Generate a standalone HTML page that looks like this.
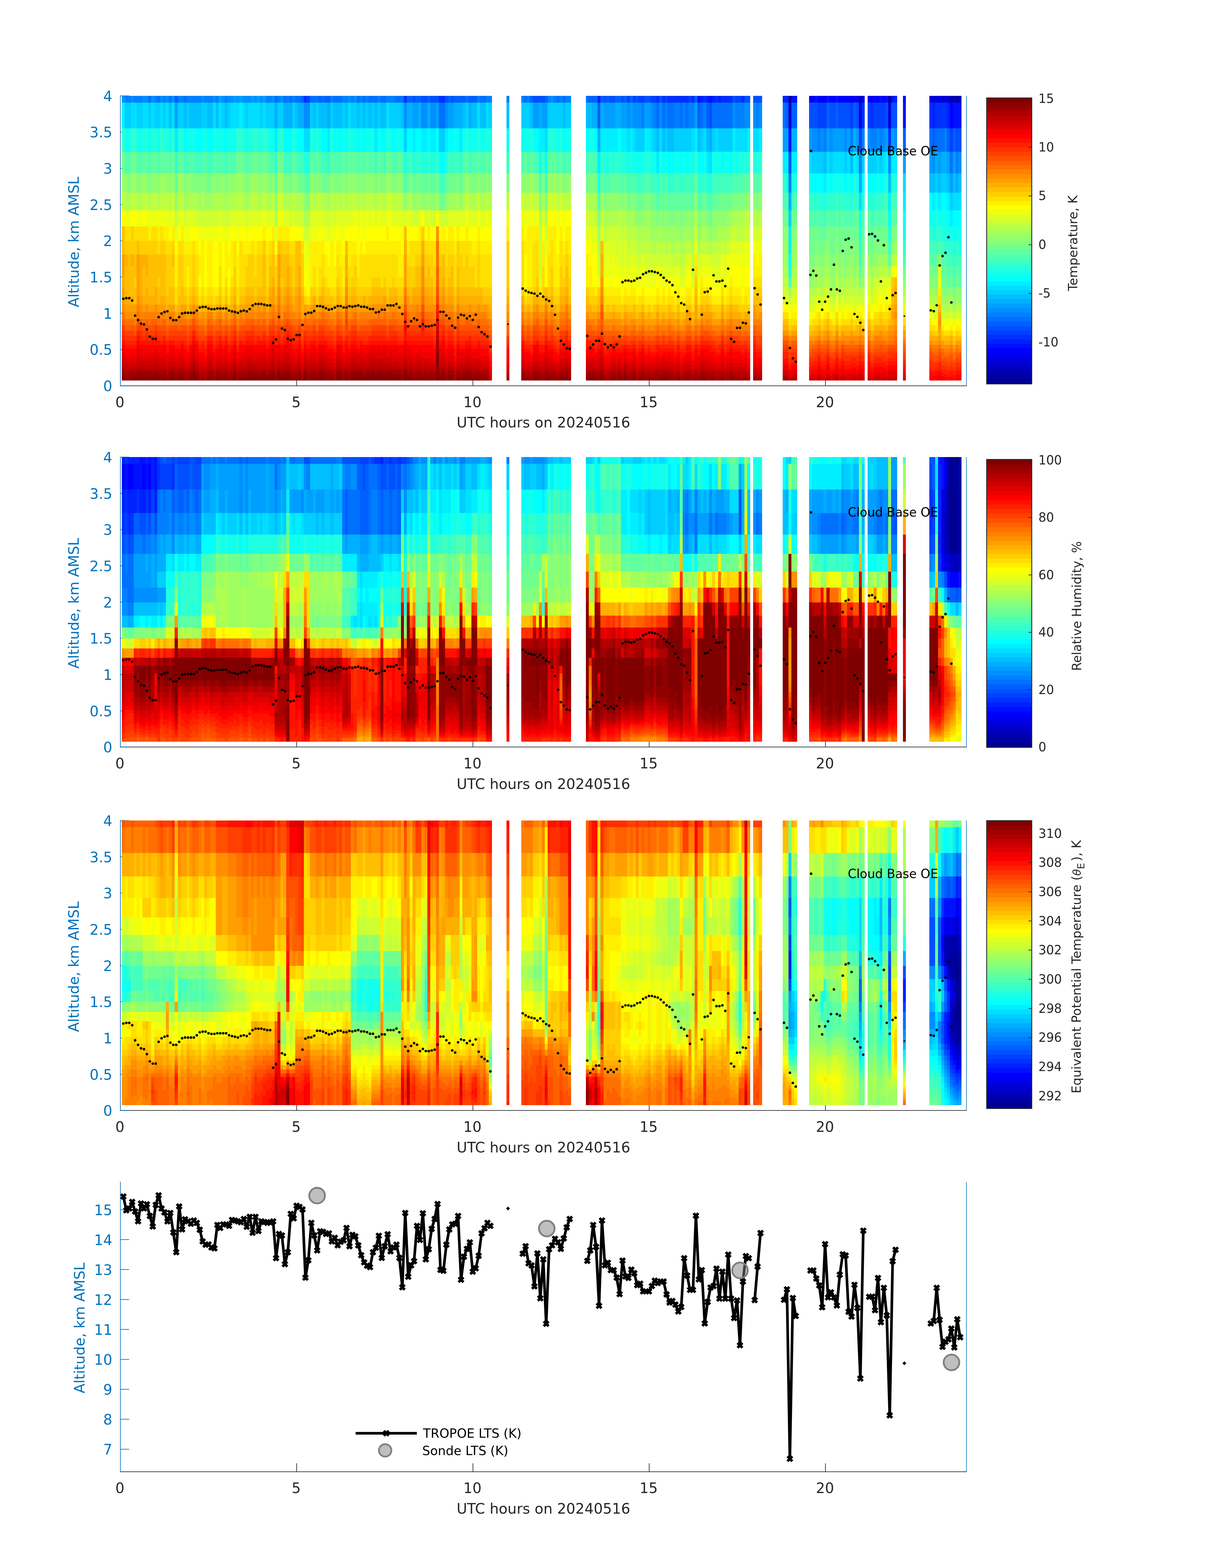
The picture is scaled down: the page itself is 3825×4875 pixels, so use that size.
<!DOCTYPE html>
<html lang="en"><head><meta charset="utf-8"><title>TROPoe 20240516</title>
<style>html,body{margin:0;padding:0;background:#fff}
svg{display:block}
text{font-family:'DejaVu Sans','Liberation Sans',sans-serif}
.j0{stroke:#00008f}
.j1{stroke:#00009f}
.j2{stroke:#0000af}
.j3{stroke:#0000bf}
.j4{stroke:#0000cf}
.j5{stroke:#0000df}
.j6{stroke:#0000ef}
.j7{stroke:#0000ff}
.j8{stroke:#0010ff}
.j9{stroke:#0020ff}
.j10{stroke:#0030ff}
.j11{stroke:#0040ff}
.j12{stroke:#0050ff}
.j13{stroke:#0060ff}
.j14{stroke:#0070ff}
.j15{stroke:#0080ff}
.j16{stroke:#008fff}
.j17{stroke:#009fff}
.j18{stroke:#00afff}
.j19{stroke:#00bfff}
.j20{stroke:#00cfff}
.j21{stroke:#00dfff}
.j22{stroke:#00efff}
.j23{stroke:#00ffff}
.j24{stroke:#10ffef}
.j25{stroke:#20ffdf}
.j26{stroke:#30ffcf}
.j27{stroke:#40ffbf}
.j28{stroke:#50ffaf}
.j29{stroke:#60ff9f}
.j30{stroke:#70ff8f}
.j31{stroke:#80ff80}
.j32{stroke:#8fff70}
.j33{stroke:#9fff60}
.j34{stroke:#afff50}
.j35{stroke:#bfff40}
.j36{stroke:#cfff30}
.j37{stroke:#dfff20}
.j38{stroke:#efff10}
.j39{stroke:#ffff00}
.j40{stroke:#ffef00}
.j41{stroke:#ffdf00}
.j42{stroke:#ffcf00}
.j43{stroke:#ffbf00}
.j44{stroke:#ffaf00}
.j45{stroke:#ff9f00}
.j46{stroke:#ff8f00}
.j47{stroke:#ff8000}
.j48{stroke:#ff7000}
.j49{stroke:#ff6000}
.j50{stroke:#ff5000}
.j51{stroke:#ff4000}
.j52{stroke:#ff3000}
.j53{stroke:#ff2000}
.j54{stroke:#ff1000}
.j55{stroke:#ff0000}
.j56{stroke:#ef0000}
.j57{stroke:#df0000}
.j58{stroke:#cf0000}
.j59{stroke:#bf0000}
.j60{stroke:#af0000}
.j61{stroke:#9f0000}
.j62{stroke:#8f0000}
.j63{stroke:#800000}</style></head><body>
<svg xmlns="http://www.w3.org/2000/svg" width="3825" height="4875" viewBox="0 0 3825 4875">
<rect width="3825" height="4875" fill="#fff"/>
<g id="panel1">
<g stroke="#262626" stroke-width="2" fill="none">
<path d="M373.4 1199.4H3006.4"/>
<path d="M922.52 1199.4v-26.3M1470.65 1199.4v-26.3M2018.78 1199.4v-26.3M2566.9 1199.4v-26.3"/>
</g>
<g stroke="#0072bd" stroke-width="2" fill="none">
<path d="M374.4 297.6V1200.4"/>
<path stroke-width="1.8" d="M3005.4 298.1V1200.4"/>
<path d="M374.4 1199.4h27.3M374.4 1086.74h27.3M374.4 974.08h27.3M374.4 861.41h27.3M374.4 748.75h27.3M374.4 636.09h27.3M374.4 523.43h27.3M374.4 410.76h27.3M374.4 298.1h27.3"/>
</g>
<g transform="translate(379.15,0) scale(9.1305,1)" shape-rendering="crispEdges" fill="none" stroke-width="1">
<g transform="translate(0,1181.4) scale(1,3.2)">
<path class="j55" d="M281 0h1m1 0h1"/>
<path class="j56" d="M275 0h3m1 0h2m1 0h1m1 0h2"/>
<path class="j57" d="M278 0h1"/>
<path class="j58" d="M234 0h3m1 0h2m1 0h1m2 0h1m1 0h2m7 0h1m2 0h1m1 0h1"/>
<path class="j59" d="M125 0h1m101 0h1m14 0h1m2 0h1m2 0h5m3 0h2m1 0h1m2 0h2m2 0h1"/>
<path class="j60" d="M228 0h2m7 0h1m2 0h1m2 0h1m10 0h1m6 0h1"/>
<path class="j61" d="M113 0h1m17 0h1m33 0h1m9 0h1m14 0h1m11 0h1m10 0h1m2 0h2m8 0h1"/>
<path class="j62" d="M15 0h1m2 0h1m2 0h2m3 0h3m2 0h1m4 0h1m2 0h1m21 0h1m1 0h1m8 0h1m26 0h1m6 0h1m3 0h1m11 0h2m13 0h3m3 0h1m3 0h2m15 0h1m1 0h1m1 0h1m1 0h1m1 0h1m5 0h1m1 0h2m5 0h2m2 0h1m1 0h2m1 0h1m2 0h3m1 0h1m1 0h2m1 0h5m2 0h1m9 0h1"/>
<path class="j63" d="M0 0h15m1 0h2m1 0h2m2 0h3m3 0h2m1 0h4m1 0h2m1 0h21m1 0h1m1 0h8m1 0h26m1 0h6m1 0h3m1 0h2m1 0h8m2 0h1m11 0h1m3 0h3m1 0h3m2 0h4m5 0h6m3 0h1m1 0h1m1 0h1m1 0h2m1 0h2m1 0h1m2 0h5m2 0h1m2 0h1m2 0h1m1 0h2m5 0h1m2 0h1"/>
</g>
<g transform="translate(0,1178.61) scale(1,2.366)">
<path class="j55" d="M276 0h1m3 0h4"/>
<path class="j56" d="M275 0h1m1 0h3m4 0h2"/>
<path class="j57" d="M241 0h1m13 0h1"/>
<path class="j58" d="M234 0h3m1 0h2m2 0h1m1 0h1m1 0h3m1 0h1m7 0h1m1 0h1m5 0h1"/>
<path class="j59" d="M125 0h1m101 0h1m1 0h1m7 0h1m2 0h1m4 0h1m3 0h1m1 0h2m1 0h1m1 0h2m1 0h1m1 0h3"/>
<path class="j60" d="M216 0h1m11 0h1m14 0h1"/>
<path class="j61" d="M26 0h1m1 0h1m32 0h1m10 0h1m40 0h1m17 0h1m7 0h1m24 0h2m9 0h1m14 0h1m11 0h2m1 0h2m2 0h2m2 0h1m3 0h1m7 0h2"/>
<path class="j62" d="M1 0h2m10 0h1m1 0h1m2 0h1m2 0h2m4 0h1m3 0h1m2 0h1m1 0h2m1 0h1m12 0h1m5 0h2m3 0h1m6 0h1m4 0h1m1 0h1m17 0h1m3 0h1m2 0h1m1 0h1m1 0h1m3 0h1m8 0h1m2 0h3m12 0h2m3 0h2m2 0h3m9 0h1m2 0h2m3 0h1m1 0h1m1 0h1m1 0h2m2 0h1m1 0h6m2 0h3m2 0h6m2 0h3m2 0h1m2 0h2m2 0h2m2 0h1"/>
<path class="j63" d="M0 0h1m2 0h10m1 0h1m1 0h2m1 0h2m2 0h3m3 0h2m1 0h2m1 0h1m2 0h1m1 0h12m1 0h5m2 0h1m1 0h1m1 0h6m1 0h1m1 0h2m1 0h1m1 0h17m1 0h3m1 0h2m1 0h1m1 0h1m1 0h3m1 0h2m1 0h5m1 0h2m14 0h1m3 0h2m2 0h2m3 0h4m6 0h2m2 0h1m3 0h1m1 0h1m1 0h1m2 0h1m2 0h1m6 0h2m3 0h1m7 0h2"/>
</g>
<g transform="translate(0,1176.13) scale(1,2.603)">
<path class="j55" d="M276 0h1m2 0h6"/>
<path class="j56" d="M275 0h1m1 0h2m6 0h1"/>
<path class="j57" d="M234 0h2m3 0h1m1 0h1m13 0h1"/>
<path class="j58" d="M125 0h1m101 0h1m8 0h1m1 0h1m3 0h1m1 0h7m1 0h1m3 0h5m2 0h1m2 0h1"/>
<path class="j59" d="M228 0h2m7 0h1m2 0h1m2 0h1m7 0h1m2 0h1m6 0h2"/>
<path class="j60" d="M131 0h1m81 0h1m2 0h1m9 0h1"/>
<path class="j61" d="M22 0h1m3 0h1m1 0h1m2 0h1m7 0h1m21 0h1m10 0h1m37 0h1m2 0h1m24 0h2m3 0h1m4 0h1m15 0h2m4 0h1m1 0h1m2 0h1m2 0h1m1 0h1m7 0h1m1 0h2m2 0h1m1 0h1m2 0h2m1 0h2m1 0h2m1 0h5m2 0h1m1 0h1m7 0h1"/>
<path class="j62" d="M1 0h4m2 0h1m1 0h2m2 0h1m1 0h1m2 0h2m1 0h1m1 0h1m1 0h1m1 0h1m1 0h2m2 0h5m2 0h3m3 0h1m2 0h1m2 0h1m1 0h1m2 0h3m3 0h1m2 0h1m2 0h3m3 0h1m1 0h1m4 0h1m12 0h1m1 0h1m1 0h2m1 0h5m1 0h1m6 0h2m2 0h6m12 0h1m3 0h2m2 0h3m1 0h2m1 0h1m5 0h1m2 0h2m3 0h3m4 0h1m2 0h2m1 0h1m1 0h3m1 0h3m1 0h1m2 0h2m1 0h1m2 0h1m2 0h1m2 0h1m2 0h1"/>
<path class="j63" d="M0 0h1m4 0h2m1 0h1m2 0h2m1 0h1m1 0h2m2 0h1m3 0h1m7 0h1m5 0h1m4 0h3m1 0h2m1 0h2m1 0h1m1 0h2m3 0h1m1 0h1m1 0h2m1 0h2m4 0h2m1 0h1m1 0h4m1 0h12m1 0h1m1 0h1m2 0h1m5 0h1m1 0h1m1 0h2m1 0h1m2 0h2m17 0h1m3 0h1m3 0h1m6 0h1m7 0h2m2 0h1m5 0h1m1 0h1m2 0h1m9 0h1m12 0h1"/>
</g>
<g transform="translate(0,1173.4) scale(1,2.863)">
<path class="j54" d="M281 0h1m1 0h1"/>
<path class="j55" d="M275 0h3m1 0h2m1 0h1m1 0h2"/>
<path class="j56" d="M278 0h1"/>
<path class="j57" d="M234 0h3m1 0h2m1 0h1m2 0h1m1 0h2m2 0h1m4 0h1m2 0h1m1 0h1"/>
<path class="j58" d="M125 0h1m101 0h1m12 0h1m1 0h1m2 0h1m2 0h2m1 0h2m1 0h1m1 0h2m1 0h1m1 0h3m2 0h1"/>
<path class="j59" d="M228 0h2m7 0h1m5 0h1"/>
<path class="j60" d="M26 0h1m86 0h1m17 0h1m32 0h2m9 0h1m14 0h1m11 0h1m2 0h1m3 0h1m3 0h1m2 0h2m7 0h2"/>
<path class="j61" d="M2 0h1m12 0h1m2 0h1m2 0h2m4 0h2m2 0h1m4 0h1m2 0h1m19 0h1m1 0h1m1 0h1m8 0h1m2 0h1m23 0h1m6 0h1m3 0h1m11 0h2m13 0h3m3 0h1m3 0h2m17 0h1m1 0h1m1 0h1m1 0h2m2 0h1m1 0h6m3 0h2m2 0h1m1 0h4m2 0h3m1 0h1m2 0h1m1 0h1m1 0h3m2 0h1"/>
<path class="j62" d="M1 0h1m1 0h2m1 0h5m1 0h3m1 0h1m2 0h2m2 0h1m1 0h1m3 0h2m1 0h4m1 0h1m2 0h3m1 0h4m1 0h2m1 0h1m1 0h1m2 0h2m1 0h1m3 0h3m1 0h4m4 0h2m4 0h1m3 0h1m5 0h1m1 0h2m1 0h1m2 0h6m2 0h1m3 0h1m2 0h2m2 0h3m2 0h1m11 0h1m3 0h3m1 0h3m2 0h4m5 0h5m4 0h1m1 0h1m1 0h1m2 0h1m2 0h1m6 0h3m2 0h1m2 0h1m4 0h2m5 0h1m2 0h1"/>
<path class="j63" d="M0 0h1m4 0h1m5 0h1m5 0h1m6 0h1m13 0h1m4 0h1m4 0h1m2 0h1m1 0h1m1 0h2m5 0h1m4 0h1m5 0h2m3 0h4m1 0h3m1 0h5m1 0h1m2 0h1m1 0h1m8 0h1m1 0h1m1 0h1m2 0h1m2 0h2m44 0h1"/>
</g>
<g transform="translate(0,1170.39) scale(1,3.149)">
<path class="j54" d="M280 0h4"/>
<path class="j55" d="M275 0h3m1 0h1m4 0h2"/>
<path class="j56" d="M239 0h1m1 0h1m13 0h1m22 0h1"/>
<path class="j57" d="M227 0h1m6 0h3m1 0h1m3 0h1m1 0h1m1 0h3m1 0h1m1 0h1m3 0h1m1 0h3m5 0h1"/>
<path class="j58" d="M125 0h1m102 0h2m7 0h1m2 0h1m2 0h1m1 0h1m3 0h1m1 0h1m2 0h1m2 0h1m3 0h3"/>
<path class="j59" d="M213 0h1m2 0h1m9 0h1"/>
<path class="j60" d="M26 0h1m1 0h1m32 0h1m10 0h1m40 0h1m17 0h1m7 0h1m24 0h2m9 0h1m2 0h1m1 0h1m7 0h1m1 0h1m3 0h1m7 0h2m1 0h2m2 0h4m4 0h1m7 0h1"/>
<path class="j61" d="M1 0h2m10 0h1m1 0h1m2 0h1m2 0h2m4 0h1m3 0h1m2 0h1m1 0h2m1 0h1m1 0h1m10 0h1m5 0h2m3 0h1m2 0h1m3 0h1m4 0h1m1 0h1m17 0h1m3 0h1m2 0h1m1 0h1m1 0h1m3 0h1m4 0h1m3 0h2m1 0h3m12 0h2m3 0h2m2 0h3m3 0h1m5 0h1m2 0h2m3 0h3m1 0h1m1 0h2m2 0h1m2 0h1m1 0h3m2 0h2m3 0h3m1 0h2m1 0h4m2 0h1m2 0h2m6 0h1"/>
<path class="j62" d="M0 0h1m2 0h10m1 0h1m1 0h2m1 0h2m2 0h1m1 0h1m3 0h2m1 0h2m1 0h1m2 0h1m1 0h1m1 0h6m1 0h2m3 0h4m2 0h1m3 0h2m2 0h2m1 0h1m2 0h1m1 0h1m2 0h2m1 0h2m2 0h1m2 0h1m2 0h3m2 0h2m1 0h2m1 0h1m1 0h1m1 0h3m1 0h2m1 0h1m1 0h1m1 0h1m2 0h1m14 0h1m3 0h2m2 0h2m3 0h3m7 0h2m2 0h1m5 0h1m1 0h1m2 0h1m2 0h1m6 0h2m3 0h1m7 0h1"/>
<path class="j63" d="M24 0h1m23 0h1m2 0h1m1 0h1m8 0h1m4 0h1m5 0h1m4 0h1m2 0h1m2 0h2m1 0h2m1 0h2m4 0h1m20 0h1"/>
</g>
<g transform="translate(0,1167.08) scale(1,3.464)">
<path class="j54" d="M276 0h1m2 0h5"/>
<path class="j55" d="M275 0h1m1 0h2m5 0h2"/>
<path class="j56" d="M234 0h3m1 0h2m1 0h1m2 0h1m1 0h1m8 0h1m4 0h1"/>
<path class="j57" d="M227 0h1m14 0h1m2 0h1m1 0h6m3 0h4m1 0h3m2 0h1"/>
<path class="j58" d="M125 0h1m102 0h2m7 0h1m2 0h1m2 0h1m10 0h1"/>
<path class="j59" d="M131 0h1m58 0h1m11 0h1m10 0h1m2 0h2m7 0h2"/>
<path class="j60" d="M15 0h1m6 0h1m3 0h1m1 0h1m2 0h1m4 0h1m2 0h1m21 0h1m10 0h1m37 0h1m2 0h1m23 0h3m3 0h1m4 0h1m15 0h3m1 0h1m1 0h1m1 0h1m2 0h1m2 0h1m1 0h2m5 0h2m2 0h1m2 0h1m1 0h1m2 0h3m1 0h1m1 0h2m1 0h5m2 0h1"/>
<path class="j61" d="M1 0h4m2 0h1m1 0h2m2 0h1m4 0h2m1 0h1m1 0h1m1 0h1m1 0h1m1 0h2m1 0h4m1 0h1m2 0h3m3 0h2m1 0h1m2 0h1m1 0h1m2 0h3m3 0h1m2 0h1m2 0h3m3 0h1m1 0h1m4 0h1m12 0h1m1 0h1m1 0h2m1 0h5m1 0h1m6 0h2m2 0h6m16 0h2m2 0h3m1 0h2m1 0h1m5 0h1m1 0h3m4 0h1m1 0h1m1 0h1m1 0h2m1 0h2m1 0h1m2 0h5m2 0h1m2 0h2m1 0h1m1 0h2m5 0h1m2 0h1"/>
<path class="j62" d="M0 0h1m4 0h2m1 0h1m2 0h2m1 0h1m1 0h2m2 0h1m3 0h1m13 0h1m4 0h3m2 0h1m1 0h2m3 0h2m3 0h1m1 0h1m1 0h2m1 0h2m5 0h1m1 0h1m1 0h4m1 0h2m1 0h9m3 0h1m2 0h1m5 0h1m1 0h1m1 0h2m1 0h1m2 0h2m17 0h1m3 0h1m3 0h1m6 0h1m7 0h1m3 0h1"/>
<path class="j63" d="M53 0h1m19 0h1m11 0h1m10 0h1"/>
</g>
<g transform="translate(0,1163.45) scale(1,3.81)">
<path class="j53" d="M281 0h1m1 0h1"/>
<path class="j54" d="M275 0h3m1 0h2m1 0h1m1 0h2"/>
<path class="j55" d="M241 0h1m13 0h1m22 0h1"/>
<path class="j56" d="M234 0h3m1 0h2m2 0h1m1 0h1m1 0h3m1 0h1m1 0h1m5 0h3m5 0h1"/>
<path class="j57" d="M125 0h1m101 0h3m7 0h1m2 0h1m4 0h1m3 0h1m1 0h1m2 0h1m1 0h2m3 0h3"/>
<path class="j58" d="M216 0h1m9 0h1m16 0h1"/>
<path class="j59" d="M26 0h1m86 0h1m17 0h1m32 0h2m9 0h1m14 0h1m3 0h1m7 0h2m1 0h1m3 0h2m1 0h2m3 0h1m7 0h1"/>
<path class="j60" d="M2 0h1m12 0h1m2 0h1m2 0h2m4 0h2m2 0h1m4 0h1m2 0h1m19 0h1m1 0h1m1 0h1m8 0h1m2 0h1m23 0h1m6 0h1m3 0h1m11 0h2m13 0h3m3 0h1m3 0h2m17 0h1m1 0h1m1 0h1m1 0h2m2 0h1m1 0h6m2 0h3m2 0h1m1 0h1m1 0h2m2 0h3m4 0h1m1 0h1m2 0h1m3 0h1"/>
<path class="j61" d="M1 0h1m1 0h2m1 0h5m1 0h3m1 0h1m2 0h2m2 0h1m1 0h1m3 0h2m1 0h4m1 0h1m2 0h3m1 0h4m1 0h2m1 0h1m1 0h1m2 0h2m1 0h1m3 0h3m2 0h3m4 0h2m4 0h2m2 0h1m5 0h1m1 0h2m1 0h1m2 0h6m2 0h1m2 0h2m2 0h2m1 0h4m2 0h1m11 0h1m3 0h3m1 0h3m2 0h4m5 0h6m3 0h1m1 0h1m1 0h1m2 0h1m2 0h1m6 0h2m3 0h1m2 0h1m4 0h2m5 0h1m2 0h1"/>
<path class="j62" d="M0 0h1m4 0h1m5 0h1m5 0h1m6 0h1m13 0h1m4 0h1m4 0h1m2 0h1m1 0h1m1 0h2m5 0h1m4 0h2m4 0h2m3 0h4m2 0h2m1 0h5m1 0h1m2 0h1m1 0h1m8 0h1m1 0h1m4 0h1m2 0h1"/>
</g>
<g transform="translate(0,1159.45) scale(1,4.191)">
<path class="j53" d="M280 0h2m1 0h1"/>
<path class="j54" d="M275 0h3m1 0h1m2 0h1m1 0h2"/>
<path class="j55" d="M234 0h2m3 0h1m1 0h1m2 0h1m10 0h1m22 0h1"/>
<path class="j56" d="M227 0h1m8 0h1m1 0h1m3 0h1m2 0h6m1 0h1m3 0h5m5 0h1"/>
<path class="j57" d="M125 0h1m102 0h2m7 0h1m2 0h1m2 0h1m7 0h1m2 0h1m6 0h3"/>
<path class="j58" d="M213 0h1m2 0h1m8 0h2"/>
<path class="j59" d="M26 0h1m1 0h1m32 0h1m10 0h1m40 0h1m17 0h1m7 0h1m8 0h1m15 0h2m4 0h1m1 0h1m2 0h1m2 0h1m1 0h1m7 0h1m1 0h2m2 0h1m1 0h1m3 0h1m1 0h2m1 0h2m1 0h5m2 0h1m1 0h1"/>
<path class="j60" d="M1 0h2m1 0h1m8 0h1m1 0h1m2 0h1m2 0h2m4 0h1m3 0h1m2 0h1m1 0h2m1 0h1m1 0h1m7 0h1m2 0h1m5 0h2m3 0h1m2 0h1m3 0h2m3 0h1m1 0h1m17 0h1m3 0h1m2 0h1m1 0h1m1 0h1m3 0h1m4 0h1m3 0h2m1 0h3m12 0h2m3 0h2m1 0h3m2 0h1m1 0h1m5 0h1m2 0h2m3 0h3m4 0h1m2 0h2m1 0h1m1 0h7m1 0h1m2 0h2m1 0h1m2 0h2m1 0h1m2 0h1m2 0h1"/>
<path class="j61" d="M0 0h1m2 0h1m1 0h8m1 0h1m1 0h2m1 0h2m2 0h1m1 0h1m3 0h2m1 0h2m1 0h1m2 0h1m1 0h1m1 0h7m1 0h1m3 0h4m2 0h1m3 0h2m2 0h2m4 0h1m1 0h1m2 0h2m1 0h3m1 0h1m1 0h3m1 0h3m2 0h2m1 0h2m1 0h1m1 0h1m2 0h2m1 0h2m1 0h1m1 0h3m2 0h1m14 0h1m3 0h2m2 0h1m4 0h1m1 0h1m7 0h2m2 0h1m5 0h1m1 0h1m2 0h1m22 0h1"/>
<path class="j62" d="M24 0h1m26 0h1m1 0h1m8 0h1m4 0h1m5 0h1m4 0h1m2 0h1m3 0h1m1 0h1m3 0h1m4 0h1m10 0h1"/>
</g>
<g transform="translate(0,1155.05) scale(1,4.61)">
<path class="j53" d="M276 0h1m2 0h5"/>
<path class="j54" d="M275 0h1m1 0h2m5 0h2"/>
<path class="j55" d="M234 0h3m1 0h2m1 0h2m1 0h1m1 0h2m2 0h1m4 0h1m2 0h1m1 0h1"/>
<path class="j56" d="M227 0h1m12 0h1m4 0h1m2 0h2m1 0h2m1 0h1m1 0h2m1 0h1m1 0h3m2 0h1"/>
<path class="j57" d="M125 0h1m102 0h2m7 0h1m5 0h1"/>
<path class="j58" d="M131 0h1m43 0h1m14 0h1m11 0h1m2 0h1m3 0h1m3 0h1m2 0h2m7 0h2"/>
<path class="j59" d="M15 0h1m6 0h1m3 0h1m1 0h1m2 0h1m4 0h1m2 0h1m21 0h1m10 0h1m37 0h1m2 0h1m23 0h3m3 0h1m4 0h1m15 0h3m1 0h1m1 0h1m1 0h2m2 0h1m1 0h4m1 0h1m3 0h2m2 0h1m1 0h2m1 0h1m2 0h3m1 0h1m2 0h1m1 0h1m1 0h3m2 0h1"/>
<path class="j60" d="M1 0h4m2 0h1m1 0h2m2 0h1m4 0h2m1 0h1m1 0h1m1 0h1m1 0h1m1 0h2m1 0h4m1 0h1m2 0h3m2 0h3m1 0h1m2 0h1m1 0h1m2 0h3m3 0h2m1 0h1m2 0h3m3 0h1m1 0h1m4 0h1m12 0h1m1 0h1m1 0h2m1 0h5m1 0h1m6 0h2m2 0h6m16 0h2m2 0h3m1 0h2m1 0h1m5 0h5m4 0h1m1 0h1m1 0h1m2 0h1m2 0h1m4 0h1m1 0h3m2 0h1m2 0h1m2 0h1m1 0h2m5 0h1m2 0h1"/>
<path class="j61" d="M0 0h1m4 0h2m1 0h1m2 0h2m1 0h1m1 0h2m2 0h1m3 0h1m13 0h1m4 0h2m3 0h1m1 0h2m3 0h2m3 0h1m1 0h1m2 0h1m1 0h2m4 0h2m1 0h1m1 0h4m1 0h12m3 0h1m2 0h1m7 0h1m1 0h2m1 0h1m2 0h2m17 0h1m3 0h1m3 0h1m6 0h1m11 0h1"/>
<path class="j62" d="M53 0h1m42 0h1"/>
<path class="j63" d="M107 0h1"/>
</g>
<g transform="translate(0,1150.2) scale(1,5.072)">
<path class="j52" d="M281 0h1m1 0h1"/>
<path class="j53" d="M275 0h3m1 0h2m1 0h1m1 0h2"/>
<path class="j54" d="M234 0h1m6 0h1m13 0h1m22 0h1"/>
<path class="j55" d="M227 0h1m7 0h2m1 0h2m2 0h1m1 0h1m1 0h5m1 0h1m3 0h5m5 0h1"/>
<path class="j56" d="M125 0h1m102 0h2m7 0h1m2 0h1m2 0h1m1 0h1m5 0h1m2 0h1m6 0h3"/>
<path class="j57" d="M213 0h1m2 0h1m8 0h2"/>
<path class="j58" d="M26 0h1m1 0h1m32 0h1m10 0h1m40 0h1m17 0h1m7 0h1m8 0h1m15 0h2m4 0h1m1 0h1m2 0h1m2 0h1m1 0h1m7 0h1m1 0h2m2 0h1m1 0h1m5 0h2m1 0h2m1 0h5m4 0h1"/>
<path class="j59" d="M1 0h2m1 0h1m10 0h1m2 0h1m2 0h2m4 0h1m3 0h1m2 0h1m1 0h2m1 0h1m9 0h1m2 0h1m5 0h2m3 0h1m2 0h1m8 0h1m1 0h1m17 0h1m3 0h1m2 0h1m1 0h1m1 0h1m3 0h1m4 0h1m3 0h1m2 0h3m12 0h2m3 0h2m2 0h2m4 0h1m5 0h1m2 0h2m3 0h3m4 0h1m2 0h2m1 0h1m1 0h3m1 0h3m1 0h1m2 0h2m1 0h1m2 0h4m2 0h1m2 0h1m7 0h1"/>
<path class="j60" d="M0 0h1m2 0h1m1 0h10m1 0h2m1 0h2m2 0h1m1 0h1m3 0h2m1 0h2m1 0h1m2 0h1m1 0h8m2 0h1m3 0h2m1 0h1m2 0h1m3 0h2m2 0h4m2 0h1m1 0h1m2 0h2m1 0h3m1 0h1m2 0h1m2 0h3m2 0h2m1 0h2m1 0h1m1 0h1m2 0h2m1 0h2m1 0h1m1 0h3m1 0h2m14 0h1m3 0h2m2 0h2m3 0h3m7 0h2m2 0h1m5 0h1m1 0h1m2 0h1m9 0h1m12 0h1"/>
<path class="j61" d="M24 0h1m23 0h1m2 0h1m1 0h1m2 0h1m5 0h1m4 0h1m5 0h1m4 0h1m2 0h1m3 0h1m1 0h2m1 0h2m4 0h1"/>
<path class="j62" d="M107 0h1"/>
</g>
<g transform="translate(0,1144.88) scale(1,5.579)">
<path class="j52" d="M276 0h1m2 0h5"/>
<path class="j53" d="M275 0h1m1 0h2m5 0h2"/>
<path class="j54" d="M227 0h1m6 0h3m1 0h2m1 0h2m1 0h1m1 0h2m2 0h1m4 0h1m4 0h1m5 0h1"/>
<path class="j55" d="M228 0h2m15 0h1m2 0h2m1 0h2m3 0h4m1 0h3"/>
<path class="j56" d="M125 0h1m100 0h1m10 0h1m2 0h1m2 0h1m10 0h1"/>
<path class="j57" d="M113 0h1m17 0h1m32 0h1m10 0h1m14 0h1m3 0h1m7 0h2m1 0h1m7 0h1m2 0h2m7 0h1"/>
<path class="j58" d="M15 0h1m6 0h1m3 0h3m2 0h1m4 0h1m2 0h1m21 0h1m10 0h1m37 0h1m11 0h2m13 0h3m3 0h1m3 0h2m16 0h2m1 0h1m1 0h1m1 0h2m2 0h1m1 0h4m1 0h1m3 0h2m2 0h1m1 0h1m1 0h2m2 0h3m4 0h1m1 0h5m2 0h1"/>
<path class="j59" d="M1 0h4m2 0h4m1 0h3m1 0h1m1 0h4m1 0h1m1 0h1m3 0h2m1 0h4m1 0h1m2 0h3m2 0h3m1 0h2m1 0h1m1 0h1m2 0h3m3 0h2m1 0h1m2 0h3m3 0h3m4 0h1m11 0h2m1 0h1m1 0h8m1 0h1m6 0h2m2 0h3m2 0h1m11 0h1m4 0h2m2 0h2m2 0h2m1 0h1m5 0h5m4 0h1m1 0h1m1 0h1m2 0h1m2 0h1m4 0h1m1 0h3m2 0h1m2 0h1m4 0h2m5 0h1m2 0h1"/>
<path class="j60" d="M0 0h1m4 0h2m4 0h1m5 0h1m6 0h1m13 0h1m4 0h2m3 0h1m2 0h1m1 0h1m1 0h2m3 0h1m1 0h1m2 0h1m1 0h2m4 0h2m3 0h4m1 0h11m2 0h1m1 0h1m10 0h1m1 0h2m1 0h1m2 0h2m21 0h1m3 0h1m6 0h1m11 0h1"/>
<path class="j62" d="M107 0h1"/>
</g>
<g transform="translate(0,1139.02) scale(1,6.137)">
<path class="j51" d="M281 0h1m1 0h1"/>
<path class="j52" d="M275 0h3m1 0h2m1 0h1m1 0h2"/>
<path class="j53" d="M234 0h1m6 0h1m13 0h1m22 0h1"/>
<path class="j54" d="M227 0h1m7 0h2m1 0h2m2 0h1m1 0h1m1 0h5m1 0h1m3 0h5m5 0h1"/>
<path class="j55" d="M125 0h1m102 0h2m7 0h1m2 0h1m2 0h1m1 0h1m5 0h1m2 0h1m6 0h3"/>
<path class="j56" d="M213 0h1m2 0h1m8 0h2"/>
<path class="j57" d="M22 0h1m3 0h1m1 0h1m2 0h1m29 0h1m10 0h1m40 0h1m17 0h1m5 0h1m1 0h1m8 0h1m15 0h2m4 0h1m1 0h1m2 0h1m2 0h1m1 0h2m6 0h1m1 0h2m2 0h1m1 0h1m4 0h3m1 0h2m1 0h5m4 0h1"/>
<path class="j58" d="M1 0h2m1 0h1m8 0h1m1 0h1m2 0h2m1 0h1m5 0h1m6 0h1m1 0h2m1 0h1m1 0h1m7 0h1m2 0h1m5 0h2m3 0h1m2 0h1m3 0h2m3 0h1m1 0h1m17 0h1m3 0h1m2 0h1m1 0h1m1 0h1m3 0h1m4 0h1m3 0h2m1 0h3m13 0h1m3 0h2m1 0h3m2 0h1m1 0h1m5 0h1m1 0h3m3 0h4m3 0h2m1 0h2m1 0h1m2 0h6m1 0h1m2 0h2m1 0h1m2 0h3m3 0h1m2 0h1m7 0h1"/>
<path class="j59" d="M0 0h1m2 0h1m1 0h8m1 0h1m1 0h2m2 0h1m2 0h1m1 0h1m3 0h2m1 0h2m1 0h1m2 0h1m1 0h1m1 0h7m1 0h1m3 0h2m1 0h1m2 0h1m1 0h1m1 0h2m2 0h2m4 0h1m1 0h1m2 0h6m1 0h1m1 0h3m1 0h3m2 0h2m1 0h2m1 0h1m1 0h1m2 0h2m1 0h2m1 0h1m1 0h3m2 0h1m14 0h1m3 0h2m2 0h1m4 0h1m1 0h1m7 0h1m3 0h1m7 0h1m25 0h1"/>
<path class="j60" d="M24 0h1m26 0h1m1 0h1m2 0h1m10 0h1m5 0h1m4 0h1m6 0h1m1 0h1m3 0h1m4 0h1"/>
<path class="j62" d="M107 0h1"/>
</g>
<g transform="translate(0,1132.58) scale(1,6.75)">
<path class="j51" d="M279 0h5"/>
<path class="j52" d="M275 0h3m6 0h2"/>
<path class="j53" d="M227 0h1m6 0h3m1 0h2m1 0h2m1 0h1m1 0h2m2 0h1m4 0h1m4 0h1m5 0h1m11 0h1"/>
<path class="j54" d="M228 0h2m15 0h1m2 0h2m1 0h2m3 0h4m1 0h3"/>
<path class="j55" d="M125 0h1m99 0h2m10 0h1m2 0h1m2 0h1m10 0h1"/>
<path class="j56" d="M28 0h1m84 0h1m17 0h1m32 0h2m9 0h1m2 0h1m9 0h1m1 0h1m3 0h1m7 0h2m1 0h1m7 0h1m2 0h2"/>
<path class="j57" d="M15 0h1m5 0h2m3 0h2m3 0h1m2 0h1m1 0h1m2 0h1m21 0h1m10 0h1m2 0h1m30 0h1m3 0h1m11 0h2m13 0h3m2 0h2m3 0h2m12 0h1m4 0h1m1 0h1m1 0h1m1 0h2m2 0h1m2 0h5m1 0h3m3 0h1m1 0h1m1 0h2m2 0h3m4 0h1m1 0h5m2 0h1"/>
<path class="j58" d="M1 0h4m1 0h5m1 0h3m1 0h5m2 0h1m1 0h1m3 0h2m1 0h2m1 0h1m1 0h1m2 0h3m2 0h3m1 0h2m1 0h1m1 0h1m2 0h4m2 0h2m1 0h1m2 0h3m4 0h2m2 0h1m1 0h2m8 0h1m1 0h2m1 0h1m1 0h7m2 0h1m2 0h2m2 0h2m1 0h4m2 0h1m11 0h1m3 0h2m3 0h2m2 0h2m1 0h1m5 0h3m1 0h1m4 0h1m1 0h1m1 0h1m2 0h1m2 0h1m6 0h1m4 0h1m2 0h1m4 0h2m5 0h1m2 0h1"/>
<path class="j59" d="M0 0h1m4 0h1m5 0h1m12 0h1m13 0h1m4 0h2m3 0h1m2 0h1m1 0h1m1 0h2m5 0h1m2 0h1m1 0h2m4 0h2m3 0h2m1 0h1m2 0h8m1 0h1m2 0h1m1 0h1m10 0h1m4 0h1m2 0h1m26 0h1m6 0h1m11 0h1"/>
<path class="j62" d="M107 0h1"/>
</g>
<g transform="translate(0,1125.49) scale(1,7.425)">
<path class="j50" d="M281 0h1m1 0h1"/>
<path class="j51" d="M276 0h2m1 0h2m1 0h1m1 0h2"/>
<path class="j52" d="M234 0h1m6 0h1m13 0h1m19 0h1m2 0h1"/>
<path class="j53" d="M227 0h3m5 0h2m1 0h2m2 0h1m1 0h1m1 0h5m1 0h1m3 0h5m5 0h1"/>
<path class="j54" d="M226 0h1m10 0h1m2 0h1m2 0h1m1 0h1m5 0h1m2 0h1m6 0h3"/>
<path class="j55" d="M125 0h1m64 0h1m22 0h1m2 0h1m8 0h1"/>
<path class="j56" d="M22 0h1m3 0h1m1 0h1m2 0h1m7 0h1m21 0h1m10 0h1m40 0h1m17 0h1m5 0h1m1 0h1m8 0h1m15 0h3m1 0h1m1 0h1m1 0h1m2 0h1m2 0h4m1 0h1m3 0h2m2 0h1m2 0h1m1 0h1m4 0h3m1 0h2m1 0h5m4 0h1"/>
<path class="j57" d="M1 0h4m8 0h1m1 0h1m2 0h2m1 0h1m1 0h1m3 0h1m4 0h1m1 0h1m1 0h2m3 0h1m7 0h1m2 0h1m1 0h1m3 0h2m3 0h1m2 0h1m3 0h2m3 0h1m1 0h1m17 0h1m3 0h1m2 0h1m1 0h3m3 0h1m4 0h2m2 0h2m1 0h3m13 0h1m3 0h2m1 0h3m2 0h1m1 0h1m5 0h5m4 0h1m1 0h1m1 0h1m1 0h2m1 0h2m4 0h1m1 0h3m2 0h1m2 0h2m1 0h1m2 0h3m3 0h1m2 0h1m7 0h1"/>
<path class="j58" d="M0 0h1m4 0h8m1 0h1m1 0h2m2 0h1m4 0h1m3 0h2m2 0h1m1 0h1m2 0h1m1 0h1m1 0h7m1 0h1m4 0h3m2 0h1m1 0h1m1 0h2m2 0h2m4 0h1m1 0h1m1 0h7m1 0h1m1 0h7m2 0h2m1 0h2m1 0h1m4 0h2m1 0h2m1 0h1m2 0h2m2 0h1m14 0h1m3 0h2m2 0h1m4 0h1m1 0h1m11 0h1m33 0h1"/>
<path class="j59" d="M24 0h1m26 0h1m1 0h1m13 0h1m5 0h1m11 0h1m1 0h1m8 0h1"/>
<path class="j63" d="M107 0h1"/>
</g>
<g transform="translate(0,1117.69) scale(1,8.168)">
<path class="j49" d="M283 0h1"/>
<path class="j50" d="M276 0h2m1 0h4m2 0h1"/>
<path class="j51" d="M255 0h1m19 0h1m2 0h1m5 0h1"/>
<path class="j52" d="M227 0h1m6 0h3m1 0h2m1 0h2m1 0h1m1 0h2m2 0h1m1 0h1m6 0h2m5 0h1"/>
<path class="j53" d="M228 0h2m15 0h1m2 0h2m1 0h1m2 0h1m1 0h3m2 0h3"/>
<path class="j54" d="M125 0h1m99 0h2m10 0h1m2 0h1m2 0h1"/>
<path class="j55" d="M28 0h1m84 0h1m17 0h1m7 0h1m8 0h1m15 0h2m9 0h1m2 0h1m1 0h1m7 0h1m1 0h2m2 0h1m7 0h2m1 0h1m5 0h1m1 0h1m2 0h2"/>
<path class="j56" d="M2 0h1m12 0h1m2 0h1m2 0h2m3 0h2m3 0h1m2 0h1m1 0h1m2 0h1m19 0h1m1 0h1m10 0h1m2 0h1m30 0h1m3 0h1m11 0h3m12 0h2m3 0h2m3 0h1m13 0h1m4 0h1m1 0h1m1 0h1m1 0h2m2 0h1m2 0h1m1 0h3m1 0h3m1 0h1m2 0h2m1 0h2m2 0h3m4 0h1m1 0h3m1 0h1m2 0h1"/>
<path class="j57" d="M1 0h1m1 0h2m1 0h5m1 0h3m1 0h2m1 0h2m2 0h1m1 0h1m3 0h2m1 0h2m1 0h1m1 0h1m2 0h3m1 0h4m1 0h2m1 0h1m1 0h1m2 0h2m1 0h1m2 0h4m2 0h3m4 0h2m2 0h1m1 0h2m8 0h4m1 0h9m2 0h1m2 0h2m2 0h7m14 0h1m3 0h2m3 0h2m2 0h2m1 0h1m5 0h3m1 0h1m4 0h1m1 0h1m1 0h1m2 0h1m2 0h1m6 0h1m12 0h2m5 0h1m2 0h1"/>
<path class="j58" d="M0 0h1m4 0h1m5 0h1m12 0h1m13 0h1m4 0h1m4 0h1m2 0h1m1 0h1m1 0h2m5 0h1m4 0h2m4 0h2m3 0h2m1 0h1m2 0h8m4 0h1m12 0h1m4 0h1m29 0h1m6 0h1m11 0h1"/>
<path class="j63" d="M107 0h1"/>
</g>
<g transform="translate(0,1109.12) scale(1,8.985)">
<path class="j48" d="M283 0h1"/>
<path class="j49" d="M279 0h3"/>
<path class="j50" d="M275 0h3m4 0h1m1 0h2"/>
<path class="j51" d="M227 0h1m6 0h2m2 0h1m2 0h2m1 0h1m10 0h1m4 0h1m5 0h1m11 0h1"/>
<path class="j52" d="M228 0h2m6 0h1m2 0h1m5 0h6m1 0h1m3 0h4m1 0h2"/>
<path class="j53" d="M225 0h2m10 0h1m2 0h1m2 0h1m7 0h1m2 0h1m8 0h1"/>
<path class="j54" d="M125 0h1m64 0h1m3 0h1m18 0h1m2 0h2"/>
<path class="j55" d="M22 0h1m3 0h1m1 0h1m2 0h1m4 0h1m2 0h1m21 0h1m10 0h1m40 0h1m17 0h1m5 0h1m1 0h1m7 0h2m15 0h3m1 0h1m1 0h1m1 0h2m1 0h2m1 0h4m1 0h1m1 0h1m1 0h2m2 0h1m4 0h1m4 0h3m1 0h2m1 0h5"/>
<path class="j56" d="M1 0h4m2 0h1m5 0h1m1 0h1m2 0h2m1 0h1m1 0h1m1 0h1m1 0h1m4 0h1m1 0h1m2 0h1m2 0h2m3 0h1m3 0h1m2 0h1m1 0h1m3 0h2m3 0h1m2 0h1m3 0h2m3 0h1m1 0h1m17 0h1m3 0h1m2 0h5m3 0h1m4 0h2m2 0h6m13 0h1m3 0h2m1 0h2m2 0h2m1 0h1m5 0h5m4 0h1m1 0h1m1 0h1m2 0h1m2 0h1m4 0h1m1 0h1m1 0h1m2 0h1m2 0h2m1 0h1m1 0h4m3 0h1m2 0h1m7 0h1"/>
<path class="j57" d="M0 0h1m5 0h1m1 0h5m1 0h1m1 0h2m2 0h1m8 0h2m2 0h1m1 0h1m2 0h1m3 0h3m1 0h3m1 0h1m2 0h1m1 0h1m1 0h1m2 0h1m1 0h1m1 0h2m1 0h3m4 0h1m1 0h1m1 0h7m1 0h9m2 0h2m1 0h2m6 0h2m1 0h2m1 0h1m2 0h2m17 0h1m3 0h2m2 0h1m6 0h1m11 0h1"/>
<path class="j58" d="M5 0h1m18 0h1m26 0h1m4 0h1m16 0h1m11 0h1m10 0h1"/>
<path class="j63" d="M107 0h1"/>
</g>
<g transform="translate(0,1099.68) scale(1,9.883)">
<path class="j48" d="M280 0h2m1 0h1"/>
<path class="j49" d="M276 0h2m1 0h1m2 0h1m1 0h2"/>
<path class="j50" d="M234 0h1m6 0h1m2 0h1m10 0h1m19 0h1m2 0h1"/>
<path class="j51" d="M227 0h1m7 0h2m1 0h2m2 0h1m3 0h5m1 0h1m3 0h5m5 0h1"/>
<path class="j52" d="M228 0h2m7 0h1m2 0h1m2 0h1m1 0h1m5 0h1m2 0h1m6 0h3"/>
<path class="j53" d="M125 0h1m99 0h2"/>
<path class="j54" d="M28 0h1m84 0h1m17 0h1m7 0h1m8 0h1m15 0h2m9 0h1m2 0h1m1 0h2m1 0h1m4 0h1m1 0h2m2 0h1m1 0h1m5 0h2m1 0h1m5 0h1m1 0h1m2 0h2"/>
<path class="j55" d="M1 0h2m1 0h1m10 0h1m2 0h1m2 0h2m3 0h2m3 0h1m2 0h1m1 0h1m2 0h1m9 0h1m9 0h1m1 0h1m1 0h1m8 0h1m2 0h1m30 0h1m3 0h1m11 0h3m12 0h2m3 0h2m1 0h1m1 0h1m4 0h1m5 0h1m1 0h2m4 0h5m1 0h2m2 0h1m2 0h1m2 0h1m1 0h4m1 0h1m2 0h2m1 0h1m2 0h4m4 0h1m1 0h3m1 0h1m2 0h1"/>
<path class="j56" d="M3 0h1m2 0h5m1 0h3m1 0h2m1 0h2m2 0h1m1 0h1m3 0h2m1 0h2m1 0h1m1 0h1m2 0h8m2 0h1m1 0h1m1 0h1m2 0h2m1 0h1m3 0h3m2 0h3m2 0h1m1 0h2m2 0h1m1 0h2m6 0h1m1 0h4m1 0h9m2 0h1m2 0h2m2 0h7m14 0h1m3 0h2m4 0h1m2 0h2m8 0h1m2 0h1m8 0h1m2 0h1m2 0h1m19 0h1m6 0h1m2 0h1"/>
<path class="j57" d="M0 0h1m4 0h1m5 0h1m12 0h1m13 0h1m9 0h1m2 0h1m1 0h1m1 0h2m5 0h1m4 0h2m4 0h1m4 0h2m1 0h1m2 0h6m1 0h1m4 0h1m12 0h1m4 0h1m29 0h1m6 0h1m11 0h1"/>
<path class="j63" d="M107 0h1"/>
</g>
<g transform="translate(0,1089.31) scale(1,10.871)">
<path class="j46" d="M283 0h1"/>
<path class="j47" d="M280 0h2m3 0h1"/>
<path class="j48" d="M276 0h2m1 0h1m2 0h1m1 0h1"/>
<path class="j49" d="M234 0h1m6 0h2m1 0h1m10 0h1m19 0h1m2 0h1"/>
<path class="j50" d="M227 0h1m7 0h2m1 0h2m6 0h5m1 0h1m3 0h5m5 0h1"/>
<path class="j51" d="M228 0h2m7 0h1m2 0h1m2 0h1m1 0h1m5 0h1m2 0h1m6 0h3"/>
<path class="j52" d="M125 0h1m99 0h2"/>
<path class="j53" d="M139 0h1m8 0h1m15 0h1m10 0h1m2 0h1m1 0h2m6 0h1m1 0h2m2 0h1m7 0h2m1 0h1m5 0h1m1 0h1m2 0h2"/>
<path class="j54" d="M15 0h1m6 0h1m3 0h3m2 0h1m4 0h1m2 0h1m21 0h1m10 0h1m2 0h1m37 0h1m17 0h1m5 0h2m3 0h2m3 0h1m13 0h1m3 0h2m1 0h3m1 0h2m2 0h1m2 0h1m2 0h6m1 0h1m2 0h2m2 0h1m3 0h2m4 0h1m1 0h3m1 0h1m2 0h1"/>
<path class="j55" d="M1 0h4m2 0h1m1 0h2m1 0h2m2 0h1m1 0h2m1 0h1m1 0h1m1 0h1m4 0h1m1 0h1m1 0h1m2 0h1m2 0h2m3 0h3m1 0h1m2 0h1m1 0h1m3 0h2m3 0h2m1 0h1m2 0h3m5 0h1m2 0h1m1 0h2m10 0h2m3 0h2m1 0h5m3 0h1m4 0h2m2 0h6m15 0h1m4 0h2m2 0h2m1 0h1m5 0h3m1 0h1m4 0h1m3 0h1m2 0h1m2 0h1m17 0h1m1 0h3m4 0h1m2 0h1"/>
<path class="j56" d="M0 0h1m5 0h1m1 0h1m2 0h1m2 0h1m2 0h1m2 0h1m8 0h1m3 0h1m1 0h1m2 0h1m3 0h3m3 0h1m1 0h1m2 0h1m1 0h3m2 0h1m1 0h1m2 0h1m1 0h2m4 0h2m1 0h1m1 0h2m1 0h1m2 0h10m3 0h2m2 0h1m6 0h2m1 0h2m1 0h1m2 0h2m17 0h1m4 0h1m2 0h1m6 0h1m11 0h1"/>
<path class="j57" d="M5 0h1m18 0h1m26 0h1m44 0h1"/>
<path class="j62" d="M107 0h1"/>
</g>
<g transform="translate(0,1077.89) scale(1,11.958)">
<path class="j45" d="M283 0h1"/>
<path class="j46" d="M279 0h3m3 0h1"/>
<path class="j47" d="M276 0h2m4 0h1m1 0h1"/>
<path class="j48" d="M234 0h1m6 0h2m1 0h1m10 0h1m19 0h1m2 0h1"/>
<path class="j49" d="M227 0h1m7 0h2m1 0h2m6 0h5m1 0h1m3 0h2m1 0h2m5 0h1"/>
<path class="j50" d="M228 0h2m7 0h1m2 0h1m2 0h1m1 0h1m5 0h1m2 0h1m3 0h1m2 0h3"/>
<path class="j51" d="M225 0h2"/>
<path class="j52" d="M125 0h1m22 0h1m15 0h1m10 0h1m2 0h1m1 0h1m7 0h1m1 0h2m2 0h1m7 0h1m2 0h1m7 0h1m2 0h2"/>
<path class="j53" d="M22 0h1m3 0h1m1 0h1m2 0h1m7 0h1m21 0h1m10 0h1m40 0h1m17 0h1m5 0h3m7 0h1m13 0h1m3 0h2m1 0h3m1 0h2m2 0h1m2 0h1m1 0h1m1 0h5m8 0h1m4 0h1m1 0h1m2 0h1m1 0h5"/>
<path class="j54" d="M1 0h4m10 0h1m2 0h2m1 0h1m5 0h1m4 0h1m1 0h1m1 0h2m11 0h1m8 0h2m3 0h1m2 0h1m3 0h2m3 0h1m1 0h1m2 0h1m25 0h1m3 0h1m4 0h2m2 0h2m1 0h3m17 0h2m1 0h2m2 0h2m1 0h1m5 0h3m1 0h1m4 0h1m3 0h1m2 0h1m2 0h1m4 0h1m6 0h1m2 0h2m1 0h1m1 0h4m3 0h1m2 0h1m7 0h1"/>
<path class="j55" d="M0 0h1m5 0h9m1 0h2m2 0h1m2 0h1m1 0h1m3 0h2m2 0h1m1 0h1m4 0h9m1 0h1m1 0h1m1 0h1m2 0h1m2 0h1m1 0h1m1 0h2m3 0h1m4 0h1m1 0h1m1 0h2m1 0h4m1 0h1m1 0h1m1 0h6m1 0h9m2 0h1m2 0h2m4 0h2m2 0h1m14 0h1m3 0h2m9 0h1m11 0h1"/>
<path class="j56" d="M5 0h1m18 0h1m13 0h1m12 0h1m1 0h1m1 0h2m10 0h2m4 0h1m11 0h1m1 0h1m1 0h1m6 0h1m12 0h1m4 0h1m29 0h1"/>
<path class="j61" d="M107 0h1"/>
</g>
<g transform="translate(0,1065.34) scale(1,13.154)">
<path class="j43" d="M283 0h1"/>
<path class="j44" d="M280 0h2"/>
<path class="j45" d="M276 0h2m1 0h1m2 0h1m1 0h2"/>
<path class="j46" d="M275 0h1m2 0h1"/>
<path class="j47" d="M234 0h2m2 0h1m2 0h2m1 0h1m1 0h2m1 0h2m1 0h1m2 0h1m4 0h1"/>
<path class="j48" d="M227 0h1m8 0h1m2 0h1m5 0h1m2 0h1m2 0h1m4 0h4m1 0h2m3 0h1"/>
<path class="j49" d="M228 0h2m7 0h1m2 0h1m2 0h1m10 0h1m8 0h1"/>
<path class="j50" d="M225 0h2"/>
<path class="j51" d="M125 0h1m13 0h1m8 0h1m15 0h3m3 0h1m1 0h1m2 0h1m2 0h4m1 0h1m1 0h1m2 0h1m1 0h2m2 0h1m1 0h1m5 0h2m1 0h1m5 0h1m1 0h1m2 0h2"/>
<path class="j52" d="M22 0h1m3 0h1m1 0h1m2 0h1m4 0h1m2 0h1m21 0h1m10 0h1m40 0h1m17 0h1m5 0h2m3 0h2m3 0h1m12 0h2m5 0h3m1 0h1m1 0h2m1 0h2m4 0h1m1 0h1m1 0h2m1 0h1m2 0h2m1 0h1m4 0h2m4 0h1m1 0h3m1 0h1"/>
<path class="j53" d="M1 0h4m8 0h1m1 0h1m2 0h2m1 0h1m1 0h1m3 0h1m4 0h1m1 0h1m2 0h1m3 0h1m3 0h1m3 0h1m2 0h1m1 0h1m3 0h2m3 0h1m2 0h1m3 0h2m3 0h1m1 0h1m2 0h1m1 0h2m10 0h2m10 0h1m3 0h1m4 0h2m2 0h2m1 0h3m15 0h1m4 0h2m2 0h2m1 0h1m5 0h2m2 0h1m34 0h3m4 0h1m2 0h1m7 0h1"/>
<path class="j54" d="M0 0h1m5 0h7m1 0h1m1 0h2m2 0h1m4 0h1m3 0h2m2 0h1m1 0h1m2 0h1m1 0h1m1 0h3m1 0h3m1 0h1m2 0h1m1 0h1m1 0h1m2 0h1m1 0h1m1 0h2m1 0h3m3 0h2m1 0h1m1 0h2m1 0h1m2 0h10m3 0h9m2 0h1m2 0h2m1 0h1m2 0h2m2 0h1m14 0h1m4 0h1m2 0h1m6 0h1m11 0h1"/>
<path class="j55" d="M5 0h1m18 0h1m26 0h1m4 0h1m39 0h1m12 0h1"/>
<path class="j60" d="M107 0h1"/>
</g>
<g transform="translate(0,1051.52) scale(1,14.47)">
<path class="j42" d="M283 0h1"/>
<path class="j43" d="M279 0h3m2 0h2"/>
<path class="j44" d="M275 0h3m4 0h1"/>
<path class="j45" d="M234 0h2m2 0h1m2 0h2m1 0h1m10 0h1m22 0h1"/>
<path class="j46" d="M227 0h1m8 0h1m2 0h1m5 0h6m1 0h1m6 0h2m5 0h1"/>
<path class="j47" d="M228 0h2m7 0h1m2 0h1m2 0h1m7 0h1m2 0h1m1 0h3m2 0h2"/>
<path class="j48" d="M225 0h2m36 0h1"/>
<path class="j49" d="M178 0h1m1 0h1m7 0h1m1 0h2m2 0h1"/>
<path class="j50" d="M125 0h1m11 0h1m1 0h1m8 0h1m15 0h3m1 0h1m1 0h1m1 0h2m1 0h2m2 0h1m1 0h1m1 0h1m1 0h1m1 0h1m8 0h1m4 0h3m1 0h1m4 0h4m2 0h1"/>
<path class="j51" d="M15 0h1m6 0h1m3 0h3m2 0h1m2 0h1m1 0h1m2 0h1m21 0h1m10 0h1m2 0h1m37 0h1m17 0h1m6 0h1m3 0h2m1 0h1m1 0h1m4 0h1m6 0h3m5 0h1m1 0h1m1 0h1m2 0h1m2 0h1m4 0h1m1 0h1m1 0h1m2 0h1m2 0h2m1 0h1m2 0h3m5 0h1m1 0h2m7 0h1"/>
<path class="j52" d="M1 0h4m2 0h1m1 0h1m2 0h2m2 0h6m1 0h1m1 0h1m6 0h1m4 0h1m2 0h2m3 0h1m1 0h1m1 0h1m2 0h1m1 0h1m3 0h2m3 0h2m1 0h1m2 0h3m5 0h1m2 0h4m6 0h1m3 0h2m10 0h1m3 0h1m4 0h3m1 0h6m11 0h1m3 0h2m4 0h1m2 0h2m7 0h1m3 0h2m33 0h1m6 0h1m2 0h1m7 0h1"/>
<path class="j53" d="M0 0h1m5 0h1m1 0h1m1 0h2m2 0h1m14 0h2m2 0h1m1 0h1m2 0h1m3 0h3m1 0h1m1 0h1m1 0h1m2 0h1m1 0h1m1 0h1m2 0h1m1 0h1m2 0h1m1 0h2m4 0h2m1 0h1m1 0h2m4 0h6m1 0h3m3 0h9m2 0h1m2 0h2m1 0h1m3 0h1m25 0h1m6 0h1"/>
<path class="j54" d="M5 0h1m18 0h1m26 0h1m4 0h1m39 0h1m12 0h1"/>
<path class="j59" d="M107 0h1"/>
</g>
<g transform="translate(0,1036.33) scale(1,15.917)">
<path class="j40" d="M283 0h1"/>
<path class="j41" d="M280 0h2m3 0h1"/>
<path class="j42" d="M276 0h2m1 0h1m2 0h1m1 0h1"/>
<path class="j43" d="M234 0h1m7 0h1m1 0h1m30 0h1"/>
<path class="j44" d="M227 0h1m7 0h2m1 0h1m2 0h1m4 0h2m1 0h2m1 0h1m2 0h1m22 0h1"/>
<path class="j45" d="M228 0h2m7 0h1m1 0h1m5 0h1m2 0h1m2 0h1m4 0h2m1 0h2m5 0h1"/>
<path class="j46" d="M225 0h2m13 0h1m2 0h1m10 0h1m3 0h1m2 0h2"/>
<path class="j47" d="M263 0h1"/>
<path class="j48" d="M170 0h1m1 0h1m2 0h1m2 0h4m1 0h1m1 0h1m2 0h1m1 0h2m2 0h1m1 0h1m5 0h2m1 0h1m5 0h1m1 0h1"/>
<path class="j49" d="M28 0h1m96 0h1m5 0h1m5 0h1m1 0h1m7 0h2m12 0h1m2 0h6m1 0h1m1 0h2m1 0h2m4 0h1m1 0h1m1 0h2m1 0h1m2 0h2m1 0h1m4 0h2m4 0h1m1 0h3m1 0h1m3 0h2"/>
<path class="j50" d="M4 0h1m10 0h1m6 0h1m3 0h2m3 0h1m2 0h1m1 0h1m2 0h1m9 0h1m11 0h1m10 0h1m2 0h1m37 0h1m10 0h1m13 0h1m3 0h2m1 0h1m6 0h1m5 0h3m1 0h1m34 0h3m4 0h1m2 0h1m7 0h1"/>
<path class="j51" d="M1 0h3m3 0h1m1 0h2m1 0h3m1 0h6m1 0h1m1 0h1m3 0h2m1 0h2m1 0h1m1 0h1m2 0h2m3 0h3m4 0h1m1 0h1m3 0h2m3 0h2m1 0h1m2 0h3m2 0h1m1 0h2m2 0h5m5 0h1m3 0h2m10 0h1m3 0h1m4 0h9m12 0h1m3 0h2m4 0h1m2 0h2m12 0h1"/>
<path class="j52" d="M0 0h1m5 0h1m1 0h1m2 0h1m26 0h1m3 0h3m3 0h1m1 0h2m1 0h1m1 0h1m1 0h1m2 0h1m1 0h1m2 0h1m1 0h2m4 0h1m4 0h2m5 0h5m1 0h3m3 0h5m1 0h3m2 0h1m2 0h2m1 0h1m29 0h1m6 0h1"/>
<path class="j53" d="M5 0h1m18 0h1m31 0h1m45 0h1m6 0h1"/>
<path class="j54" d="M96 0h1"/>
<path class="j58" d="M107 0h1"/>
</g>
<g transform="translate(0,1019.62) scale(1,17.508)">
<path class="j39" d="M280 0h2m1 0h1"/>
<path class="j40" d="M277 0h1m1 0h1m2 0h1m1 0h2"/>
<path class="j41" d="M275 0h2"/>
<path class="j42" d="M227 0h1m6 0h2m2 0h1m2 0h2m1 0h1m4 0h1m2 0h1m2 0h1"/>
<path class="j43" d="M228 0h2m6 0h1m2 0h1m5 0h4m1 0h1m9 0h1m5 0h1"/>
<path class="j44" d="M225 0h2m10 0h1m2 0h1m2 0h1m7 0h1m2 0h1m1 0h4"/>
<path class="j45" d="M261 0h2m15 0h1"/>
<path class="j46" d="M175 0h1m2 0h1m1 0h1m7 0h1m1 0h2m2 0h1m68 0h1"/>
<path class="j47" d="M148 0h1m15 0h3m1 0h3m1 0h2m2 0h1m2 0h1m1 0h1m1 0h3m1 0h1m1 0h1m6 0h1m4 0h3m1 0h1m2 0h6"/>
<path class="j48" d="M28 0h1m10 0h1m85 0h1m5 0h1m5 0h1m1 0h1m7 0h1m12 0h2m5 0h1m3 0h1m2 0h1m2 0h1m4 0h1m3 0h1m5 0h2m1 0h1m2 0h3m3 0h1m1 0h2m8 0h2"/>
<path class="j49" d="M1 0h2m1 0h1m10 0h1m3 0h1m2 0h1m3 0h2m3 0h2m1 0h1m1 0h1m12 0h1m9 0h1m1 0h1m4 0h1m4 0h2m2 0h1m1 0h1m2 0h1m32 0h1m8 0h3m13 0h1m3 0h2m1 0h1m3 0h2m1 0h1m5 0h2m2 0h1m34 0h1m17 0h1"/>
<path class="j50" d="M3 0h1m3 0h4m1 0h3m1 0h3m1 0h2m1 0h1m1 0h1m3 0h2m2 0h1m1 0h1m1 0h1m2 0h4m1 0h4m3 0h1m1 0h1m3 0h1m3 0h3m4 0h2m3 0h1m6 0h4m5 0h1m2 0h3m10 0h1m3 0h1m4 0h7m14 0h1m3 0h2m4 0h1m4 0h1m11 0h1"/>
<path class="j51" d="M0 0h1m4 0h2m4 0h1m12 0h1m13 0h1m5 0h1m5 0h2m1 0h1m1 0h3m2 0h1m4 0h1m1 0h2m4 0h1m2 0h1m1 0h2m5 0h5m1 0h2m4 0h5m1 0h3m2 0h1m2 0h2m1 0h1m29 0h1"/>
<path class="j52" d="M109 0h1"/>
<path class="j54" d="M102 0h1"/>
<path class="j55" d="M96 0h1"/>
<path class="j57" d="M107 0h1"/>
</g>
<g transform="translate(0,1001.23) scale(1,19.259)">
<path class="j37" d="M283 0h1"/>
<path class="j38" d="M279 0h3m3 0h1"/>
<path class="j39" d="M276 0h2m4 0h1m1 0h1"/>
<path class="j40" d="M234 0h1m7 0h1m1 0h1m30 0h1"/>
<path class="j41" d="M227 0h3m5 0h2m1 0h1m2 0h1m3 0h3m1 0h2m1 0h1m2 0h1m10 0h1"/>
<path class="j42" d="M237 0h1m1 0h1m3 0h1m4 0h1m2 0h1m4 0h2m1 0h2"/>
<path class="j43" d="M225 0h2m13 0h1m13 0h1m3 0h1m2 0h1"/>
<path class="j44" d="M190 0h1m3 0h1m67 0h1"/>
<path class="j45" d="M170 0h1m1 0h1m2 0h2m1 0h4m1 0h1m1 0h1m1 0h2m2 0h1m4 0h1m4 0h3m1 0h1m5 0h1m1 0h1m49 0h1"/>
<path class="j46" d="M28 0h1m108 0h1m1 0h1m8 0h1m12 0h1m2 0h6m1 0h1m1 0h2m2 0h1m4 0h1m1 0h1m1 0h1m2 0h1m2 0h2m1 0h1m2 0h1m1 0h1m5 0h1m1 0h3m1 0h1m65 0h1"/>
<path class="j47" d="M4 0h1m10 0h1m6 0h1m3 0h2m3 0h1m2 0h1m1 0h1m2 0h1m9 0h1m11 0h1m10 0h1m2 0h1m37 0h1m11 0h1m5 0h1m6 0h1m3 0h2m1 0h1m1 0h1m11 0h2m36 0h1m1 0h1m4 0h1m2 0h1m7 0h3"/>
<path class="j48" d="M1 0h3m3 0h1m1 0h1m2 0h2m2 0h6m1 0h1m1 0h1m4 0h1m1 0h1m2 0h1m1 0h1m2 0h2m3 0h1m1 0h1m4 0h1m1 0h1m3 0h2m3 0h2m1 0h1m3 0h2m5 0h1m2 0h4m6 0h1m3 0h2m10 0h1m8 0h2m2 0h2m1 0h3m11 0h1m3 0h1m5 0h1m2 0h2m1 0h1m5 0h1m3 0h1"/>
<path class="j49" d="M0 0h1m5 0h1m1 0h1m1 0h2m2 0h1m14 0h1m3 0h1m4 0h1m3 0h3m1 0h1m1 0h1m1 0h1m2 0h1m1 0h1m1 0h1m2 0h1m1 0h1m2 0h1m1 0h3m3 0h2m3 0h2m4 0h6m1 0h3m3 0h5m1 0h3m4 0h3m4 0h2m2 0h1m19 0h1m9 0h1m11 0h1"/>
<path class="j50" d="M5 0h1m18 0h1m26 0h1m4 0h1m51 0h2m4 0h1m29 0h1"/>
<path class="j51" d="M76 0h1"/>
<path class="j53" d="M96 0h1m5 0h1"/>
<path class="j56" d="M107 0h1"/>
</g>
<g transform="translate(0,981.01) scale(1,21.185)">
<path class="j35" d="M283 0h1"/>
<path class="j36" d="M280 0h2m3 0h1"/>
<path class="j37" d="M276 0h2m1 0h1m2 0h1m1 0h1"/>
<path class="j38" d="M242 0h1m32 0h1"/>
<path class="j39" d="M227 0h1m6 0h2m2 0h1m2 0h1m2 0h1m1 0h1m2 0h1m2 0h1m2 0h1"/>
<path class="j40" d="M228 0h2m6 0h1m2 0h1m5 0h1m1 0h2m1 0h2m14 0h1"/>
<path class="j41" d="M225 0h2m10 0h1m2 0h1m2 0h1m10 0h1m1 0h2m1 0h2"/>
<path class="j42" d="M258 0h1m2 0h1"/>
<path class="j43" d="M170 0h1m4 0h1m2 0h1m1 0h2m1 0h1m1 0h1m2 0h1m1 0h2m2 0h1m1 0h1m5 0h2m1 0h1m5 0h1"/>
<path class="j44" d="M164 0h3m1 0h2m2 0h3m1 0h1m2 0h1m4 0h1m1 0h2m1 0h1m11 0h1m4 0h1m1 0h3m1 0h2"/>
<path class="j45" d="M18 0h1m3 0h1m3 0h1m1 0h1m2 0h1m2 0h1m1 0h1m2 0h1m21 0h1m63 0h1m11 0h1m1 0h1m7 0h2m10 0h3m5 0h1m3 0h1m5 0h1m4 0h1m9 0h2m1 0h1m1 0h4m3 0h1m2 0h1m8 0h1m45 0h1m15 0h1"/>
<path class="j46" d="M1 0h4m10 0h1m3 0h1m1 0h1m1 0h1m3 0h1m4 0h1m4 0h1m3 0h1m3 0h1m3 0h1m4 0h1m4 0h1m3 0h1m2 0h1m4 0h2m2 0h1m1 0h1m2 0h1m32 0h1m10 0h1m6 0h1m6 0h1m3 0h2m1 0h1m6 0h1m5 0h1m3 0h1m52 0h1m1 0h1m45 0h1"/>
<path class="j47" d="M6 0h9m1 0h2m2 0h1m4 0h1m3 0h2m2 0h1m1 0h1m4 0h1m1 0h3m1 0h3m1 0h1m1 0h1m4 0h2m1 0h1m1 0h1m1 0h2m1 0h1m1 0h2m3 0h1m3 0h1m2 0h6m1 0h1m1 0h2m1 0h3m2 0h2m6 0h1m3 0h1m4 0h9m12 0h1m3 0h2m4 0h1m2 0h2"/>
<path class="j48" d="M0 0h1m4 0h1m18 0h1m13 0h1m12 0h1m3 0h2m11 0h1m4 0h1m5 0h1m7 0h1m1 0h1m2 0h1m4 0h1m2 0h2m1 0h3m2 0h1m2 0h2m1 0h1m29 0h1m6 0h1"/>
<path class="j49" d="M53 0h1m55 0h1"/>
<path class="j50" d="M76 0h1m86 0h1"/>
<path class="j51" d="M102 0h1"/>
<path class="j52" d="M96 0h1"/>
<path class="j54" d="M107 0h1"/>
</g>
<g transform="translate(0,958.77) scale(1,23.304)">
<path class="j33" d="M283 0h1"/>
<path class="j34" d="M280 0h2m3 0h1"/>
<path class="j35" d="M277 0h1m1 0h1m2 0h1m1 0h1"/>
<path class="j36" d="M276 0h1"/>
<path class="j37" d="M234 0h2m2 0h1m2 0h2m1 0h1m4 0h1m25 0h1"/>
<path class="j38" d="M227 0h2m7 0h1m8 0h4m1 0h1m1 0h1m2 0h1m10 0h1"/>
<path class="j39" d="M225 0h2m2 0h1m7 0h1m1 0h2m2 0h1m7 0h1m4 0h2m1 0h1"/>
<path class="j40" d="M254 0h1m3 0h1m1 0h1"/>
<path class="j41" d="M178 0h1m1 0h1m7 0h1m1 0h2m2 0h1m66 0h1"/>
<path class="j42" d="M164 0h1m1 0h1m1 0h3m1 0h2m1 0h2m2 0h1m1 0h1m1 0h3m1 0h1m8 0h1m4 0h3m1 0h1m4 0h4"/>
<path class="j43" d="M18 0h1m3 0h1m3 0h1m1 0h1m2 0h1m2 0h1m1 0h1m2 0h1m97 0h1m1 0h1m8 0h1m11 0h2m3 0h1m1 0h1m3 0h1m2 0h1m2 0h1m4 0h1m3 0h1m2 0h1m2 0h2m4 0h1m1 0h1m5 0h1m1 0h2m68 0h1"/>
<path class="j44" d="M15 0h1m3 0h1m7 0h1m2 0h1m1 0h1m4 0h1m11 0h1m11 0h1m1 0h1m2 0h1m4 0h2m2 0h1m37 0h1m11 0h1m12 0h1m3 0h2m1 0h1m1 0h1m10 0h2m2 0h1m34 0h1m1 0h1m4 0h1m2 0h1m8 0h2m44 0h1"/>
<path class="j45" d="M1 0h4m2 0h1m1 0h2m1 0h3m1 0h2m2 0h2m1 0h1m1 0h1m3 0h1m3 0h1m1 0h1m4 0h4m1 0h1m1 0h1m4 0h1m1 0h1m3 0h2m2 0h1m1 0h1m2 0h1m1 0h2m3 0h1m2 0h1m2 0h5m5 0h1m3 0h2m19 0h3m1 0h2m1 0h3m6 0h1m4 0h1m3 0h1m5 0h1m2 0h2m1 0h1m42 0h1m19 0h1m47 0h1"/>
<path class="j46" d="M0 0h1m5 0h1m1 0h1m2 0h1m12 0h1m13 0h1m5 0h1m1 0h1m1 0h1m1 0h1m4 0h1m1 0h1m2 0h1m4 0h1m2 0h1m4 0h1m4 0h2m5 0h5m1 0h3m3 0h3m1 0h1m1 0h4m3 0h3m5 0h1m2 0h1m19 0h1"/>
<path class="j47" d="M5 0h1m45 0h1m4 0h1m43 0h1m7 0h2m4 0h1m29 0h1m6 0h1"/>
<path class="j48" d="M53 0h1"/>
<path class="j49" d="M76 0h1m86 0h1"/>
<path class="j50" d="M96 0h1m5 0h1"/>
<path class="j53" d="M107 0h1"/>
</g>
<g transform="translate(0,934.3) scale(1,25.634)">
<path class="j31" d="M283 0h1"/>
<path class="j32" d="M285 0h1"/>
<path class="j33" d="M279 0h3m2 0h1"/>
<path class="j34" d="M276 0h2m4 0h1"/>
<path class="j35" d="M234 0h1m7 0h1m1 0h1m30 0h1"/>
<path class="j36" d="M227 0h1m7 0h1m2 0h1m2 0h1m4 0h2m1 0h4m2 0h1m10 0h1"/>
<path class="j37" d="M225 0h1m2 0h2m6 0h2m1 0h1m5 0h1m2 0h1"/>
<path class="j38" d="M226 0h1m13 0h1m2 0h1m10 0h1m1 0h2m1 0h2"/>
<path class="j39" d="M258 0h1m2 0h1"/>
<path class="j40" d="M170 0h1m4 0h1m2 0h4m1 0h1m1 0h1m2 0h1m1 0h2m2 0h1m1 0h1m4 0h3m1 0h1m5 0h1m1 0h1"/>
<path class="j41" d="M18 0h1m7 0h1m1 0h1m2 0h1m2 0h1m1 0h1m2 0h1m23 0h1m73 0h1m26 0h6m1 0h4m1 0h2m4 0h1m1 0h1m1 0h2m1 0h1m2 0h2m6 0h1m5 0h1m1 0h3m1 0h1m65 0h1"/>
<path class="j42" d="M22 0h1m4 0h1m1 0h2m1 0h1m29 0h1m3 0h1m5 0h1m2 0h1m62 0h2m7 0h2m10 0h3m35 0h3m4 0h1m2 0h1"/>
<path class="j43" d="M4 0h1m7 0h1m2 0h3m1 0h3m1 0h1m1 0h1m7 0h1m1 0h1m1 0h1m2 0h2m3 0h1m3 0h1m14 0h1m4 0h3m2 0h1m2 0h1m2 0h2m1 0h1m6 0h1m3 0h2m17 0h1m9 0h3m16 0h2m1 0h1m6 0h1m5 0h1m3 0h1m52 0h3m44 0h1"/>
<path class="j44" d="M1 0h3m3 0h5m1 0h2m9 0h1m13 0h1m3 0h3m1 0h3m3 0h1m1 0h1m3 0h1m2 0h1m3 0h1m1 0h2m4 0h1m4 0h2m2 0h1m1 0h5m2 0h3m4 0h1m7 0h1m3 0h1m4 0h8m8 0h1m4 0h1m3 0h2m4 0h1m2 0h2m44 0h1m67 0h1"/>
<path class="j45" d="M0 0h1m5 0h1m43 0h2m3 0h1m1 0h1m1 0h1m29 0h1m7 0h1m1 0h3m1 0h3m2 0h1m2 0h2m1 0h1m29 0h1m6 0h1"/>
<path class="j46" d="M5 0h1m50 0h1m3 0h1m48 0h1"/>
<path class="j47" d="M53 0h1m22 0h1m86 0h1"/>
<path class="j48" d="M96 0h1m5 0h1"/>
<path class="j51" d="M107 0h1"/>
</g>
<g transform="translate(0,907.38) scale(1,28.197)">
<path class="j30" d="M283 0h1"/>
<path class="j31" d="M280 0h2m3 0h1"/>
<path class="j32" d="M277 0h1m1 0h1m2 0h1m1 0h1"/>
<path class="j33" d="M227 0h1m47 0h2"/>
<path class="j34" d="M234 0h2m2 0h1m2 0h2m1 0h1m6 0h1m14 0h1"/>
<path class="j35" d="M236 0h1m8 0h6m1 0h1m2 0h1"/>
<path class="j36" d="M225 0h2m1 0h2m7 0h1m1 0h2m2 0h1"/>
<path class="j37" d="M254 0h1m1 0h2m1 0h1"/>
<path class="j38" d="M194 0h1m63 0h1m1 0h1"/>
<path class="j39" d="M63 0h1m106 0h1m1 0h1m2 0h2m1 0h4m1 0h1m1 0h1m1 0h2m1 0h2m4 0h1m4 0h3m1 0h1m5 0h1m49 0h1"/>
<path class="j40" d="M26 0h1m1 0h1m2 0h2m1 0h1m1 0h1m25 0h1m74 0h1m4 0h1m18 0h1m2 0h6m1 0h1m1 0h2m2 0h1m4 0h1m1 0h1m1 0h1m2 0h1m2 0h2m4 0h1m1 0h1m5 0h1m1 0h3m1 0h2m64 0h1"/>
<path class="j41" d="M18 0h1m3 0h1m4 0h1m1 0h2m8 0h1m26 0h1m4 0h2m2 0h1m62 0h2m7 0h2m10 0h2m36 0h1m1 0h1m4 0h1m2 0h1"/>
<path class="j42" d="M15 0h1m3 0h1m1 0h1m1 0h1m1 0h1m7 0h1m1 0h1m1 0h1m2 0h2m3 0h1m3 0h1m14 0h2m1 0h1m1 0h2m3 0h1m2 0h1m2 0h5m5 0h1m3 0h2m17 0h1m9 0h3m10 0h1m3 0h1m2 0h1m1 0h1m6 0h1m5 0h1m3 0h1m52 0h3"/>
<path class="j43" d="M1 0h4m2 0h1m1 0h2m1 0h3m1 0h2m2 0h1m3 0h1m13 0h1m3 0h3m1 0h3m3 0h1m1 0h1m3 0h1m2 0h1m6 0h1m4 0h1m4 0h2m5 0h5m1 0h3m3 0h2m7 0h1m3 0h1m4 0h8m8 0h1m9 0h1m2 0h1m1 0h1m2 0h2m44 0h1m66 0h1"/>
<path class="j44" d="M6 0h1m1 0h1m2 0h1m38 0h1m4 0h1m1 0h1m1 0h1m39 0h3m1 0h3m2 0h1m2 0h2m1 0h1m36 0h1m111 0h1"/>
<path class="j45" d="M0 0h1m4 0h1m45 0h1m4 0h1m3 0h1m48 0h1"/>
<path class="j46" d="M53 0h1m22 0h1m86 0h1"/>
<path class="j47" d="M96 0h1m5 0h1"/>
<path class="j50" d="M107 0h1"/>
</g>
<g transform="translate(0,877.78) scale(1,31.017)">
<path class="j28" d="M227 0h1m55 0h1"/>
<path class="j29" d="M281 0h1m3 0h1"/>
<path class="j30" d="M279 0h2m1 0h1m1 0h1"/>
<path class="j31" d="M251 0h1m24 0h2"/>
<path class="j32" d="M234 0h1m7 0h1m23 0h1m8 0h1"/>
<path class="j33" d="M235 0h2m1 0h1m2 0h1m2 0h1m4 0h1m2 0h1"/>
<path class="j34" d="M228 0h1m8 0h1m1 0h1m5 0h4m1 0h1m4 0h1"/>
<path class="j35" d="M225 0h2m2 0h1m10 0h1m2 0h1"/>
<path class="j36" d="M254 0h1m1 0h2"/>
<path class="j37" d="M142 0h1m47 0h2m2 0h1m63 0h4"/>
<path class="j38" d="M63 0h1m98 0h1m3 0h1m3 0h1m1 0h2m1 0h2m1 0h4m1 0h3m1 0h2m7 0h1m4 0h3m1 0h1m5 0h1m66 0h1"/>
<path class="j39" d="M26 0h1m1 0h1m2 0h2m1 0h1m1 0h1m25 0h1m74 0h1m6 0h1m15 0h2m2 0h2m1 0h3m1 0h1m2 0h1m2 0h1m4 0h1m3 0h1m2 0h1m2 0h2m4 0h3m5 0h1m1 0h3m1 0h2"/>
<path class="j40" d="M18 0h1m3 0h1m4 0h1m1 0h2m8 0h1m24 0h1m1 0h1m3 0h3m2 0h1m62 0h2m7 0h2m9 0h2m37 0h1m6 0h1m2 0h1"/>
<path class="j41" d="M21 0h1m1 0h1m1 0h1m7 0h1m1 0h1m1 0h1m2 0h2m7 0h1m15 0h1m1 0h1m1 0h1m4 0h1m2 0h1m2 0h5m3 0h1m1 0h2m1 0h3m17 0h1m6 0h1m1 0h4m10 0h1m3 0h1m2 0h1m1 0h1m69 0h3"/>
<path class="j42" d="M4 0h1m7 0h1m2 0h3m1 0h2m3 0h1m13 0h1m3 0h6m4 0h1m1 0h1m3 0h1m2 0h1m6 0h1m4 0h1m4 0h2m5 0h3m1 0h1m2 0h1m4 0h3m6 0h1m3 0h1m4 0h5m1 0h1m9 0h1m9 0h1m4 0h1m2 0h2m1 0h1m42 0h1m66 0h1"/>
<path class="j43" d="M1 0h3m3 0h5m1 0h2m33 0h1m1 0h1m4 0h1m1 0h1m1 0h1m40 0h2m1 0h3m2 0h1m2 0h2m1 0h1m36 0h1m111 0h1"/>
<path class="j44" d="M0 0h1m5 0h1m44 0h1m4 0h1m3 0h1m48 0h1"/>
<path class="j45" d="M5 0h1m47 0h1m22 0h1m19 0h1m66 0h1"/>
<path class="j46" d="M102 0h1"/>
<path class="j49" d="M107 0h1"/>
</g>
<g transform="translate(0,845.21) scale(1,34.119)">
<path class="j24" d="M227 0h1"/>
<path class="j27" d="M283 0h1"/>
<path class="j28" d="M281 0h1m3 0h1"/>
<path class="j29" d="M251 0h1m27 0h2m1 0h1m1 0h1"/>
<path class="j30" d="M266 0h1m9 0h2"/>
<path class="j31" d="M275 0h1"/>
<path class="j32" d="M234 0h2m2 0h1m2 0h2m1 0h1m1 0h1m2 0h1m2 0h1"/>
<path class="j33" d="M236 0h2m1 0h1m5 0h1m1 0h2m1 0h1m4 0h1m5 0h1"/>
<path class="j34" d="M225 0h2m1 0h2m10 0h1m2 0h1m10 0h1m1 0h2"/>
<path class="j35" d="M258 0h3"/>
<path class="j36" d="M142 0h1m19 0h1m27 0h2m2 0h1"/>
<path class="j37" d="M170 0h1m1 0h1m2 0h2m1 0h4m1 0h6m7 0h1m4 0h3m1 0h1m72 0h1"/>
<path class="j38" d="M63 0h1m100 0h6m1 0h1m1 0h2m2 0h1m4 0h1m6 0h1m2 0h2m3 0h4m5 0h1m4 0h1m50 0h1"/>
<path class="j39" d="M28 0h1m2 0h2m1 0h1m1 0h1m25 0h1m74 0h1m6 0h1m15 0h2m42 0h1m2 0h4m1 0h2m49 0h1"/>
<path class="j40" d="M18 0h1m3 0h1m3 0h2m1 0h2m4 0h1m1 0h1m1 0h1m24 0h1m1 0h1m2 0h4m2 0h1m4 0h1m13 0h2m42 0h2m7 0h2m9 0h2m55 0h3"/>
<path class="j41" d="M21 0h1m1 0h1m1 0h1m7 0h1m6 0h2m3 0h1m3 0h1m15 0h1m1 0h2m4 0h2m2 0h2m2 0h13m19 0h1m6 0h1m1 0h4m10 0h1m3 0h2m1 0h1m1 0h1m4 0h1m1 0h1m42 0h1"/>
<path class="j42" d="M15 0h3m1 0h2m3 0h1m13 0h1m3 0h3m1 0h2m4 0h1m5 0h1m2 0h1m17 0h1m17 0h3m3 0h1m1 0h2m3 0h2m3 0h5m1 0h1m9 0h1m14 0h1m2 0h1"/>
<path class="j43" d="M1 0h4m2 0h1m1 0h6m33 0h1m1 0h2m2 0h2m1 0h1m1 0h1m40 0h2m2 0h1m3 0h2m2 0h1m1 0h1m36 0h1"/>
<path class="j44" d="M6 0h1m1 0h1m47 0h1m3 0h1m15 0h1m86 0h1"/>
<path class="j45" d="M0 0h1m4 0h1m47 0h1m42 0h1"/>
<path class="j46" d="M102 0h1"/>
<path class="j49" d="M107 0h1"/>
</g>
<g transform="translate(0,809.38) scale(1,37.531)">
<path class="j23" d="M227 0h1"/>
<path class="j26" d="M283 0h1"/>
<path class="j27" d="M251 0h1m29 0h2m1 0h2"/>
<path class="j28" d="M266 0h1m9 0h1m2 0h2"/>
<path class="j29" d="M261 0h1m13 0h1m1 0h1"/>
<path class="j31" d="M234 0h2m2 0h1m2 0h2m1 0h1m1 0h1m5 0h1m2 0h1"/>
<path class="j32" d="M236 0h2m1 0h1m5 0h1m1 0h4m5 0h1m21 0h1"/>
<path class="j33" d="M225 0h2m1 0h2m10 0h1m2 0h1m10 0h1m2 0h4"/>
<path class="j34" d="M262 0h1"/>
<path class="j35" d="M162 0h1m25 0h1m1 0h2m2 0h1m68 0h1"/>
<path class="j36" d="M142 0h1m27 0h1m1 0h1m2 0h2m1 0h10m1 0h1m6 0h1m3 0h4"/>
<path class="j37" d="M164 0h1m1 0h1m1 0h2m1 0h1m1 0h2m2 0h1m14 0h2m3 0h3m5 0h1"/>
<path class="j38" d="M62 0h2m80 0h1m20 0h1m1 0h1m36 0h1m1 0h8"/>
<path class="j39" d="M28 0h1m2 0h2m1 0h1m35 0h1m1 0h1m64 0h1m21 0h3m54 0h1"/>
<path class="j40" d="M18 0h1m7 0h2m1 0h2m2 0h1m1 0h3m1 0h1m24 0h4m1 0h1m1 0h1m2 0h2m1 0h1m2 0h1m13 0h2m42 0h2m3 0h1m3 0h2m9 0h1m36 0h1m19 0h1m1 0h1"/>
<path class="j41" d="M21 0h3m1 0h1m12 0h1m1 0h3m2 0h1m3 0h1m2 0h1m15 0h1m4 0h1m4 0h2m1 0h13m3 0h3m6 0h1m3 0h1m2 0h1m2 0h1m1 0h3m1 0h4m10 0h1m3 0h2m3 0h2m2 0h2m1 0h1"/>
<path class="j42" d="M15 0h2m2 0h2m3 0h1m18 0h2m1 0h2m2 0h1m6 0h2m2 0h1m38 0h2m1 0h3m2 0h1m2 0h2m1 0h2m1 0h1m3 0h1m9 0h1m19 0h1"/>
<path class="j43" d="M2 0h1m1 0h1m4 0h6m2 0h1m30 0h1m2 0h1m2 0h3m2 0h2m48 0h1"/>
<path class="j44" d="M1 0h1m1 0h1m2 0h3m67 0h1m86 0h1"/>
<path class="j45" d="M0 0h1m4 0h1m47 0h1m42 0h1m5 0h1"/>
<path class="j48" d="M107 0h1"/>
</g>
<g transform="translate(0,769.98) scale(1,41.284)">
<path class="j22" d="M227 0h1"/>
<path class="j25" d="M283 0h1m1 0h1"/>
<path class="j26" d="M251 0h1m14 0h1m13 0h3m1 0h1"/>
<path class="j27" d="M261 0h1m14 0h2m1 0h1"/>
<path class="j28" d="M275 0h1m2 0h1"/>
<path class="j30" d="M234 0h2m2 0h1m2 0h2m1 0h1m7 0h1m2 0h1"/>
<path class="j31" d="M236 0h2m1 0h1m5 0h6m3 0h1m1 0h5"/>
<path class="j32" d="M228 0h1m11 0h1m2 0h1m18 0h1"/>
<path class="j33" d="M225 0h2m2 0h1m33 0h1"/>
<path class="j34" d="M162 0h1m18 0h1m3 0h1m1 0h2m1 0h2m2 0h1m1 0h1m3 0h1"/>
<path class="j35" d="M172 0h1m2 0h6m1 0h3m1 0h1m2 0h1m2 0h2m3 0h3m1 0h3m1 0h1"/>
<path class="j36" d="M142 0h1m25 0h1m1 0h1m2 0h2m29 0h1m1 0h1"/>
<path class="j37" d="M63 0h1m80 0h1m19 0h4m1 0h1m1 0h1m35 0h5"/>
<path class="j38" d="M62 0h1m97 0h2m33 0h1m16 0h2m2 0h2"/>
<path class="j39" d="M18 0h1m7 0h1m1 0h1m2 0h2m1 0h1m1 0h1m2 0h1m12 0h1m16 0h2m1 0h1m2 0h1m4 0h1m1 0h1m12 0h1m52 0h1m9 0h2m55 0h1"/>
<path class="j40" d="M21 0h3m1 0h1m1 0h1m1 0h2m2 0h1m1 0h1m1 0h1m3 0h3m1 0h1m3 0h1m14 0h5m2 0h1m1 0h2m2 0h3m1 0h1m1 0h12m2 0h1m15 0h1m5 0h2m1 0h4m11 0h3m3 0h1m1 0h1m1 0h1m2 0h1m1 0h1"/>
<path class="j41" d="M12 0h1m2 0h2m2 0h2m3 0h1m13 0h1m1 0h1m3 0h1m1 0h2m2 0h1m6 0h2m2 0h1m36 0h4m1 0h4m1 0h5m2 0h4m2 0h1m14 0h1m3 0h2m4 0h1m2 0h1m1 0h1"/>
<path class="j42" d="M1 0h4m1 0h6m1 0h2m2 0h1m30 0h1m2 0h1m2 0h3m57 0h1m16 0h1"/>
<path class="j43" d="M0 0h1m4 0h1m47 0h1m5 0h2m15 0h1m86 0h1"/>
<path class="j44" d="M96 0h1m5 0h1"/>
<path class="j48" d="M107 0h1"/>
</g>
<g transform="translate(0,726.63) scale(1,45.412)">
<path class="j22" d="M227 0h1"/>
<path class="j24" d="M266 0h1m14 0h5"/>
<path class="j25" d="M251 0h1m9 0h1m14 0h1m2 0h2"/>
<path class="j26" d="M275 0h1m1 0h2"/>
<path class="j29" d="M238 0h2m12 0h1m2 0h1"/>
<path class="j30" d="M234 0h4m3 0h2m1 0h7m3 0h1m1 0h5"/>
<path class="j31" d="M228 0h1m11 0h1m2 0h1m18 0h2"/>
<path class="j32" d="M190 0h1m5 0h1m3 0h1m24 0h2m2 0h1"/>
<path class="j33" d="M162 0h1m17 0h3m1 0h6m1 0h4m4 0h1m1 0h2"/>
<path class="j34" d="M172 0h1m2 0h5m3 0h1m13 0h2m4 0h4"/>
<path class="j35" d="M142 0h1m21 0h1m5 0h1m2 0h2m32 0h1m1 0h3"/>
<path class="j36" d="M62 0h2m80 0h1m20 0h5m1 0h1m23 0h1m12 0h1m3 0h2m2 0h1"/>
<path class="j37" d="M18 0h1m33 0h1m17 0h1m87 0h1m1 0h2m1 0h1m51 0h1m1 0h1"/>
<path class="j38" d="M21 0h2m3 0h7m1 0h3m2 0h1m2 0h1m18 0h1m2 0h3m1 0h2m1 0h2m1 0h2m4 0h1m1 0h1m12 0h1m63 0h1"/>
<path class="j39" d="M16 0h1m2 0h1m3 0h3m7 0h1m3 0h2m1 0h2m1 0h5m1 0h2m6 0h4m6 0h1m5 0h1m2 0h4m1 0h1m1 0h7m1 0h4m2 0h4m2 0h1m1 0h2m1 0h1m1 0h1m2 0h1m1 0h2m1 0h3m1 0h4m11 0h1m5 0h1m4 0h1m1 0h1"/>
<path class="j40" d="M9 0h1m2 0h1m1 0h2m1 0h1m2 0h1m27 0h1m2 0h1m1 0h4m33 0h1m10 0h1m2 0h1m4 0h1m1 0h2m1 0h1m2 0h1m3 0h1m9 0h1m4 0h1m1 0h4m3 0h3m1 0h1m1 0h2"/>
<path class="j41" d="M1 0h2m1 0h5m1 0h2m1 0h1"/>
<path class="j42" d="M3 0h1m98 0h1"/>
<path class="j43" d="M0 0h1m95 0h1"/>
<path class="j46" d="M107 0h1"/>
</g>
<g transform="translate(0,678.95) scale(1,49.953)">
<path class="j20" d="M227 0h1"/>
<path class="j22" d="M282 0h1"/>
<path class="j23" d="M261 0h1m4 0h1m14 0h1m1 0h3"/>
<path class="j24" d="M251 0h1m23 0h2m1 0h3"/>
<path class="j25" d="M277 0h1"/>
<path class="j27" d="M239 0h1m15 0h1"/>
<path class="j28" d="M234 0h5m2 0h2m1 0h1m1 0h3m3 0h1m3 0h4"/>
<path class="j29" d="M240 0h1m2 0h1m1 0h1m3 0h2m3 0h1m5 0h1m1 0h2"/>
<path class="j30" d="M200 0h1m24 0h2m1 0h2"/>
<path class="j31" d="M162 0h1m19 0h1m1 0h1m1 0h3m1 0h2m4 0h1m2 0h1"/>
<path class="j32" d="M175 0h3m2 0h2m1 0h1m1 0h1m3 0h1m2 0h3m2 0h2m2 0h5"/>
<path class="j33" d="M172 0h1m1 0h1m3 0h2m26 0h2"/>
<path class="j34" d="M52 0h1m9 0h2m78 0h1m1 0h1m19 0h5m1 0h2m1 0h1m21 0h1m12 0h4m4 0h1"/>
<path class="j35" d="M18 0h1m142 0h1m1 0h1m5 0h1m42 0h2m1 0h1m1 0h1"/>
<path class="j36" d="M21 0h1m3 0h8m1 0h3m5 0h1m14 0h1m1 0h3m7 0h2m1 0h1m26 0h2m2 0h1m1 0h2m1 0h3m47 0h3"/>
<path class="j37" d="M16 0h1m2 0h1m2 0h3m8 0h1m3 0h5m1 0h5m1 0h3m3 0h2m1 0h1m5 0h5m2 0h1m1 0h6m1 0h1m1 0h1m1 0h1m1 0h1m1 0h2m2 0h7m2 0h1m2 0h1m6 0h6m1 0h3m1 0h2m1 0h1m17 0h1"/>
<path class="j38" d="M1 0h2m2 0h2m1 0h8m1 0h1m2 0h1m27 0h1m4 0h2m24 0h1m1 0h1m1 0h1m1 0h1m1 0h1m2 0h2m25 0h1m3 0h1m2 0h1m6 0h1m4 0h6m6 0h1m1 0h1"/>
<path class="j39" d="M0 0h1m2 0h2m2 0h1m94 0h1m4 0h1m37 0h3m1 0h1m1 0h2"/>
</g>
<g transform="translate(0,626.49) scale(1,54.949)">
<path class="j18" d="M227 0h1"/>
<path class="j20" d="M282 0h1"/>
<path class="j21" d="M251 0h1m31 0h3"/>
<path class="j22" d="M261 0h1m4 0h1m9 0h1m1 0h1m2 0h1"/>
<path class="j23" d="M275 0h1m1 0h1m1 0h2"/>
<path class="j25" d="M238 0h2m8 0h1m3 0h1m2 0h1"/>
<path class="j26" d="M234 0h4m2 0h3m1 0h4m2 0h1m3 0h1m1 0h3"/>
<path class="j27" d="M228 0h1m14 0h1m5 0h1m9 0h2m2 0h1"/>
<path class="j28" d="M162 0h1m19 0h1m13 0h1m2 0h2m24 0h2m2 0h1m32 0h1"/>
<path class="j29" d="M184 0h1m1 0h9m2 0h1m3 0h2"/>
<path class="j30" d="M108 0h2m62 0h1m2 0h3m2 0h2m1 0h1m1 0h1m12 0h1m4 0h5"/>
<path class="j31" d="M63 0h1m78 0h1m1 0h1m19 0h1m5 0h1m2 0h2m3 0h2m28 0h4m4 0h1"/>
<path class="j32" d="M18 0h1m33 0h1m9 0h1m33 0h1m2 0h1m2 0h2m1 0h2m3 0h1m4 0h1m49 0h5m1 0h1m23 0h1m16 0h2m1 0h1m1 0h1"/>
<path class="j33" d="M21 0h1m4 0h1m1 0h3m4 0h1m6 0h1m27 0h1m29 0h2m2 0h1m2 0h1m3 0h3m47 0h1m1 0h1"/>
<path class="j34" d="M1 0h2m2 0h2m2 0h1m2 0h1m3 0h1m5 0h4m1 0h1m3 0h4m1 0h3m2 0h1m1 0h1m2 0h2m1 0h2m4 0h3m1 0h3m3 0h1m2 0h2m2 0h1m1 0h1m1 0h1m3 0h1m1 0h1m3 0h1m2 0h1m5 0h1m1 0h2m15 0h1m1 0h1m1 0h3m1 0h2m1 0h1m17 0h1m14 0h3"/>
<path class="j35" d="M0 0h1m2 0h2m2 0h2m1 0h2m1 0h3m3 0h2m18 0h2m3 0h2m5 0h1m6 0h1m5 0h1m1 0h2m3 0h1m1 0h1m1 0h1m1 0h3m1 0h1m1 0h3m1 0h2m3 0h3m29 0h1m6 0h1m5 0h2m1 0h2m6 0h1m1 0h3"/>
<path class="j36" d="M17 0h1m30 0h1m4 0h2m35 0h2m25 0h1m3 0h1m14 0h1m2 0h1m5 0h3m1 0h1"/>
</g>
<g transform="translate(0,568.8) scale(1,60.444)">
<path class="j15" d="M227 0h1"/>
<path class="j17" d="M282 0h1"/>
<path class="j18" d="M251 0h1m32 0h1"/>
<path class="j19" d="M261 0h1m13 0h2m1 0h1m2 0h1m1 0h1m1 0h1"/>
<path class="j20" d="M277 0h1m1 0h2"/>
<path class="j21" d="M266 0h1"/>
<path class="j22" d="M239 0h1"/>
<path class="j23" d="M235 0h4m2 0h1m4 0h1m1 0h1m3 0h1m1 0h3m1 0h1"/>
<path class="j24" d="M234 0h1m5 0h1m1 0h4m1 0h1m2 0h1m6 0h1m1 0h1"/>
<path class="j25" d="M162 0h1m36 0h2m25 0h1m1 0h2m19 0h1m10 0h1m1 0h2"/>
<path class="j26" d="M182 0h1m3 0h2m2 0h1m5 0h2m27 0h1"/>
<path class="j27" d="M108 0h2m34 0h1m27 0h1m2 0h3m2 0h2m2 0h1m3 0h2m1 0h4m3 0h1m2 0h7"/>
<path class="j28" d="M63 0h1m32 0h1m45 0h1m21 0h2m4 0h1m2 0h2m3 0h2m3 0h1m1 0h1m22 0h4m4 0h1"/>
<path class="j29" d="M18 0h1m33 0h1m9 0h1m36 0h1m2 0h2m1 0h2m3 0h1m4 0h1m47 0h1m2 0h4m1 0h1m23 0h1m16 0h2m1 0h1m1 0h1"/>
<path class="j30" d="M29 0h1m27 0h1m2 0h2m6 0h3m26 0h1m2 0h2m2 0h1m2 0h1m3 0h3m44 0h1m2 0h1"/>
<path class="j31" d="M2 0h1m2 0h1m3 0h1m11 0h1m2 0h3m1 0h1m1 0h1m1 0h1m2 0h1m6 0h1m7 0h1m4 0h2m2 0h1m5 0h1m1 0h1m4 0h3m1 0h1m3 0h1m1 0h1m3 0h1m1 0h2m2 0h1m2 0h1m2 0h1m15 0h1m1 0h1m1 0h3m1 0h2m1 0h1m5 0h1m9 0h1m1 0h1m6 0h1m8 0h2"/>
<path class="j32" d="M1 0h1m4 0h1m1 0h1m1 0h3m2 0h2m5 0h2m3 0h1m3 0h1m1 0h2m1 0h3m2 0h1m1 0h1m2 0h2m1 0h1m1 0h1m6 0h1m5 0h1m1 0h1m4 0h1m3 0h1m1 0h3m1 0h1m1 0h3m1 0h1m3 0h1m1 0h2m26 0h1m2 0h1m11 0h3m1 0h1m5 0h1m1 0h1m2 0h2"/>
<path class="j33" d="M0 0h1m2 0h2m2 0h1m5 0h2m2 0h1m1 0h2m18 0h2m3 0h2m2 0h1m4 0h2m35 0h1m26 0h1m21 0h1m5 0h1m1 0h1m1 0h1"/>
</g>
<g transform="translate(0,505.33) scale(1,66.488)">
<path class="j12" d="M227 0h1"/>
<path class="j14" d="M282 0h1"/>
<path class="j15" d="M251 0h1m32 0h1"/>
<path class="j16" d="M261 0h1m14 0h1m8 0h1"/>
<path class="j17" d="M266 0h1m8 0h1m2 0h1m2 0h1m1 0h1"/>
<path class="j18" d="M277 0h1m1 0h2"/>
<path class="j19" d="M239 0h1m8 0h1"/>
<path class="j20" d="M235 0h4m2 0h1m4 0h1m5 0h1m1 0h3m1 0h1"/>
<path class="j21" d="M200 0h1m33 0h1m5 0h1m1 0h4m1 0h1m2 0h1m6 0h1m1 0h1"/>
<path class="j22" d="M162 0h1m19 0h1m16 0h1m25 0h2m1 0h2m19 0h1m10 0h1m1 0h2"/>
<path class="j23" d="M108 0h2m34 0h1m39 0h1m1 0h2m2 0h1m1 0h1m3 0h2m6 0h1m2 0h1"/>
<path class="j24" d="M142 0h1m29 0h1m1 0h4m2 0h2m3 0h1m2 0h2m1 0h1m1 0h2m3 0h1m2 0h3m1 0h2m2 0h1"/>
<path class="j25" d="M62 0h2m32 0h1m2 0h1m2 0h2m1 0h2m3 0h1m53 0h2m1 0h1m2 0h2m1 0h1m4 0h2m3 0h1m24 0h1m1 0h3m2 0h2"/>
<path class="j26" d="M18 0h1m33 0h1m17 0h1m29 0h2m2 0h1m2 0h1m4 0h1m2 0h1m47 0h1m2 0h1m1 0h2m25 0h1m17 0h1m3 0h1"/>
<path class="j27" d="M21 0h1m3 0h2m2 0h2m4 0h1m19 0h3m2 0h2m6 0h2m16 0h1m2 0h1m7 0h2m12 0h1m1 0h2m3 0h1m12 0h1m9 0h1m1 0h1m6 0h1m7 0h1m2 0h1"/>
<path class="j28" d="M1 0h2m2 0h2m2 0h1m2 0h1m3 0h1m5 0h3m2 0h2m3 0h3m1 0h3m3 0h1m7 0h2m7 0h1m5 0h1m1 0h1m4 0h3m1 0h1m3 0h1m1 0h1m1 0h1m3 0h1m3 0h2m1 0h1m20 0h1m2 0h2m1 0h2m1 0h1m10 0h1m1 0h1m1 0h1m7 0h1m2 0h2m6 0h2"/>
<path class="j29" d="M7 0h2m1 0h2m1 0h3m3 0h2m10 0h1m9 0h1m1 0h2m1 0h2m1 0h1m8 0h1m5 0h1m1 0h1m4 0h1m3 0h1m1 0h3m1 0h1m1 0h1m1 0h1m1 0h1m3 0h1m2 0h1m22 0h1m3 0h1m2 0h1m12 0h1m1 0h1m5 0h3m1 0h1"/>
<path class="j30" d="M0 0h1m2 0h2m12 0h1m21 0h2m4 0h1m2 0h1m4 0h2m35 0h1"/>
</g>
<g transform="translate(0,435.52) scale(1,73.137)">
<path class="j8" d="M227 0h1"/>
<path class="j10" d="M261 0h1"/>
<path class="j11" d="M251 0h1m30 0h1"/>
<path class="j12" d="M284 0h2"/>
<path class="j13" d="M266 0h1m9 0h1m4 0h1m1 0h1"/>
<path class="j14" d="M275 0h1m1 0h3"/>
<path class="j15" d="M237 0h1m1 0h1m8 0h1m3 0h1m2 0h2m1 0h1m21 0h1"/>
<path class="j16" d="M235 0h2m1 0h1m2 0h1m4 0h1m7 0h1m2 0h1m1 0h1m3 0h1"/>
<path class="j17" d="M225 0h2m7 0h1m5 0h1m1 0h4m1 0h1m2 0h1m9 0h1m1 0h1"/>
<path class="j18" d="M162 0h1m37 0h1m27 0h2m19 0h1"/>
<path class="j19" d="M182 0h1m1 0h1m1 0h2m8 0h1m2 0h1"/>
<path class="j20" d="M96 0h1m11 0h2m65 0h3m3 0h1m3 0h1m2 0h6m3 0h1m3 0h1m1 0h5"/>
<path class="j21" d="M62 0h2m80 0h1m27 0h1m1 0h1m5 0h1m2 0h1m10 0h1m3 0h1m3 0h1m6 0h4m2 0h2"/>
<path class="j22" d="M18 0h1m33 0h1m17 0h1m15 0h1m12 0h1m2 0h2m1 0h2m3 0h1m4 0h1m26 0h2m19 0h6m1 0h2m1 0h1m4 0h2m15 0h1m12 0h1m4 0h1m3 0h1"/>
<path class="j23" d="M21 0h1m3 0h2m2 0h2m4 0h1m19 0h3m2 0h2m6 0h2m2 0h1m1 0h1m1 0h1m3 0h1m1 0h1m5 0h2m2 0h1m2 0h1m1 0h2m1 0h2m2 0h1m2 0h1m3 0h2m1 0h1m25 0h2m8 0h1m7 0h1m2 0h1m7 0h1"/>
<path class="j24" d="M1 0h2m2 0h2m2 0h1m2 0h1m3 0h1m5 0h3m2 0h2m3 0h3m1 0h3m3 0h1m7 0h2m7 0h1m5 0h1m1 0h1m5 0h1m1 0h1m2 0h2m1 0h1m1 0h3m1 0h1m3 0h1m1 0h2m18 0h1m2 0h1m1 0h3m1 0h2m1 0h1m5 0h1m4 0h3m9 0h1m2 0h2m6 0h2"/>
<path class="j25" d="M7 0h2m1 0h2m2 0h2m3 0h2m10 0h1m9 0h1m1 0h2m1 0h2m1 0h1m3 0h1m4 0h1m5 0h1m1 0h1m4 0h1m5 0h1m12 0h1m26 0h1m3 0h1m2 0h1m14 0h1m5 0h3m1 0h1"/>
<path class="j26" d="M0 0h1m2 0h2m8 0h1m3 0h1m21 0h2m4 0h1m2 0h1m5 0h1"/>
</g>
<g transform="translate(0,358.73) scale(1,80.45)">
<path class="j4" d="M227 0h1"/>
<path class="j5" d="M261 0h1"/>
<path class="j6" d="M251 0h1"/>
<path class="j7" d="M282 0h1"/>
<path class="j8" d="M266 0h1m16 0h3"/>
<path class="j9" d="M276 0h1m4 0h1"/>
<path class="j10" d="M252 0h1m2 0h1m19 0h1m1 0h4"/>
<path class="j11" d="M237 0h3m8 0h1m5 0h1m1 0h4"/>
<path class="j12" d="M200 0h1m33 0h3m4 0h2m1 0h4m2 0h1m9 0h1m1 0h2"/>
<path class="j13" d="M162 0h1m33 0h1m2 0h1m26 0h1m1 0h2m10 0h1m2 0h1m5 0h1"/>
<path class="j14" d="M108 0h2m72 0h1m1 0h1m1 0h2m2 0h1m1 0h1m4 0h1m3 0h7m17 0h1"/>
<path class="j15" d="M177 0h1m3 0h1m3 0h1m2 0h2m1 0h1m1 0h2m3 0h1m10 0h3m4 0h1"/>
<path class="j16" d="M62 0h2m32 0h1m5 0h2m1 0h2m3 0h1m61 0h1m1 0h3m3 0h1m2 0h1m24 0h1m3 0h2m1 0h1m1 0h1"/>
<path class="j17" d="M18 0h1m80 0h2m6 0h1m3 0h2m27 0h2m1 0h2m19 0h4m2 0h2m1 0h1m4 0h2m15 0h1"/>
<path class="j18" d="M52 0h1m2 0h3m2 0h2m8 0h1m26 0h2m2 0h1m2 0h1m8 0h3m2 0h1m23 0h1m17 0h2m1 0h1m4 0h2"/>
<path class="j19" d="M16 0h1m4 0h1m1 0h4m2 0h2m1 0h1m2 0h1m23 0h1m5 0h1m1 0h3m2 0h3m1 0h1m3 0h1m1 0h1m1 0h1m1 0h1m1 0h2m5 0h1m20 0h1m2 0h2m1 0h2m7 0h1m7 0h1m10 0h1m7 0h2"/>
<path class="j20" d="M1 0h2m2 0h2m2 0h1m1 0h2m1 0h1m4 0h2m1 0h1m4 0h2m5 0h1m1 0h1m5 0h1m4 0h1m1 0h3m1 0h2m3 0h1m5 0h1m1 0h1m4 0h1m3 0h1m2 0h2m1 0h1m1 0h1m1 0h1m1 0h1m3 0h4m22 0h1m7 0h1m10 0h3m6 0h5m1 0h2"/>
<path class="j21" d="M3 0h2m2 0h2m1 0h1m2 0h1m1 0h1m1 0h1m13 0h1m1 0h1m3 0h3m1 0h1m1 0h4m1 0h1m28 0h1m12 0h1m30 0h1m2 0h1"/>
<path class="j22" d="M0 0h1m39 0h1"/>
</g>
<g transform="translate(0,308.3) scale(1,20.402)">
<path class="j0" d="M227 0h1"/>
<path class="j2" d="M251 0h1m9 0h1m20 0h1m1 0h2"/>
<path class="j3" d="M283 0h1"/>
<path class="j4" d="M276 0h1m2 0h1m1 0h1"/>
<path class="j5" d="M252 0h1m22 0h1m1 0h2m1 0h1"/>
<path class="j6" d="M238 0h1m9 0h1m6 0h1"/>
<path class="j7" d="M234 0h2m1 0h1m1 0h1m1 0h2m1 0h4m1 0h2m3 0h1m1 0h2m1 0h1m6 0h1"/>
<path class="j8" d="M196 0h1m3 0h1m27 0h2m6 0h1m3 0h1m2 0h1m14 0h1m1 0h1m1 0h1"/>
<path class="j9" d="M162 0h1m34 0h1m1 0h1m1 0h1m1 0h1m21 0h2m36 0h1"/>
<path class="j10" d="M62 0h1m33 0h1m11 0h2m72 0h1m1 0h1m1 0h7m1 0h1m3 0h1m3 0h1m1 0h4m3 0h1"/>
<path class="j11" d="M63 0h1m108 0h1m1 0h1m1 0h2m2 0h2m3 0h1m7 0h1m15 0h2"/>
<path class="j12" d="M99 0h1m2 0h2m1 0h3m2 0h1m1 0h1m27 0h4m20 0h1m1 0h2m2 0h1m4 0h1m2 0h2m3 0h1m24 0h1m3 0h2m1 0h3"/>
<path class="j13" d="M18 0h1m42 0h1m5 0h1m1 0h2m26 0h2m1 0h2m2 0h1m6 0h1m1 0h4m1 0h3m18 0h1m4 0h1m14 0h3m1 0h1m1 0h1m2 0h2m1 0h1m1 0h1m21 0h1"/>
<path class="j14" d="M9 0h1m2 0h1m3 0h1m4 0h1m30 0h1m2 0h1m1 0h1m1 0h2m3 0h3m1 0h1m3 0h3m5 0h1m1 0h1m1 0h3m1 0h2m3 0h3m21 0h1m4 0h2m13 0h1m10 0h1m1 0h1m7 0h1"/>
<path class="j15" d="M1 0h2m1 0h3m4 0h1m2 0h1m4 0h2m1 0h5m1 0h3m1 0h1m2 0h1m13 0h2m2 0h1m2 0h1m1 0h1m12 0h1m3 0h2m1 0h1m2 0h1m1 0h1m3 0h1m2 0h3m28 0h1m2 0h2m5 0h1m4 0h1m1 0h1m6 0h1m1 0h1m1 0h1m1 0h2"/>
<path class="j16" d="M0 0h1m2 0h1m3 0h2m1 0h1m2 0h1m1 0h1m1 0h1m9 0h1m3 0h1m2 0h1m1 0h2m1 0h1m1 0h3m1 0h1m1 0h1m3 0h1m2 0h1m22 0h1m1 0h1m66 0h1"/>
<path class="j17" d="M33 0h1m4 0h1m1 0h1m3 0h1m1 0h1m1 0h1"/>
</g>
</g>
<g fill="#000">
<circle cx="383.72" cy="929.01" r="3.9"/><circle cx="392.85" cy="926.98" r="3.9"/><circle cx="401.98" cy="926.98" r="3.9"/><circle cx="411.11" cy="934.19" r="3.9"/><circle cx="420.24" cy="981.29" r="3.9"/><circle cx="429.37" cy="995.26" r="3.9"/><circle cx="438.5" cy="1006.07" r="3.9"/><circle cx="447.63" cy="1008.55" r="3.9"/><circle cx="456.76" cy="1024.1" r="3.9"/><circle cx="465.89" cy="1046.63" r="3.9"/><circle cx="475.02" cy="1053.61" r="3.9"/><circle cx="484.15" cy="1053.61" r="3.9"/><circle cx="493.28" cy="986.02" r="3.9"/><circle cx="502.41" cy="974.75" r="3.9"/><circle cx="511.54" cy="970.02" r="3.9"/><circle cx="520.67" cy="967.54" r="3.9"/><circle cx="529.8" cy="988.5" r="3.9"/><circle cx="538.93" cy="995.26" r="3.9"/><circle cx="548.06" cy="995.26" r="3.9"/><circle cx="557.19" cy="986.02" r="3.9"/><circle cx="566.33" cy="974.75" r="3.9"/><circle cx="575.46" cy="972.5" r="3.9"/><circle cx="584.59" cy="972.5" r="3.9"/><circle cx="593.72" cy="972.5" r="3.9"/><circle cx="602.85" cy="972.5" r="3.9"/><circle cx="611.98" cy="965.51" r="3.9"/><circle cx="621.11" cy="956.27" r="3.9"/><circle cx="630.24" cy="954.25" r="3.9"/><circle cx="639.37" cy="954.25" r="3.9"/><circle cx="648.5" cy="959.2" r="3.9"/><circle cx="657.63" cy="961.23" r="3.9"/><circle cx="666.76" cy="961.23" r="3.9"/><circle cx="675.89" cy="959.2" r="3.9"/><circle cx="685.02" cy="959.2" r="3.9"/><circle cx="694.15" cy="959.2" r="3.9"/><circle cx="703.28" cy="959.2" r="3.9"/><circle cx="712.41" cy="965.51" r="3.9"/><circle cx="721.54" cy="967.99" r="3.9"/><circle cx="730.67" cy="970.02" r="3.9"/><circle cx="739.8" cy="972.5" r="3.9"/><circle cx="748.94" cy="967.54" r="3.9"/><circle cx="758.07" cy="965.51" r="3.9"/><circle cx="767.2" cy="967.99" r="3.9"/><circle cx="776.33" cy="960.78" r="3.9"/><circle cx="785.46" cy="949.51" r="3.9"/><circle cx="794.59" cy="945.01" r="3.9"/><circle cx="803.72" cy="945.01" r="3.9"/><circle cx="812.85" cy="945.01" r="3.9"/><circle cx="821.98" cy="947.26" r="3.9"/><circle cx="831.11" cy="949.51" r="3.9"/><circle cx="840.24" cy="949.51" r="3.9"/><circle cx="849.37" cy="1066.46" r="3.9"/><circle cx="858.5" cy="1055.19" r="3.9"/><circle cx="867.63" cy="985.34" r="3.9"/><circle cx="876.76" cy="1021.39" r="3.9"/><circle cx="885.89" cy="1025.9" r="3.9"/><circle cx="895.02" cy="1053.16" r="3.9"/><circle cx="904.15" cy="1057.67" r="3.9"/><circle cx="913.28" cy="1055.19" r="3.9"/><circle cx="922.41" cy="1041.67" r="3.9"/><circle cx="931.55" cy="1041.67" r="3.9"/><circle cx="940.68" cy="1010.13" r="3.9"/><circle cx="949.81" cy="976.1" r="3.9"/><circle cx="958.94" cy="972.05" r="3.9"/><circle cx="968.07" cy="972.05" r="3.9"/><circle cx="977.2" cy="966.86" r="3.9"/><circle cx="986.33" cy="951.54" r="3.9"/><circle cx="995.46" cy="951.54" r="3.9"/><circle cx="1004.59" cy="954.02" r="3.9"/><circle cx="1013.72" cy="958.53" r="3.9"/><circle cx="1022.85" cy="962.81" r="3.9"/><circle cx="1031.98" cy="960.78" r="3.9"/><circle cx="1041.11" cy="956.05" r="3.9"/><circle cx="1050.24" cy="951.54" r="3.9"/><circle cx="1059.37" cy="951.54" r="3.9"/><circle cx="1068.5" cy="956.05" r="3.9"/><circle cx="1077.63" cy="956.05" r="3.9"/><circle cx="1086.76" cy="951.99" r="3.9"/><circle cx="1095.89" cy="953.57" r="3.9"/><circle cx="1105.02" cy="951.54" r="3.9"/><circle cx="1114.16" cy="949.51" r="3.9"/><circle cx="1123.29" cy="953.57" r="3.9"/><circle cx="1132.42" cy="953.57" r="3.9"/><circle cx="1141.55" cy="956.05" r="3.9"/><circle cx="1150.68" cy="960.78" r="3.9"/><circle cx="1159.81" cy="960.78" r="3.9"/><circle cx="1168.94" cy="971.6" r="3.9"/><circle cx="1178.07" cy="969.57" r="3.9"/><circle cx="1187.2" cy="962.81" r="3.9"/><circle cx="1196.33" cy="962.81" r="3.9"/><circle cx="1205.46" cy="949.51" r="3.9"/><circle cx="1214.59" cy="949.51" r="3.9"/><circle cx="1223.72" cy="949.51" r="3.9"/><circle cx="1232.85" cy="944.78" r="3.9"/><circle cx="1241.98" cy="956.05" r="3.9"/><circle cx="1251.11" cy="976.1" r="3.9"/><circle cx="1260.24" cy="1000.89" r="3.9"/><circle cx="1269.37" cy="1014.63" r="3.9"/><circle cx="1278.5" cy="998.64" r="3.9"/><circle cx="1287.63" cy="989.85" r="3.9"/><circle cx="1296.77" cy="994.58" r="3.9"/><circle cx="1305.9" cy="1014.63" r="3.9"/><circle cx="1315.03" cy="1007.87" r="3.9"/><circle cx="1324.16" cy="1014.63" r="3.9"/><circle cx="1333.29" cy="1014.63" r="3.9"/><circle cx="1342.42" cy="1012.61" r="3.9"/><circle cx="1351.55" cy="1010.13" r="3.9"/><circle cx="1360.68" cy="994.58" r="3.9"/><circle cx="1369.81" cy="969.57" r="3.9"/><circle cx="1378.94" cy="969.57" r="3.9"/><circle cx="1388.07" cy="980.83" r="3.9"/><circle cx="1397.2" cy="989.85" r="3.9"/><circle cx="1406.33" cy="1012.61" r="3.9"/><circle cx="1415.46" cy="1019.14" r="3.9"/><circle cx="1424.59" cy="987.37" r="3.9"/><circle cx="1433.72" cy="978.36" r="3.9"/><circle cx="1442.85" cy="980.83" r="3.9"/><circle cx="1451.98" cy="989.85" r="3.9"/><circle cx="1461.11" cy="982.86" r="3.9"/><circle cx="1470.24" cy="994.58" r="3.9"/><circle cx="1479.38" cy="978.36" r="3.9"/><circle cx="1488.51" cy="1016.66" r="3.9"/><circle cx="1497.64" cy="1032.66" r="3.9"/><circle cx="1506.77" cy="1039.19" r="3.9"/><circle cx="1515.9" cy="1045.95" r="3.9"/><circle cx="1525.03" cy="1077.72" r="3.9"/><circle cx="1579.81" cy="1007.87" r="2.6"/><circle cx="1625.46" cy="897.24" r="3.9"/><circle cx="1634.59" cy="903.77" r="3.9"/><circle cx="1643.72" cy="908.51" r="3.9"/><circle cx="1652.85" cy="910.98" r="3.9"/><circle cx="1661.99" cy="913.01" r="3.9"/><circle cx="1671.12" cy="919.77" r="3.9"/><circle cx="1680.25" cy="913.01" r="3.9"/><circle cx="1689.38" cy="922.25" r="3.9"/><circle cx="1698.51" cy="931.04" r="3.9"/><circle cx="1707.64" cy="935.54" r="3.9"/><circle cx="1716.77" cy="951.54" r="3.9"/><circle cx="1725.9" cy="978.58" r="3.9"/><circle cx="1735.03" cy="1021.39" r="3.9"/><circle cx="1744.16" cy="1059.7" r="3.9"/><circle cx="1753.29" cy="1070.96" r="3.9"/><circle cx="1762.42" cy="1082.23" r="3.9"/><circle cx="1771.55" cy="1084.48" r="3.9"/><circle cx="1826.33" cy="1043.93" r="3.9"/><circle cx="1835.46" cy="1082.23" r="3.9"/><circle cx="1844.6" cy="1070.96" r="3.9"/><circle cx="1853.73" cy="1059.7" r="3.9"/><circle cx="1862.86" cy="1059.7" r="3.9"/><circle cx="1871.99" cy="1037.17" r="3.9"/><circle cx="1881.12" cy="1069.84" r="3.9"/><circle cx="1890.25" cy="1079.75" r="3.9"/><circle cx="1899.38" cy="1073.22" r="3.9"/><circle cx="1908.51" cy="1079.75" r="3.9"/><circle cx="1917.64" cy="1070.96" r="3.9"/><circle cx="1926.77" cy="1045.95" r="3.9"/><circle cx="1935.9" cy="877.19" r="3.9"/><circle cx="1945.03" cy="872.45" r="3.9"/><circle cx="1954.16" cy="872.45" r="3.9"/><circle cx="1963.29" cy="874.71" r="3.9"/><circle cx="1972.42" cy="872.45" r="3.9"/><circle cx="1981.55" cy="865.92" r="3.9"/><circle cx="1990.68" cy="863.67" r="3.9"/><circle cx="1999.81" cy="852.4" r="3.9"/><circle cx="2008.94" cy="847.89" r="3.9"/><circle cx="2018.07" cy="843.39" r="3.9"/><circle cx="2027.21" cy="843.39" r="3.9"/><circle cx="2036.34" cy="845.87" r="3.9"/><circle cx="2045.47" cy="848.34" r="3.9"/><circle cx="2054.6" cy="854.65" r="3.9"/><circle cx="2063.73" cy="863.44" r="3.9"/><circle cx="2072.86" cy="872.45" r="3.9"/><circle cx="2081.99" cy="877.19" r="3.9"/><circle cx="2091.12" cy="886.42" r="3.9"/><circle cx="2100.25" cy="908.96" r="3.9"/><circle cx="2109.38" cy="922.25" r="3.9"/><circle cx="2118.51" cy="942.3" r="3.9"/><circle cx="2127.64" cy="946.81" r="3.9"/><circle cx="2136.77" cy="967.32" r="3.9"/><circle cx="2145.9" cy="992.1" r="3.9"/><circle cx="2155.03" cy="838.65" r="3.9"/><circle cx="2182.42" cy="978.36" r="3.9"/><circle cx="2191.55" cy="908.51" r="3.9"/><circle cx="2200.68" cy="906.48" r="3.9"/><circle cx="2209.82" cy="897.24" r="3.9"/><circle cx="2218.95" cy="855.78" r="3.9"/><circle cx="2228.08" cy="874.93" r="3.9"/><circle cx="2237.21" cy="874.93" r="3.9"/><circle cx="2246.34" cy="872.45" r="3.9"/><circle cx="2255.47" cy="889.58" r="3.9"/><circle cx="2264.6" cy="835.27" r="3.9"/><circle cx="2273.73" cy="1053.39" r="3.9"/><circle cx="2282.86" cy="1062.63" r="3.9"/><circle cx="2291.99" cy="1019.59" r="3.9"/><circle cx="2301.12" cy="1019.14" r="3.9"/><circle cx="2310.25" cy="1003.37" r="3.9"/><circle cx="2319.38" cy="1005.4" r="3.9"/><circle cx="2328.51" cy="971.6" r="3.9"/><circle cx="2346.77" cy="895.89" r="3.9"/><circle cx="2355.9" cy="915.49" r="3.9"/><circle cx="2365.03" cy="946.81" r="3.9"/><circle cx="2438.08" cy="926.76" r="3.9"/><circle cx="2447.21" cy="942.3" r="3.9"/><circle cx="2456.34" cy="1082.01" r="3.9"/><circle cx="2465.47" cy="1113.78" r="3.9"/><circle cx="2474.6" cy="1125.04" r="3.9"/><circle cx="2520.25" cy="854.65" r="3.9"/><circle cx="2529.38" cy="842.03" r="3.9"/><circle cx="2538.51" cy="856.68" r="3.9"/><circle cx="2547.64" cy="937.8" r="3.9"/><circle cx="2556.77" cy="962.81" r="3.9"/><circle cx="2565.9" cy="937.8" r="3.9"/><circle cx="2575.04" cy="922.25" r="3.9"/><circle cx="2584.17" cy="899.72" r="3.9"/><circle cx="2593.3" cy="822.88" r="3.9"/><circle cx="2602.43" cy="899.72" r="3.9"/><circle cx="2611.56" cy="904.22" r="3.9"/><circle cx="2620.69" cy="780.07" r="3.9"/><circle cx="2629.82" cy="745.14" r="3.9"/><circle cx="2638.95" cy="741.76" r="3.9"/><circle cx="2648.08" cy="768.8" r="3.9"/><circle cx="2657.21" cy="976.1" r="3.9"/><circle cx="2666.34" cy="985.34" r="3.9"/><circle cx="2675.47" cy="1003.37" r="3.9"/><circle cx="2684.6" cy="1025.9" r="3.9"/><circle cx="2702.86" cy="728.47" r="3.9"/><circle cx="2711.99" cy="727.12" r="3.9"/><circle cx="2721.12" cy="735.01" r="3.9"/><circle cx="2730.25" cy="747.62" r="3.9"/><circle cx="2739.38" cy="874.93" r="3.9"/><circle cx="2748.51" cy="762.27" r="3.9"/><circle cx="2757.65" cy="926.76" r="3.9"/><circle cx="2766.78" cy="960.78" r="3.9"/><circle cx="2775.91" cy="917.74" r="3.9"/><circle cx="2785.04" cy="910.98" r="3.9"/><circle cx="2812.43" cy="982.86" r="2.6"/><circle cx="2894.6" cy="964.84" r="3.9"/><circle cx="2903.73" cy="967.32" r="3.9"/><circle cx="2912.86" cy="949.06" r="3.9"/><circle cx="2921.99" cy="825.36" r="3.9"/><circle cx="2931.12" cy="796.07" r="3.9"/><circle cx="2940.26" cy="785.93" r="3.9"/><circle cx="2949.39" cy="737.48" r="3.9"/><circle cx="2958.52" cy="940.28" r="3.9"/>
</g>
<circle cx="2522.3" cy="469.4" r="3.9" fill="#000"/>
<text font-size="38.2" fill="#000" x="2636.5" y="482.6">Cloud Base OE</text>
<g font-size="44.3" fill="#0072bd" text-anchor="end">
<text x="349.2" y="1216">0</text>
<text x="349.2" y="1103.34">0.5</text>
<text x="349.2" y="990.68">1</text>
<text x="349.2" y="878.01">1.5</text>
<text x="349.2" y="765.35">2</text>
<text x="349.2" y="652.69">2.5</text>
<text x="349.2" y="540.03">3</text>
<text x="349.2" y="427.36">3.5</text>
<text x="349.2" y="314.7">4</text>
</g>
<g font-size="44.3" fill="#262626" text-anchor="middle">
<text x="372.9" y="1265.5">0</text>
<text x="921.02" y="1265.5">5</text>
<text x="1469.15" y="1265.5">10</text>
<text x="2017.28" y="1265.5">15</text>
<text x="2565.4" y="1265.5">20</text>
</g>
<text font-size="44.7" fill="#262626" text-anchor="middle" x="1689.9" y="1329.4">UTC hours on 20240516</text>
<text font-size="44.4" fill="#0072bd" text-anchor="middle" transform="translate(244.8,752.35) rotate(-90)">Altitude, km AMSL</text>
<g shape-rendering="crispEdges">
<rect fill="#00008f" x="3068.2" y="1179.81" width="140.4" height="14.39"/>
<rect fill="#00009f" x="3068.2" y="1165.91" width="140.4" height="14.39"/>
<rect fill="#0000af" x="3068.2" y="1152.02" width="140.4" height="14.39"/>
<rect fill="#0000bf" x="3068.2" y="1138.12" width="140.4" height="14.39"/>
<rect fill="#0000cf" x="3068.2" y="1124.23" width="140.4" height="14.39"/>
<rect fill="#0000df" x="3068.2" y="1110.34" width="140.4" height="14.39"/>
<rect fill="#0000ef" x="3068.2" y="1096.44" width="140.4" height="14.39"/>
<rect fill="#0000ff" x="3068.2" y="1082.55" width="140.4" height="14.39"/>
<rect fill="#0010ff" x="3068.2" y="1068.66" width="140.4" height="14.39"/>
<rect fill="#0020ff" x="3068.2" y="1054.76" width="140.4" height="14.39"/>
<rect fill="#0030ff" x="3068.2" y="1040.87" width="140.4" height="14.39"/>
<rect fill="#0040ff" x="3068.2" y="1026.97" width="140.4" height="14.39"/>
<rect fill="#0050ff" x="3068.2" y="1013.08" width="140.4" height="14.39"/>
<rect fill="#0060ff" x="3068.2" y="999.19" width="140.4" height="14.39"/>
<rect fill="#0070ff" x="3068.2" y="985.29" width="140.4" height="14.39"/>
<rect fill="#0080ff" x="3068.2" y="971.4" width="140.4" height="14.39"/>
<rect fill="#008fff" x="3068.2" y="957.51" width="140.4" height="14.39"/>
<rect fill="#009fff" x="3068.2" y="943.61" width="140.4" height="14.39"/>
<rect fill="#00afff" x="3068.2" y="929.72" width="140.4" height="14.39"/>
<rect fill="#00bfff" x="3068.2" y="915.83" width="140.4" height="14.39"/>
<rect fill="#00cfff" x="3068.2" y="901.93" width="140.4" height="14.39"/>
<rect fill="#00dfff" x="3068.2" y="888.04" width="140.4" height="14.39"/>
<rect fill="#00efff" x="3068.2" y="874.14" width="140.4" height="14.39"/>
<rect fill="#00ffff" x="3068.2" y="860.25" width="140.4" height="14.39"/>
<rect fill="#10ffef" x="3068.2" y="846.36" width="140.4" height="14.39"/>
<rect fill="#20ffdf" x="3068.2" y="832.46" width="140.4" height="14.39"/>
<rect fill="#30ffcf" x="3068.2" y="818.57" width="140.4" height="14.39"/>
<rect fill="#40ffbf" x="3068.2" y="804.67" width="140.4" height="14.39"/>
<rect fill="#50ffaf" x="3068.2" y="790.78" width="140.4" height="14.39"/>
<rect fill="#60ff9f" x="3068.2" y="776.89" width="140.4" height="14.39"/>
<rect fill="#70ff8f" x="3068.2" y="762.99" width="140.4" height="14.39"/>
<rect fill="#80ff80" x="3068.2" y="749.1" width="140.4" height="14.39"/>
<rect fill="#8fff70" x="3068.2" y="735.21" width="140.4" height="14.39"/>
<rect fill="#9fff60" x="3068.2" y="721.31" width="140.4" height="14.39"/>
<rect fill="#afff50" x="3068.2" y="707.42" width="140.4" height="14.39"/>
<rect fill="#bfff40" x="3068.2" y="693.53" width="140.4" height="14.39"/>
<rect fill="#cfff30" x="3068.2" y="679.63" width="140.4" height="14.39"/>
<rect fill="#dfff20" x="3068.2" y="665.74" width="140.4" height="14.39"/>
<rect fill="#efff10" x="3068.2" y="651.84" width="140.4" height="14.39"/>
<rect fill="#ffff00" x="3068.2" y="637.95" width="140.4" height="14.39"/>
<rect fill="#ffef00" x="3068.2" y="624.06" width="140.4" height="14.39"/>
<rect fill="#ffdf00" x="3068.2" y="610.16" width="140.4" height="14.39"/>
<rect fill="#ffcf00" x="3068.2" y="596.27" width="140.4" height="14.39"/>
<rect fill="#ffbf00" x="3068.2" y="582.38" width="140.4" height="14.39"/>
<rect fill="#ffaf00" x="3068.2" y="568.48" width="140.4" height="14.39"/>
<rect fill="#ff9f00" x="3068.2" y="554.59" width="140.4" height="14.39"/>
<rect fill="#ff8f00" x="3068.2" y="540.69" width="140.4" height="14.39"/>
<rect fill="#ff8000" x="3068.2" y="526.8" width="140.4" height="14.39"/>
<rect fill="#ff7000" x="3068.2" y="512.91" width="140.4" height="14.39"/>
<rect fill="#ff6000" x="3068.2" y="499.01" width="140.4" height="14.39"/>
<rect fill="#ff5000" x="3068.2" y="485.12" width="140.4" height="14.39"/>
<rect fill="#ff4000" x="3068.2" y="471.23" width="140.4" height="14.39"/>
<rect fill="#ff3000" x="3068.2" y="457.33" width="140.4" height="14.39"/>
<rect fill="#ff2000" x="3068.2" y="443.44" width="140.4" height="14.39"/>
<rect fill="#ff1000" x="3068.2" y="429.54" width="140.4" height="14.39"/>
<rect fill="#ff0000" x="3068.2" y="415.65" width="140.4" height="14.39"/>
<rect fill="#ef0000" x="3068.2" y="401.76" width="140.4" height="14.39"/>
<rect fill="#df0000" x="3068.2" y="387.86" width="140.4" height="14.39"/>
<rect fill="#cf0000" x="3068.2" y="373.97" width="140.4" height="14.39"/>
<rect fill="#bf0000" x="3068.2" y="360.08" width="140.4" height="14.39"/>
<rect fill="#af0000" x="3068.2" y="346.18" width="140.4" height="14.39"/>
<rect fill="#9f0000" x="3068.2" y="332.29" width="140.4" height="14.39"/>
<rect fill="#8f0000" x="3068.2" y="318.39" width="140.4" height="14.39"/>
<rect fill="#800000" x="3068.2" y="304.5" width="140.4" height="14.39"/>
</g>
<rect x="3068.2" y="304.5" width="140.4" height="889.2" fill="none" stroke="#262626" stroke-width="2.6"/>
<path d="M3208.6 1063.73h-10.5M3208.6 912.25h-10.5M3208.6 760.76h-10.5M3208.6 609.28h-10.5M3208.6 457.8h-10.5M3208.6 306.32h-10.5" stroke="#262626" stroke-width="2" fill="none"/>
<g font-size="38.2" fill="#262626">
<text x="3229.2" y="1076.93">-10</text>
<text x="3229.2" y="925.45">-5</text>
<text x="3229.2" y="773.96">0</text>
<text x="3229.2" y="622.48">5</text>
<text x="3229.2" y="471">10</text>
<text x="3229.2" y="319.52">15</text>
</g>
<text font-size="39.0" fill="#262626" text-anchor="middle" transform="translate(3350.4,756.2) rotate(-90)">Temperature, K</text>
</g>
<g id="panel2">
<g stroke="#262626" stroke-width="2" fill="none">
<path d="M373.4 2322.6H3006.4"/>
<path d="M922.52 2322.6v-26.3M1470.65 2322.6v-26.3M2018.78 2322.6v-26.3M2566.9 2322.6v-26.3"/>
</g>
<g stroke="#0072bd" stroke-width="2" fill="none">
<path d="M374.4 1420.8V2323.6"/>
<path stroke-width="1.8" d="M3005.4 1421.3V2323.6"/>
<path d="M374.4 2322.6h27.3M374.4 2209.94h27.3M374.4 2097.28h27.3M374.4 1984.61h27.3M374.4 1871.95h27.3M374.4 1759.29h27.3M374.4 1646.62h27.3M374.4 1533.96h27.3M374.4 1421.3h27.3"/>
</g>
<g transform="translate(379.15,0) scale(9.1305,1)" shape-rendering="crispEdges" fill="none" stroke-width="1">
<g transform="translate(0,2304.6) scale(1,3.2)">
<path class="j37" d="M285 0h1"/>
<path class="j38" d="M282 0h1m1 0h1"/>
<path class="j39" d="M283 0h1"/>
<path class="j40" d="M280 0h1"/>
<path class="j41" d="M281 0h1"/>
<path class="j43" d="M275 0h5"/>
<path class="j44" d="M80 0h2m1 0h2m176 0h1"/>
<path class="j45" d="M82 0h1"/>
<path class="j46" d="M177 0h5m69 0h1"/>
<path class="j47" d="M173 0h4m5 0h3m61 0h1m16 0h1"/>
<path class="j48" d="M79 0h1m27 0h1m62 0h2m13 0h1m59 0h1m11 0h2m1 0h1m1 0h1"/>
<path class="j49" d="M5 0h1m21 0h5m8 0h1m2 0h1m31 0h4m6 0h2m17 0h1m67 0h1m74 0h4m8 0h1"/>
<path class="j50" d="M1 0h4m1 0h6m1 0h2m1 0h1m2 0h1m3 0h4m5 0h3m1 0h4m1 0h2m1 0h2m1 0h1m1 0h1m14 0h1m1 0h2m19 0h1m1 0h1m1 0h1m8 0h2m1 0h1m2 0h1m14 0h1m115 0h1m16 0h1"/>
<path class="j51" d="M0 0h1m14 0h1m1 0h2m1 0h3m12 0h1m10 0h1m1 0h1m1 0h2m13 0h1m2 0h5m1 0h1m15 0h1m1 0h4m6 0h1m2 0h1m5 0h1m10 0h2m40 0h1m21 0h3m45 0h3m6 0h1m11 0h2"/>
<path class="j52" d="M12 0h1m60 0h1m14 0h1m7 0h1m1 0h1m9 0h3m1 0h7m1 0h1m22 0h3m1 0h1m1 0h1m13 0h1m4 0h2m19 0h1m1 0h2m23 0h2m20 0h5"/>
<path class="j53" d="M52 0h2m1 0h1m1 0h4m38 0h1m19 0h1m16 0h7m3 0h1m1 0h1m1 0h3m12 0h3m22 0h1m2 0h1m1 0h3m2 0h1m1 0h1m2 0h2m8 0h1m9 0h2m17 0h1"/>
<path class="j54" d="M54 0h1m6 0h1m1 0h1m33 0h1m26 0h2m5 0h1m27 0h2m33 0h1m3 0h2m1 0h1m1 0h2m2 0h3m2 0h2"/>
<path class="j55" d="M62 0h1m98 0h1m49 0h1"/>
<path class="j56" d="M162 0h1m47 0h1m16 0h1"/>
<path class="j57" d="M158 0h1m69 0h2"/>
<path class="j62" d="M56 0h1m209 0h1"/>
<path class="j63" d="M252 0h1"/>
</g>
<g transform="translate(0,2301.81) scale(1,2.366)">
<path class="j37" d="M285 0h1"/>
<path class="j38" d="M282 0h1m1 0h1"/>
<path class="j39" d="M283 0h1"/>
<path class="j40" d="M280 0h1"/>
<path class="j41" d="M281 0h1"/>
<path class="j43" d="M275 0h5"/>
<path class="j44" d="M80 0h2m1 0h2m176 0h1"/>
<path class="j45" d="M82 0h1"/>
<path class="j46" d="M177 0h5m69 0h1"/>
<path class="j47" d="M173 0h4m5 0h3m61 0h1m16 0h1"/>
<path class="j48" d="M79 0h1m27 0h1m62 0h2m13 0h1m59 0h1m11 0h2m1 0h1m1 0h1"/>
<path class="j49" d="M5 0h1m21 0h5m8 0h1m2 0h1m31 0h4m6 0h2m17 0h1m67 0h1m74 0h4m8 0h1"/>
<path class="j50" d="M1 0h4m1 0h6m1 0h2m1 0h1m2 0h1m3 0h4m5 0h3m1 0h4m1 0h2m1 0h2m1 0h1m1 0h1m14 0h1m1 0h2m19 0h1m1 0h1m1 0h1m8 0h2m1 0h1m2 0h1m14 0h1m115 0h1m16 0h1"/>
<path class="j51" d="M0 0h1m14 0h1m1 0h2m1 0h3m12 0h1m10 0h1m1 0h1m1 0h2m13 0h1m2 0h5m1 0h1m15 0h1m1 0h4m6 0h1m2 0h1m5 0h1m10 0h2m40 0h1m21 0h3m45 0h3m6 0h1m11 0h2"/>
<path class="j52" d="M12 0h1m60 0h1m14 0h1m7 0h1m1 0h1m9 0h3m1 0h7m1 0h1m22 0h3m1 0h1m1 0h1m13 0h1m4 0h2m19 0h1m1 0h2m23 0h2m20 0h5"/>
<path class="j53" d="M52 0h2m1 0h1m1 0h4m38 0h1m19 0h1m16 0h7m3 0h1m1 0h1m1 0h3m12 0h3m22 0h1m2 0h1m1 0h3m2 0h1m1 0h1m2 0h2m8 0h1m9 0h2m17 0h1"/>
<path class="j54" d="M54 0h1m6 0h1m1 0h1m33 0h1m26 0h2m5 0h1m27 0h2m33 0h1m3 0h2m1 0h1m1 0h2m2 0h3m2 0h2"/>
<path class="j55" d="M62 0h1m98 0h1m49 0h1"/>
<path class="j56" d="M162 0h1m47 0h1m16 0h1"/>
<path class="j57" d="M158 0h1m69 0h2"/>
<path class="j62" d="M56 0h1m209 0h1"/>
<path class="j63" d="M252 0h1"/>
</g>
<g transform="translate(0,2299.33) scale(1,2.603)">
<path class="j37" d="M285 0h1"/>
<path class="j38" d="M282 0h1m1 0h1"/>
<path class="j39" d="M283 0h1"/>
<path class="j40" d="M280 0h1"/>
<path class="j41" d="M281 0h1"/>
<path class="j43" d="M275 0h5"/>
<path class="j44" d="M80 0h2m1 0h2m176 0h1"/>
<path class="j45" d="M82 0h1"/>
<path class="j46" d="M177 0h5m69 0h1"/>
<path class="j47" d="M173 0h4m5 0h3m61 0h1m16 0h1"/>
<path class="j48" d="M79 0h1m27 0h1m62 0h1m14 0h1m59 0h1m11 0h2m1 0h1m1 0h1"/>
<path class="j49" d="M5 0h1m21 0h5m8 0h1m2 0h1m31 0h4m6 0h2m17 0h1m66 0h2m74 0h4m8 0h1"/>
<path class="j50" d="M1 0h4m1 0h6m1 0h2m1 0h1m2 0h1m3 0h4m5 0h3m1 0h4m1 0h2m1 0h2m1 0h1m1 0h1m14 0h1m1 0h2m19 0h1m1 0h1m1 0h1m8 0h2m1 0h1m2 0h1m14 0h1m115 0h1m16 0h1"/>
<path class="j51" d="M0 0h1m14 0h1m1 0h2m1 0h3m12 0h1m10 0h1m1 0h1m1 0h2m13 0h1m2 0h5m1 0h1m15 0h1m1 0h4m6 0h1m2 0h1m5 0h1m10 0h2m40 0h1m21 0h3m45 0h3m6 0h1m11 0h2"/>
<path class="j52" d="M12 0h1m60 0h1m14 0h1m7 0h1m1 0h1m9 0h3m1 0h7m1 0h1m22 0h3m1 0h1m1 0h1m13 0h1m4 0h2m19 0h1m1 0h2m23 0h2m20 0h5"/>
<path class="j53" d="M52 0h2m1 0h1m1 0h4m38 0h1m19 0h1m16 0h7m3 0h1m1 0h1m1 0h3m12 0h3m22 0h1m2 0h1m1 0h3m2 0h1m1 0h1m2 0h2m8 0h1m9 0h2m17 0h1"/>
<path class="j54" d="M54 0h1m6 0h1m1 0h1m33 0h1m26 0h2m5 0h1m27 0h2m33 0h1m3 0h2m1 0h1m1 0h2m2 0h3m2 0h2"/>
<path class="j55" d="M62 0h1m98 0h1m49 0h1"/>
<path class="j56" d="M162 0h1m47 0h1m16 0h1"/>
<path class="j57" d="M158 0h1m69 0h2"/>
<path class="j62" d="M56 0h1m209 0h1"/>
<path class="j63" d="M252 0h1"/>
</g>
<g transform="translate(0,2296.6) scale(1,2.863)">
<path class="j37" d="M285 0h1"/>
<path class="j38" d="M284 0h1"/>
<path class="j39" d="M282 0h2"/>
<path class="j40" d="M280 0h2"/>
<path class="j43" d="M275 0h5"/>
<path class="j44" d="M80 0h2m1 0h2m176 0h1"/>
<path class="j45" d="M82 0h1"/>
<path class="j46" d="M177 0h5m69 0h1"/>
<path class="j47" d="M173 0h4m5 0h3m61 0h1m16 0h1"/>
<path class="j48" d="M79 0h1m27 0h1m62 0h1m14 0h1m71 0h2m1 0h1m1 0h1"/>
<path class="j49" d="M5 0h1m2 0h1m18 0h5m8 0h1m2 0h1m31 0h4m6 0h2m17 0h1m66 0h2m72 0h1m1 0h4m8 0h1"/>
<path class="j50" d="M1 0h4m1 0h2m1 0h3m1 0h2m1 0h1m2 0h1m3 0h4m5 0h3m1 0h4m1 0h2m1 0h2m1 0h1m1 0h1m14 0h1m1 0h2m19 0h1m1 0h1m1 0h1m8 0h2m1 0h1m2 0h1m14 0h1m115 0h1m16 0h1"/>
<path class="j51" d="M0 0h1m14 0h1m1 0h2m1 0h3m12 0h1m10 0h1m1 0h1m1 0h2m13 0h1m2 0h5m1 0h1m15 0h1m1 0h4m6 0h1m2 0h1m5 0h1m10 0h2m40 0h1m21 0h3m45 0h3m6 0h1m11 0h2"/>
<path class="j52" d="M12 0h1m60 0h1m14 0h1m7 0h1m1 0h1m9 0h3m1 0h7m1 0h1m22 0h3m1 0h1m1 0h1m13 0h1m4 0h2m19 0h1m1 0h2m23 0h2m20 0h5"/>
<path class="j53" d="M52 0h2m1 0h1m1 0h4m38 0h1m19 0h1m11 0h1m4 0h7m3 0h1m1 0h1m1 0h3m12 0h3m22 0h1m2 0h1m1 0h3m2 0h1m1 0h1m2 0h2m8 0h1m9 0h2m17 0h1"/>
<path class="j54" d="M54 0h1m6 0h1m1 0h1m33 0h1m26 0h2m33 0h2m33 0h1m3 0h2m1 0h1m1 0h2m2 0h3m2 0h2"/>
<path class="j55" d="M62 0h1m98 0h1m49 0h1"/>
<path class="j56" d="M162 0h1m47 0h1m16 0h1"/>
<path class="j57" d="M158 0h1m69 0h2"/>
<path class="j62" d="M56 0h1m209 0h1"/>
<path class="j63" d="M252 0h1"/>
</g>
<g transform="translate(0,2293.59) scale(1,3.149)">
<path class="j37" d="M285 0h1"/>
<path class="j38" d="M284 0h1"/>
<path class="j39" d="M282 0h2"/>
<path class="j41" d="M280 0h2"/>
<path class="j43" d="M276 0h1m2 0h1"/>
<path class="j44" d="M81 0h1m2 0h1m190 0h1m1 0h2"/>
<path class="j45" d="M80 0h1m2 0h1"/>
<path class="j46" d="M82 0h1m95 0h1m2 0h1m79 0h1"/>
<path class="j47" d="M173 0h1m2 0h2m1 0h2m70 0h1"/>
<path class="j48" d="M107 0h1m66 0h2m6 0h4m60 0h1m16 0h1"/>
<path class="j49" d="M5 0h1m21 0h1m1 0h1m49 0h1m6 0h1m83 0h3m72 0h1m11 0h2m1 0h1m1 0h1"/>
<path class="j50" d="M2 0h3m1 0h1m1 0h1m1 0h1m2 0h1m5 0h1m4 0h3m1 0h1m1 0h3m4 0h7m20 0h1m1 0h1m8 0h4m6 0h1m3 0h1m13 0h1m17 0h1m125 0h4m8 0h1"/>
<path class="j51" d="M1 0h1m5 0h1m1 0h1m1 0h1m2 0h4m2 0h4m9 0h4m7 0h8m13 0h1m1 0h1m1 0h4m1 0h1m12 0h1m2 0h2m1 0h2m5 0h3m1 0h3m15 0h2m110 0h4m16 0h2"/>
<path class="j52" d="M0 0h1m11 0h1m5 0h1m49 0h1m4 0h1m18 0h1m2 0h1m14 0h5m32 0h1m15 0h2m3 0h2m16 0h4m1 0h1m24 0h2m21 0h1m2 0h2m12 0h1"/>
<path class="j53" d="M52 0h1m4 0h4m27 0h1m7 0h1m1 0h2m8 0h2m5 0h4m1 0h1m15 0h2m1 0h1m2 0h5m1 0h3m1 0h1m12 0h3m24 0h2m1 0h1m10 0h1m8 0h1m22 0h1m1 0h2"/>
<path class="j54" d="M53 0h3m5 0h1m35 0h1m21 0h1m11 0h1m6 0h1m1 0h2m9 0h1m7 0h2m29 0h1m3 0h1m1 0h2m2 0h1m1 0h1m1 0h2m1 0h2m3 0h1m12 0h2m17 0h1"/>
<path class="j55" d="M62 0h2m60 0h2m72 0h2m1 0h1m1 0h1m5 0h1m3 0h1"/>
<path class="j56" d="M161 0h2m47 0h2m15 0h1"/>
<path class="j57" d="M229 0h1"/>
<path class="j58" d="M158 0h1m69 0h1"/>
<path class="j62" d="M56 0h1m209 0h1"/>
<path class="j63" d="M252 0h1"/>
</g>
<g transform="translate(0,2290.28) scale(1,3.464)">
<path class="j37" d="M285 0h1"/>
<path class="j39" d="M284 0h1"/>
<path class="j40" d="M282 0h2"/>
<path class="j42" d="M280 0h2"/>
<path class="j44" d="M276 0h1m2 0h1"/>
<path class="j45" d="M80 0h2m1 0h2m190 0h1m1 0h2"/>
<path class="j46" d="M82 0h1"/>
<path class="j47" d="M178 0h2m1 0h1m69 0h1m9 0h1"/>
<path class="j48" d="M107 0h1m65 0h1m2 0h2m2 0h1m1 0h1"/>
<path class="j49" d="M27 0h1m1 0h1m140 0h1m3 0h2m7 0h3m60 0h1m16 0h1"/>
<path class="j50" d="M3 0h1m1 0h1m2 0h1m4 0h1m10 0h1m1 0h1m1 0h1m1 0h2m5 0h4m2 0h1m22 0h1m11 0h2m5 0h2m84 0h2m72 0h1m11 0h2m1 0h1m1 0h1"/>
<path class="j51" d="M1 0h2m1 0h1m1 0h2m1 0h3m2 0h3m2 0h3m1 0h1m1 0h1m6 0h5m4 0h2m1 0h8m12 0h2m1 0h1m1 0h1m2 0h1m1 0h4m9 0h1m1 0h3m1 0h1m6 0h2m1 0h1m2 0h1m14 0h1m115 0h1m9 0h4m3 0h1m4 0h1"/>
<path class="j52" d="M0 0h1m11 0h1m4 0h2m3 0h1m45 0h1m1 0h2m1 0h1m18 0h1m1 0h1m7 0h1m1 0h2m5 0h1m10 0h2m40 0h1m3 0h1m19 0h1m45 0h3m18 0h1"/>
<path class="j53" d="M57 0h4m34 0h1m14 0h1m1 0h3m28 0h3m1 0h3m13 0h1m2 0h2m1 0h1m16 0h2m1 0h1m1 0h2m23 0h2m20 0h2m2 0h2m12 0h1"/>
<path class="j54" d="M52 0h1m8 0h1m26 0h1m7 0h1m1 0h2m8 0h2m6 0h3m1 0h1m10 0h1m4 0h7m3 0h1m3 0h3m6 0h1m5 0h1m27 0h3m4 0h1m1 0h1m3 0h3m3 0h1m2 0h1m24 0h2m2 0h1"/>
<path class="j55" d="M53 0h3m7 0h1m33 0h1m17 0h1m3 0h1m5 0h1m34 0h1m29 0h1m5 0h2m1 0h1m3 0h3m3 0h1m3 0h1m11 0h2"/>
<path class="j56" d="M62 0h1m61 0h1m73 0h1m2 0h1m9 0h1"/>
<path class="j57" d="M161 0h2m47 0h1m16 0h1m1 0h1"/>
<path class="j58" d="M158 0h1m69 0h1"/>
<path class="j62" d="M56 0h1"/>
<path class="j63" d="M252 0h1m13 0h1"/>
</g>
<g transform="translate(0,2286.65) scale(1,3.81)">
<path class="j38" d="M285 0h1"/>
<path class="j39" d="M284 0h1"/>
<path class="j40" d="M282 0h2"/>
<path class="j42" d="M280 0h2"/>
<path class="j45" d="M84 0h1m190 0h2m2 0h1"/>
<path class="j46" d="M80 0h2m1 0h1m193 0h2"/>
<path class="j47" d="M82 0h1"/>
<path class="j48" d="M107 0h1m70 0h2m1 0h1m69 0h1m9 0h1"/>
<path class="j49" d="M27 0h1m1 0h1m143 0h5m2 0h1m1 0h3"/>
<path class="j50" d="M5 0h1m20 0h1m1 0h1m1 0h2m8 0h1m2 0h1m22 0h1m12 0h1m6 0h1m83 0h2m13 0h1m60 0h1m15 0h2"/>
<path class="j51" d="M1 0h4m1 0h1m1 0h1m1 0h1m2 0h4m2 0h2m2 0h3m6 0h8m1 0h2m1 0h2m1 0h1m1 0h1m14 0h2m1 0h1m1 0h1m2 0h1m1 0h5m6 0h1m3 0h1m1 0h1m9 0h1m1 0h1m68 0h1m72 0h1m1 0h1m9 0h2m1 0h1"/>
<path class="j52" d="M0 0h1m6 0h1m1 0h1m1 0h2m4 0h1m3 0h2m23 0h1m1 0h1m1 0h2m16 0h1m1 0h2m1 0h1m13 0h1m2 0h1m2 0h2m5 0h1m1 0h1m2 0h2m14 0h3m110 0h4m10 0h3m3 0h1m4 0h1"/>
<path class="j53" d="M18 0h1m38 0h2m1 0h1m31 0h1m11 0h1m5 0h5m32 0h1m15 0h2m3 0h2m16 0h3m2 0h1m24 0h2m37 0h2"/>
<path class="j54" d="M59 0h1m1 0h1m33 0h1m2 0h1m32 0h1m4 0h2m1 0h2m1 0h5m1 0h3m1 0h1m6 0h1m5 0h3m21 0h1m2 0h2m1 0h1m16 0h1m2 0h1m22 0h2m2 0h2"/>
<path class="j55" d="M52 0h2m1 0h1m32 0h1m7 0h2m1 0h1m8 0h2m6 0h3m1 0h1m17 0h1m2 0h1m9 0h1m38 0h1m3 0h1m1 0h2m2 0h1m1 0h1m2 0h4m4 0h1m11 0h2m13 0h2m2 0h1"/>
<path class="j56" d="M54 0h1m8 0h1m51 0h1m3 0h1m4 0h2m34 0h1m37 0h2m1 0h1m1 0h2m4 0h1"/>
<path class="j57" d="M62 0h1m98 0h2m48 0h1m15 0h1"/>
<path class="j58" d="M158 0h1m51 0h1m18 0h1"/>
<path class="j59" d="M228 0h1"/>
<path class="j63" d="M56 0h1m195 0h1m13 0h1"/>
</g>
<g transform="translate(0,2282.65) scale(1,4.191)">
<path class="j38" d="M285 0h1"/>
<path class="j39" d="M284 0h1"/>
<path class="j41" d="M282 0h2"/>
<path class="j43" d="M280 0h2"/>
<path class="j46" d="M80 0h2m1 0h2m190 0h2m2 0h1"/>
<path class="j47" d="M82 0h1m194 0h2"/>
<path class="j48" d="M107 0h1"/>
<path class="j49" d="M173 0h1m4 0h2m1 0h1m69 0h1m9 0h1"/>
<path class="j50" d="M26 0h6m8 0h1m2 0h1m22 0h1m103 0h1m3 0h4m2 0h1m1 0h4"/>
<path class="j51" d="M1 0h3m1 0h1m2 0h1m4 0h2m1 0h1m2 0h2m2 0h3m6 0h2m2 0h4m1 0h2m1 0h1m19 0h1m2 0h1m11 0h1m5 0h2m84 0h2m73 0h1m10 0h1m4 0h2"/>
<path class="j52" d="M0 0h1m3 0h1m1 0h2m1 0h3m3 0h1m1 0h1m3 0h2m11 0h2m9 0h7m13 0h1m2 0h11m8 0h1m1 0h3m1 0h2m5 0h4m2 0h1m14 0h1m115 0h1m7 0h1m1 0h1m10 0h3"/>
<path class="j53" d="M12 0h1m5 0h1m38 0h2m1 0h1m31 0h1m12 0h1m5 0h1m10 0h2m23 0h1m16 0h1m3 0h1m65 0h3m11 0h3m3 0h2"/>
<path class="j54" d="M59 0h1m1 0h1m33 0h1m8 0h1m5 0h1m1 0h3m21 0h1m6 0h3m2 0h2m9 0h1m3 0h1m2 0h2m1 0h1m16 0h4m1 0h1m3 0h1m16 0h1m2 0h3m21 0h1m2 0h1m13 0h1"/>
<path class="j55" d="M52 0h1m45 0h2m17 0h2m12 0h1m5 0h6m3 0h1m3 0h3m12 0h1m26 0h3m11 0h3m4 0h1m24 0h1m1 0h2m1 0h1"/>
<path class="j56" d="M53 0h3m32 0h1m7 0h2m10 0h2m6 0h1m3 0h1m39 0h1m29 0h1m5 0h2m1 0h2m1 0h1m1 0h2m3 0h1m15 0h2m17 0h1"/>
<path class="j57" d="M62 0h2m51 0h1m3 0h1m4 0h2m72 0h1m2 0h1m1 0h1m7 0h1"/>
<path class="j58" d="M158 0h1m2 0h2m47 0h1m16 0h1m1 0h1"/>
<path class="j59" d="M228 0h1"/>
<path class="j63" d="M56 0h1m195 0h1m13 0h1"/>
</g>
<g transform="translate(0,2278.25) scale(1,4.61)">
<path class="j39" d="M284 0h2"/>
<path class="j41" d="M282 0h2"/>
<path class="j43" d="M280 0h2"/>
<path class="j46" d="M84 0h1m194 0h1"/>
<path class="j47" d="M80 0h2m1 0h1m191 0h2"/>
<path class="j48" d="M82 0h1m24 0h1m169 0h2"/>
<path class="j49" d="M181 0h1m69 0h1"/>
<path class="j50" d="M27 0h5m141 0h1m3 0h4"/>
<path class="j51" d="M2 0h2m1 0h1m7 0h1m2 0h1m2 0h1m4 0h3m5 0h1m4 0h4m1 0h2m20 0h1m1 0h1m12 0h1m5 0h2m83 0h1m3 0h3m5 0h4m75 0h1"/>
<path class="j52" d="M1 0h1m2 0h1m1 0h1m1 0h1m1 0h1m3 0h2m1 0h1m2 0h4m9 0h4m4 0h1m2 0h8m13 0h1m1 0h1m1 0h4m1 0h2m1 0h2m10 0h1m1 0h1m8 0h2m1 0h1m67 0h2m73 0h1m10 0h1m4 0h2"/>
<path class="j53" d="M0 0h1m6 0h1m1 0h1m1 0h2m44 0h2m1 0h1m7 0h1m4 0h1m2 0h1m10 0h1m2 0h1m2 0h2m7 0h1m2 0h2m14 0h1m1 0h1m40 0h1m69 0h4m7 0h1m1 0h1m6 0h1m3 0h3"/>
<path class="j54" d="M18 0h1m40 0h1m1 0h1m30 0h1m17 0h2m1 0h1m8 0h1m24 0h1m15 0h1m4 0h2m18 0h1m2 0h1m3 0h1m20 0h2m30 0h3m4 0h1"/>
<path class="j55" d="M95 0h1m8 0h1m7 0h1m1 0h1m16 0h1m4 0h2m1 0h2m1 0h5m1 0h3m1 0h1m6 0h1m5 0h3m18 0h2m1 0h1m2 0h3m17 0h1m2 0h1m23 0h1m2 0h2m12 0h1"/>
<path class="j56" d="M52 0h2m42 0h4m16 0h3m19 0h1m2 0h1m9 0h1m44 0h1m9 0h4m3 0h1m11 0h2m11 0h1m1 0h2"/>
<path class="j57" d="M54 0h2m32 0h1m19 0h2m10 0h1m39 0h1m29 0h1m6 0h4m1 0h1m1 0h2m38 0h1"/>
<path class="j58" d="M62 0h2m51 0h1m3 0h1m4 0h2m32 0h1m3 0h1m38 0h1m1 0h1m7 0h1m15 0h1"/>
<path class="j59" d="M161 0h1m48 0h1m18 0h1"/>
<path class="j60" d="M228 0h1"/>
<path class="j63" d="M56 0h1m195 0h1m13 0h1"/>
</g>
<g transform="translate(0,2273.4) scale(1,5.072)">
<path class="j39" d="M285 0h1"/>
<path class="j40" d="M284 0h1"/>
<path class="j41" d="M283 0h1"/>
<path class="j42" d="M282 0h1"/>
<path class="j44" d="M280 0h2"/>
<path class="j47" d="M80 0h2m1 0h2m194 0h1"/>
<path class="j48" d="M107 0h1m167 0h2"/>
<path class="j49" d="M82 0h1m194 0h2"/>
<path class="j50" d="M27 0h1m1 0h1m151 0h1m69 0h1"/>
<path class="j51" d="M3 0h1m9 0h1m2 0h1m2 0h1m4 0h1m1 0h1m1 0h1m1 0h2m5 0h2m1 0h1m2 0h1m22 0h1m19 0h1m83 0h1m2 0h1m2 0h5m1 0h3"/>
<path class="j52" d="M1 0h2m2 0h1m2 0h1m5 0h2m1 0h1m2 0h4m1 0h1m6 0h5m2 0h1m1 0h2m1 0h4m1 0h2m13 0h2m1 0h1m1 0h4m1 0h1m4 0h1m5 0h1m3 0h1m81 0h2m1 0h2m9 0h1m75 0h1"/>
<path class="j53" d="M0 0h1m3 0h1m1 0h2m1 0h4m35 0h1m2 0h1m5 0h2m1 0h1m7 0h1m4 0h1m1 0h4m8 0h1m2 0h2m1 0h2m5 0h4m2 0h1m14 0h1m115 0h1m8 0h1m10 0h1m4 0h2"/>
<path class="j54" d="M18 0h1m40 0h1m1 0h1m30 0h1m12 0h1m5 0h1m10 0h2m23 0h1m15 0h2m3 0h1m26 0h1m21 0h1m16 0h3m8 0h1m1 0h2m5 0h1m3 0h3"/>
<path class="j55" d="M110 0h1m1 0h3m16 0h1m4 0h1m6 0h3m2 0h2m9 0h1m5 0h3m1 0h1m16 0h3m2 0h1m20 0h1m2 0h2m32 0h2m4 0h2"/>
<path class="j56" d="M95 0h1m2 0h1m5 0h1m32 0h6m3 0h1m3 0h3m36 0h1m2 0h3m11 0h3m4 0h1m24 0h2m2 0h2"/>
<path class="j57" d="M52 0h4m40 0h2m1 0h1m16 0h3m71 0h1m5 0h2m2 0h1m1 0h1m6 0h1m15 0h2m13 0h2m2 0h1"/>
<path class="j58" d="M63 0h1m24 0h1m19 0h2m10 0h1m4 0h1m34 0h1m37 0h2m3 0h3m5 0h1m15 0h1"/>
<path class="j59" d="M62 0h1m52 0h1m3 0h1m4 0h1m33 0h1m2 0h2m38 0h1m8 0h1m18 0h1"/>
<path class="j60" d="M228 0h1"/>
<path class="j63" d="M56 0h1m195 0h1m13 0h1"/>
</g>
<g transform="translate(0,2268.08) scale(1,5.579)">
<path class="j40" d="M284 0h2"/>
<path class="j42" d="M282 0h2"/>
<path class="j44" d="M281 0h1"/>
<path class="j45" d="M280 0h1"/>
<path class="j47" d="M84 0h1"/>
<path class="j48" d="M80 0h2m1 0h1m23 0h1m167 0h1m3 0h1"/>
<path class="j49" d="M82 0h1m193 0h1"/>
<path class="j50" d="M27 0h1m1 0h1m247 0h2"/>
<path class="j51" d="M13 0h1m12 0h1m1 0h1m1 0h2m8 0h1m2 0h1m22 0h1m106 0h1m4 0h2m1 0h1m69 0h1"/>
<path class="j52" d="M1 0h3m1 0h1m8 0h3m2 0h3m1 0h3m6 0h8m1 0h2m1 0h2m1 0h1m1 0h1m14 0h2m1 0h1m1 0h1m2 0h1m1 0h1m10 0h2m83 0h1m3 0h4m2 0h1m1 0h4"/>
<path class="j53" d="M0 0h1m3 0h1m1 0h1m1 0h1m1 0h3m4 0h1m4 0h1m23 0h1m1 0h1m1 0h2m6 0h1m1 0h1m7 0h1m1 0h2m1 0h1m4 0h2m7 0h1m1 0h3m8 0h2m1 0h1m67 0h2m88 0h1m1 0h1"/>
<path class="j54" d="M7 0h1m1 0h1m47 0h1m1 0h1m1 0h1m13 0h3m14 0h3m7 0h1m2 0h2m14 0h1m42 0h1m3 0h1m26 0h1m38 0h1m1 0h2m8 0h1m7 0h1m2 0h2m1 0h1m1 0h1"/>
<path class="j55" d="M18 0h1m91 0h2m1 0h1m8 0h2m21 0h1m1 0h1m11 0h1m3 0h1m5 0h1m21 0h1m20 0h1m3 0h2m17 0h1m9 0h1m1 0h2m1 0h1m4 0h1m3 0h1"/>
<path class="j56" d="M112 0h1m1 0h1m16 0h1m4 0h2m1 0h2m1 0h3m1 0h1m1 0h3m1 0h1m12 0h3m18 0h4m2 0h3m12 0h2m4 0h1m1 0h1m33 0h1m6 0h1"/>
<path class="j57" d="M52 0h1m42 0h1m2 0h2m4 0h1m33 0h1m2 0h1m9 0h1m54 0h1m2 0h1m16 0h1m11 0h3m1 0h2"/>
<path class="j58" d="M53 0h3m40 0h2m18 0h3m41 0h1m29 0h1m5 0h2m1 0h2m1 0h1m2 0h1m19 0h1m15 0h1m2 0h1"/>
<path class="j59" d="M62 0h2m24 0h1m19 0h2m10 0h1m3 0h2m32 0h1m39 0h1m2 0h1m1 0h2m6 0h1m15 0h1m1 0h1"/>
<path class="j60" d="M119 0h1m41 0h2m47 0h1m17 0h1"/>
<path class="j61" d="M115 0h1"/>
<path class="j63" d="M56 0h1m195 0h1m13 0h1"/>
</g>
<g transform="translate(0,2262.22) scale(1,6.137)">
<path class="j40" d="M284 0h2"/>
<path class="j42" d="M283 0h1"/>
<path class="j43" d="M282 0h1"/>
<path class="j45" d="M280 0h2"/>
<path class="j48" d="M80 0h2m1 0h2m22 0h1"/>
<path class="j49" d="M275 0h1m3 0h1"/>
<path class="j50" d="M82 0h1m193 0h1"/>
<path class="j51" d="M26 0h6m11 0h1m22 0h1m184 0h1m25 0h2"/>
<path class="j52" d="M1 0h3m9 0h2m1 0h1m2 0h2m2 0h3m6 0h1m4 0h6m1 0h1m19 0h1m2 0h1m1 0h1m16 0h1m86 0h1m4 0h2m1 0h1"/>
<path class="j53" d="M5 0h1m2 0h1m1 0h1m4 0h1m1 0h1m3 0h2m10 0h4m8 0h7m8 0h1m4 0h1m2 0h1m1 0h5m4 0h1m5 0h1m3 0h1m1 0h1m11 0h1m66 0h1m3 0h4m2 0h1m1 0h4"/>
<path class="j54" d="M0 0h1m3 0h1m1 0h2m1 0h1m1 0h2m44 0h3m17 0h2m8 0h1m2 0h1m2 0h2m5 0h3m3 0h1m14 0h1m37 0h1m11 0h2m22 0h1m65 0h3"/>
<path class="j55" d="M61 0h1m13 0h2m15 0h1m12 0h1m5 0h1m10 0h2m23 0h1m16 0h1m3 0h1m47 0h2m16 0h4m8 0h1m7 0h1m2 0h2m1 0h1"/>
<path class="j56" d="M18 0h1m91 0h1m1 0h3m16 0h1m4 0h1m6 0h3m2 0h3m1 0h1m10 0h1m2 0h2m1 0h1m18 0h1m2 0h1m2 0h1m17 0h2m1 0h1m29 0h1m1 0h4m4 0h1m3 0h1"/>
<path class="j57" d="M137 0h6m3 0h1m4 0h1m13 0h1m20 0h2m1 0h1m2 0h2m12 0h3m30 0h1m2 0h1m13 0h1"/>
<path class="j58" d="M52 0h3m40 0h1m1 0h3m4 0h1m12 0h2m71 0h1m5 0h1m12 0h1m15 0h2m11 0h1m1 0h2m1 0h1"/>
<path class="j59" d="M55 0h1m40 0h1m12 0h1m6 0h1m41 0h1m1 0h1m36 0h4m1 0h1m1 0h2m5 0h1m15 0h1m16 0h1"/>
<path class="j60" d="M62 0h2m24 0h1m19 0h1m10 0h2m3 0h2m35 0h2m38 0h1m1 0h1m25 0h1"/>
<path class="j61" d="M115 0h1m94 0h1m17 0h1"/>
<path class="j63" d="M56 0h1m195 0h1m13 0h1"/>
</g>
<g transform="translate(0,2255.78) scale(1,6.75)">
<path class="j40" d="M284 0h2"/>
<path class="j43" d="M283 0h1"/>
<path class="j44" d="M282 0h1"/>
<path class="j45" d="M281 0h1"/>
<path class="j46" d="M280 0h1"/>
<path class="j48" d="M107 0h1"/>
<path class="j49" d="M80 0h2m1 0h2m194 0h1"/>
<path class="j50" d="M275 0h1"/>
<path class="j51" d="M27 0h1m1 0h1m52 0h1m193 0h1"/>
<path class="j52" d="M2 0h2m9 0h1m5 0h1m4 0h3m1 0h1m1 0h2m8 0h1m2 0h1m20 0h1m1 0h1m114 0h1m69 0h1m25 0h2"/>
<path class="j53" d="M1 0h1m3 0h1m8 0h3m3 0h4m8 0h8m1 0h2m1 0h8m8 0h1m4 0h1m1 0h1m1 0h4m1 0h1m4 0h1m5 0h2m2 0h1m69 0h1m13 0h1m4 0h2"/>
<path class="j54" d="M0 0h1m3 0h1m3 0h1m1 0h1m1 0h1m4 0h1m39 0h3m8 0h1m4 0h1m4 0h1m8 0h1m2 0h2m1 0h2m6 0h3m66 0h1m3 0h4m2 0h1m1 0h4m9 0h1m65 0h1m1 0h1"/>
<path class="j55" d="M6 0h2m1 0h1m1 0h1m49 0h1m15 0h1m14 0h1m7 0h1m4 0h2m14 0h3m23 0h1m1 0h1m21 0h2m61 0h1m2 0h1m24 0h1"/>
<path class="j56" d="M18 0h1m56 0h2m33 0h4m31 0h1m2 0h1m1 0h1m1 0h1m11 0h1m3 0h1m22 0h1m2 0h1m17 0h1m3 0h2m17 0h2m9 0h1m7 0h1m2 0h2m1 0h1"/>
<path class="j57" d="M114 0h1m16 0h1m4 0h2m5 0h2m1 0h1m4 0h1m11 0h1m2 0h2m1 0h1m16 0h1m1 0h1m3 0h2m12 0h3m4 0h1m1 0h1m29 0h1m1 0h4m4 0h1m3 0h1"/>
<path class="j58" d="M52 0h1m42 0h1m42 0h5m22 0h1m21 0h1m1 0h1m19 0h1m16 0h2m11 0h1m2 0h2m12 0h1"/>
<path class="j59" d="M53 0h3m40 0h4m4 0h1m11 0h3m41 0h1m29 0h1m5 0h2m2 0h1m1 0h1m8 0h1m13 0h1m12 0h1m1 0h2m2 0h1"/>
<path class="j60" d="M62 0h2m24 0h1m19 0h2m10 0h1m3 0h2m32 0h1m39 0h2m3 0h3m23 0h1"/>
<path class="j61" d="M119 0h1m41 0h2m38 0h1m8 0h1m17 0h1"/>
<path class="j62" d="M115 0h1"/>
<path class="j63" d="M56 0h1m195 0h1m13 0h1"/>
</g>
<g transform="translate(0,2248.69) scale(1,7.425)">
<path class="j41" d="M284 0h2"/>
<path class="j44" d="M282 0h2"/>
<path class="j46" d="M281 0h1"/>
<path class="j47" d="M280 0h1"/>
<path class="j48" d="M107 0h1"/>
<path class="j49" d="M84 0h1"/>
<path class="j50" d="M80 0h2m1 0h1m195 0h1"/>
<path class="j51" d="M82 0h1m192 0h1"/>
<path class="j52" d="M26 0h6m11 0h1m22 0h1m92 0h1m91 0h1m24 0h1"/>
<path class="j53" d="M1 0h3m9 0h1m2 0h1m2 0h3m1 0h3m6 0h2m2 0h7m1 0h4m1 0h1m10 0h1m3 0h2m1 0h1m1 0h2m1 0h1m1 0h1m4 0h1m6 0h1m94 0h1m13 0h1m81 0h2"/>
<path class="j54" d="M0 0h1m4 0h1m8 0h2m1 0h1m4 0h1m11 0h2m12 0h1m1 0h2m5 0h3m8 0h1m2 0h1m1 0h1m4 0h1m6 0h1m3 0h3m9 0h1m1 0h1m45 0h1m28 0h2m4 0h1"/>
<path class="j55" d="M4 0h1m1 0h1m1 0h5m48 0h1m25 0h1m4 0h3m7 0h1m3 0h1m14 0h1m25 0h1m22 0h1m2 0h2m1 0h2m2 0h1m1 0h2m1 0h1m75 0h3"/>
<path class="j56" d="M7 0h1m69 0h1m27 0h1m5 0h1m10 0h2m21 0h1m2 0h1m22 0h2m2 0h1m18 0h1m21 0h2m16 0h1m1 0h2"/>
<path class="j57" d="M18 0h1m56 0h2m23 0h1m9 0h1m1 0h3m16 0h1m14 0h1m3 0h3m11 0h1m3 0h1m22 0h2m13 0h3m3 0h2m1 0h1m11 0h1m7 0h1m10 0h1m7 0h2m1 0h2m1 0h1"/>
<path class="j58" d="M136 0h2m1 0h1m2 0h3m18 0h1m2 0h1m2 0h1m16 0h4m3 0h1m15 0h1m35 0h1m1 0h4m5 0h1m2 0h1"/>
<path class="j59" d="M52 0h4m39 0h2m1 0h1m17 0h3m19 0h1m1 0h2m18 0h1m4 0h1m1 0h1m43 0h1m13 0h2m11 0h2m2 0h2"/>
<path class="j60" d="M97 0h1m1 0h1m4 0h1m4 0h1m10 0h1m37 0h1m31 0h1m5 0h5m1 0h1m1 0h2m34 0h2m2 0h1"/>
<path class="j61" d="M62 0h2m24 0h1m19 0h1m10 0h1m4 0h2m35 0h2m38 0h1m1 0h1m6 0h1m18 0h1"/>
<path class="j62" d="M115 0h1m112 0h1"/>
<path class="j63" d="M56 0h1m195 0h1m13 0h1"/>
</g>
<g transform="translate(0,2240.89) scale(1,8.168)">
<path class="j41" d="M284 0h2"/>
<path class="j44" d="M283 0h1"/>
<path class="j45" d="M282 0h1"/>
<path class="j47" d="M281 0h1"/>
<path class="j48" d="M107 0h1m172 0h1"/>
<path class="j50" d="M81 0h1m2 0h1"/>
<path class="j51" d="M80 0h1m2 0h1m195 0h1"/>
<path class="j52" d="M26 0h2m1 0h1m36 0h1m15 0h1m76 0h1m115 0h1"/>
<path class="j53" d="M1 0h3m9 0h1m5 0h2m2 0h3m2 0h1m1 0h3m5 0h1m1 0h1m2 0h2m2 0h1m12 0h1m3 0h1m2 0h1m11 0h1m6 0h1m62 0h1m45 0h1m55 0h1m24 0h2"/>
<path class="j54" d="M0 0h1m13 0h3m4 0h2m10 0h5m1 0h1m1 0h2m2 0h2m1 0h4m5 0h3m5 0h1m2 0h5m1 0h1m3 0h1m6 0h1m3 0h1m1 0h1m9 0h1m1 0h1m77 0h1m96 0h1"/>
<path class="j55" d="M5 0h1m2 0h1m1 0h1m1 0h1m4 0h1m43 0h1m11 0h1m13 0h1m2 0h1m2 0h2m7 0h1m18 0h1m25 0h1m30 0h3m2 0h3m75 0h3"/>
<path class="j56" d="M4 0h1m1 0h2m1 0h1m1 0h1m80 0h1m12 0h2m15 0h2m21 0h1m24 0h1m2 0h1m8 0h1m11 0h1m32 0h1m6 0h1"/>
<path class="j57" d="M77 0h1m32 0h5m31 0h1m1 0h1m1 0h1m1 0h1m18 0h2m1 0h4m13 0h1m14 0h1m6 0h1m1 0h3m17 0h3m8 0h1m7 0h1m2 0h1"/>
<path class="j58" d="M18 0h1m56 0h2m23 0h1m30 0h1m11 0h1m7 0h1m12 0h1m3 0h1m19 0h1m3 0h2m13 0h3m2 0h1m42 0h1m2 0h3"/>
<path class="j59" d="M96 0h1m39 0h5m1 0h1m1 0h1m18 0h1m2 0h1m2 0h1m16 0h2m1 0h1m21 0h1m14 0h1m12 0h1m2 0h1m2 0h1m1 0h4m5 0h1"/>
<path class="j60" d="M52 0h4m39 0h1m2 0h1m17 0h3m22 0h1m18 0h1m4 0h1m1 0h1m22 0h1m5 0h2m27 0h1m12 0h1m1 0h1m2 0h1"/>
<path class="j61" d="M63 0h1m33 0h1m1 0h1m4 0h1m3 0h2m10 0h1m3 0h2m32 0h1m3 0h1m35 0h3m1 0h4m4 0h1m18 0h1m11 0h1m2 0h1"/>
<path class="j62" d="M62 0h1m25 0h1m26 0h1m3 0h1m41 0h1m39 0h1m26 0h1"/>
<path class="j63" d="M56 0h1m195 0h1m13 0h1"/>
</g>
<g transform="translate(0,2232.32) scale(1,8.985)">
<path class="j41" d="M284 0h1"/>
<path class="j42" d="M285 0h1"/>
<path class="j45" d="M283 0h1"/>
<path class="j46" d="M282 0h1"/>
<path class="j48" d="M107 0h1m173 0h1"/>
<path class="j49" d="M280 0h1"/>
<path class="j51" d="M80 0h2m1 0h2m74 0h1"/>
<path class="j52" d="M149 0h1m129 0h1"/>
<path class="j53" d="M1 0h3m15 0h1m4 0h1m1 0h6m8 0h1m2 0h1m22 0h1m12 0h1m2 0h1m112 0h1m79 0h1"/>
<path class="j54" d="M13 0h1m2 0h1m3 0h4m1 0h1m6 0h2m2 0h4m1 0h2m1 0h8m5 0h2m1 0h1m3 0h2m1 0h1m1 0h2m1 0h1m1 0h1m3 0h1m6 0h2m2 0h1m161 0h1m24 0h3"/>
<path class="j55" d="M0 0h1m4 0h1m8 0h2m1 0h1m16 0h2m23 0h1m1 0h1m6 0h1m2 0h1m1 0h1m16 0h2m1 0h2m6 0h3m43 0h1m30 0h1m2 0h1m45 0h1m33 0h3"/>
<path class="j56" d="M4 0h1m3 0h1m1 0h1m1 0h1m74 0h1m4 0h1m13 0h1m14 0h1m23 0h1m33 0h2m1 0h4m8 0h1"/>
<path class="j57" d="M6 0h2m1 0h1m1 0h1m93 0h1m4 0h2m1 0h1m8 0h2m22 0h1m1 0h1m1 0h1m1 0h1m17 0h1m2 0h1m32 0h1m9 0h2m16 0h1"/>
<path class="j58" d="M77 0h1m34 0h1m1 0h1m16 0h1m19 0h1m19 0h2m1 0h4m13 0h2m14 0h2m4 0h1m1 0h1m19 0h3m8 0h1m7 0h1m2 0h1"/>
<path class="j59" d="M18 0h1m56 0h2m19 0h1m3 0h1m35 0h1m6 0h2m19 0h1m3 0h1m19 0h1m4 0h1m15 0h1m1 0h2m13 0h1m28 0h1m2 0h3"/>
<path class="j60" d="M52 0h4m60 0h3m18 0h6m17 0h1m2 0h1m1 0h2m2 0h1m16 0h2m1 0h1m49 0h1m2 0h1m2 0h1m1 0h4m5 0h1"/>
<path class="j61" d="M95 0h1m2 0h2m9 0h1m10 0h1m4 0h1m41 0h1m22 0h1m5 0h2m1 0h2m1 0h1m2 0h1m19 0h1m12 0h1m1 0h2m1 0h1"/>
<path class="j62" d="M56 0h1m5 0h2m33 0h1m6 0h1m3 0h1m6 0h1m3 0h1m4 0h1m33 0h1m2 0h2m35 0h1m2 0h1m1 0h2m5 0h1m18 0h1m14 0h1"/>
<path class="j63" d="M88 0h1m139 0h1m23 0h1m13 0h1"/>
</g>
<g transform="translate(0,2222.88) scale(1,9.883)">
<path class="j41" d="M284 0h1"/>
<path class="j42" d="M285 0h1"/>
<path class="j45" d="M283 0h1"/>
<path class="j47" d="M282 0h1"/>
<path class="j48" d="M107 0h1m173 0h1"/>
<path class="j49" d="M280 0h1"/>
<path class="j50" d="M159 0h1"/>
<path class="j51" d="M149 0h1"/>
<path class="j52" d="M80 0h2m1 0h2m110 0h1"/>
<path class="j53" d="M2 0h2m22 0h2m1 0h1m36 0h1m12 0h1m199 0h1"/>
<path class="j54" d="M1 0h1m11 0h1m5 0h3m1 0h3m2 0h1m1 0h3m5 0h3m2 0h7m7 0h2m1 0h1m3 0h2m1 0h1m1 0h2m1 0h1m1 0h1m3 0h1m3 0h1m3 0h1m140 0h1m23 0h1m23 0h1"/>
<path class="j55" d="M0 0h1m13 0h3m5 0h1m10 0h5m3 0h2m7 0h2m7 0h1m8 0h1m2 0h1m1 0h1m11 0h1m3 0h3m9 0h3m159 0h1m12 0h3"/>
<path class="j56" d="M5 0h1m4 0h1m1 0h1m4 0h1m43 0h1m25 0h1m4 0h3m11 0h1m14 0h1m23 0h1m1 0h1m30 0h2m1 0h1m12 0h1m66 0h2"/>
<path class="j57" d="M4 0h1m1 0h1m1 0h2m1 0h1m93 0h1m16 0h2m22 0h1m1 0h1m1 0h1m1 0h1m27 0h1m1 0h4m20 0h1m27 0h1"/>
<path class="j58" d="M7 0h1m102 0h5m36 0h1m18 0h1m2 0h1m17 0h1m15 0h2m4 0h1m1 0h3m19 0h1"/>
<path class="j59" d="M77 0h1m18 0h1m34 0h1m39 0h2m1 0h4m14 0h2m15 0h1m1 0h2m22 0h2m9 0h1m7 0h1m2 0h1"/>
<path class="j60" d="M18 0h1m34 0h2m20 0h2m39 0h1m19 0h2m1 0h1m3 0h2m15 0h1m3 0h1m3 0h1m17 0h1m1 0h1m37 0h1m20 0h2m6 0h1m2 0h3"/>
<path class="j61" d="M52 0h1m2 0h1m39 0h1m4 0h1m16 0h2m19 0h1m1 0h3m20 0h1m1 0h2m2 0h1m17 0h1m1 0h2m5 0h1m28 0h1m12 0h2m2 0h2m1 0h1m3 0h2m5 0h1"/>
<path class="j62" d="M56 0h1m6 0h1m34 0h2m8 0h2m10 0h1m3 0h2m32 0h1m3 0h1m4 0h1m29 0h4m1 0h4m4 0h1m18 0h1m10 0h2m2 0h1"/>
<path class="j63" d="M62 0h1m25 0h1m8 0h1m6 0h1m10 0h1m3 0h1m41 0h1m39 0h1m26 0h1m23 0h1m13 0h1"/>
</g>
<g transform="translate(0,2212.51) scale(1,10.871)">
<path class="j42" d="M284 0h1"/>
<path class="j43" d="M285 0h1"/>
<path class="j46" d="M283 0h1"/>
<path class="j48" d="M107 0h1m174 0h1"/>
<path class="j49" d="M159 0h1m121 0h1"/>
<path class="j50" d="M280 0h1"/>
<path class="j51" d="M149 0h1"/>
<path class="j52" d="M80 0h2m1 0h2m110 0h1"/>
<path class="j53" d="M78 0h2m147 0h1"/>
<path class="j54" d="M1 0h3m15 0h1m4 0h1m1 0h2m1 0h1m13 0h1m13 0h2m1 0h1m5 0h1m15 0h1m3 0h1m2 0h1m189 0h1"/>
<path class="j55" d="M13 0h1m6 0h2m1 0h1m1 0h1m2 0h1m1 0h4m2 0h7m1 0h8m7 0h1m4 0h2m1 0h1m1 0h2m1 0h1m1 0h1m10 0h1m4 0h2m1 0h2m6 0h1m1 0h1m43 0h1m103 0h1m23 0h1"/>
<path class="j56" d="M0 0h1m13 0h3m5 0h1m11 0h2m25 0h1m6 0h1m2 0h1m1 0h1m13 0h1m4 0h1m9 0h1m42 0h1m48 0h1m66 0h3m12 0h3"/>
<path class="j57" d="M5 0h1m2 0h1m1 0h3m4 0h1m88 0h1m14 0h1m24 0h1m1 0h1m1 0h1m27 0h2m1 0h1m24 0h1m10 0h1"/>
<path class="j58" d="M4 0h1m1 0h2m1 0h1m95 0h1m16 0h2m28 0h1m27 0h1m1 0h4m27 0h1m2 0h1m17 0h1"/>
<path class="j59" d="M75 0h1m1 0h1m18 0h1m13 0h5m16 0h1m19 0h1m18 0h1m2 0h1m17 0h3m13 0h2m2 0h1m3 0h1m20 0h2m16 0h1"/>
<path class="j60" d="M52 0h3m21 0h1m18 0h1m4 0h1m15 0h1m19 0h1m5 0h2m16 0h1m3 0h1m3 0h1m2 0h2m1 0h4m10 0h1m20 0h1m2 0h1m13 0h1m8 0h1m10 0h1m8 0h1m1 0h2m1 0h1"/>
<path class="j61" d="M18 0h1m36 0h1m61 0h2m18 0h5m2 0h1m18 0h1m5 0h1m16 0h2m1 0h1m35 0h1m13 0h1m2 0h1m2 0h1m1 0h4m5 0h1m2 0h1"/>
<path class="j62" d="M56 0h1m41 0h2m8 0h2m10 0h1m3 0h2m32 0h1m3 0h1m2 0h3m22 0h1m5 0h5m1 0h1m1 0h2m4 0h1m18 0h1m8 0h1m1 0h1m2 0h1"/>
<path class="j63" d="M62 0h2m24 0h1m8 0h1m6 0h1m10 0h1m3 0h1m41 0h1m39 0h1m1 0h1m24 0h1m12 0h1m2 0h1m7 0h1m13 0h1"/>
</g>
<g transform="translate(0,2201.09) scale(1,11.958)">
<path class="j43" d="M284 0h2"/>
<path class="j47" d="M283 0h1"/>
<path class="j48" d="M107 0h1m51 0h1"/>
<path class="j49" d="M282 0h1"/>
<path class="j50" d="M149 0h1m131 0h1"/>
<path class="j51" d="M195 0h1m84 0h1"/>
<path class="j52" d="M81 0h1m2 0h1m142 0h1"/>
<path class="j53" d="M78 0h3m2 0h1"/>
<path class="j54" d="M57 0h2m7 0h1m15 0h1m2 0h2m2 0h1m1 0h1m187 0h1"/>
<path class="j55" d="M1 0h3m15 0h1m4 0h1m1 0h4m1 0h1m8 0h1m2 0h2m2 0h1m12 0h1m3 0h2m1 0h1m1 0h1m2 0h1m1 0h1m15 0h1m2 0h2m6 0h1m45 0h1m46 0h1"/>
<path class="j56" d="M13 0h1m6 0h2m1 0h1m1 0h1m4 0h1m1 0h2m1 0h5m1 0h2m2 0h2m1 0h4m7 0h1m8 0h1m1 0h2m1 0h1m13 0h1m4 0h1m9 0h2m41 0h1m60 0h1m44 0h1m23 0h1"/>
<path class="j57" d="M0 0h1m10 0h1m2 0h3m5 0h1m11 0h1m26 0h1m59 0h1m26 0h1m68 0h1m43 0h3m12 0h3"/>
<path class="j58" d="M5 0h1m2 0h1m1 0h1m1 0h1m4 0h1m78 0h1m8 0h2m15 0h2m22 0h1m3 0h1m1 0h1m25 0h2m1 0h1"/>
<path class="j59" d="M4 0h1m1 0h2m1 0h1m42 0h1m22 0h1m1 0h1m32 0h1m2 0h1m37 0h1m28 0h1m1 0h4m5 0h3m14 0h1m2 0h1m1 0h1m1 0h2m17 0h1"/>
<path class="j60" d="M53 0h2m21 0h1m18 0h1m4 0h1m10 0h2m1 0h1m1 0h1m14 0h1m10 0h1m27 0h1m2 0h1m33 0h1m1 0h1m26 0h2m8 0h1m7 0h1"/>
<path class="j61" d="M18 0h1m36 0h1m61 0h2m17 0h5m2 0h2m15 0h1m3 0h1m3 0h1m2 0h2m1 0h4m8 0h1m1 0h1m23 0h1m13 0h1m8 0h1m3 0h1m2 0h1m12 0h1m1 0h2m1 0h1"/>
<path class="j62" d="M56 0h1m41 0h2m8 0h2m10 0h1m3 0h2m15 0h1m20 0h2m1 0h2m2 0h1m17 0h1m1 0h2m5 0h2m2 0h1m1 0h1m2 0h1m4 0h1m14 0h1m3 0h1m8 0h1m1 0h1m2 0h1m1 0h1m1 0h4m5 0h1m2 0h1m6 0h1"/>
<path class="j63" d="M62 0h2m24 0h1m8 0h1m6 0h1m10 0h1m3 0h1m38 0h1m2 0h1m5 0h1m30 0h2m1 0h1m1 0h2m23 0h1m12 0h1m2 0h1m7 0h1"/>
</g>
<g transform="translate(0,2188.54) scale(1,13.154)">
<path class="j43" d="M284 0h2"/>
<path class="j47" d="M107 0h1m51 0h1"/>
<path class="j48" d="M283 0h1"/>
<path class="j49" d="M282 0h1"/>
<path class="j50" d="M149 0h1m45 0h1"/>
<path class="j51" d="M227 0h1m53 0h1"/>
<path class="j52" d="M84 0h1m195 0h1"/>
<path class="j53" d="M78 0h4m1 0h1m2 0h1"/>
<path class="j54" d="M57 0h2m23 0h1m2 0h1m3 0h3"/>
<path class="j55" d="M60 0h1m5 0h1m20 0h1m5 0h2m52 0h1m46 0h1m84 0h1"/>
<path class="j56" d="M1 0h3m7 0h1m7 0h1m4 0h1m1 0h4m1 0h2m7 0h1m2 0h7m9 0h1m4 0h2m1 0h1m1 0h2m1 0h1m1 0h1m17 0h1m8 0h3m41 0h1m60 0h1m10 0h1"/>
<path class="j57" d="M0 0h1m12 0h1m2 0h1m3 0h4m1 0h1m4 0h1m2 0h1m1 0h5m1 0h2m7 0h2m9 0h1m6 0h1m2 0h1m1 0h1m22 0h1m51 0h1m102 0h1m11 0h1m11 0h1m1 0h1"/>
<path class="j58" d="M14 0h2m18 0h1m17 0h1m53 0h1m14 0h1m24 0h1m34 0h1m79 0h2m13 0h1"/>
<path class="j59" d="M5 0h1m2 0h1m1 0h1m1 0h1m4 0h1m57 0h1m1 0h1m17 0h1m9 0h1m16 0h2m26 0h1m1 0h1m25 0h2m11 0h1m21 0h1m2 0h1m61 0h1"/>
<path class="j60" d="M4 0h1m1 0h2m1 0h1m43 0h3m20 0h1m23 0h1m9 0h4m2 0h1m14 0h1m10 0h1m8 0h1m28 0h1m1 0h4m6 0h2m13 0h2m2 0h1m3 0h1m18 0h1"/>
<path class="j61" d="M56 0h1m57 0h1m2 0h2m17 0h4m3 0h2m15 0h1m1 0h1m1 0h1m3 0h1m1 0h1m2 0h1m12 0h1m1 0h1m20 0h1m2 0h1m13 0h1m9 0h2m8 0h1m7 0h1m2 0h1"/>
<path class="j62" d="M18 0h1m79 0h2m8 0h2m10 0h1m3 0h2m14 0h2m21 0h1m2 0h1m2 0h1m2 0h1m1 0h4m9 0h1m8 0h1m13 0h1m14 0h1m3 0h1m5 0h1m2 0h2m2 0h2m3 0h3m5 0h1m2 0h3m5 0h1"/>
<path class="j63" d="M62 0h2m24 0h1m8 0h1m6 0h1m10 0h1m3 0h1m38 0h1m2 0h1m3 0h1m1 0h1m3 0h1m17 0h2m6 0h9m22 0h1m11 0h2m2 0h2m4 0h1m1 0h1m3 0h1"/>
</g>
<g transform="translate(0,2174.72) scale(1,14.47)">
<path class="j43" d="M285 0h1"/>
<path class="j44" d="M284 0h1"/>
<path class="j46" d="M159 0h1"/>
<path class="j47" d="M107 0h1"/>
<path class="j49" d="M149 0h1m133 0h1"/>
<path class="j50" d="M195 0h1m31 0h1m54 0h1"/>
<path class="j52" d="M84 0h1m195 0h2"/>
<path class="j53" d="M78 0h4m1 0h1m2 0h1m2 0h1"/>
<path class="j54" d="M57 0h2m26 0h1m4 0h2m1 0h2"/>
<path class="j55" d="M66 0h1m15 0h1m4 0h1m4 0h1m54 0h1m46 0h1m84 0h1"/>
<path class="j56" d="M2 0h1m8 0h1m15 0h1m15 0h1m16 0h1m3 0h2m1 0h1m1 0h1m2 0h1m1 0h1m26 0h3m41 0h1m60 0h1m10 0h1"/>
<path class="j57" d="M1 0h1m1 0h1m15 0h1m4 0h1m1 0h1m1 0h2m1 0h2m5 0h3m3 0h6m2 0h1m6 0h1m8 0h1m1 0h2m24 0h1m51 0h1"/>
<path class="j58" d="M0 0h1m12 0h1m2 0h1m3 0h4m1 0h1m4 0h1m2 0h5m3 0h2m7 0h2m9 0h1m11 0h1m3 0h1m17 0h1m25 0h1m24 0h1m104 0h1m9 0h3m11 0h1m1 0h1"/>
<path class="j59" d="M14 0h2m59 0h1m24 0h1m5 0h1m15 0h2m26 0h1m30 0h1m9 0h1m21 0h1m62 0h1"/>
<path class="j60" d="M4 0h2m2 0h1m1 0h1m1 0h1m4 0h1m35 0h3m20 0h1m28 0h1m10 0h1m25 0h1m9 0h1m25 0h2m12 0h2m17 0h1m3 0h2m61 0h1"/>
<path class="j61" d="M6 0h2m1 0h1m46 0h1m53 0h4m3 0h2m12 0h1m4 0h1m6 0h1m7 0h1m8 0h1m1 0h1m5 0h1m11 0h1m1 0h4m21 0h3m24 0h1m2 0h1m28 0h1"/>
<path class="j62" d="M98 0h2m8 0h2m4 0h1m5 0h1m16 0h5m2 0h1m18 0h2m5 0h1m2 0h1m12 0h3m7 0h1m13 0h1m1 0h1m12 0h2m2 0h1m5 0h2m2 0h1m2 0h1m3 0h1m7 0h1m2 0h1"/>
<path class="j63" d="M18 0h1m43 0h2m24 0h1m8 0h1m6 0h1m10 0h1m3 0h1m4 0h2m32 0h1m2 0h1m3 0h3m1 0h1m1 0h2m1 0h4m11 0h2m6 0h9m22 0h1m9 0h1m1 0h2m1 0h3m1 0h4m1 0h1m2 0h2m1 0h3"/>
</g>
<g transform="translate(0,2159.53) scale(1,15.917)">
<path class="j44" d="M284 0h2"/>
<path class="j45" d="M159 0h1"/>
<path class="j47" d="M107 0h1"/>
<path class="j49" d="M149 0h1m45 0h1m31 0h1"/>
<path class="j50" d="M283 0h1"/>
<path class="j51" d="M282 0h1"/>
<path class="j52" d="M79 0h1"/>
<path class="j53" d="M78 0h1m1 0h2m1 0h2m1 0h1m2 0h1m1 0h1m188 0h2"/>
<path class="j54" d="M57 0h2m26 0h1m4 0h1m2 0h2m99 0h1"/>
<path class="j55" d="M82 0h1m4 0h1m4 0h1m54 0h1m58 0h1m10 0h1"/>
<path class="j56" d="M11 0h1m40 0h1m7 0h1m5 0h1m29 0h1m4 0h3m41 0h1m133 0h1"/>
<path class="j57" d="M1 0h3m23 0h1m1 0h1m13 0h2m19 0h2m1 0h1m1 0h2m1 0h1m1 0h1m20 0h1m52 0h1"/>
<path class="j58" d="M19 0h1m3 0h2m1 0h1m1 0h1m2 0h3m2 0h7m2 0h7m7 0h1m8 0h1m2 0h1m1 0h1m3 0h1m68 0h1m104 0h1m23 0h1"/>
<path class="j59" d="M0 0h1m12 0h1m2 0h1m3 0h3m2 0h1m4 0h1m3 0h2m25 0h1m13 0h1m24 0h1m5 0h1m14 0h2m138 0h3m13 0h1"/>
<path class="j60" d="M10 0h1m3 0h2m37 0h3m20 0h1m28 0h1m10 0h1m6 0h1m18 0h1m7 0h1m1 0h1m28 0h1m9 0h3m17 0h1m1 0h1m2 0h1m49 0h1m9 0h1"/>
<path class="j61" d="M4 0h2m2 0h1m3 0h1m4 0h1m38 0h1m60 0h2m12 0h1m30 0h1m15 0h2m27 0h2m6 0h1m62 0h1"/>
<path class="j62" d="M6 0h2m1 0h1m88 0h2m8 0h7m5 0h1m15 0h5m2 0h2m6 0h1m8 0h1m3 0h1m3 0h1m11 0h1m1 0h5m1 0h1m20 0h2m15 0h1m7 0h1m2 0h1m1 0h1m2 0h1m3 0h1"/>
<path class="j63" d="M18 0h1m43 0h2m24 0h1m8 0h1m6 0h1m10 0h1m3 0h1m4 0h2m15 0h1m16 0h1m2 0h1m1 0h1m1 0h3m1 0h9m9 0h1m1 0h2m5 0h10m6 0h1m12 0h1m2 0h2m5 0h2m1 0h1m1 0h2m1 0h3m1 0h4m1 0h1m1 0h7"/>
</g>
<g transform="translate(0,2142.82) scale(1,17.508)">
<path class="j43" d="M284 0h2"/>
<path class="j46" d="M159 0h1"/>
<path class="j47" d="M107 0h1m119 0h1"/>
<path class="j49" d="M149 0h1m45 0h1m87 0h1"/>
<path class="j50" d="M282 0h1"/>
<path class="j52" d="M79 0h1m4 0h1m1 0h1m194 0h1"/>
<path class="j53" d="M78 0h1m1 0h2m1 0h1m1 0h1m3 0h1m1 0h1m188 0h1"/>
<path class="j54" d="M90 0h1m2 0h2m99 0h1"/>
<path class="j55" d="M57 0h2m23 0h1m4 0h1m4 0h1m8 0h1m45 0h1m58 0h1m10 0h1"/>
<path class="j56" d="M11 0h1m40 0h1m43 0h1m5 0h2m41 0h1m133 0h1"/>
<path class="j57" d="M60 0h1m5 0h1m28 0h1m4 0h1m47 0h1"/>
<path class="j58" d="M1 0h3m55 0h1m4 0h2m1 0h1m1 0h2m1 0h1m1 0h1m2 0h1m68 0h1m119 0h1"/>
<path class="j59" d="M0 0h1m18 0h1m4 0h1m1 0h2m1 0h1m10 0h1m2 0h2m1 0h2m13 0h1m6 0h1m2 0h1m1 0h1m1 0h1m30 0h1m14 0h2m39 0h1"/>
<path class="j60" d="M10 0h1m2 0h1m2 0h1m3 0h2m1 0h1m1 0h1m2 0h1m2 0h3m2 0h4m1 0h2m2 0h1m2 0h4m2 0h1m21 0h1m28 0h1m10 0h1m6 0h1m26 0h1m40 0h1m21 0h1m2 0h1m34 0h1m10 0h2m11 0h1m1 0h2"/>
<path class="j61" d="M5 0h1m2 0h1m5 0h2m6 0h1m7 0h1m3 0h2m17 0h1m1 0h2m60 0h2m12 0h1m10 0h1m9 0h1m28 0h1m10 0h2m17 0h1m49 0h1m14 0h1"/>
<path class="j62" d="M4 0h1m1 0h2m1 0h1m2 0h1m4 0h1m80 0h2m8 0h7m5 0h1m15 0h5m2 0h2m6 0h1m8 0h1m3 0h1m3 0h1m9 0h3m1 0h5m20 0h2m1 0h1m4 0h1m18 0h1m4 0h1m2 0h1m3 0h1"/>
<path class="j63" d="M18 0h1m43 0h2m24 0h1m8 0h1m6 0h1m10 0h1m3 0h1m4 0h2m15 0h1m16 0h1m2 0h1m1 0h1m1 0h3m1 0h9m9 0h4m5 0h10m3 0h1m2 0h1m12 0h2m1 0h2m5 0h4m1 0h2m1 0h3m1 0h4m1 0h1m1 0h7"/>
</g>
<g transform="translate(0,2124.43) scale(1,19.259)">
<path class="j42" d="M284 0h2"/>
<path class="j46" d="M107 0h1m119 0h1"/>
<path class="j47" d="M159 0h1m123 0h1"/>
<path class="j49" d="M149 0h1m45 0h1m86 0h1"/>
<path class="j51" d="M281 0h1"/>
<path class="j52" d="M79 0h1m4 0h1m1 0h1m193 0h1"/>
<path class="j53" d="M78 0h1m1 0h2m1 0h1m1 0h1m3 0h1m1 0h1"/>
<path class="j54" d="M90 0h1m2 0h2m99 0h1m11 0h1m10 0h1"/>
<path class="j55" d="M11 0h1m45 0h2m23 0h1m4 0h1m4 0h1m8 0h3"/>
<path class="j56" d="M52 0h1m43 0h1m3 0h1m44 0h1m1 0h1m118 0h1m12 0h1"/>
<path class="j57" d="M60 0h1m34 0h1m52 0h1"/>
<path class="j58" d="M1 0h3m62 0h1m8 0h1m1 0h1m68 0h1m15 0h1"/>
<path class="j59" d="M59 0h1m4 0h2m1 0h1m1 0h2m1 0h1m1 0h1m31 0h1m14 0h2m155 0h1"/>
<path class="j60" d="M0 0h1m53 0h1m6 0h1m6 0h1m2 0h1m1 0h1m2 0h1m28 0h1m10 0h1m6 0h1m92 0h1"/>
<path class="j61" d="M5 0h1m2 0h1m1 0h1m2 0h1m2 0h1m2 0h1m4 0h1m1 0h2m1 0h1m2 0h1m7 0h1m2 0h2m1 0h2m5 0h1m1 0h2m60 0h2m12 0h1m10 0h1m7 0h1m30 0h1m9 0h3m19 0h1"/>
<path class="j62" d="M4 0h1m1 0h2m1 0h1m4 0h2m1 0h1m2 0h4m1 0h1m2 0h1m1 0h2m1 0h1m1 0h5m1 0h2m2 0h1m2 0h4m46 0h2m8 0h7m5 0h1m15 0h5m2 0h2m7 0h1m7 0h1m3 0h1m3 0h1m9 0h2m4 0h2m22 0h1m2 0h1m27 0h1m2 0h1m3 0h1m4 0h1m9 0h3m11 0h1m1 0h1"/>
<path class="j63" d="M12 0h1m5 0h1m15 0h1m27 0h2m24 0h1m8 0h1m6 0h1m10 0h1m3 0h1m4 0h2m15 0h1m9 0h1m6 0h1m2 0h1m1 0h1m1 0h3m1 0h9m2 0h1m1 0h2m2 0h5m5 0h10m1 0h1m1 0h2m1 0h1m2 0h1m9 0h2m1 0h2m4 0h5m1 0h2m1 0h3m1 0h4m1 0h1m1 0h7m15 0h1"/>
</g>
<g transform="translate(0,2104.21) scale(1,21.185)">
<path class="j41" d="M284 0h2"/>
<path class="j45" d="M227 0h1m55 0h1"/>
<path class="j46" d="M107 0h1"/>
<path class="j48" d="M159 0h1m122 0h1"/>
<path class="j49" d="M195 0h1"/>
<path class="j50" d="M149 0h1m131 0h1"/>
<path class="j51" d="M280 0h1"/>
<path class="j52" d="M79 0h1m4 0h1m1 0h1"/>
<path class="j53" d="M78 0h1m1 0h2m1 0h1m1 0h1m3 0h1"/>
<path class="j54" d="M82 0h1m7 0h2m1 0h2m5 0h2m92 0h1m11 0h1m10 0h1m48 0h1"/>
<path class="j55" d="M11 0h1m75 0h1m4 0h1m9 0h2"/>
<path class="j56" d="M52 0h1m4 0h2m37 0h1m50 0h1m14 0h1m116 0h1"/>
<path class="j57" d="M95 0h1m49 0h1"/>
<path class="j58" d="M60 0h1m14 0h1m1 0h1m68 0h1m1 0h1m129 0h1"/>
<path class="j59" d="M1 0h3m55 0h1m6 0h1m39 0h1m14 0h2"/>
<path class="j60" d="M0 0h1m60 0h1m2 0h2m1 0h1m1 0h2m1 0h1m1 0h1m1 0h1m28 0h1m10 0h1m6 0h1m92 0h1"/>
<path class="j61" d="M5 0h1m4 0h1m42 0h3m12 0h1m2 0h1m1 0h1m43 0h2m1 0h1m10 0h1m49 0h1m9 0h1m21 0h1"/>
<path class="j62" d="M4 0h1m3 0h1m4 0h1m2 0h1m9 0h1m29 0h1m41 0h2m8 0h7m21 0h5m1 0h3m5 0h1m9 0h1m3 0h1m3 0h1m9 0h2m4 0h2m6 0h2m45 0h1m2 0h1m3 0h1"/>
<path class="j63" d="M6 0h2m1 0h1m2 0h1m1 0h2m1 0h9m1 0h25m10 0h2m24 0h1m8 0h1m6 0h1m10 0h1m3 0h1m4 0h2m15 0h1m9 0h2m5 0h1m2 0h1m1 0h1m1 0h3m1 0h9m2 0h1m1 0h2m2 0h5m5 0h10m1 0h6m2 0h1m9 0h2m1 0h2m4 0h5m1 0h2m1 0h3m1 0h6m1 0h10m11 0h3"/>
</g>
<g transform="translate(0,2081.97) scale(1,23.304)">
<path class="j40" d="M284 0h2"/>
<path class="j44" d="M283 0h1"/>
<path class="j45" d="M227 0h1"/>
<path class="j46" d="M107 0h1"/>
<path class="j47" d="M282 0h1"/>
<path class="j48" d="M159 0h1"/>
<path class="j49" d="M195 0h1m85 0h1"/>
<path class="j51" d="M280 0h1"/>
<path class="j52" d="M79 0h1m4 0h1m1 0h1m13 0h1"/>
<path class="j53" d="M78 0h1m1 0h2m1 0h1m1 0h1m3 0h1m6 0h1m4 0h3"/>
<path class="j54" d="M52 0h1m29 0h1m7 0h2m1 0h2m54 0h1m44 0h1m11 0h1m10 0h1"/>
<path class="j55" d="M87 0h1m4 0h1m186 0h1"/>
<path class="j56" d="M77 0h1m28 0h1m159 0h1"/>
<path class="j57" d="M1 0h3m71 0h1m19 0h1m9 0h1m25 0h1m13 0h1m1 0h1m113 0h3m14 0h1"/>
<path class="j58" d="M60 0h1m15 0h1"/>
<path class="j59" d="M0 0h1m54 0h1m1 0h3m86 0h1m1 0h1"/>
<path class="j60" d="M53 0h2m6 0h1m4 0h1m43 0h1m1 0h2m2 0h1m4 0h2m93 0h1"/>
<path class="j61" d="M10 0h1m45 0h1m7 0h2m1 0h1m1 0h2m1 0h1m1 0h1m23 0h1m5 0h1m6 0h1m2 0h1m2 0h1m2 0h1m2 0h1m57 0h1m9 0h1m21 0h1"/>
<path class="j62" d="M4 0h2m2 0h1m2 0h1m1 0h1m2 0h1m27 0h1m1 0h2m20 0h1m2 0h1m1 0h1m23 0h1m1 0h1m8 0h2m8 0h1m17 0h5m1 0h3m5 0h1m9 0h1m3 0h1m3 0h1m9 0h2m4 0h2m6 0h2m45 0h1m2 0h1m3 0h1"/>
<path class="j63" d="M6 0h2m1 0h1m2 0h1m1 0h2m1 0h27m1 0h1m2 0h4m10 0h2m24 0h1m26 0h1m3 0h1m4 0h2m15 0h1m9 0h2m5 0h1m2 0h3m1 0h3m1 0h9m2 0h1m1 0h2m2 0h5m5 0h10m1 0h6m2 0h1m9 0h2m1 0h2m4 0h5m1 0h2m1 0h3m1 0h6m1 0h7m14 0h3"/>
</g>
<g transform="translate(0,2057.5) scale(1,25.634)">
<path class="j38" d="M284 0h1"/>
<path class="j39" d="M285 0h1"/>
<path class="j40" d="M283 0h1"/>
<path class="j44" d="M282 0h1"/>
<path class="j45" d="M227 0h1"/>
<path class="j46" d="M281 0h1"/>
<path class="j47" d="M107 0h1m172 0h1"/>
<path class="j49" d="M195 0h1"/>
<path class="j50" d="M78 0h2"/>
<path class="j51" d="M80 0h2m2 0h1m194 0h1"/>
<path class="j52" d="M83 0h1m22 0h1"/>
<path class="j53" d="M82 0h1m3 0h1m2 0h1m6 0h1m4 0h3m1 0h1m53 0h1m118 0h1"/>
<path class="j54" d="M60 0h1m16 0h1m7 0h1m4 0h2m1 0h1m100 0h1m11 0h1m10 0h1"/>
<path class="j55" d="M1 0h3m55 0h1m15 0h1m11 0h1m4 0h1m38 0h1"/>
<path class="j56" d="M0 0h1m60 0h1m14 0h1m189 0h1"/>
<path class="j57" d="M261 0h3"/>
<path class="j58" d="M5 0h1m4 0h1m54 0h2m2 0h1m2 0h1m40 0h1m7 0h1m25 0h1"/>
<path class="j59" d="M4 0h1m1 0h3m2 0h1m42 0h1m9 0h1m2 0h1m2 0h1m3 0h1m19 0h1m5 0h1m9 0h3m1 0h1m7 0h2m21 0h1"/>
<path class="j60" d="M9 0h1m3 0h1m2 0h1m27 0h6m3 0h1m14 0h1m2 0h1m1 0h1m74 0h1m29 0h2m1 0h1m34 0h1"/>
<path class="j61" d="M15 0h1m34 0h2m5 0h2m65 0h2m20 0h1m37 0h1m6 0h1"/>
<path class="j62" d="M12 0h1m1 0h1m2 0h1m37 0h1m39 0h1m20 0h1m19 0h1m1 0h1m11 0h1m9 0h1m3 0h1m3 0h1m11 0h1m1 0h2m1 0h1m6 0h2m19 0h1m25 0h1m2 0h1m3 0h1"/>
<path class="j63" d="M18 0h26m8 0h1m3 0h1m5 0h2m24 0h1m8 0h3m4 0h1m3 0h2m5 0h1m1 0h4m16 0h1m1 0h6m4 0h1m1 0h2m5 0h1m2 0h3m1 0h3m1 0h9m8 0h5m5 0h10m1 0h6m2 0h1m9 0h2m1 0h2m4 0h5m1 0h2m1 0h3m1 0h6m1 0h7m14 0h3"/>
</g>
<g transform="translate(0,2030.58) scale(1,28.197)">
<path class="j38" d="M284 0h2"/>
<path class="j41" d="M282 0h2"/>
<path class="j43" d="M281 0h1"/>
<path class="j44" d="M84 0h1m195 0h1"/>
<path class="j45" d="M1 0h3m76 0h2m1 0h1m5 0h1m1 0h1m135 0h1"/>
<path class="j46" d="M0 0h1m78 0h1m2 0h1m3 0h1m3 0h1m2 0h1"/>
<path class="j47" d="M75 0h1m1 0h2m6 0h1m6 0h1"/>
<path class="j48" d="M60 0h1m15 0h1m10 0h1"/>
<path class="j49" d="M59 0h1m135 0h1m83 0h1"/>
<path class="j50" d="M61 0h1m39 0h1m4 0h1m171 0h1"/>
<path class="j51" d="M10 0h1m55 0h1m27 0h1m7 0h2m1 0h1m1 0h1"/>
<path class="j52" d="M5 0h1m2 0h1m4 0h1m50 0h2m1 0h1m1 0h2m1 0h1m1 0h1m56 0h1"/>
<path class="j53" d="M4 0h1m1 0h2m1 0h1m1 0h1m3 0h2m27 0h7m17 0h1m2 0h1m1 0h1"/>
<path class="j54" d="M12 0h1m1 0h1m2 0h1m33 0h1m5 0h2m29 0h1m21 0h4m80 0h1m11 0h1m10 0h1"/>
<path class="j55" d="M114 0h1m6 0h2m1 0h2m34 0h1m101 0h2"/>
<path class="j56" d="M123 0h1m137 0h1m4 0h1"/>
<path class="j57" d="M53 0h2m41 0h1m3 0h1m16 0h1m52 0h1m7 0h2m1 0h1"/>
<path class="j58" d="M19 0h1m4 0h1m1 0h1m13 0h1m2 0h1m74 0h1m26 0h1m1 0h1"/>
<path class="j59" d="M20 0h4m1 0h1m1 0h1m1 0h1m2 0h2m1 0h5m1 0h2m105 0h1m23 0h2m6 0h1m1 0h1"/>
<path class="j60" d="M28 0h1m1 0h2m2 0h1m111 0h1m21 0h1m2 0h1m2 0h1m8 0h3"/>
<path class="j61" d="M163 0h2m10 0h2m69 0h1"/>
<path class="j62" d="M116 0h1m19 0h5m1 0h3m5 0h1m14 0h2m2 0h1m7 0h1m13 0h2m46 0h1m2 0h1m2 0h1"/>
<path class="j63" d="M18 0h1m33 0h1m2 0h2m5 0h2m31 0h1m1 0h3m4 0h1m3 0h2m5 0h1m3 0h2m20 0h1m7 0h1m1 0h2m5 0h2m1 0h2m4 0h1m18 0h5m2 0h1m2 0h10m1 0h7m1 0h2m8 0h2m1 0h2m4 0h5m1 0h2m1 0h2m2 0h6m1 0h7m14 0h3"/>
</g>
<g transform="translate(0,2000.98) scale(1,31.017)">
<path class="j35" d="M79 0h1"/>
<path class="j36" d="M2 0h1m75 0h1m7 0h1m197 0h1"/>
<path class="j37" d="M1 0h1m1 0h1m81 0h1m199 0h1"/>
<path class="j38" d="M0 0h1m80 0h1m2 0h1m2 0h1"/>
<path class="j39" d="M60 0h1m19 0h1m2 0h1m5 0h3m191 0h1"/>
<path class="j40" d="M10 0h1m48 0h1m22 0h1m10 0h2m187 0h1"/>
<path class="j41" d="M4 0h2m2 0h1m52 0h1m4 0h1m10 0h1m14 0h1"/>
<path class="j42" d="M6 0h2m1 0h1m1 0h1m1 0h1m2 0h1m47 0h2m1 0h1m1 0h2m1 0h1m1 0h2m25 0h2"/>
<path class="j43" d="M15 0h1m1 0h1m26 0h1m1 0h3m8 0h2m9 0h1m2 0h1m1 0h1m2 0h1m26 0h1m2 0h1m174 0h1"/>
<path class="j44" d="M12 0h1m1 0h1m4 0h1m4 0h1m1 0h1m18 0h1m3 0h3m53 0h1m174 0h1"/>
<path class="j45" d="M20 0h2m1 0h1m1 0h1m201 0h1"/>
<path class="j46" d="M22 0h1m30 0h2m58 0h1"/>
<path class="j47" d="M32 0h1m7 0h1m2 0h1m63 0h1m2 0h3m1 0h1m16 0h1"/>
<path class="j48" d="M33 0h1m1 0h5m1 0h2m53 0h1m3 0h1"/>
<path class="j49" d="M34 0h1m160 0h1m83 0h1"/>
<path class="j51" d="M27 0h1m1 0h1m87 0h2m2 0h2m1 0h2"/>
<path class="j52" d="M28 0h1m1 0h2m31 0h1m59 0h1m154 0h1"/>
<path class="j54" d="M88 0h1m105 0h1m11 0h1m54 0h1"/>
<path class="j55" d="M262 0h2"/>
<path class="j56" d="M147 0h1m118 0h1"/>
<path class="j57" d="M52 0h1m92 0h1"/>
<path class="j58" d="M146 0h1m1 0h1m42 0h2"/>
<path class="j59" d="M164 0h1m3 0h1m1 0h1m2 0h1m4 0h2m1 0h1m11 0h1m52 0h1m4 0h1"/>
<path class="j60" d="M98 0h1m37 0h4m2 0h2m5 0h2m1 0h1m10 0h1m1 0h2m2 0h1m2 0h1m1 0h4m67 0h1"/>
<path class="j61" d="M55 0h1m84 0h2m2 0h1m22 0h1m3 0h1m8 0h1"/>
<path class="j62" d="M109 0h1m6 0h1m34 0h1m8 0h1m21 0h3m54 0h1m2 0h1m4 0h4"/>
<path class="j63" d="M18 0h1m37 0h1m5 0h1m32 0h1m1 0h1m1 0h1m4 0h1m3 0h1m6 0h1m3 0h2m37 0h2m1 0h2m22 0h6m5 0h10m1 0h7m1 0h3m7 0h2m1 0h2m4 0h5m1 0h2m1 0h2m7 0h1m1 0h7m14 0h3"/>
</g>
<g transform="translate(0,1968.41) scale(1,34.119)">
<path class="j27" d="M78 0h2m1 0h1m1 0h2m1 0h1"/>
<path class="j28" d="M80 0h1m4 0h1"/>
<path class="j29" d="M2 0h2m78 0h1m4 0h1"/>
<path class="j30" d="M1 0h1m8 0h1"/>
<path class="j31" d="M0 0h1m3 0h5m2 0h1m1 0h1m61 0h1m1 0h1"/>
<path class="j32" d="M9 0h1m2 0h1m1 0h1m61 0h1m12 0h3m2 0h1m1 0h1"/>
<path class="j33" d="M19 0h1m4 0h1m1 0h1m65 0h2"/>
<path class="j34" d="M20 0h4m1 0h1m34 0h1m5 0h1m5 0h1"/>
<path class="j35" d="M57 0h3m4 0h2m1 0h5m2 0h1m209 0h2"/>
<path class="j36" d="M16 0h1m27 0h6m11 0h1m11 0h1"/>
<path class="j37" d="M15 0h1m1 0h1m32 0h2m48 0h1"/>
<path class="j38" d="M40 0h1m2 0h1m57 0h3m179 0h1"/>
<path class="j39" d="M32 0h2m1 0h5m1 0h2m11 0h1m51 0h1m175 0h1"/>
<path class="j40" d="M34 0h1m18 0h1m51 0h1m1 0h1"/>
<path class="j41" d="M110 0h4"/>
<path class="j42" d="M27 0h1m1 0h1m84 0h1m16 0h1"/>
<path class="j43" d="M28 0h1m1 0h2m249 0h1"/>
<path class="j44" d="M63 0h1m53 0h1"/>
<path class="j45" d="M118 0h1m2 0h1"/>
<path class="j46" d="M122 0h4m101 0h1m52 0h1"/>
<path class="j47" d="M55 0h1m32 0h1m106 0h1"/>
<path class="j51" d="M52 0h1m9 0h1m82 0h1m1 0h1m131 0h1"/>
<path class="j52" d="M98 0h1m37 0h4m8 0h1"/>
<path class="j53" d="M18 0h1m127 0h1"/>
<path class="j54" d="M109 0h1m6 0h1m24 0h1m1 0h1m5 0h2m9 0h1m33 0h1m11 0h1m54 0h1m16 0h1"/>
<path class="j55" d="M152 0h1m17 0h1m2 0h1m89 0h1"/>
<path class="j56" d="M151 0h1m12 0h1m3 0h1m3 0h1m1 0h6m1 0h1m15 0h1m64 0h1"/>
<path class="j57" d="M163 0h1m1 0h2m2 0h1m1 0h1m8 0h1m10 0h3"/>
<path class="j58" d="M167 0h1m14 0h1m13 0h1m49 0h1"/>
<path class="j59" d="M183 0h3m16 0h1m14 0h1m27 0h1"/>
<path class="j60" d="M99 0h1m139 0h1m12 0h1"/>
<path class="j61" d="M140 0h1m18 0h1m87 0h4m15 0h1"/>
<path class="j62" d="M142 0h1m1 0h1m43 0h1"/>
<path class="j63" d="M56 0h1m38 0h1m1 0h1m6 0h1m3 0h1m6 0h1m3 0h2m37 0h1m2 0h2m23 0h2m1 0h2m7 0h4m1 0h3m1 0h7m1 0h2m8 0h2m1 0h2m4 0h5m1 0h5m6 0h1m2 0h7m14 0h3"/>
</g>
<g transform="translate(0,1932.58) scale(1,37.531)">
<path class="j18" d="M2 0h2"/>
<path class="j19" d="M0 0h2"/>
<path class="j21" d="M79 0h1m1 0h1m2 0h1m1 0h1"/>
<path class="j22" d="M4 0h2m2 0h1m1 0h2m1 0h1m64 0h1m1 0h1m2 0h1m1 0h1"/>
<path class="j23" d="M6 0h2m1 0h1m72 0h1m4 0h1"/>
<path class="j24" d="M12 0h1m1 0h1"/>
<path class="j25" d="M89 0h1m1 0h1"/>
<path class="j26" d="M77 0h1m12 0h1m2 0h1"/>
<path class="j27" d="M75 0h2m15 0h1"/>
<path class="j28" d="M19 0h1m6 0h1"/>
<path class="j29" d="M20 0h6m258 0h2"/>
<path class="j30" d="M66 0h1m29 0h1m186 0h1"/>
<path class="j31" d="M15 0h3m46 0h2m1 0h6m1 0h1m207 0h1"/>
<path class="j32" d="M73 0h1m20 0h1m5 0h1"/>
<path class="j33" d="M32 0h1m3 0h5m1 0h9m6 0h4m40 0h3m177 0h1"/>
<path class="j34" d="M33 0h3m5 0h1m9 0h1m9 0h1m51 0h1"/>
<path class="j35" d="M106 0h1m3 0h3m1 0h1"/>
<path class="j36" d="M53 0h2m50 0h1m1 0h1"/>
<path class="j37" d="M131 0h1"/>
<path class="j38" d="M27 0h3m1 0h1m93 0h1"/>
<path class="j39" d="M30 0h1m86 0h2m2 0h1m2 0h1m18 0h1"/>
<path class="j40" d="M88 0h1m33 0h2m17 0h1m138 0h1"/>
<path class="j41" d="M63 0h1"/>
<path class="j42" d="M145 0h1m1 0h1"/>
<path class="j43" d="M52 0h1m83 0h3m7 0h1m1 0h1"/>
<path class="j44" d="M55 0h1m83 0h1"/>
<path class="j45" d="M18 0h1m97 0h1m32 0h2m1 0h1"/>
<path class="j46" d="M109 0h1m41 0h1m8 0h1m34 0h1"/>
<path class="j48" d="M62 0h1m107 0h1m2 0h2m104 0h1"/>
<path class="j49" d="M98 0h1m72 0h2m2 0h3"/>
<path class="j50" d="M168 0h1m9 0h2m1 0h1"/>
<path class="j51" d="M140 0h1m18 0h1m3 0h2m1 0h1m13 0h1m97 0h1"/>
<path class="j52" d="M99 0h1m65 0h1m1 0h1m1 0h1m12 0h4m11 0h1"/>
<path class="j53" d="M191 0h3m2 0h1m65 0h2"/>
<path class="j54" d="M108 0h1m85 0h1m11 0h1m10 0h1m28 0h1"/>
<path class="j55" d="M104 0h1m97 0h1m42 0h1"/>
<path class="j56" d="M142 0h1"/>
<path class="j57" d="M249 0h2"/>
<path class="j58" d="M211 0h1m27 0h1m12 0h1m22 0h2"/>
<path class="j59" d="M120 0h1m65 0h1m26 0h1m45 0h1"/>
<path class="j60" d="M119 0h1m106 0h1m29 0h1"/>
<path class="j61" d="M187 0h1m56 0h1m9 0h1m22 0h1"/>
<path class="j62" d="M115 0h1m28 0h1m43 0h1m18 0h3m5 0h2m30 0h2m6 0h1m1 0h1"/>
<path class="j63" d="M56 0h1m38 0h1m1 0h1m60 0h1m2 0h2m26 0h2m7 0h4m1 0h3m4 0h1m1 0h1m12 0h1m1 0h3m4 0h5m1 0h4m7 0h1m6 0h1m1 0h2m4 0h1"/>
</g>
<g transform="translate(0,1893.18) scale(1,41.284)">
<path class="j15" d="M2 0h2"/>
<path class="j16" d="M0 0h2"/>
<path class="j19" d="M4 0h8m1 0h1m270 0h1"/>
<path class="j20" d="M12 0h1m1 0h1"/>
<path class="j21" d="M81 0h1m200 0h2m1 0h1"/>
<path class="j22" d="M80 0h1m1 0h5"/>
<path class="j23" d="M87 0h1"/>
<path class="j24" d="M89 0h3m1 0h2m186 0h1"/>
<path class="j25" d="M19 0h1m4 0h1m1 0h1m65 0h1m3 0h1"/>
<path class="j26" d="M15 0h3m2 0h4m1 0h1m117 0h1"/>
<path class="j27" d="M78 0h2"/>
<path class="j28" d="M75 0h1m1 0h1m202 0h1"/>
<path class="j29" d="M76 0h1"/>
<path class="j30" d="M100 0h1m1 0h2"/>
<path class="j31" d="M101 0h1m4 0h1m3 0h1m2 0h1m7 0h1m3 0h1"/>
<path class="j32" d="M64 0h4m1 0h2m1 0h1m32 0h1m1 0h1m3 0h2m1 0h1m7 0h3m6 0h1"/>
<path class="j33" d="M32 0h1m3 0h5m1 0h9m17 0h1m2 0h1m1 0h2m61 0h4m1 0h1"/>
<path class="j34" d="M27 0h3m1 0h1m1 0h3m5 0h1m9 0h1m8 0h1m27 0h1m28 0h2"/>
<path class="j35" d="M30 0h1m22 0h1m3 0h3m1 0h1m83 0h3m1 0h2"/>
<path class="j36" d="M54 0h1m93 0h1m2 0h2m126 0h1"/>
<path class="j38" d="M18 0h1m141 0h1"/>
<path class="j39" d="M195 0h1"/>
<path class="j40" d="M98 0h1m10 0h1m6 0h1m23 0h1m18 0h1m118 0h1"/>
<path class="j41" d="M52 0h1m10 0h1"/>
<path class="j42" d="M170 0h1m2 0h1m88 0h2"/>
<path class="j43" d="M168 0h1m3 0h1m1 0h4m97 0h1"/>
<path class="j44" d="M55 0h1m107 0h5m3 0h1m7 0h1m1 0h1m2 0h1"/>
<path class="j45" d="M169 0h1m8 0h1m1 0h1m1 0h2m1 0h1m5 0h2m1 0h1m81 0h1"/>
<path class="j46" d="M62 0h1m36 0h1m8 0h1m33 0h1m50 0h1"/>
<path class="j47" d="M257 0h1"/>
<path class="j48" d="M259 0h1"/>
<path class="j49" d="M104 0h1m92 0h1m48 0h1"/>
<path class="j50" d="M186 0h1m24 0h1m5 0h1m27 0h1m3 0h2"/>
<path class="j51" d="M120 0h1m23 0h1m61 0h1"/>
<path class="j52" d="M119 0h1m67 0h1m8 0h1m57 0h2"/>
<path class="j53" d="M188 0h1m58 0h2m7 0h1"/>
<path class="j54" d="M189 0h1m12 0h1m10 0h1m44 0h1"/>
<path class="j55" d="M115 0h1m91 0h3m6 0h1m9 0h1m12 0h1m12 0h1"/>
<path class="j56" d="M260 0h1"/>
<path class="j57" d="M95 0h1m109 0h1"/>
<path class="j58" d="M97 0h1m103 0h1m75 0h1"/>
<path class="j59" d="M56 0h1m179 0h2m6 0h1"/>
<path class="j60" d="M162 0h1m72 0h1m6 0h1"/>
<path class="j61" d="M215 0h1m9 0h1m15 0h1m1 0h1"/>
<path class="j62" d="M161 0h1m72 0h1m3 0h1m1 0h1"/>
<path class="j63" d="M158 0h1m31 0h1m7 0h3m2 0h2m5 0h1m1 0h1m14 0h3m21 0h1m9 0h1m4 0h1"/>
</g>
<g transform="translate(0,1849.83) scale(1,45.412)">
<path class="j12" d="M284 0h1"/>
<path class="j13" d="M282 0h2m1 0h1"/>
<path class="j14" d="M2 0h2m277 0h1"/>
<path class="j15" d="M0 0h2"/>
<path class="j16" d="M4 0h8"/>
<path class="j17" d="M12 0h3"/>
<path class="j18" d="M280 0h1"/>
<path class="j22" d="M81 0h1m1 0h1"/>
<path class="j23" d="M80 0h1m1 0h1m1 0h4m191 0h1"/>
<path class="j24" d="M96 0h1"/>
<path class="j25" d="M15 0h3m1 0h1m6 0h1m62 0h3m1 0h2"/>
<path class="j26" d="M20 0h6m66 0h1m185 0h1"/>
<path class="j27" d="M78 0h2m63 0h1"/>
<path class="j28" d="M75 0h3m197 0h1"/>
<path class="j30" d="M88 0h1m32 0h1m3 0h1m5 0h1m144 0h1"/>
<path class="j31" d="M29 0h1m70 0h4m2 0h1m3 0h5m7 0h3m11 0h6"/>
<path class="j32" d="M18 0h1m8 0h2m1 0h2m73 0h1m1 0h1m9 0h2m26 0h3m1 0h2m1 0h1m110 0h1"/>
<path class="j33" d="M36 0h5m1 0h10m12 0h9m75 0h1m2 0h1m7 0h2m101 0h1"/>
<path class="j34" d="M32 0h4m5 0h1m31 0h2"/>
<path class="j35" d="M194 0h1"/>
<path class="j36" d="M53 0h1m3 0h4m55 0h1m78 0h1"/>
<path class="j37" d="M54 0h1m6 0h1m36 0h1"/>
<path class="j38" d="M109 0h1m32 0h1m30 0h1m7 0h1m2 0h2m72 0h1"/>
<path class="j39" d="M163 0h10m1 0h4m1 0h1m2 0h2m61 0h2m10 0h1"/>
<path class="j40" d="M52 0h1m125 0h1m1 0h1m10 0h2"/>
<path class="j41" d="M63 0h1m129 0h1m55 0h2m1 0h1m1 0h2"/>
<path class="j42" d="M99 0h1m8 0h1m108 0h1m41 0h1"/>
<path class="j43" d="M144 0h1m52 0h1m62 0h1"/>
<path class="j44" d="M55 0h1m48 0h1m15 0h1m65 0h1m24 0h1m35 0h2"/>
<path class="j45" d="M62 0h1m52 0h1m3 0h1m76 0h1m42 0h1m4 0h1"/>
<path class="j46" d="M187 0h2m13 0h1m53 0h1"/>
<path class="j47" d="M189 0h1m16 0h1m9 0h1m9 0h1"/>
<path class="j48" d="M97 0h1m107 0h1m7 0h1m22 0h2m3 0h3"/>
<path class="j49" d="M95 0h1m66 0h1m72 0h1"/>
<path class="j50" d="M201 0h1m75 0h1"/>
<path class="j51" d="M207 0h3m5 0h1"/>
<path class="j52" d="M56 0h1m168 0h1m8 0h1"/>
<path class="j53" d="M161 0h1m38 0h1"/>
<path class="j54" d="M198 0h1"/>
<path class="j55" d="M238 0h1"/>
<path class="j57" d="M199 0h1m4 0h1"/>
<path class="j59" d="M190 0h1m12 0h1m23 0h1m12 0h1"/>
<path class="j60" d="M158 0h1"/>
<path class="j62" d="M228 0h2"/>
<path class="j63" d="M210 0h1m1 0h1m38 0h1m9 0h1m4 0h1"/>
</g>
<g transform="translate(0,1802.15) scale(1,49.953)">
<path class="j7" d="M282 0h3"/>
<path class="j8" d="M281 0h1m3 0h1"/>
<path class="j12" d="M280 0h1"/>
<path class="j14" d="M0 0h4"/>
<path class="j15" d="M279 0h1"/>
<path class="j16" d="M278 0h1"/>
<path class="j17" d="M4 0h6m1 0h1"/>
<path class="j18" d="M10 0h1"/>
<path class="j19" d="M275 0h1"/>
<path class="j20" d="M12 0h3m261 0h1"/>
<path class="j21" d="M81 0h1"/>
<path class="j22" d="M80 0h1m1 0h5"/>
<path class="j23" d="M17 0h1m69 0h1m1 0h1m1 0h1m2 0h1"/>
<path class="j24" d="M15 0h2m73 0h1m1 0h2m2 0h1m166 0h1"/>
<path class="j25" d="M19 0h1m6 0h1m61 0h1m173 0h1"/>
<path class="j26" d="M20 0h6"/>
<path class="j27" d="M252 0h1"/>
<path class="j28" d="M18 0h1"/>
<path class="j29" d="M78 0h2m63 0h1"/>
<path class="j30" d="M75 0h3m33 0h1m13 0h1m5 0h1m4 0h6m107 0h2m9 0h1"/>
<path class="j31" d="M27 0h5m68 0h1m1 0h2m2 0h1m3 0h1m1 0h2m3 0h2m2 0h4m20 0h2m2 0h1m1 0h1m105 0h1"/>
<path class="j32" d="M40 0h1m1 0h1m58 0h1m3 0h1m1 0h1m6 0h1m1 0h1m30 0h2m1 0h1m1 0h1m6 0h2m18 0h1m1 0h1m1 0h1m8 0h1m61 0h1"/>
<path class="j33" d="M33 0h2m1 0h4m1 0h1m1 0h3m1 0h1m16 0h5m1 0h2m101 0h4m1 0h1m1 0h1m1 0h1m1 0h2m5 0h1m1 0h3m42 0h2m5 0h2m8 0h1m2 0h1"/>
<path class="j34" d="M32 0h1m2 0h1m10 0h1m1 0h4m17 0h1m2 0h3m23 0h1m10 0h1m60 0h2m5 0h1m8 0h1m72 0h1"/>
<path class="j35" d="M53 0h1m3 0h4m111 0h1m83 0h1"/>
<path class="j36" d="M54 0h1m6 0h1m80 0h1m44 0h1m25 0h1m3 0h1m29 0h2"/>
<path class="j37" d="M99 0h1m8 0h1m54 0h3m1 0h2m31 0h1m10 0h1m4 0h1m9 0h1m8 0h3"/>
<path class="j38" d="M166 0h1m2 0h1m18 0h1m52 0h4"/>
<path class="j39" d="M52 0h1m67 0h1m68 0h1m7 0h1m1 0h1m2 0h1"/>
<path class="j40" d="M104 0h1m10 0h1m3 0h1m24 0h1m59 0h1m10 0h1m24 0h1"/>
<path class="j41" d="M55 0h1m6 0h2m132 0h1m8 0h1m1 0h3"/>
<path class="j42" d="M162 0h1m38 0h1m4 0h1m18 0h1m8 0h1m42 0h1"/>
<path class="j43" d="M95 0h1m1 0h1"/>
<path class="j45" d="M56 0h1"/>
<path class="j46" d="M198 0h1m29 0h2"/>
<path class="j47" d="M161 0h1"/>
<path class="j48" d="M203 0h1"/>
<path class="j51" d="M158 0h1m31 0h1"/>
<path class="j52" d="M210 0h1"/>
<path class="j57" d="M251 0h1"/>
<path class="j58" d="M212 0h1"/>
<path class="j63" d="M227 0h1m33 0h1m4 0h1"/>
</g>
<g transform="translate(0,1749.69) scale(1,54.949)">
<path class="j3" d="M282 0h4"/>
<path class="j5" d="M280 0h2"/>
<path class="j7" d="M279 0h1"/>
<path class="j10" d="M278 0h1"/>
<path class="j14" d="M0 0h1m1 0h2"/>
<path class="j15" d="M1 0h1m273 0h1"/>
<path class="j16" d="M276 0h1"/>
<path class="j17" d="M4 0h4m1 0h1m1 0h1"/>
<path class="j18" d="M8 0h1m1 0h1m1 0h3m66 0h3"/>
<path class="j19" d="M80 0h1m3 0h4m174 0h2"/>
<path class="j20" d="M88 0h1"/>
<path class="j21" d="M17 0h1m73 0h1m2 0h1"/>
<path class="j22" d="M15 0h2m2 0h2m1 0h1m2 0h2m48 0h5m9 0h2m1 0h2"/>
<path class="j23" d="M21 0h1m1 0h2m166 0h2m2 0h1m54 0h1m1 0h1m1 0h1m1 0h1"/>
<path class="j24" d="M18 0h1m77 0h1m96 0h1m45 0h1m9 0h1m5 0h1m2 0h1m1 0h1"/>
<path class="j25" d="M257 0h1m1 0h1"/>
<path class="j26" d="M243 0h1m1 0h1m1 0h2"/>
<path class="j27" d="M28 0h2m164 0h1m21 0h2m18 0h3m1 0h3m1 0h1m1 0h1"/>
<path class="j28" d="M27 0h1m2 0h2m32 0h1m1 0h1m1 0h1m2 0h1m59 0h1m64 0h5m1 0h1m12 0h1m19 0h1"/>
<path class="j29" d="M40 0h1m1 0h1m22 0h1m1 0h1m1 0h2m1 0h3m23 0h1m1 0h1m1 0h2m7 0h1m13 0h1m10 0h3m1 0h3m27 0h2m1 0h5m1 0h1m1 0h3m2 0h4m11 0h1m2 0h2m7 0h1"/>
<path class="j30" d="M33 0h2m1 0h4m1 0h1m1 0h1m3 0h1m9 0h5m39 0h1m3 0h3m2 0h1m2 0h1m3 0h2m2 0h4m14 0h1m32 0h1m5 0h1m1 0h1m3 0h2m20 0h4m15 0h1"/>
<path class="j31" d="M32 0h1m2 0h1m8 0h3m1 0h5m56 0h1m2 0h1m1 0h1m1 0h1m29 0h1m2 0h1m1 0h1m7 0h2m50 0h1m14 0h1m7 0h1"/>
<path class="j32" d="M53 0h1m9 0h1m35 0h1m8 0h1m36 0h1m1 0h2m1 0h1m1 0h1m75 0h2"/>
<path class="j33" d="M54 0h2m6 0h1m34 0h1m69 0h1"/>
<path class="j34" d="M115 0h1m27 0h1m19 0h4m1 0h2"/>
<path class="j35" d="M95 0h1m23 0h2m23 0h1m65 0h1m66 0h1"/>
<path class="j37" d="M104 0h1"/>
<path class="j38" d="M56 0h1m105 0h1"/>
<path class="j40" d="M161 0h1m41 0h1"/>
<path class="j43" d="M190 0h1"/>
<path class="j44" d="M158 0h1m92 0h1m9 0h1"/>
<path class="j50" d="M212 0h1"/>
<path class="j63" d="M227 0h1m38 0h1"/>
</g>
<g transform="translate(0,1692) scale(1,60.444)">
<path class="j0" d="M282 0h2"/>
<path class="j1" d="M284 0h2"/>
<path class="j2" d="M281 0h1"/>
<path class="j3" d="M280 0h1"/>
<path class="j5" d="M279 0h1"/>
<path class="j9" d="M278 0h1"/>
<path class="j11" d="M275 0h1"/>
<path class="j12" d="M0 0h1m1 0h2m272 0h1"/>
<path class="j13" d="M1 0h1"/>
<path class="j14" d="M7 0h1"/>
<path class="j15" d="M4 0h3m1 0h2m1 0h1m183 0h1m66 0h2"/>
<path class="j16" d="M10 0h1m6 0h1m174 0h1m52 0h1"/>
<path class="j17" d="M12 0h1m1 0h1m61 0h1m4 0h3m4 0h1m2 0h1m2 0h1m96 0h1m46 0h6m2 0h1m3 0h1m6 0h2m1 0h1"/>
<path class="j18" d="M13 0h1m1 0h2m2 0h2m1 0h1m2 0h2m48 0h1m1 0h4m3 0h1m2 0h1m1 0h2m1 0h2m99 0h1m43 0h1m6 0h1m2 0h3m9 0h1"/>
<path class="j19" d="M18 0h1m2 0h1m1 0h2m60 0h2m107 0h1m5 0h1m34 0h2m19 0h1"/>
<path class="j20" d="M186 0h1m15 0h1m7 0h1m23 0h1m19 0h2"/>
<path class="j21" d="M187 0h3m6 0h4m1 0h1m1 0h3m10 0h2m34 0h1"/>
<path class="j22" d="M96 0h1m82 0h1m3 0h1m22 0h1m8 0h1"/>
<path class="j23" d="M27 0h5m8 0h1m1 0h1m133 0h1m1 0h1m1 0h3m1 0h2m21 0h3m1 0h1m1 0h1m11 0h1"/>
<path class="j24" d="M34 0h1m1 0h3m18 0h5m1 0h2m1 0h1m1 0h1m2 0h1m26 0h1m1 0h1m2 0h1m69 0h3m1 0h1m48 0h1m1 0h2"/>
<path class="j25" d="M33 0h1m1 0h1m3 0h1m1 0h1m1 0h10m9 0h1m2 0h1m1 0h1m1 0h2m1 0h3m26 0h2m2 0h2m63 0h2"/>
<path class="j26" d="M32 0h1m20 0h1m45 0h1m7 0h2m2 0h1m19 0h1m11 0h1m28 0h1"/>
<path class="j27" d="M55 0h1m41 0h1m11 0h2m1 0h2m3 0h2m6 0h1m11 0h1m2 0h3m1 0h1"/>
<path class="j28" d="M54 0h1m59 0h3m4 0h4m11 0h1m1 0h2"/>
<path class="j29" d="M146 0h1m2 0h1m1 0h1"/>
<path class="j30" d="M95 0h1m49 0h1m2 0h1m3 0h1m6 0h2m6 0h1"/>
<path class="j31" d="M56 0h1m62 0h1m27 0h1m2 0h1m12 0h4m1 0h2m107 0h1"/>
<path class="j32" d="M120 0h1m130 0h1"/>
<path class="j33" d="M104 0h1m156 0h1"/>
<path class="j34" d="M162 0h1m27 0h1"/>
<path class="j35" d="M161 0h1"/>
<path class="j37" d="M158 0h1m68 0h1"/>
<path class="j44" d="M212 0h1"/>
<path class="j57" d="M266 0h1"/>
</g>
<g transform="translate(0,1628.53) scale(1,66.488)">
<path class="j0" d="M282 0h2"/>
<path class="j1" d="M281 0h1m2 0h2"/>
<path class="j3" d="M280 0h1"/>
<path class="j5" d="M279 0h1"/>
<path class="j9" d="M278 0h1"/>
<path class="j10" d="M0 0h1m1 0h2m271 0h1"/>
<path class="j11" d="M1 0h1m274 0h1"/>
<path class="j12" d="M6 0h2m1 0h1m1 0h1m198 0h1m52 0h1"/>
<path class="j13" d="M4 0h2m2 0h1m67 0h1m4 0h3m4 0h1m2 0h1m2 0h1m150 0h1m16 0h1"/>
<path class="j14" d="M10 0h1m6 0h1m57 0h1m1 0h4m3 0h1m2 0h1m1 0h2m1 0h2m98 0h1m2 0h1m4 0h1m1 0h1m13 0h1m21 0h6m2 0h1m2 0h2m6 0h2m1 0h1"/>
<path class="j15" d="M12 0h4m3 0h2m1 0h1m2 0h2m58 0h2m104 0h1m11 0h3m11 0h1m19 0h1m6 0h1m2 0h2m7 0h1m2 0h1"/>
<path class="j16" d="M16 0h1m1 0h1m2 0h1m1 0h2m168 0h2m6 0h1m4 0h1m8 0h1m19 0h2m17 0h2"/>
<path class="j17" d="M196 0h4m7 0h1m26 0h1"/>
<path class="j18" d="M96 0h1m111 0h2m1 0h1m40 0h1"/>
<path class="j19" d="M28 0h4m8 0h1m1 0h1m9 0h1m13 0h1m1 0h1m2 0h1m107 0h1m6 0h2m1 0h1m23 0h1m11 0h2"/>
<path class="j20" d="M27 0h1m6 0h1m1 0h3m5 0h2m1 0h1m2 0h2m1 0h1m1 0h1m6 0h4m1 0h1m1 0h2m1 0h3m103 0h1m1 0h5m3 0h1m39 0h2"/>
<path class="j21" d="M33 0h1m1 0h1m3 0h1m1 0h1m1 0h1m2 0h1m1 0h2m4 0h1m3 0h1m2 0h1m36 0h1m77 0h1m8 0h1"/>
<path class="j22" d="M32 0h1m24 0h1m1 0h2m36 0h1m2 0h1m1 0h2m4 0h1m61 0h2m1 0h3m1 0h1"/>
<path class="j23" d="M99 0h1m1 0h1m4 0h1m2 0h1m1 0h1m5 0h2m53 0h1m54 0h1"/>
<path class="j24" d="M95 0h1m9 0h1m1 0h1m2 0h1m2 0h1m1 0h2m8 0h1m5 0h1"/>
<path class="j25" d="M112 0h1m1 0h1m6 0h1m15 0h1m3 0h3m133 0h1"/>
<path class="j26" d="M119 0h1m2 0h3m11 0h1m1 0h3m3 0h1"/>
<path class="j27" d="M120 0h1m25 0h1m15 0h1m88 0h1"/>
<path class="j28" d="M56 0h1m92 0h1m1 0h1m15 0h1"/>
<path class="j29" d="M104 0h1m40 0h1m1 0h2m1 0h1m1 0h1m6 0h1m3 0h3"/>
<path class="j30" d="M158 0h1m1 0h2m4 0h1m1 0h2m20 0h1"/>
<path class="j31" d="M261 0h1"/>
<path class="j40" d="M212 0h1"/>
<path class="j44" d="M266 0h1"/>
</g>
<g transform="translate(0,1558.72) scale(1,73.137)">
<path class="j0" d="M282 0h2"/>
<path class="j1" d="M281 0h1m2 0h2"/>
<path class="j4" d="M280 0h1"/>
<path class="j5" d="M279 0h1"/>
<path class="j9" d="M0 0h1m1 0h3m1 0h2m1 0h1m1 0h1m266 0h1"/>
<path class="j10" d="M1 0h1m3 0h1m2 0h1m266 0h1"/>
<path class="j11" d="M10 0h1m265 0h1"/>
<path class="j12" d="M210 0h1"/>
<path class="j13" d="M17 0h1m1 0h2m1 0h1m2 0h1m50 0h1m4 0h3m4 0h1m2 0h1m2 0h1"/>
<path class="j14" d="M12 0h1m1 0h1m3 0h1m2 0h1m2 0h1m1 0h1m48 0h1m1 0h4m3 0h1m2 0h1m1 0h2m1 0h2m168 0h2"/>
<path class="j15" d="M13 0h1m1 0h2m6 0h1m61 0h2m105 0h1m2 0h1m49 0h1m4 0h1m7 0h1"/>
<path class="j16" d="M40 0h1m1 0h1m9 0h1m8 0h1m34 0h1m94 0h1m8 0h1m15 0h1m29 0h2m1 0h1m7 0h1m1 0h2"/>
<path class="j17" d="M28 0h2m3 0h2m1 0h4m1 0h1m2 0h5m1 0h2m1 0h1m1 0h1m1 0h4m2 0h2m1 0h3m2 0h1m1 0h1m119 0h1m8 0h3m12 0h1m17 0h4m1 0h2m1 0h1m4 0h1m5 0h3"/>
<path class="j18" d="M27 0h1m2 0h2m3 0h1m7 0h1m5 0h1m4 0h1m7 0h1m2 0h1m3 0h2m1 0h1m1 0h1m111 0h1m2 0h1m6 0h1m1 0h1m2 0h1m3 0h2m4 0h1m3 0h1m10 0h1m7 0h1m4 0h1m2 0h1m1 0h1m7 0h1"/>
<path class="j19" d="M32 0h1m64 0h2m1 0h1m78 0h1m7 0h2m5 0h1m2 0h1m1 0h1m13 0h1m11 0h1"/>
<path class="j20" d="M95 0h1m3 0h1m2 0h2m11 0h2m59 0h1m1 0h1m1 0h5"/>
<path class="j21" d="M101 0h1m6 0h1m8 0h2m54 0h3m1 0h1m7 0h1m21 0h3m18 0h2"/>
<path class="j22" d="M56 0h1m48 0h2m2 0h3m7 0h2m4 0h1m17 0h1m26 0h2"/>
<path class="j23" d="M107 0h1m5 0h1m17 0h1m5 0h1m2 0h3m19 0h1m9 0h1m104 0h1"/>
<path class="j24" d="M112 0h1m1 0h1m6 0h4m11 0h1m1 0h2m4 0h1m16 0h1"/>
<path class="j25" d="M146 0h1m2 0h1m1 0h1m15 0h1m59 0h1"/>
<path class="j26" d="M152 0h1m5 0h2m3 0h3"/>
<path class="j27" d="M145 0h1m1 0h2m1 0h1m9 0h1m5 0h1m1 0h2"/>
<path class="j28" d="M104 0h1m85 0h1"/>
<path class="j29" d="M251 0h1"/>
<path class="j32" d="M261 0h1"/>
<path class="j35" d="M212 0h1"/>
<path class="j36" d="M266 0h1"/>
</g>
<g transform="translate(0,1481.93) scale(1,80.45)">
<path class="j0" d="M282 0h1"/>
<path class="j1" d="M281 0h1m1 0h3"/>
<path class="j6" d="M280 0h1"/>
<path class="j7" d="M0 0h1m1 0h2m3 0h1m1 0h1"/>
<path class="j8" d="M1 0h1m2 0h3m1 0h1m2 0h1m267 0h1"/>
<path class="j9" d="M10 0h1m267 0h1"/>
<path class="j10" d="M12 0h1m4 0h1"/>
<path class="j11" d="M13 0h4m258 0h1"/>
<path class="j12" d="M19 0h4m1 0h3m55 0h1m5 0h2m1 0h2m1 0h1"/>
<path class="j13" d="M18 0h1m4 0h1m56 0h2m1 0h1m3 0h1m2 0h1m2 0h1m182 0h1"/>
<path class="j14" d="M52 0h1m31 0h3m9 0h1"/>
<path class="j15" d="M63 0h1m12 0h2m17 0h1m1 0h1"/>
<path class="j16" d="M28 0h2m10 0h1m1 0h1m10 0h1m8 0h1m12 0h1m2 0h2m18 0h1"/>
<path class="j17" d="M27 0h1m2 0h2m1 0h7m1 0h1m1 0h6m1 0h2m2 0h2m43 0h1m15 0h1m146 0h2"/>
<path class="j18" d="M32 0h1m16 0h1m21 0h1m28 0h1m1 0h2m12 0h1m26 0h1m66 0h1"/>
<path class="j19" d="M57 0h3m1 0h1m2 0h7m1 0h2m27 0h1m6 0h1m10 0h2m16 0h2m2 0h2m102 0h1m3 0h2m6 0h4"/>
<path class="j20" d="M56 0h1m3 0h1m13 0h1m31 0h1m3 0h2m1 0h1m3 0h2m6 0h1m5 0h1m4 0h1m2 0h2m3 0h1m66 0h1m34 0h2m6 0h1m1 0h1"/>
<path class="j21" d="M105 0h1m1 0h1m1 0h1m2 0h1m1 0h1m6 0h1m2 0h1m66 0h2m2 0h1m4 0h1m47 0h1m3 0h1m2 0h1m21 0h1"/>
<path class="j22" d="M122 0h2m22 0h1m39 0h1m2 0h1m3 0h1m8 0h1m1 0h2m20 0h1m8 0h10"/>
<path class="j23" d="M149 0h1m1 0h1m9 0h2m11 0h3m2 0h1m7 0h2m9 0h2m1 0h1m11 0h1m11 0h1m8 0h1"/>
<path class="j24" d="M145 0h1m1 0h2m1 0h1m1 0h1m5 0h1m11 0h2m1 0h1m3 0h2m1 0h5m12 0h1m18 0h1"/>
<path class="j25" d="M104 0h1m54 0h1m12 0h1m12 0h1m20 0h1m10 0h1"/>
<path class="j26" d="M160 0h1m35 0h1m18 0h1"/>
<path class="j27" d="M165 0h1m1 0h1"/>
<path class="j28" d="M163 0h2m1 0h1m1 0h2m24 0h1m12 0h3"/>
<path class="j29" d="M190 0h1m37 0h2"/>
<path class="j31" d="M251 0h1"/>
<path class="j32" d="M203 0h1"/>
<path class="j33" d="M212 0h1m14 0h1m33 0h1m4 0h1"/>
</g>
<g transform="translate(0,1431.5) scale(1,20.402)">
<path class="j0" d="M282 0h1m1 0h1"/>
<path class="j1" d="M281 0h1m1 0h1m1 0h1"/>
<path class="j5" d="M280 0h1"/>
<path class="j8" d="M6 0h2m1 0h1m1 0h1m266 0h2"/>
<path class="j9" d="M0 0h1m1 0h4m2 0h1m1 0h1m77 0h1"/>
<path class="j10" d="M1 0h1m84 0h2m3 0h1m2 0h1"/>
<path class="j11" d="M12 0h1m4 0h1m1 0h4m2 0h2m54 0h3m1 0h1m3 0h2m1 0h2m1 0h2"/>
<path class="j12" d="M13 0h1m1 0h2m1 0h1m4 0h2m37 0h2m11 0h6m3 0h1m12 0h1m177 0h2"/>
<path class="j13" d="M14 0h1m25 0h1m1 0h1m55 0h1"/>
<path class="j14" d="M27 0h3m1 0h1m1 0h2m1 0h4m1 0h1m1 0h6m1 0h4m1 0h1m1 0h2m5 0h9"/>
<path class="j15" d="M30 0h1m1 0h1m2 0h1m13 0h1m4 0h1m4 0h3m11 0h2m24 0h2m5 0h1m8 0h2m14 0h1"/>
<path class="j16" d="M102 0h2m4 0h1m1 0h1m2 0h1m11 0h1m11 0h2m1 0h4"/>
<path class="j17" d="M101 0h1m3 0h1m1 0h1m3 0h2m4 0h5m2 0h1m11 0h1m2 0h1m4 0h1m117 0h2"/>
<path class="j18" d="M109 0h1m4 0h1m7 0h2"/>
<path class="j19" d="M56 0h1m88 0h2m2 0h1m107 0h4"/>
<path class="j20" d="M147 0h2m1 0h3m5 0h2m2 0h1m7 0h1m3 0h3m15 0h1m34 0h1m26 0h3"/>
<path class="j21" d="M160 0h1m10 0h3m3 0h1m1 0h1m1 0h1m1 0h2m41 0h1m18 0h2m2 0h2"/>
<path class="j22" d="M178 0h1m1 0h1m1 0h1m2 0h1m5 0h1m1 0h1m53 0h2m28 0h1"/>
<path class="j23" d="M161 0h1m24 0h1m1 0h2m5 0h1m14 0h1m14 0h1m12 0h2m2 0h1m9 0h1"/>
<path class="j24" d="M163 0h6m18 0h1m10 0h1m16 0h2m19 0h2m2 0h2m1 0h2"/>
<path class="j25" d="M104 0h1m64 0h1m26 0h1m2 0h2m1 0h1m1 0h2m5 0h1m5 0h1m17 0h1"/>
<path class="j26" d="M197 0h1m3 0h1m32 0h1"/>
<path class="j27" d="M190 0h1m37 0h2"/>
<path class="j28" d="M194 0h1m18 0h1m52 0h1"/>
<path class="j29" d="M206 0h2m1 0h1"/>
<path class="j30" d="M208 0h1"/>
<path class="j31" d="M251 0h1"/>
<path class="j33" d="M203 0h1m8 0h1m48 0h1"/>
</g>
</g>
<g fill="#000">
<circle cx="383.72" cy="2052.21" r="3.9"/><circle cx="392.85" cy="2050.18" r="3.9"/><circle cx="401.98" cy="2050.18" r="3.9"/><circle cx="411.11" cy="2057.39" r="3.9"/><circle cx="420.24" cy="2104.49" r="3.9"/><circle cx="429.37" cy="2118.46" r="3.9"/><circle cx="438.5" cy="2129.27" r="3.9"/><circle cx="447.63" cy="2131.75" r="3.9"/><circle cx="456.76" cy="2147.3" r="3.9"/><circle cx="465.89" cy="2169.83" r="3.9"/><circle cx="475.02" cy="2176.81" r="3.9"/><circle cx="484.15" cy="2176.81" r="3.9"/><circle cx="493.28" cy="2109.22" r="3.9"/><circle cx="502.41" cy="2097.95" r="3.9"/><circle cx="511.54" cy="2093.22" r="3.9"/><circle cx="520.67" cy="2090.74" r="3.9"/><circle cx="529.8" cy="2111.7" r="3.9"/><circle cx="538.93" cy="2118.46" r="3.9"/><circle cx="548.06" cy="2118.46" r="3.9"/><circle cx="557.19" cy="2109.22" r="3.9"/><circle cx="566.33" cy="2097.95" r="3.9"/><circle cx="575.46" cy="2095.7" r="3.9"/><circle cx="584.59" cy="2095.7" r="3.9"/><circle cx="593.72" cy="2095.7" r="3.9"/><circle cx="602.85" cy="2095.7" r="3.9"/><circle cx="611.98" cy="2088.71" r="3.9"/><circle cx="621.11" cy="2079.47" r="3.9"/><circle cx="630.24" cy="2077.45" r="3.9"/><circle cx="639.37" cy="2077.45" r="3.9"/><circle cx="648.5" cy="2082.4" r="3.9"/><circle cx="657.63" cy="2084.43" r="3.9"/><circle cx="666.76" cy="2084.43" r="3.9"/><circle cx="675.89" cy="2082.4" r="3.9"/><circle cx="685.02" cy="2082.4" r="3.9"/><circle cx="694.15" cy="2082.4" r="3.9"/><circle cx="703.28" cy="2082.4" r="3.9"/><circle cx="712.41" cy="2088.71" r="3.9"/><circle cx="721.54" cy="2091.19" r="3.9"/><circle cx="730.67" cy="2093.22" r="3.9"/><circle cx="739.8" cy="2095.7" r="3.9"/><circle cx="748.94" cy="2090.74" r="3.9"/><circle cx="758.07" cy="2088.71" r="3.9"/><circle cx="767.2" cy="2091.19" r="3.9"/><circle cx="776.33" cy="2083.98" r="3.9"/><circle cx="785.46" cy="2072.71" r="3.9"/><circle cx="794.59" cy="2068.21" r="3.9"/><circle cx="803.72" cy="2068.21" r="3.9"/><circle cx="812.85" cy="2068.21" r="3.9"/><circle cx="821.98" cy="2070.46" r="3.9"/><circle cx="831.11" cy="2072.71" r="3.9"/><circle cx="840.24" cy="2072.71" r="3.9"/><circle cx="849.37" cy="2189.66" r="3.9"/><circle cx="858.5" cy="2178.39" r="3.9"/><circle cx="867.63" cy="2108.54" r="3.9"/><circle cx="876.76" cy="2144.59" r="3.9"/><circle cx="885.89" cy="2149.1" r="3.9"/><circle cx="895.02" cy="2176.36" r="3.9"/><circle cx="904.15" cy="2180.87" r="3.9"/><circle cx="913.28" cy="2178.39" r="3.9"/><circle cx="922.41" cy="2164.87" r="3.9"/><circle cx="931.55" cy="2164.87" r="3.9"/><circle cx="940.68" cy="2133.33" r="3.9"/><circle cx="949.81" cy="2099.3" r="3.9"/><circle cx="958.94" cy="2095.25" r="3.9"/><circle cx="968.07" cy="2095.25" r="3.9"/><circle cx="977.2" cy="2090.06" r="3.9"/><circle cx="986.33" cy="2074.74" r="3.9"/><circle cx="995.46" cy="2074.74" r="3.9"/><circle cx="1004.59" cy="2077.22" r="3.9"/><circle cx="1013.72" cy="2081.73" r="3.9"/><circle cx="1022.85" cy="2086.01" r="3.9"/><circle cx="1031.98" cy="2083.98" r="3.9"/><circle cx="1041.11" cy="2079.25" r="3.9"/><circle cx="1050.24" cy="2074.74" r="3.9"/><circle cx="1059.37" cy="2074.74" r="3.9"/><circle cx="1068.5" cy="2079.25" r="3.9"/><circle cx="1077.63" cy="2079.25" r="3.9"/><circle cx="1086.76" cy="2075.19" r="3.9"/><circle cx="1095.89" cy="2076.77" r="3.9"/><circle cx="1105.02" cy="2074.74" r="3.9"/><circle cx="1114.16" cy="2072.71" r="3.9"/><circle cx="1123.29" cy="2076.77" r="3.9"/><circle cx="1132.42" cy="2076.77" r="3.9"/><circle cx="1141.55" cy="2079.25" r="3.9"/><circle cx="1150.68" cy="2083.98" r="3.9"/><circle cx="1159.81" cy="2083.98" r="3.9"/><circle cx="1168.94" cy="2094.8" r="3.9"/><circle cx="1178.07" cy="2092.77" r="3.9"/><circle cx="1187.2" cy="2086.01" r="3.9"/><circle cx="1196.33" cy="2086.01" r="3.9"/><circle cx="1205.46" cy="2072.71" r="3.9"/><circle cx="1214.59" cy="2072.71" r="3.9"/><circle cx="1223.72" cy="2072.71" r="3.9"/><circle cx="1232.85" cy="2067.98" r="3.9"/><circle cx="1241.98" cy="2079.25" r="3.9"/><circle cx="1251.11" cy="2099.3" r="3.9"/><circle cx="1260.24" cy="2124.09" r="3.9"/><circle cx="1269.37" cy="2137.83" r="3.9"/><circle cx="1278.5" cy="2121.84" r="3.9"/><circle cx="1287.63" cy="2113.05" r="3.9"/><circle cx="1296.77" cy="2117.78" r="3.9"/><circle cx="1305.9" cy="2137.83" r="3.9"/><circle cx="1315.03" cy="2131.07" r="3.9"/><circle cx="1324.16" cy="2137.83" r="3.9"/><circle cx="1333.29" cy="2137.83" r="3.9"/><circle cx="1342.42" cy="2135.81" r="3.9"/><circle cx="1351.55" cy="2133.33" r="3.9"/><circle cx="1360.68" cy="2117.78" r="3.9"/><circle cx="1369.81" cy="2092.77" r="3.9"/><circle cx="1378.94" cy="2092.77" r="3.9"/><circle cx="1388.07" cy="2104.03" r="3.9"/><circle cx="1397.2" cy="2113.05" r="3.9"/><circle cx="1406.33" cy="2135.81" r="3.9"/><circle cx="1415.46" cy="2142.34" r="3.9"/><circle cx="1424.59" cy="2110.57" r="3.9"/><circle cx="1433.72" cy="2101.56" r="3.9"/><circle cx="1442.85" cy="2104.03" r="3.9"/><circle cx="1451.98" cy="2113.05" r="3.9"/><circle cx="1461.11" cy="2106.06" r="3.9"/><circle cx="1470.24" cy="2117.78" r="3.9"/><circle cx="1479.38" cy="2101.56" r="3.9"/><circle cx="1488.51" cy="2139.86" r="3.9"/><circle cx="1497.64" cy="2155.86" r="3.9"/><circle cx="1506.77" cy="2162.39" r="3.9"/><circle cx="1515.9" cy="2169.15" r="3.9"/><circle cx="1525.03" cy="2200.92" r="3.9"/><circle cx="1579.81" cy="2131.07" r="2.6"/><circle cx="1625.46" cy="2020.44" r="3.9"/><circle cx="1634.59" cy="2026.97" r="3.9"/><circle cx="1643.72" cy="2031.71" r="3.9"/><circle cx="1652.85" cy="2034.18" r="3.9"/><circle cx="1661.99" cy="2036.21" r="3.9"/><circle cx="1671.12" cy="2042.97" r="3.9"/><circle cx="1680.25" cy="2036.21" r="3.9"/><circle cx="1689.38" cy="2045.45" r="3.9"/><circle cx="1698.51" cy="2054.24" r="3.9"/><circle cx="1707.64" cy="2058.74" r="3.9"/><circle cx="1716.77" cy="2074.74" r="3.9"/><circle cx="1725.9" cy="2101.78" r="3.9"/><circle cx="1735.03" cy="2144.59" r="3.9"/><circle cx="1744.16" cy="2182.9" r="3.9"/><circle cx="1753.29" cy="2194.16" r="3.9"/><circle cx="1762.42" cy="2205.43" r="3.9"/><circle cx="1771.55" cy="2207.68" r="3.9"/><circle cx="1826.33" cy="2167.13" r="3.9"/><circle cx="1835.46" cy="2205.43" r="3.9"/><circle cx="1844.6" cy="2194.16" r="3.9"/><circle cx="1853.73" cy="2182.9" r="3.9"/><circle cx="1862.86" cy="2182.9" r="3.9"/><circle cx="1871.99" cy="2160.37" r="3.9"/><circle cx="1881.12" cy="2193.04" r="3.9"/><circle cx="1890.25" cy="2202.95" r="3.9"/><circle cx="1899.38" cy="2196.42" r="3.9"/><circle cx="1908.51" cy="2202.95" r="3.9"/><circle cx="1917.64" cy="2194.16" r="3.9"/><circle cx="1926.77" cy="2169.15" r="3.9"/><circle cx="1935.9" cy="2000.39" r="3.9"/><circle cx="1945.03" cy="1995.65" r="3.9"/><circle cx="1954.16" cy="1995.65" r="3.9"/><circle cx="1963.29" cy="1997.91" r="3.9"/><circle cx="1972.42" cy="1995.65" r="3.9"/><circle cx="1981.55" cy="1989.12" r="3.9"/><circle cx="1990.68" cy="1986.87" r="3.9"/><circle cx="1999.81" cy="1975.6" r="3.9"/><circle cx="2008.94" cy="1971.09" r="3.9"/><circle cx="2018.07" cy="1966.59" r="3.9"/><circle cx="2027.21" cy="1966.59" r="3.9"/><circle cx="2036.34" cy="1969.07" r="3.9"/><circle cx="2045.47" cy="1971.54" r="3.9"/><circle cx="2054.6" cy="1977.85" r="3.9"/><circle cx="2063.73" cy="1986.64" r="3.9"/><circle cx="2072.86" cy="1995.65" r="3.9"/><circle cx="2081.99" cy="2000.39" r="3.9"/><circle cx="2091.12" cy="2009.62" r="3.9"/><circle cx="2100.25" cy="2032.16" r="3.9"/><circle cx="2109.38" cy="2045.45" r="3.9"/><circle cx="2118.51" cy="2065.5" r="3.9"/><circle cx="2127.64" cy="2070.01" r="3.9"/><circle cx="2136.77" cy="2090.52" r="3.9"/><circle cx="2145.9" cy="2115.3" r="3.9"/><circle cx="2155.03" cy="1961.85" r="3.9"/><circle cx="2182.42" cy="2101.56" r="3.9"/><circle cx="2191.55" cy="2031.71" r="3.9"/><circle cx="2200.68" cy="2029.68" r="3.9"/><circle cx="2209.82" cy="2020.44" r="3.9"/><circle cx="2218.95" cy="1978.98" r="3.9"/><circle cx="2228.08" cy="1998.13" r="3.9"/><circle cx="2237.21" cy="1998.13" r="3.9"/><circle cx="2246.34" cy="1995.65" r="3.9"/><circle cx="2255.47" cy="2012.78" r="3.9"/><circle cx="2264.6" cy="1958.47" r="3.9"/><circle cx="2273.73" cy="2176.59" r="3.9"/><circle cx="2282.86" cy="2185.83" r="3.9"/><circle cx="2291.99" cy="2142.79" r="3.9"/><circle cx="2301.12" cy="2142.34" r="3.9"/><circle cx="2310.25" cy="2126.57" r="3.9"/><circle cx="2319.38" cy="2128.6" r="3.9"/><circle cx="2328.51" cy="2094.8" r="3.9"/><circle cx="2346.77" cy="2019.09" r="3.9"/><circle cx="2355.9" cy="2038.69" r="3.9"/><circle cx="2365.03" cy="2070.01" r="3.9"/><circle cx="2438.08" cy="2049.96" r="3.9"/><circle cx="2447.21" cy="2065.5" r="3.9"/><circle cx="2456.34" cy="2205.21" r="3.9"/><circle cx="2465.47" cy="2236.98" r="3.9"/><circle cx="2474.6" cy="2248.24" r="3.9"/><circle cx="2520.25" cy="1977.85" r="3.9"/><circle cx="2529.38" cy="1965.23" r="3.9"/><circle cx="2538.51" cy="1979.88" r="3.9"/><circle cx="2547.64" cy="2061" r="3.9"/><circle cx="2556.77" cy="2086.01" r="3.9"/><circle cx="2565.9" cy="2061" r="3.9"/><circle cx="2575.04" cy="2045.45" r="3.9"/><circle cx="2584.17" cy="2022.92" r="3.9"/><circle cx="2593.3" cy="1946.08" r="3.9"/><circle cx="2602.43" cy="2022.92" r="3.9"/><circle cx="2611.56" cy="2027.42" r="3.9"/><circle cx="2620.69" cy="1903.27" r="3.9"/><circle cx="2629.82" cy="1868.34" r="3.9"/><circle cx="2638.95" cy="1864.96" r="3.9"/><circle cx="2648.08" cy="1892" r="3.9"/><circle cx="2657.21" cy="2099.3" r="3.9"/><circle cx="2666.34" cy="2108.54" r="3.9"/><circle cx="2675.47" cy="2126.57" r="3.9"/><circle cx="2684.6" cy="2149.1" r="3.9"/><circle cx="2702.86" cy="1851.67" r="3.9"/><circle cx="2711.99" cy="1850.32" r="3.9"/><circle cx="2721.12" cy="1858.21" r="3.9"/><circle cx="2730.25" cy="1870.82" r="3.9"/><circle cx="2739.38" cy="1998.13" r="3.9"/><circle cx="2748.51" cy="1885.47" r="3.9"/><circle cx="2757.65" cy="2049.96" r="3.9"/><circle cx="2766.78" cy="2083.98" r="3.9"/><circle cx="2775.91" cy="2040.94" r="3.9"/><circle cx="2785.04" cy="2034.18" r="3.9"/><circle cx="2812.43" cy="2106.06" r="2.6"/><circle cx="2894.6" cy="2088.04" r="3.9"/><circle cx="2903.73" cy="2090.52" r="3.9"/><circle cx="2912.86" cy="2072.26" r="3.9"/><circle cx="2921.99" cy="1948.56" r="3.9"/><circle cx="2931.12" cy="1919.27" r="3.9"/><circle cx="2940.26" cy="1909.13" r="3.9"/><circle cx="2949.39" cy="1860.68" r="3.9"/><circle cx="2958.52" cy="2063.48" r="3.9"/>
</g>
<circle cx="2522.3" cy="1593.1" r="3.9" fill="#000"/>
<text font-size="38.2" fill="#000" x="2636.5" y="1606.3">Cloud Base OE</text>
<g font-size="44.3" fill="#0072bd" text-anchor="end">
<text x="349.2" y="2339.2">0</text>
<text x="349.2" y="2226.54">0.5</text>
<text x="349.2" y="2113.88">1</text>
<text x="349.2" y="2001.21">1.5</text>
<text x="349.2" y="1888.55">2</text>
<text x="349.2" y="1775.89">2.5</text>
<text x="349.2" y="1663.22">3</text>
<text x="349.2" y="1550.56">3.5</text>
<text x="349.2" y="1437.9">4</text>
</g>
<g font-size="44.3" fill="#262626" text-anchor="middle">
<text x="372.9" y="2388.7">0</text>
<text x="921.02" y="2388.7">5</text>
<text x="1469.15" y="2388.7">10</text>
<text x="2017.28" y="2388.7">15</text>
<text x="2565.4" y="2388.7">20</text>
</g>
<text font-size="44.7" fill="#262626" text-anchor="middle" x="1689.9" y="2452.6">UTC hours on 20240516</text>
<text font-size="44.4" fill="#0072bd" text-anchor="middle" transform="translate(244.8,1875.55) rotate(-90)">Altitude, km AMSL</text>
<g shape-rendering="crispEdges">
<rect fill="#00008f" x="3068.2" y="2309.71" width="140.4" height="14.49"/>
<rect fill="#00009f" x="3068.2" y="2295.72" width="140.4" height="14.49"/>
<rect fill="#0000af" x="3068.2" y="2281.73" width="140.4" height="14.49"/>
<rect fill="#0000bf" x="3068.2" y="2267.74" width="140.4" height="14.49"/>
<rect fill="#0000cf" x="3068.2" y="2253.75" width="140.4" height="14.49"/>
<rect fill="#0000df" x="3068.2" y="2239.77" width="140.4" height="14.49"/>
<rect fill="#0000ef" x="3068.2" y="2225.78" width="140.4" height="14.49"/>
<rect fill="#0000ff" x="3068.2" y="2211.79" width="140.4" height="14.49"/>
<rect fill="#0010ff" x="3068.2" y="2197.8" width="140.4" height="14.49"/>
<rect fill="#0020ff" x="3068.2" y="2183.81" width="140.4" height="14.49"/>
<rect fill="#0030ff" x="3068.2" y="2169.82" width="140.4" height="14.49"/>
<rect fill="#0040ff" x="3068.2" y="2155.83" width="140.4" height="14.49"/>
<rect fill="#0050ff" x="3068.2" y="2141.84" width="140.4" height="14.49"/>
<rect fill="#0060ff" x="3068.2" y="2127.85" width="140.4" height="14.49"/>
<rect fill="#0070ff" x="3068.2" y="2113.86" width="140.4" height="14.49"/>
<rect fill="#0080ff" x="3068.2" y="2099.88" width="140.4" height="14.49"/>
<rect fill="#008fff" x="3068.2" y="2085.89" width="140.4" height="14.49"/>
<rect fill="#009fff" x="3068.2" y="2071.9" width="140.4" height="14.49"/>
<rect fill="#00afff" x="3068.2" y="2057.91" width="140.4" height="14.49"/>
<rect fill="#00bfff" x="3068.2" y="2043.92" width="140.4" height="14.49"/>
<rect fill="#00cfff" x="3068.2" y="2029.93" width="140.4" height="14.49"/>
<rect fill="#00dfff" x="3068.2" y="2015.94" width="140.4" height="14.49"/>
<rect fill="#00efff" x="3068.2" y="2001.95" width="140.4" height="14.49"/>
<rect fill="#00ffff" x="3068.2" y="1987.96" width="140.4" height="14.49"/>
<rect fill="#10ffef" x="3068.2" y="1973.97" width="140.4" height="14.49"/>
<rect fill="#20ffdf" x="3068.2" y="1959.98" width="140.4" height="14.49"/>
<rect fill="#30ffcf" x="3068.2" y="1946" width="140.4" height="14.49"/>
<rect fill="#40ffbf" x="3068.2" y="1932.01" width="140.4" height="14.49"/>
<rect fill="#50ffaf" x="3068.2" y="1918.02" width="140.4" height="14.49"/>
<rect fill="#60ff9f" x="3068.2" y="1904.03" width="140.4" height="14.49"/>
<rect fill="#70ff8f" x="3068.2" y="1890.04" width="140.4" height="14.49"/>
<rect fill="#80ff80" x="3068.2" y="1876.05" width="140.4" height="14.49"/>
<rect fill="#8fff70" x="3068.2" y="1862.06" width="140.4" height="14.49"/>
<rect fill="#9fff60" x="3068.2" y="1848.07" width="140.4" height="14.49"/>
<rect fill="#afff50" x="3068.2" y="1834.08" width="140.4" height="14.49"/>
<rect fill="#bfff40" x="3068.2" y="1820.09" width="140.4" height="14.49"/>
<rect fill="#cfff30" x="3068.2" y="1806.1" width="140.4" height="14.49"/>
<rect fill="#dfff20" x="3068.2" y="1792.12" width="140.4" height="14.49"/>
<rect fill="#efff10" x="3068.2" y="1778.13" width="140.4" height="14.49"/>
<rect fill="#ffff00" x="3068.2" y="1764.14" width="140.4" height="14.49"/>
<rect fill="#ffef00" x="3068.2" y="1750.15" width="140.4" height="14.49"/>
<rect fill="#ffdf00" x="3068.2" y="1736.16" width="140.4" height="14.49"/>
<rect fill="#ffcf00" x="3068.2" y="1722.17" width="140.4" height="14.49"/>
<rect fill="#ffbf00" x="3068.2" y="1708.18" width="140.4" height="14.49"/>
<rect fill="#ffaf00" x="3068.2" y="1694.19" width="140.4" height="14.49"/>
<rect fill="#ff9f00" x="3068.2" y="1680.2" width="140.4" height="14.49"/>
<rect fill="#ff8f00" x="3068.2" y="1666.21" width="140.4" height="14.49"/>
<rect fill="#ff8000" x="3068.2" y="1652.22" width="140.4" height="14.49"/>
<rect fill="#ff7000" x="3068.2" y="1638.24" width="140.4" height="14.49"/>
<rect fill="#ff6000" x="3068.2" y="1624.25" width="140.4" height="14.49"/>
<rect fill="#ff5000" x="3068.2" y="1610.26" width="140.4" height="14.49"/>
<rect fill="#ff4000" x="3068.2" y="1596.27" width="140.4" height="14.49"/>
<rect fill="#ff3000" x="3068.2" y="1582.28" width="140.4" height="14.49"/>
<rect fill="#ff2000" x="3068.2" y="1568.29" width="140.4" height="14.49"/>
<rect fill="#ff1000" x="3068.2" y="1554.3" width="140.4" height="14.49"/>
<rect fill="#ff0000" x="3068.2" y="1540.31" width="140.4" height="14.49"/>
<rect fill="#ef0000" x="3068.2" y="1526.32" width="140.4" height="14.49"/>
<rect fill="#df0000" x="3068.2" y="1512.33" width="140.4" height="14.49"/>
<rect fill="#cf0000" x="3068.2" y="1498.35" width="140.4" height="14.49"/>
<rect fill="#bf0000" x="3068.2" y="1484.36" width="140.4" height="14.49"/>
<rect fill="#af0000" x="3068.2" y="1470.37" width="140.4" height="14.49"/>
<rect fill="#9f0000" x="3068.2" y="1456.38" width="140.4" height="14.49"/>
<rect fill="#8f0000" x="3068.2" y="1442.39" width="140.4" height="14.49"/>
<rect fill="#800000" x="3068.2" y="1428.4" width="140.4" height="14.49"/>
</g>
<rect x="3068.2" y="1428.4" width="140.4" height="895.3" fill="none" stroke="#262626" stroke-width="2.6"/>
<path d="M3208.6 2322.81h-10.5M3208.6 2144.37h-10.5M3208.6 1965.94h-10.5M3208.6 1787.5h-10.5M3208.6 1609.07h-10.5M3208.6 1430.63h-10.5" stroke="#262626" stroke-width="2" fill="none"/>
<g font-size="38.2" fill="#262626">
<text x="3229.2" y="2336.01">0</text>
<text x="3229.2" y="2157.57">20</text>
<text x="3229.2" y="1979.14">40</text>
<text x="3229.2" y="1800.7">60</text>
<text x="3229.2" y="1622.27">80</text>
<text x="3229.2" y="1443.83">100</text>
</g>
<text font-size="38.5" fill="#262626" text-anchor="middle" transform="translate(3362.3,1884.2) rotate(-90)">Relative Humidity, %</text>
</g>
<g id="panel3">
<g stroke="#262626" stroke-width="2" fill="none">
<path d="M373.4 3452.6H3006.4"/>
<path d="M922.52 3452.6v-26.3M1470.65 3452.6v-26.3M2018.78 3452.6v-26.3M2566.9 3452.6v-26.3"/>
</g>
<g stroke="#0072bd" stroke-width="2" fill="none">
<path d="M374.4 2550.8V3453.6"/>
<path stroke-width="1.8" d="M3005.4 2551.3V3453.6"/>
<path d="M374.4 3452.6h27.3M374.4 3339.94h27.3M374.4 3227.28h27.3M374.4 3114.61h27.3M374.4 3001.95h27.3M374.4 2889.29h27.3M374.4 2776.63h27.3M374.4 2663.96h27.3M374.4 2551.3h27.3"/>
</g>
<g transform="translate(379.15,0) scale(9.1305,1)" shape-rendering="crispEdges" fill="none" stroke-width="1">
<g transform="translate(0,3434.6) scale(1,3.2)">
<path class="j17" d="M284 0h1"/>
<path class="j18" d="M285 0h1"/>
<path class="j19" d="M283 0h1"/>
<path class="j20" d="M282 0h1"/>
<path class="j22" d="M281 0h1"/>
<path class="j23" d="M280 0h1"/>
<path class="j25" d="M279 0h1"/>
<path class="j29" d="M278 0h1"/>
<path class="j30" d="M251 0h1m23 0h3"/>
<path class="j31" d="M252 0h1m4 0h1"/>
<path class="j32" d="M255 0h1m2 0h4"/>
<path class="j33" d="M254 0h1m1 0h1m5 0h2"/>
<path class="j34" d="M247 0h4"/>
<path class="j35" d="M234 0h3m1 0h1"/>
<path class="j36" d="M237 0h1m2 0h2m3 0h2"/>
<path class="j37" d="M239 0h1m2 0h3"/>
<path class="j41" d="M229 0h1"/>
<path class="j43" d="M228 0h1"/>
<path class="j44" d="M80 0h2m1 0h2m40 0h1m99 0h2"/>
<path class="j45" d="M82 0h1"/>
<path class="j46" d="M0 0h1m4 0h2m177 0h1m9 0h1"/>
<path class="j47" d="M1 0h4m2 0h3m9 0h3m2 0h2m1 0h4m139 0h1m2 0h6m1 0h2m18 0h1m3 0h1m2 0h3m17 0h1"/>
<path class="j48" d="M16 0h2m4 0h2m2 0h1m4 0h5m42 0h2m12 0h1m78 0h2m6 0h1m2 0h2m1 0h1m6 0h1m2 0h1m3 0h1m1 0h3m1 0h2m59 0h1"/>
<path class="j49" d="M12 0h4m20 0h3m1 0h1m24 0h1m3 0h1m2 0h1m1 0h1m10 0h3m2 0h2m1 0h2m10 0h1m18 0h1m22 0h2m15 0h6m17 0h3m1 0h1m1 0h1m2 0h2m19 0h1"/>
<path class="j50" d="M10 0h2m27 0h1m1 0h1m1 0h1m22 0h2m3 0h1m1 0h1m15 0h1m16 0h1m1 0h2m2 0h1m9 0h1m23 0h1m3 0h3m33 0h1m24 0h1m3 0h2"/>
<path class="j51" d="M18 0h1m23 0h1m21 0h1m3 0h1m1 0h1m17 0h1m11 0h4m3 0h1m2 0h2m1 0h2m1 0h3m2 0h1m1 0h1m12 0h1m1 0h3m2 0h1m1 0h1m3 0h1m40 0h1m19 0h1m2 0h1"/>
<path class="j52" d="M44 0h1m32 0h1m18 0h1m1 0h2m19 0h2m16 0h1m3 0h2"/>
<path class="j53" d="M45 0h2m28 0h2m27 0h1m26 0h1m31 0h1m34 0h1"/>
<path class="j54" d="M47 0h3m9 0h3m82 0h1"/>
<path class="j55" d="M50 0h1m6 0h1m5 0h1m51 0h1m44 0h1"/>
<path class="j56" d="M51 0h1m6 0h1m3 0h1m32 0h1m66 0h1"/>
<path class="j57" d="M54 0h2m103 0h1m52 0h1"/>
<path class="j58" d="M53 0h1m43 0h1"/>
<path class="j59" d="M161 0h1"/>
<path class="j60" d="M52 0h1"/>
<path class="j61" d="M158 0h1"/>
<path class="j63" d="M56 0h1"/>
</g>
<g transform="translate(0,3431.81) scale(1,2.366)">
<path class="j18" d="M284 0h2"/>
<path class="j19" d="M283 0h1"/>
<path class="j20" d="M282 0h1"/>
<path class="j22" d="M281 0h1"/>
<path class="j23" d="M280 0h1"/>
<path class="j25" d="M279 0h1"/>
<path class="j29" d="M278 0h1"/>
<path class="j30" d="M251 0h1m23 0h3"/>
<path class="j31" d="M252 0h1m4 0h1"/>
<path class="j32" d="M255 0h1m2 0h2m1 0h1"/>
<path class="j33" d="M254 0h1m1 0h1m3 0h1m1 0h2"/>
<path class="j34" d="M247 0h4"/>
<path class="j35" d="M234 0h3m1 0h1m7 0h1"/>
<path class="j36" d="M237 0h1m2 0h2m3 0h1"/>
<path class="j37" d="M239 0h1m2 0h3"/>
<path class="j41" d="M229 0h1"/>
<path class="j43" d="M228 0h1"/>
<path class="j44" d="M80 0h2m1 0h2m40 0h1m99 0h2"/>
<path class="j45" d="M82 0h1"/>
<path class="j46" d="M0 0h1m4 0h2m177 0h1m9 0h1"/>
<path class="j47" d="M1 0h4m2 0h3m9 0h3m2 0h2m1 0h4m139 0h1m2 0h6m1 0h2m18 0h1m3 0h1m2 0h3m17 0h1"/>
<path class="j48" d="M16 0h2m4 0h2m2 0h1m4 0h5m42 0h2m12 0h1m78 0h2m6 0h1m2 0h2m1 0h1m6 0h1m2 0h1m3 0h1m1 0h3m1 0h2m59 0h1"/>
<path class="j49" d="M12 0h4m20 0h3m1 0h1m24 0h1m3 0h1m2 0h1m1 0h1m10 0h3m1 0h3m1 0h2m10 0h1m18 0h1m22 0h2m15 0h6m17 0h1m1 0h1m1 0h1m1 0h1m2 0h2m19 0h1"/>
<path class="j50" d="M10 0h2m27 0h1m1 0h3m22 0h2m3 0h1m1 0h1m32 0h1m1 0h2m2 0h1m9 0h1m23 0h1m3 0h3m33 0h1m1 0h1m22 0h1m3 0h2"/>
<path class="j51" d="M18 0h1m45 0h1m3 0h1m1 0h1m17 0h1m11 0h4m3 0h1m2 0h2m1 0h2m1 0h3m2 0h1m1 0h1m12 0h1m1 0h3m2 0h1m1 0h1m3 0h1m40 0h1m19 0h1m2 0h1"/>
<path class="j52" d="M44 0h1m32 0h1m18 0h1m1 0h2m19 0h2m16 0h1m3 0h2"/>
<path class="j53" d="M45 0h2m28 0h2m27 0h1m26 0h1m31 0h1m34 0h1"/>
<path class="j54" d="M47 0h3m9 0h3m82 0h1"/>
<path class="j55" d="M50 0h1m6 0h1m5 0h1m51 0h1m44 0h1"/>
<path class="j56" d="M51 0h1m6 0h1m3 0h1m32 0h1m66 0h1"/>
<path class="j57" d="M54 0h2m103 0h1m52 0h1"/>
<path class="j58" d="M53 0h1m43 0h1"/>
<path class="j59" d="M161 0h1"/>
<path class="j60" d="M52 0h1"/>
<path class="j61" d="M158 0h1"/>
<path class="j63" d="M56 0h1"/>
</g>
<g transform="translate(0,3429.33) scale(1,2.603)">
<path class="j18" d="M284 0h2"/>
<path class="j19" d="M283 0h1"/>
<path class="j20" d="M282 0h1"/>
<path class="j22" d="M281 0h1"/>
<path class="j23" d="M280 0h1"/>
<path class="j25" d="M279 0h1"/>
<path class="j29" d="M278 0h1"/>
<path class="j30" d="M251 0h1m23 0h3"/>
<path class="j31" d="M252 0h1m4 0h1"/>
<path class="j32" d="M255 0h1m2 0h2m1 0h1"/>
<path class="j33" d="M254 0h1m1 0h1m3 0h1m1 0h2"/>
<path class="j34" d="M247 0h4"/>
<path class="j35" d="M234 0h3m1 0h1m7 0h1"/>
<path class="j36" d="M237 0h1m2 0h2m3 0h1"/>
<path class="j37" d="M239 0h1m2 0h3"/>
<path class="j41" d="M229 0h1"/>
<path class="j43" d="M228 0h1"/>
<path class="j44" d="M80 0h2m1 0h2m40 0h1m99 0h2"/>
<path class="j45" d="M82 0h1"/>
<path class="j46" d="M0 0h1m4 0h2m177 0h1m9 0h1"/>
<path class="j47" d="M1 0h4m2 0h3m9 0h3m2 0h2m1 0h2m1 0h1m139 0h1m2 0h6m1 0h2m18 0h1m3 0h1m2 0h3m17 0h1"/>
<path class="j48" d="M16 0h2m4 0h2m2 0h1m2 0h1m1 0h5m42 0h1m13 0h1m78 0h2m6 0h1m2 0h2m1 0h1m6 0h1m2 0h1m3 0h1m1 0h3m1 0h2m59 0h1"/>
<path class="j49" d="M12 0h4m20 0h3m1 0h1m24 0h1m3 0h1m2 0h1m1 0h1m4 0h1m5 0h3m1 0h3m1 0h2m10 0h1m18 0h1m22 0h2m15 0h6m17 0h1m1 0h1m1 0h1m1 0h1m2 0h2m19 0h1"/>
<path class="j50" d="M10 0h2m27 0h1m1 0h3m22 0h2m3 0h1m1 0h1m32 0h1m1 0h2m2 0h1m9 0h1m23 0h1m3 0h3m33 0h1m1 0h1m22 0h1m3 0h2"/>
<path class="j51" d="M18 0h1m45 0h1m3 0h1m1 0h1m17 0h1m11 0h4m3 0h1m2 0h2m1 0h2m1 0h3m2 0h1m1 0h1m12 0h1m1 0h3m2 0h1m1 0h1m3 0h1m40 0h1m19 0h1m2 0h1"/>
<path class="j52" d="M44 0h1m30 0h1m1 0h1m18 0h1m1 0h2m19 0h2m16 0h1m3 0h2"/>
<path class="j53" d="M45 0h3m28 0h1m27 0h1m26 0h1m31 0h1m34 0h1"/>
<path class="j54" d="M48 0h2m9 0h3m82 0h1"/>
<path class="j55" d="M50 0h1m6 0h1m5 0h1m51 0h1m44 0h1"/>
<path class="j56" d="M51 0h1m6 0h1m3 0h1m32 0h1m66 0h1"/>
<path class="j57" d="M54 0h2m103 0h1m52 0h1"/>
<path class="j58" d="M53 0h1m43 0h1"/>
<path class="j59" d="M161 0h1"/>
<path class="j60" d="M52 0h1"/>
<path class="j61" d="M158 0h1"/>
<path class="j63" d="M56 0h1"/>
</g>
<g transform="translate(0,3426.6) scale(1,2.863)">
<path class="j18" d="M284 0h2"/>
<path class="j19" d="M283 0h1"/>
<path class="j20" d="M282 0h1"/>
<path class="j22" d="M281 0h1"/>
<path class="j23" d="M280 0h1"/>
<path class="j25" d="M279 0h1"/>
<path class="j29" d="M278 0h1"/>
<path class="j30" d="M251 0h1m23 0h3"/>
<path class="j31" d="M252 0h1m4 0h1"/>
<path class="j32" d="M255 0h1m2 0h2m1 0h1"/>
<path class="j33" d="M254 0h1m1 0h1m3 0h1m1 0h2"/>
<path class="j34" d="M247 0h4"/>
<path class="j35" d="M234 0h3m1 0h1m7 0h1"/>
<path class="j36" d="M237 0h1m2 0h2m3 0h1"/>
<path class="j37" d="M239 0h1m2 0h3"/>
<path class="j41" d="M229 0h1"/>
<path class="j43" d="M228 0h1"/>
<path class="j44" d="M80 0h2m1 0h2m40 0h1m99 0h2"/>
<path class="j45" d="M82 0h1"/>
<path class="j46" d="M0 0h1m4 0h2m177 0h1m9 0h1"/>
<path class="j47" d="M1 0h4m2 0h3m9 0h3m2 0h2m1 0h2m1 0h1m139 0h1m2 0h6m1 0h2m18 0h1m3 0h1m2 0h3m17 0h1"/>
<path class="j48" d="M16 0h2m4 0h2m2 0h1m2 0h1m1 0h5m42 0h1m13 0h1m78 0h2m6 0h1m2 0h2m1 0h1m6 0h1m2 0h1m3 0h1m1 0h3m1 0h2m59 0h1"/>
<path class="j49" d="M12 0h4m20 0h3m1 0h1m24 0h1m3 0h1m2 0h1m1 0h1m4 0h1m5 0h3m1 0h3m1 0h2m10 0h1m18 0h1m22 0h2m15 0h6m17 0h1m1 0h1m1 0h1m1 0h1m2 0h2m19 0h1"/>
<path class="j50" d="M10 0h2m27 0h1m1 0h3m22 0h2m3 0h1m1 0h1m32 0h1m1 0h2m2 0h1m9 0h1m23 0h1m3 0h3m33 0h1m1 0h1m22 0h1m3 0h2"/>
<path class="j51" d="M18 0h1m45 0h1m3 0h1m1 0h1m17 0h1m11 0h4m3 0h1m2 0h2m1 0h2m1 0h3m2 0h1m1 0h1m12 0h1m1 0h3m2 0h1m1 0h1m3 0h1m40 0h1m19 0h1m2 0h1"/>
<path class="j52" d="M44 0h1m30 0h1m1 0h1m18 0h1m1 0h2m19 0h2m16 0h1m3 0h2"/>
<path class="j53" d="M45 0h3m28 0h1m27 0h1m26 0h1m31 0h1m34 0h1"/>
<path class="j54" d="M48 0h2m9 0h3m82 0h1"/>
<path class="j55" d="M50 0h1m6 0h1m4 0h2m51 0h1m44 0h1m1 0h1"/>
<path class="j56" d="M51 0h1m6 0h1m36 0h1"/>
<path class="j57" d="M54 0h2m103 0h1m52 0h1"/>
<path class="j58" d="M53 0h1m43 0h1"/>
<path class="j59" d="M161 0h1"/>
<path class="j60" d="M52 0h1"/>
<path class="j61" d="M158 0h1"/>
<path class="j63" d="M56 0h1"/>
</g>
<g transform="translate(0,3423.59) scale(1,3.149)">
<path class="j17" d="M284 0h1"/>
<path class="j18" d="M283 0h1m1 0h1"/>
<path class="j20" d="M282 0h1"/>
<path class="j22" d="M281 0h1"/>
<path class="j23" d="M280 0h1"/>
<path class="j25" d="M279 0h1"/>
<path class="j29" d="M276 0h1m1 0h1"/>
<path class="j30" d="M251 0h1m23 0h1m1 0h1"/>
<path class="j31" d="M252 0h1m4 0h1"/>
<path class="j32" d="M258 0h2m1 0h1"/>
<path class="j33" d="M254 0h3m3 0h1m1 0h2"/>
<path class="j34" d="M248 0h3"/>
<path class="j35" d="M234 0h3m1 0h1m8 0h1"/>
<path class="j36" d="M237 0h1m2 0h2m3 0h2"/>
<path class="j37" d="M239 0h1m2 0h3"/>
<path class="j41" d="M229 0h1"/>
<path class="j43" d="M125 0h1m102 0h1"/>
<path class="j44" d="M80 0h5m140 0h2"/>
<path class="j46" d="M0 0h1m4 0h2m167 0h1m9 0h1m9 0h1"/>
<path class="j47" d="M1 0h4m2 0h3m9 0h3m2 0h2m1 0h2m1 0h1m47 0h1m91 0h1m2 0h1m1 0h4m1 0h2m18 0h1m1 0h1m1 0h1m2 0h3m17 0h1m38 0h1"/>
<path class="j48" d="M16 0h2m4 0h2m2 0h1m2 0h1m1 0h5m43 0h1m5 0h3m4 0h1m78 0h2m6 0h1m2 0h2m1 0h1m5 0h2m2 0h2m2 0h1m1 0h1m1 0h1m1 0h2"/>
<path class="j49" d="M12 0h4m20 0h3m1 0h1m24 0h1m3 0h1m2 0h1m1 0h1m14 0h3m1 0h2m10 0h1m18 0h1m22 0h2m15 0h6m17 0h1m1 0h1m3 0h1m3 0h1m19 0h1"/>
<path class="j50" d="M11 0h1m27 0h1m1 0h3m22 0h2m3 0h1m1 0h1m32 0h1m1 0h2m2 0h1m9 0h1m23 0h1m3 0h3m33 0h1m1 0h1m22 0h1m3 0h2"/>
<path class="j51" d="M10 0h1m7 0h1m45 0h1m3 0h1m1 0h1m17 0h1m11 0h4m3 0h1m2 0h2m1 0h2m1 0h3m2 0h1m1 0h1m12 0h1m1 0h3m2 0h1m1 0h1m3 0h1m40 0h1m19 0h1m2 0h1"/>
<path class="j52" d="M44 0h1m30 0h1m1 0h1m18 0h1m1 0h2m19 0h1m11 0h1m5 0h1m3 0h2"/>
<path class="j53" d="M45 0h3m28 0h1m27 0h1m15 0h1m42 0h1m34 0h1"/>
<path class="j54" d="M48 0h2m9 0h3m82 0h1"/>
<path class="j55" d="M50 0h1m6 0h1m4 0h2m51 0h1m44 0h1m1 0h1"/>
<path class="j56" d="M51 0h1m6 0h1m36 0h1"/>
<path class="j57" d="M54 0h2m103 0h1m52 0h1"/>
<path class="j58" d="M53 0h1m43 0h1"/>
<path class="j59" d="M161 0h1"/>
<path class="j60" d="M52 0h1"/>
<path class="j61" d="M158 0h1"/>
<path class="j63" d="M56 0h1"/>
</g>
<g transform="translate(0,3420.28) scale(1,3.464)">
<path class="j17" d="M284 0h2"/>
<path class="j18" d="M283 0h1"/>
<path class="j19" d="M282 0h1"/>
<path class="j22" d="M281 0h1"/>
<path class="j23" d="M280 0h1"/>
<path class="j25" d="M279 0h1"/>
<path class="j29" d="M276 0h3"/>
<path class="j30" d="M251 0h1m23 0h1"/>
<path class="j31" d="M252 0h1m4 0h1"/>
<path class="j32" d="M258 0h2m1 0h1"/>
<path class="j33" d="M254 0h3m3 0h1m1 0h2"/>
<path class="j34" d="M248 0h3"/>
<path class="j35" d="M234 0h3m1 0h1m8 0h1"/>
<path class="j36" d="M237 0h1m2 0h2m3 0h2"/>
<path class="j37" d="M239 0h1m2 0h3"/>
<path class="j41" d="M229 0h1"/>
<path class="j43" d="M80 0h1m44 0h1m102 0h1"/>
<path class="j44" d="M81 0h4m140 0h2"/>
<path class="j46" d="M0 0h1m5 0h1m167 0h1m9 0h1m9 0h1m71 0h1"/>
<path class="j47" d="M1 0h5m1 0h3m9 0h3m2 0h2m1 0h2m1 0h1m47 0h1m91 0h1m2 0h1m1 0h4m1 0h2m17 0h6m2 0h3m17 0h1"/>
<path class="j48" d="M16 0h2m4 0h2m2 0h1m2 0h1m1 0h5m43 0h1m5 0h3m4 0h1m71 0h1m6 0h2m6 0h1m2 0h2m1 0h1m5 0h2m2 0h3m7 0h2"/>
<path class="j49" d="M12 0h4m20 0h3m1 0h1m28 0h1m2 0h1m1 0h1m14 0h3m1 0h2m10 0h1m18 0h1m22 0h2m16 0h5m17 0h1m1 0h1m3 0h1m23 0h1"/>
<path class="j50" d="M11 0h1m27 0h1m1 0h3m21 0h3m3 0h1m1 0h1m32 0h1m1 0h2m2 0h1m9 0h1m23 0h1m3 0h3m33 0h1m1 0h1m22 0h1m3 0h2"/>
<path class="j51" d="M10 0h1m7 0h1m45 0h1m3 0h1m1 0h1m17 0h1m11 0h4m3 0h1m2 0h2m1 0h2m1 0h3m2 0h1m1 0h1m12 0h1m1 0h3m2 0h1m1 0h1m3 0h1m40 0h1m19 0h1m2 0h1"/>
<path class="j52" d="M44 0h1m30 0h1m1 0h1m18 0h1m1 0h1m20 0h1m11 0h1m5 0h1m3 0h2"/>
<path class="j53" d="M45 0h3m28 0h1m22 0h1m4 0h1m15 0h1m42 0h1m34 0h1"/>
<path class="j54" d="M48 0h2m9 0h3m82 0h1"/>
<path class="j55" d="M50 0h1m6 0h1m4 0h2m96 0h1m1 0h1"/>
<path class="j56" d="M51 0h1m6 0h1m36 0h1m19 0h1"/>
<path class="j57" d="M55 0h1m103 0h1m52 0h1"/>
<path class="j58" d="M53 0h2m42 0h1"/>
<path class="j59" d="M161 0h1"/>
<path class="j60" d="M52 0h1"/>
<path class="j61" d="M158 0h1"/>
<path class="j63" d="M56 0h1"/>
</g>
<g transform="translate(0,3416.65) scale(1,3.81)">
<path class="j16" d="M284 0h1"/>
<path class="j17" d="M285 0h1"/>
<path class="j18" d="M283 0h1"/>
<path class="j19" d="M282 0h1"/>
<path class="j21" d="M281 0h1"/>
<path class="j23" d="M280 0h1"/>
<path class="j24" d="M279 0h1"/>
<path class="j28" d="M278 0h1"/>
<path class="j29" d="M275 0h3"/>
<path class="j30" d="M251 0h1"/>
<path class="j31" d="M252 0h1m4 0h1"/>
<path class="j32" d="M258 0h2m1 0h1"/>
<path class="j33" d="M254 0h2m4 0h1m1 0h2"/>
<path class="j34" d="M249 0h2m5 0h1"/>
<path class="j35" d="M234 0h3m1 0h1m8 0h2"/>
<path class="j36" d="M237 0h1m2 0h1m5 0h1"/>
<path class="j37" d="M239 0h1m1 0h5"/>
<path class="j41" d="M229 0h1"/>
<path class="j42" d="M228 0h1"/>
<path class="j43" d="M80 0h1m3 0h1m40 0h1"/>
<path class="j44" d="M81 0h3m141 0h2"/>
<path class="j45" d="M194 0h1"/>
<path class="j46" d="M0 0h1m5 0h1m167 0h1m9 0h1m24 0h1m56 0h1"/>
<path class="j47" d="M1 0h5m1 0h1m1 0h1m9 0h3m2 0h2m1 0h2m49 0h1m91 0h2m1 0h1m1 0h4m1 0h2m17 0h7m1 0h2"/>
<path class="j48" d="M8 0h1m7 0h2m4 0h2m2 0h1m2 0h7m43 0h1m5 0h3m4 0h1m71 0h1m7 0h1m6 0h1m2 0h2m1 0h1m5 0h3m1 0h3m8 0h1m20 0h1"/>
<path class="j49" d="M12 0h4m20 0h3m1 0h1m28 0h1m2 0h1m1 0h1m14 0h3m1 0h2m10 0h1m18 0h1m22 0h2m16 0h5m17 0h1m1 0h1m27 0h1"/>
<path class="j50" d="M11 0h1m27 0h1m1 0h3m21 0h3m3 0h1m1 0h1m32 0h1m1 0h3m1 0h1m9 0h1m23 0h1m3 0h3m33 0h1m1 0h1m22 0h1m3 0h2"/>
<path class="j51" d="M10 0h1m7 0h1m45 0h1m3 0h1m1 0h1m17 0h1m11 0h4m3 0h1m3 0h1m1 0h2m1 0h3m2 0h1m1 0h1m12 0h1m1 0h3m2 0h1m1 0h1m3 0h1m60 0h1m2 0h1"/>
<path class="j52" d="M44 0h1m30 0h1m1 0h1m18 0h1m1 0h1m32 0h1m5 0h1m3 0h2m47 0h1"/>
<path class="j53" d="M45 0h3m28 0h1m22 0h1m4 0h1m14 0h2m42 0h1m34 0h1"/>
<path class="j54" d="M48 0h2m9 0h3"/>
<path class="j55" d="M50 0h2m5 0h1m4 0h2m80 0h1m15 0h1m1 0h1"/>
<path class="j56" d="M58 0h1m56 0h1"/>
<path class="j57" d="M55 0h1m39 0h1m116 0h1"/>
<path class="j58" d="M53 0h2m42 0h1m61 0h1"/>
<path class="j59" d="M161 0h1"/>
<path class="j60" d="M52 0h1"/>
<path class="j62" d="M158 0h1"/>
<path class="j63" d="M56 0h1"/>
</g>
<g transform="translate(0,3412.65) scale(1,4.191)">
<path class="j16" d="M284 0h1"/>
<path class="j17" d="M283 0h1m1 0h1"/>
<path class="j19" d="M282 0h1"/>
<path class="j21" d="M281 0h1"/>
<path class="j22" d="M280 0h1"/>
<path class="j24" d="M279 0h1"/>
<path class="j28" d="M278 0h1"/>
<path class="j29" d="M275 0h3"/>
<path class="j30" d="M251 0h1"/>
<path class="j31" d="M252 0h1"/>
<path class="j32" d="M257 0h1m1 0h1"/>
<path class="j33" d="M254 0h2m2 0h1m1 0h4"/>
<path class="j34" d="M249 0h2m5 0h1"/>
<path class="j35" d="M234 0h3m10 0h2"/>
<path class="j36" d="M237 0h2m1 0h1m5 0h1"/>
<path class="j37" d="M239 0h1m1 0h5"/>
<path class="j40" d="M229 0h1"/>
<path class="j42" d="M228 0h1"/>
<path class="j43" d="M80 0h2m1 0h2m40 0h1"/>
<path class="j44" d="M82 0h1m143 0h1"/>
<path class="j45" d="M194 0h1m30 0h1m40 0h1"/>
<path class="j46" d="M0 0h1m5 0h1m71 0h1m95 0h1m9 0h1m22 0h1m1 0h1"/>
<path class="j47" d="M1 0h5m1 0h1m1 0h1m9 0h3m2 0h2m1 0h2m50 0h1m5 0h3m82 0h4m1 0h4m1 0h2m13 0h1m3 0h7m2 0h1"/>
<path class="j48" d="M8 0h1m7 0h2m4 0h2m2 0h1m2 0h7m56 0h1m71 0h1m14 0h1m2 0h2m1 0h1m5 0h3m2 0h2m8 0h1m20 0h1"/>
<path class="j49" d="M12 0h4m20 0h3m1 0h1m28 0h1m2 0h1m1 0h1m14 0h3m1 0h2m10 0h1m18 0h1m22 0h2m16 0h5m17 0h1m1 0h1m27 0h1"/>
<path class="j50" d="M11 0h1m27 0h1m1 0h3m21 0h3m3 0h1m1 0h1m32 0h1m1 0h3m1 0h1m9 0h1m22 0h2m3 0h3m33 0h1m1 0h1m22 0h1m3 0h1"/>
<path class="j51" d="M10 0h1m33 0h1m19 0h1m3 0h1m1 0h1m17 0h1m11 0h4m3 0h1m3 0h1m1 0h2m1 0h3m2 0h1m1 0h1m12 0h1m1 0h3m2 0h1m5 0h1m60 0h1m2 0h1m2 0h1"/>
<path class="j52" d="M18 0h1m56 0h1m1 0h1m20 0h1m32 0h1m5 0h1m3 0h2m47 0h1"/>
<path class="j53" d="M45 0h3m28 0h1m19 0h1m2 0h1m4 0h1m14 0h2m42 0h1m34 0h1"/>
<path class="j54" d="M48 0h3m8 0h3"/>
<path class="j55" d="M51 0h1m5 0h1m4 0h2m80 0h1m17 0h1"/>
<path class="j56" d="M58 0h1m56 0h1m44 0h1"/>
<path class="j57" d="M95 0h1m116 0h1"/>
<path class="j58" d="M53 0h3m103 0h1"/>
<path class="j59" d="M97 0h1m63 0h1"/>
<path class="j60" d="M52 0h1"/>
<path class="j62" d="M158 0h1"/>
<path class="j63" d="M56 0h1"/>
</g>
<g transform="translate(0,3408.25) scale(1,4.61)">
<path class="j15" d="M284 0h1"/>
<path class="j16" d="M285 0h1"/>
<path class="j17" d="M283 0h1"/>
<path class="j18" d="M282 0h1"/>
<path class="j21" d="M281 0h1"/>
<path class="j22" d="M280 0h1"/>
<path class="j24" d="M279 0h1"/>
<path class="j28" d="M278 0h1"/>
<path class="j29" d="M275 0h3"/>
<path class="j30" d="M251 0h1"/>
<path class="j31" d="M252 0h1"/>
<path class="j32" d="M257 0h1m1 0h1"/>
<path class="j33" d="M254 0h2m2 0h1m1 0h4"/>
<path class="j34" d="M249 0h2m5 0h1"/>
<path class="j35" d="M235 0h2m10 0h2"/>
<path class="j36" d="M234 0h1m2 0h2m1 0h1m5 0h1"/>
<path class="j37" d="M239 0h1m1 0h5"/>
<path class="j40" d="M229 0h1"/>
<path class="j42" d="M228 0h1"/>
<path class="j43" d="M80 0h2m1 0h2m40 0h1"/>
<path class="j44" d="M82 0h1m143 0h1m39 0h1"/>
<path class="j45" d="M194 0h1m30 0h1"/>
<path class="j46" d="M0 0h2m4 0h1m71 0h1m91 0h1m3 0h1m9 0h1m22 0h3"/>
<path class="j47" d="M2 0h1m1 0h2m3 0h1m9 0h1m1 0h1m2 0h2m1 0h2m50 0h1m5 0h3m83 0h3m1 0h4m1 0h2m10 0h1m2 0h1m3 0h8"/>
<path class="j48" d="M3 0h1m3 0h2m7 0h2m2 0h1m1 0h2m2 0h1m2 0h7m56 0h1m71 0h1m4 0h1m9 0h1m2 0h2m1 0h1m5 0h1m1 0h1m2 0h2m29 0h1"/>
<path class="j49" d="M12 0h4m20 0h3m1 0h1m28 0h1m2 0h1m1 0h1m14 0h3m1 0h2m10 0h1m18 0h1m22 0h2m16 0h4m18 0h1m1 0h1m27 0h1"/>
<path class="j50" d="M11 0h1m27 0h1m1 0h3m21 0h3m3 0h1m1 0h1m32 0h1m1 0h3m1 0h1m9 0h1m22 0h2m3 0h3m33 0h1m1 0h1m22 0h1m3 0h1"/>
<path class="j51" d="M10 0h1m33 0h1m19 0h1m3 0h1m1 0h1m17 0h1m11 0h4m3 0h1m3 0h1m1 0h2m2 0h2m2 0h1m1 0h1m12 0h1m1 0h3m2 0h1m5 0h1m60 0h1m2 0h1m2 0h1"/>
<path class="j52" d="M18 0h1m56 0h1m1 0h1m20 0h1m17 0h1m14 0h1m5 0h1m3 0h2m47 0h1"/>
<path class="j53" d="M45 0h3m28 0h1m19 0h1m2 0h1m4 0h1m14 0h1m43 0h1"/>
<path class="j54" d="M48 0h3m8 0h3m58 0h1m77 0h1"/>
<path class="j55" d="M51 0h1m5 0h1m4 0h2m80 0h1m17 0h1"/>
<path class="j56" d="M58 0h1m101 0h1"/>
<path class="j57" d="M95 0h1m19 0h1m96 0h1"/>
<path class="j58" d="M53 0h3m103 0h1"/>
<path class="j59" d="M97 0h1"/>
<path class="j60" d="M52 0h1m108 0h1"/>
<path class="j62" d="M158 0h1"/>
<path class="j63" d="M56 0h1"/>
</g>
<g transform="translate(0,3403.4) scale(1,5.072)">
<path class="j15" d="M284 0h1"/>
<path class="j16" d="M283 0h1m1 0h1"/>
<path class="j18" d="M282 0h1"/>
<path class="j20" d="M281 0h1"/>
<path class="j22" d="M280 0h1"/>
<path class="j24" d="M279 0h1"/>
<path class="j28" d="M276 0h1m1 0h1"/>
<path class="j29" d="M275 0h1m1 0h1"/>
<path class="j30" d="M251 0h1"/>
<path class="j31" d="M252 0h1"/>
<path class="j32" d="M257 0h1"/>
<path class="j33" d="M254 0h2m2 0h6"/>
<path class="j34" d="M249 0h2m5 0h1"/>
<path class="j35" d="M235 0h1m11 0h2"/>
<path class="j36" d="M234 0h1m1 0h3m1 0h1m5 0h1"/>
<path class="j37" d="M241 0h5"/>
<path class="j38" d="M239 0h1"/>
<path class="j40" d="M229 0h1"/>
<path class="j42" d="M125 0h1m102 0h1"/>
<path class="j43" d="M80 0h5"/>
<path class="j44" d="M226 0h1m39 0h1"/>
<path class="j45" d="M194 0h1m30 0h1"/>
<path class="j46" d="M0 0h2m76 0h1m91 0h1m3 0h2m8 0h1m22 0h3"/>
<path class="j47" d="M2 0h1m2 0h2m2 0h1m9 0h1m1 0h1m2 0h2m1 0h2m50 0h1m5 0h3m83 0h3m2 0h3m1 0h2m10 0h1m2 0h2m2 0h8"/>
<path class="j48" d="M3 0h2m2 0h2m7 0h2m2 0h1m2 0h1m2 0h1m2 0h7m54 0h1m1 0h2m70 0h1m4 0h1m9 0h1m2 0h2m1 0h1m5 0h1m1 0h1m3 0h1m29 0h1"/>
<path class="j49" d="M12 0h4m6 0h1m13 0h3m1 0h2m27 0h1m2 0h1m1 0h1m14 0h1m1 0h1m2 0h1m10 0h1m18 0h1m22 0h2m3 0h1m12 0h4m18 0h1m1 0h1m27 0h1"/>
<path class="j50" d="M11 0h1m27 0h1m2 0h2m21 0h3m3 0h1m1 0h1m32 0h1m1 0h3m1 0h1m9 0h1m22 0h2m3 0h2m34 0h1m1 0h1m22 0h1m3 0h1"/>
<path class="j51" d="M10 0h1m33 0h1m19 0h1m3 0h1m1 0h1m17 0h1m11 0h4m3 0h1m3 0h1m1 0h2m2 0h1m3 0h1m1 0h1m12 0h1m1 0h3m2 0h1m5 0h1m60 0h1m2 0h1m2 0h1"/>
<path class="j52" d="M18 0h1m27 0h1m28 0h1m1 0h1m20 0h1m17 0h1m1 0h1m12 0h1m5 0h1m3 0h2m47 0h1"/>
<path class="j53" d="M45 0h1m1 0h2m27 0h1m19 0h1m2 0h1m4 0h1m14 0h1m43 0h1"/>
<path class="j54" d="M49 0h2m8 0h3m58 0h1m77 0h1"/>
<path class="j55" d="M51 0h1m5 0h1m4 0h2m80 0h1m17 0h1"/>
<path class="j56" d="M58 0h1m101 0h1"/>
<path class="j57" d="M95 0h1m19 0h1m96 0h1"/>
<path class="j58" d="M53 0h3m103 0h1"/>
<path class="j59" d="M97 0h1"/>
<path class="j60" d="M52 0h1m108 0h1"/>
<path class="j62" d="M158 0h1"/>
<path class="j63" d="M56 0h1"/>
</g>
<g transform="translate(0,3398.08) scale(1,5.579)">
<path class="j15" d="M284 0h2"/>
<path class="j16" d="M283 0h1"/>
<path class="j17" d="M282 0h1"/>
<path class="j20" d="M281 0h1"/>
<path class="j22" d="M280 0h1"/>
<path class="j24" d="M279 0h1"/>
<path class="j28" d="M276 0h3"/>
<path class="j29" d="M275 0h1"/>
<path class="j30" d="M251 0h1"/>
<path class="j31" d="M252 0h1"/>
<path class="j32" d="M257 0h1"/>
<path class="j33" d="M254 0h2m2 0h6"/>
<path class="j34" d="M249 0h2m5 0h1"/>
<path class="j35" d="M247 0h2"/>
<path class="j36" d="M234 0h5m1 0h1m5 0h1"/>
<path class="j37" d="M241 0h1m3 0h1"/>
<path class="j38" d="M239 0h1m2 0h3"/>
<path class="j40" d="M229 0h1"/>
<path class="j42" d="M80 0h1m44 0h1m102 0h1"/>
<path class="j43" d="M81 0h4m181 0h1"/>
<path class="j44" d="M226 0h1"/>
<path class="j45" d="M194 0h1m14 0h1m15 0h1"/>
<path class="j46" d="M0 0h2m76 0h2m5 0h3m82 0h1m3 0h3m7 0h1m22 0h2"/>
<path class="j47" d="M2 0h1m2 0h2m2 0h1m9 0h1m1 0h1m2 0h2m1 0h2m142 0h3m3 0h2m1 0h2m10 0h1m2 0h3m1 0h8"/>
<path class="j48" d="M3 0h2m2 0h2m7 0h2m2 0h1m2 0h1m2 0h1m2 0h7m54 0h5m69 0h1m1 0h1m2 0h1m9 0h1m2 0h2m1 0h1m5 0h1m1 0h1"/>
<path class="j49" d="M12 0h4m6 0h1m13 0h3m1 0h2m27 0h1m2 0h1m1 0h1m14 0h1m15 0h1m18 0h1m22 0h2m3 0h1m12 0h1m1 0h2m18 0h1m1 0h1m27 0h1m9 0h1"/>
<path class="j50" d="M11 0h1m27 0h1m2 0h2m21 0h3m3 0h1m1 0h1m32 0h1m1 0h7m7 0h1m22 0h2m3 0h2m34 0h1m1 0h1m22 0h1m3 0h1"/>
<path class="j51" d="M44 0h1m19 0h1m3 0h1m1 0h1m17 0h1m11 0h4m3 0h1m9 0h1m3 0h1m14 0h1m1 0h3m2 0h1m5 0h1m60 0h1m2 0h1m2 0h1"/>
<path class="j52" d="M10 0h1m7 0h1m26 0h2m28 0h1m1 0h1m38 0h1m1 0h1m4 0h1m7 0h1m5 0h1m3 0h2m47 0h1"/>
<path class="j53" d="M47 0h2m27 0h1m19 0h1m1 0h2m4 0h1m58 0h1"/>
<path class="j54" d="M49 0h2m8 0h3m57 0h2m77 0h1"/>
<path class="j55" d="M51 0h1m5 0h1m4 0h2m98 0h1"/>
<path class="j56" d="M58 0h1m85 0h1m15 0h1"/>
<path class="j57" d="M95 0h1m19 0h1m96 0h1"/>
<path class="j58" d="M53 0h1m1 0h1m103 0h1"/>
<path class="j59" d="M54 0h1m42 0h1"/>
<path class="j60" d="M52 0h1m108 0h1"/>
<path class="j62" d="M158 0h1"/>
<path class="j63" d="M56 0h1"/>
</g>
<g transform="translate(0,3392.22) scale(1,6.137)">
<path class="j14" d="M284 0h1"/>
<path class="j15" d="M283 0h1m1 0h1"/>
<path class="j17" d="M282 0h1"/>
<path class="j20" d="M281 0h1"/>
<path class="j21" d="M280 0h1"/>
<path class="j23" d="M279 0h1"/>
<path class="j27" d="M278 0h1"/>
<path class="j28" d="M275 0h3"/>
<path class="j30" d="M251 0h1"/>
<path class="j31" d="M252 0h1"/>
<path class="j32" d="M257 0h1"/>
<path class="j33" d="M254 0h2m2 0h2m1 0h3"/>
<path class="j34" d="M249 0h1m6 0h1m3 0h1"/>
<path class="j35" d="M247 0h2m1 0h1"/>
<path class="j36" d="M234 0h5m1 0h1m5 0h1"/>
<path class="j37" d="M241 0h1m3 0h1"/>
<path class="j38" d="M239 0h1m2 0h3"/>
<path class="j39" d="M229 0h1"/>
<path class="j41" d="M125 0h1"/>
<path class="j42" d="M80 0h1m2 0h2m143 0h1m37 0h1"/>
<path class="j43" d="M81 0h2"/>
<path class="j44" d="M194 0h1m31 0h1"/>
<path class="j45" d="M78 0h1m130 0h1m15 0h1"/>
<path class="j46" d="M0 0h2m17 0h1m7 0h1m51 0h1m5 0h3m82 0h1m2 0h5m6 0h1m10 0h1m11 0h2"/>
<path class="j47" d="M2 0h1m2 0h2m13 0h2m2 0h2m2 0h1m63 0h1m78 0h2m5 0h1m1 0h2m10 0h1m3 0h2m1 0h8"/>
<path class="j48" d="M3 0h2m2 0h3m6 0h2m4 0h2m2 0h1m2 0h7m53 0h3m1 0h2m69 0h1m1 0h1m1 0h2m9 0h1m2 0h2m1 0h1m5 0h1m1 0h1m33 0h1"/>
<path class="j49" d="M12 0h4m20 0h6m27 0h1m2 0h1m1 0h1m30 0h1m6 0h1m11 0h1m22 0h2m1 0h1m1 0h1m12 0h1m1 0h1m19 0h1m1 0h1m27 0h1"/>
<path class="j50" d="M11 0h1m30 0h2m21 0h3m3 0h1m1 0h1m29 0h1m2 0h1m1 0h4m1 0h2m7 0h1m22 0h2m4 0h1m34 0h1m1 0h1m22 0h1m3 0h2"/>
<path class="j51" d="M44 0h1m19 0h1m3 0h1m1 0h1m17 0h1m11 0h3m4 0h1m9 0h2m2 0h1m1 0h1m12 0h1m1 0h4m1 0h1m5 0h1m60 0h1m2 0h1"/>
<path class="j52" d="M10 0h1m34 0h3m27 0h1m1 0h1m20 0h1m17 0h1m14 0h1m5 0h1m4 0h1m20 0h1"/>
<path class="j53" d="M18 0h1m29 0h1m11 0h1m15 0h1m19 0h1m2 0h1m4 0h1m85 0h1"/>
<path class="j54" d="M49 0h2m8 0h1m1 0h1m57 0h2m77 0h1"/>
<path class="j55" d="M51 0h1m5 0h1m4 0h2m96 0h1m1 0h1"/>
<path class="j56" d="M58 0h1m85 0h1m67 0h1"/>
<path class="j57" d="M53 0h1m41 0h1m19 0h1"/>
<path class="j58" d="M54 0h2m103 0h1"/>
<path class="j59" d="M97 0h1"/>
<path class="j60" d="M52 0h1m108 0h1"/>
<path class="j62" d="M158 0h1"/>
<path class="j63" d="M56 0h1"/>
</g>
<g transform="translate(0,3385.78) scale(1,6.75)">
<path class="j13" d="M284 0h1"/>
<path class="j14" d="M285 0h1"/>
<path class="j15" d="M283 0h1"/>
<path class="j16" d="M282 0h1"/>
<path class="j19" d="M281 0h1"/>
<path class="j21" d="M280 0h1"/>
<path class="j23" d="M279 0h1"/>
<path class="j27" d="M278 0h1"/>
<path class="j28" d="M275 0h3"/>
<path class="j30" d="M251 0h1"/>
<path class="j31" d="M252 0h1"/>
<path class="j32" d="M257 0h1"/>
<path class="j33" d="M254 0h2m2 0h2"/>
<path class="j34" d="M249 0h1m6 0h1m3 0h4"/>
<path class="j35" d="M247 0h2m1 0h1"/>
<path class="j36" d="M234 0h3m9 0h1"/>
<path class="j37" d="M237 0h2m1 0h1m4 0h1"/>
<path class="j38" d="M239 0h1m1 0h4"/>
<path class="j39" d="M229 0h1"/>
<path class="j40" d="M125 0h1"/>
<path class="j41" d="M228 0h1m37 0h1"/>
<path class="j42" d="M80 0h2m1 0h2"/>
<path class="j43" d="M82 0h1"/>
<path class="j44" d="M194 0h1m31 0h1"/>
<path class="j45" d="M78 0h2m5 0h3m86 0h1m32 0h3m15 0h1"/>
<path class="j46" d="M0 0h2m17 0h1m7 0h1m142 0h1m2 0h1m1 0h3m2 0h1m3 0h1m10 0h1m4 0h1m1 0h1m24 0h1"/>
<path class="j47" d="M2 0h1m2 0h2m2 0h1m10 0h2m2 0h2m2 0h3m61 0h1m78 0h2m5 0h1m2 0h3m7 0h2m3 0h2m1 0h1m1 0h1m1 0h4"/>
<path class="j48" d="M3 0h2m2 0h2m5 0h1m1 0h2m4 0h2m2 0h1m4 0h5m53 0h3m1 0h2m29 0h1m39 0h3m1 0h2m9 0h1m5 0h1m7 0h1"/>
<path class="j49" d="M11 0h3m1 0h1m20 0h6m1 0h1m21 0h1m1 0h1m1 0h1m2 0h1m1 0h1m30 0h1m3 0h2m1 0h1m34 0h2m1 0h3m14 0h1m19 0h1m29 0h1"/>
<path class="j50" d="M42 0h1m23 0h1m4 0h1m1 0h1m14 0h1m12 0h3m2 0h1m1 0h1m2 0h1m1 0h2m2 0h1m4 0h1m22 0h2m2 0h1m36 0h1m1 0h2m20 0h2m1 0h1m1 0h2"/>
<path class="j51" d="M10 0h1m33 0h1m19 0h1m3 0h1m1 0h1m6 0h1m22 0h1m6 0h1m8 0h1m1 0h1m2 0h1m1 0h1m12 0h1m1 0h4m1 0h1"/>
<path class="j52" d="M45 0h3m27 0h1m20 0h1m1 0h1m5 0h1m26 0h1m5 0h1m4 0h1m20 0h1"/>
<path class="j53" d="M18 0h1m29 0h2m9 0h3m14 0h1m22 0h1m19 0h1m70 0h1"/>
<path class="j54" d="M50 0h2m68 0h1m77 0h1"/>
<path class="j55" d="M57 0h1m4 0h2m96 0h1m1 0h1m49 0h1"/>
<path class="j56" d="M58 0h1m85 0h1"/>
<path class="j57" d="M53 0h1m1 0h1m39 0h1m19 0h1m43 0h1"/>
<path class="j58" d="M54 0h1"/>
<path class="j59" d="M97 0h1m63 0h1"/>
<path class="j60" d="M52 0h1"/>
<path class="j61" d="M158 0h1"/>
<path class="j62" d="M56 0h1"/>
</g>
<g transform="translate(0,3378.69) scale(1,7.425)">
<path class="j13" d="M284 0h2"/>
<path class="j14" d="M283 0h1"/>
<path class="j15" d="M282 0h1"/>
<path class="j18" d="M281 0h1"/>
<path class="j20" d="M280 0h1"/>
<path class="j23" d="M279 0h1"/>
<path class="j27" d="M276 0h3"/>
<path class="j28" d="M275 0h1"/>
<path class="j30" d="M251 0h1"/>
<path class="j31" d="M252 0h1"/>
<path class="j32" d="M257 0h2"/>
<path class="j33" d="M254 0h2m3 0h1"/>
<path class="j34" d="M249 0h1m6 0h1m3 0h2m1 0h1"/>
<path class="j35" d="M247 0h2m1 0h1m11 0h1"/>
<path class="j36" d="M234 0h2m10 0h1"/>
<path class="j37" d="M236 0h3m1 0h1m4 0h1"/>
<path class="j38" d="M125 0h1m103 0h1m11 0h4"/>
<path class="j39" d="M239 0h1"/>
<path class="j40" d="M228 0h1m37 0h1"/>
<path class="j41" d="M80 0h1m3 0h1"/>
<path class="j42" d="M81 0h3"/>
<path class="j43" d="M194 0h1m31 0h1"/>
<path class="j44" d="M78 0h1"/>
<path class="j45" d="M79 0h1m5 0h3m82 0h1m3 0h2m31 0h3m15 0h1m1 0h1"/>
<path class="j46" d="M0 0h2m17 0h1m7 0h1m64 0h1m78 0h3m2 0h3m1 0h2m2 0h1m7 0h1m2 0h2m3 0h1m1 0h2m2 0h1"/>
<path class="j47" d="M2 0h1m2 0h2m2 0h1m7 0h1m2 0h2m2 0h3m1 0h3m58 0h3m1 0h2m84 0h1m2 0h2m1 0h1m5 0h1m1 0h1m3 0h1m1 0h1m1 0h1m2 0h2"/>
<path class="j48" d="M3 0h2m2 0h2m5 0h1m1 0h1m5 0h2m7 0h5m69 0h1m6 0h1m11 0h1m27 0h1m11 0h6"/>
<path class="j49" d="M11 0h3m1 0h1m20 0h6m1 0h1m21 0h3m1 0h1m2 0h1m1 0h1m31 0h1m1 0h4m1 0h2m7 0h1m24 0h2m1 0h2m35 0h1m22 0h2m5 0h1"/>
<path class="j50" d="M42 0h1m25 0h1m1 0h2m1 0h1m14 0h1m12 0h3m13 0h1m27 0h2m2 0h1m36 0h1m1 0h2m23 0h1m1 0h2"/>
<path class="j51" d="M10 0h1m33 0h1m19 0h1m12 0h1m22 0h1m6 0h1m8 0h1m1 0h1m2 0h1m1 0h1m12 0h6m1 0h1"/>
<path class="j52" d="M45 0h3m27 0h2m19 0h1m1 0h1m5 0h1m26 0h1m10 0h1m20 0h1"/>
<path class="j53" d="M18 0h1m29 0h3m8 0h3m37 0h1m19 0h2m69 0h1"/>
<path class="j54" d="M51 0h1m5 0h1m104 0h1m35 0h1"/>
<path class="j55" d="M58 0h1m3 0h2m80 0h1m15 0h1m51 0h1"/>
<path class="j56" d="M55 0h1m103 0h1"/>
<path class="j57" d="M53 0h2m40 0h1m19 0h1"/>
<path class="j59" d="M97 0h1m63 0h1"/>
<path class="j60" d="M52 0h1m105 0h1"/>
<path class="j61" d="M56 0h1"/>
</g>
<g transform="translate(0,3370.89) scale(1,8.168)">
<path class="j12" d="M284 0h1"/>
<path class="j13" d="M283 0h1m1 0h1"/>
<path class="j14" d="M282 0h1"/>
<path class="j18" d="M281 0h1"/>
<path class="j20" d="M280 0h1"/>
<path class="j23" d="M279 0h1"/>
<path class="j26" d="M278 0h1"/>
<path class="j27" d="M275 0h3"/>
<path class="j29" d="M251 0h1"/>
<path class="j31" d="M252 0h1"/>
<path class="j32" d="M257 0h2"/>
<path class="j33" d="M254 0h2m3 0h1"/>
<path class="j34" d="M249 0h2m5 0h1m3 0h2"/>
<path class="j35" d="M247 0h2m13 0h2"/>
<path class="j36" d="M234 0h1m11 0h1"/>
<path class="j37" d="M125 0h1m109 0h2m3 0h1m4 0h1"/>
<path class="j38" d="M229 0h1m7 0h2m2 0h1m1 0h2"/>
<path class="j39" d="M228 0h1m10 0h1m2 0h1m23 0h1"/>
<path class="j41" d="M80 0h2m1 0h2"/>
<path class="j42" d="M82 0h1m111 0h1"/>
<path class="j43" d="M78 0h1m147 0h1"/>
<path class="j44" d="M79 0h1m5 0h3m121 0h1m17 0h1"/>
<path class="j45" d="M170 0h1m2 0h5m6 0h1m10 0h1m11 0h2m16 0h1"/>
<path class="j46" d="M0 0h2m17 0h1m7 0h1m64 0h1m78 0h2m5 0h1m1 0h2m10 0h1m3 0h2m1 0h2m1 0h5"/>
<path class="j47" d="M2 0h1m2 0h2m2 0h1m6 0h2m2 0h2m1 0h4m1 0h3m58 0h3m1 0h2m84 0h1m2 0h2m1 0h1m5 0h1m1 0h1m7 0h1"/>
<path class="j48" d="M3 0h2m2 0h2m5 0h1m7 0h1m8 0h5m1 0h1m34 0h1m32 0h1m4 0h1m1 0h1m11 0h1m27 0h1m11 0h6"/>
<path class="j49" d="M11 0h3m1 0h1m20 0h1m1 0h6m21 0h3m1 0h1m1 0h1m2 0h1m13 0h1m13 0h2m2 0h1m1 0h2m1 0h1m1 0h2m7 0h1m24 0h2m1 0h2m35 0h1m22 0h2m5 0h1"/>
<path class="j50" d="M68 0h1m1 0h1m2 0h1m26 0h2m15 0h1m3 0h1m23 0h2m2 0h1m36 0h1m1 0h2m23 0h1m1 0h2"/>
<path class="j51" d="M10 0h1m33 0h1m19 0h1m10 0h1m1 0h1m29 0h1m8 0h1m1 0h1m4 0h1m12 0h8m19 0h1"/>
<path class="j52" d="M45 0h3m28 0h1m19 0h1m1 0h2m4 0h1m26 0h1"/>
<path class="j53" d="M48 0h3m8 0h3m57 0h2m41 0h1m27 0h1"/>
<path class="j54" d="M18 0h1m32 0h1m5 0h1m4 0h1m135 0h1m13 0h1"/>
<path class="j55" d="M58 0h1m4 0h1m80 0h1m14 0h2"/>
<path class="j56" d="M53 0h3m39 0h1"/>
<path class="j57" d="M115 0h1"/>
<path class="j58" d="M161 0h1"/>
<path class="j59" d="M52 0h1m44 0h1"/>
<path class="j60" d="M56 0h1m101 0h1"/>
</g>
<g transform="translate(0,3362.32) scale(1,8.985)">
<path class="j11" d="M284 0h1"/>
<path class="j12" d="M285 0h1"/>
<path class="j13" d="M283 0h1"/>
<path class="j14" d="M282 0h1"/>
<path class="j17" d="M281 0h1"/>
<path class="j19" d="M280 0h1"/>
<path class="j22" d="M279 0h1"/>
<path class="j26" d="M278 0h1"/>
<path class="j27" d="M275 0h3"/>
<path class="j29" d="M251 0h1"/>
<path class="j31" d="M252 0h1"/>
<path class="j32" d="M257 0h2"/>
<path class="j33" d="M254 0h2m3 0h1"/>
<path class="j34" d="M249 0h2m5 0h1m3 0h2"/>
<path class="j35" d="M125 0h1m121 0h2m14 0h1"/>
<path class="j36" d="M234 0h1m11 0h1m15 0h1"/>
<path class="j37" d="M229 0h1m5 0h2m8 0h1"/>
<path class="j38" d="M228 0h1m8 0h2m1 0h2m2 0h1m21 0h1"/>
<path class="j39" d="M242 0h2"/>
<path class="j40" d="M80 0h1m3 0h1m154 0h1"/>
<path class="j41" d="M81 0h3"/>
<path class="j42" d="M194 0h1m32 0h1"/>
<path class="j43" d="M78 0h1m8 0h1m138 0h1"/>
<path class="j44" d="M79 0h1m5 0h2m87 0h1m32 0h1m1 0h1m15 0h1"/>
<path class="j45" d="M170 0h1m2 0h1m1 0h3m2 0h1m3 0h1m10 0h1m12 0h1"/>
<path class="j46" d="M0 0h2m17 0h1m1 0h1m5 0h1m62 0h5m76 0h2m5 0h1m2 0h1m1 0h1m8 0h1m3 0h2m1 0h8"/>
<path class="j47" d="M2 0h1m2 0h2m2 0h1m6 0h2m2 0h1m2 0h4m1 0h3m1 0h2m55 0h1m34 0h1m27 0h1m26 0h1m2 0h1m2 0h1m5 0h1m1 0h1"/>
<path class="j48" d="M3 0h2m2 0h2m5 0h1m7 0h1m8 0h1m2 0h2m1 0h2m1 0h2m30 0h1m1 0h1m27 0h1m2 0h1m3 0h4m1 0h1m49 0h6m40 0h1"/>
<path class="j49" d="M11 0h3m1 0h1m20 0h1m2 0h1m2 0h2m21 0h3m1 0h1m1 0h1m16 0h1m12 0h1m1 0h1m2 0h1m1 0h1m4 0h1m3 0h1m4 0h1m24 0h2m1 0h2m35 0h1m23 0h1m1 0h1m1 0h1m1 0h1"/>
<path class="j50" d="M10 0h1m33 0h1m23 0h1m1 0h1m2 0h1m26 0h1m15 0h1m1 0h1m2 0h1m1 0h1m14 0h1m1 0h1m4 0h2m2 0h1m36 0h1m2 0h1m26 0h1"/>
<path class="j51" d="M46 0h1m17 0h1m10 0h1m1 0h1m20 0h1m5 0h1m2 0h1m23 0h1m4 0h2m1 0h1m1 0h3m19 0h1m24 0h1"/>
<path class="j52" d="M45 0h1m1 0h2m10 0h2m15 0h1m19 0h1m2 0h1m19 0h1"/>
<path class="j53" d="M49 0h2m10 0h1m58 0h1m41 0h1m27 0h1m21 0h1"/>
<path class="j54" d="M18 0h1m32 0h1m5 0h1m4 0h2m95 0h2m37 0h1"/>
<path class="j55" d="M54 0h2m2 0h1m85 0h1"/>
<path class="j56" d="M53 0h1m41 0h1"/>
<path class="j57" d="M115 0h1"/>
<path class="j58" d="M161 0h1"/>
<path class="j59" d="M52 0h1m3 0h1m40 0h1m60 0h1"/>
</g>
<g transform="translate(0,3352.88) scale(1,9.883)">
<path class="j11" d="M284 0h2"/>
<path class="j12" d="M283 0h1"/>
<path class="j13" d="M282 0h1"/>
<path class="j17" d="M281 0h1"/>
<path class="j19" d="M280 0h1"/>
<path class="j22" d="M279 0h1"/>
<path class="j26" d="M277 0h2"/>
<path class="j27" d="M275 0h2"/>
<path class="j29" d="M251 0h1"/>
<path class="j30" d="M252 0h1"/>
<path class="j32" d="M257 0h2"/>
<path class="j33" d="M254 0h2m3 0h1"/>
<path class="j34" d="M125 0h1m123 0h2m5 0h1m3 0h2"/>
<path class="j35" d="M247 0h2"/>
<path class="j36" d="M229 0h1m4 0h1m11 0h1m15 0h2"/>
<path class="j37" d="M228 0h1m6 0h1m9 0h1m20 0h1"/>
<path class="j38" d="M236 0h1m3 0h1m3 0h1"/>
<path class="j39" d="M237 0h2m2 0h3"/>
<path class="j40" d="M80 0h2m1 0h2m154 0h1"/>
<path class="j41" d="M82 0h1m111 0h1m32 0h1"/>
<path class="j42" d="M78 0h1m147 0h1"/>
<path class="j43" d="M79 0h1m5 0h3"/>
<path class="j44" d="M174 0h1m32 0h3m15 0h1"/>
<path class="j45" d="M92 0h1m77 0h2m1 0h1m1 0h3m2 0h2m2 0h1m7 0h1m2 0h2m9 0h1"/>
<path class="j46" d="M0 0h2m17 0h1m1 0h1m5 0h1m61 0h3m1 0h2m77 0h1m5 0h1m3 0h2m7 0h1m1 0h1m3 0h1m1 0h7"/>
<path class="j47" d="M2 0h1m2 0h2m2 0h1m6 0h2m2 0h1m2 0h4m1 0h3m1 0h2m78 0h1m11 0h1m27 0h1m16 0h1m9 0h1m5 0h1"/>
<path class="j48" d="M3 0h2m2 0h1m6 0h1m7 0h1m8 0h1m2 0h2m1 0h2m1 0h2m1 0h1m28 0h1m1 0h1m13 0h1m13 0h2m1 0h2m1 0h4m1 0h2m7 0h1m41 0h5m41 0h1"/>
<path class="j49" d="M8 0h1m2 0h3m1 0h1m20 0h1m2 0h1m2 0h1m22 0h3m1 0h1m1 0h1m1 0h1m27 0h1m15 0h1m29 0h2m1 0h2m35 0h1m23 0h1m1 0h1m1 0h1m1 0h1"/>
<path class="j50" d="M10 0h1m33 0h1m19 0h1m3 0h1m1 0h1m6 0h1m22 0h1m15 0h1m1 0h1m2 0h1m1 0h1m12 0h1m1 0h1m1 0h1m4 0h2m2 0h1m36 0h1m2 0h1m26 0h1"/>
<path class="j51" d="M46 0h2m27 0h1m20 0h1m1 0h1m5 0h1m2 0h1m23 0h1m5 0h1m1 0h1m1 0h3m19 0h1m24 0h1"/>
<path class="j52" d="M45 0h1m2 0h2m9 0h3m14 0h1m22 0h1m19 0h1m42 0h1m49 0h1"/>
<path class="j53" d="M50 0h2m68 0h1m38 0h1m30 0h1"/>
<path class="j54" d="M18 0h1m36 0h1m1 0h1m4 0h2m96 0h1m37 0h1"/>
<path class="j55" d="M54 0h1m3 0h1m85 0h1"/>
<path class="j56" d="M53 0h1m41 0h1m19 0h1"/>
<path class="j57" d="M161 0h1"/>
<path class="j58" d="M56 0h1m101 0h1"/>
<path class="j59" d="M52 0h1m44 0h1"/>
</g>
<g transform="translate(0,3342.51) scale(1,10.871)">
<path class="j10" d="M284 0h2"/>
<path class="j11" d="M283 0h1"/>
<path class="j12" d="M282 0h1"/>
<path class="j16" d="M281 0h1"/>
<path class="j18" d="M280 0h1"/>
<path class="j21" d="M279 0h1"/>
<path class="j25" d="M278 0h1"/>
<path class="j26" d="M275 0h3"/>
<path class="j28" d="M251 0h1"/>
<path class="j29" d="M252 0h1"/>
<path class="j31" d="M257 0h2"/>
<path class="j32" d="M259 0h1m1 0h1"/>
<path class="j33" d="M125 0h1m128 0h2"/>
<path class="j34" d="M229 0h1m18 0h3m5 0h1m3 0h1"/>
<path class="j35" d="M228 0h1m18 0h1m18 0h1"/>
<path class="j36" d="M234 0h1m10 0h2"/>
<path class="j37" d="M227 0h1m7 0h2m3 0h1m21 0h2"/>
<path class="j38" d="M237 0h2m2 0h4"/>
<path class="j39" d="M80 0h1m3 0h1m154 0h1"/>
<path class="j40" d="M81 0h1m1 0h1"/>
<path class="j41" d="M78 0h1m3 0h1m111 0h1m31 0h1"/>
<path class="j42" d="M79 0h1m5 0h3"/>
<path class="j43" d="M174 0h1m32 0h3m15 0h1"/>
<path class="j44" d="M92 0h1m77 0h1m2 0h1m1 0h3m2 0h1m3 0h1m10 0h1"/>
<path class="j45" d="M0 0h1m18 0h1m7 0h1m61 0h3m1 0h2m76 0h2m5 0h1m2 0h1m10 0h1m3 0h2m2 0h1m1 0h2m2 0h1m3 0h1"/>
<path class="j46" d="M1 0h2m2 0h2m9 0h2m2 0h2m2 0h2m2 0h3m81 0h1m11 0h1m27 0h1m26 0h1m2 0h2m1 0h1m5 0h1m1 0h1m5 0h1m1 0h1m2 0h2"/>
<path class="j47" d="M3 0h2m2 0h1m1 0h1m4 0h1m7 0h2m2 0h1m4 0h5m5 0h1m60 0h2m1 0h1m2 0h4m1 0h2m7 0h1m41 0h6m41 0h1"/>
<path class="j48" d="M8 0h1m1 0h4m1 0h1m20 0h5m1 0h2m21 0h3m1 0h1m1 0h2m1 0h1m13 0h1m12 0h1m4 0h1m10 0h1m30 0h1m1 0h2m35 0h1m25 0h1"/>
<path class="j49" d="M44 0h1m25 0h1m2 0h1m26 0h1m15 0h1m1 0h1m2 0h1m1 0h1m21 0h3m11 0h1m2 0h1m23 0h1m1 0h2m25 0h3"/>
<path class="j50" d="M46 0h2m16 0h1m3 0h1m6 0h1m1 0h1m18 0h1m1 0h1m5 0h1m14 0h1m16 0h1m1 0h3m2 0h1m5 0h1m13 0h1"/>
<path class="j51" d="M45 0h1m2 0h1m5 0h2m1 0h1m1 0h2m15 0h1m22 0h1m7 0h1m12 0h1m10 0h1m5 0h1m3 0h2m17 0h1m29 0h1m21 0h1"/>
<path class="j52" d="M49 0h3m6 0h1m2 0h1"/>
<path class="j53" d="M18 0h1m43 0h2m94 0h1m2 0h1m36 0h1"/>
<path class="j54" d="M95 0h1m19 0h1m28 0h1"/>
<path class="j55" d="M56 0h1"/>
<path class="j56" d="M53 0h1"/>
<path class="j57" d="M52 0h1m44 0h1"/>
</g>
<g transform="translate(0,3331.09) scale(1,11.958)">
<path class="j8" d="M284 0h1"/>
<path class="j9" d="M285 0h1"/>
<path class="j10" d="M283 0h1"/>
<path class="j11" d="M282 0h1"/>
<path class="j15" d="M281 0h1"/>
<path class="j17" d="M280 0h1"/>
<path class="j20" d="M279 0h1"/>
<path class="j24" d="M278 0h1"/>
<path class="j25" d="M275 0h3"/>
<path class="j26" d="M251 0h1"/>
<path class="j28" d="M252 0h1"/>
<path class="j30" d="M258 0h1m2 0h1"/>
<path class="j31" d="M257 0h1"/>
<path class="j32" d="M125 0h1m102 0h2m24 0h2m3 0h1m6 0h1"/>
<path class="j33" d="M249 0h2m5 0h1m3 0h1"/>
<path class="j34" d="M227 0h1m19 0h2"/>
<path class="j35" d="M246 0h1"/>
<path class="j36" d="M234 0h2m4 0h1m4 0h1"/>
<path class="j37" d="M236 0h3m2 0h1m2 0h1m17 0h1"/>
<path class="j38" d="M239 0h1m2 0h2m19 0h1"/>
<path class="j39" d="M80 0h2m1 0h2"/>
<path class="j40" d="M78 0h1m3 0h1"/>
<path class="j41" d="M79 0h1m5 0h3m106 0h1m30 0h2"/>
<path class="j42" d="M207 0h1m1 0h1"/>
<path class="j43" d="M90 0h1m1 0h1m1 0h1m75 0h1m2 0h3m1 0h1m2 0h1m27 0h1m1 0h1"/>
<path class="j44" d="M19 0h1m7 0h1m61 0h1m1 0h1m1 0h1m30 0h1m46 0h2m3 0h1m1 0h1m2 0h1m2 0h1m7 0h1m2 0h3"/>
<path class="j45" d="M0 0h2m15 0h1m3 0h1m2 0h2m2 0h1m73 0h2m8 0h1m39 0h1m6 0h1m2 0h1m16 0h1m2 0h2m7 0h1m7 0h5m1 0h2m4 0h1"/>
<path class="j46" d="M2 0h1m2 0h3m1 0h2m3 0h1m1 0h1m3 0h1m2 0h1m2 0h1m2 0h6m70 0h1m2 0h4m1 0h2m49 0h6m15 0h1m7 0h1m10 0h1"/>
<path class="j47" d="M3 0h2m3 0h1m2 0h3m1 0h1m6 0h1m12 0h7m27 0h1m2 0h1m1 0h1m13 0h1m12 0h1m4 0h1m9 0h2m4 0h1m64 0h1m1 0h1m23 0h1"/>
<path class="j48" d="M42 0h2m10 0h2m1 0h1m7 0h3m3 0h1m1 0h1m26 0h1m17 0h2m1 0h1m1 0h1m24 0h1m1 0h2m8 0h1m25 0h1m1 0h1m26 0h1"/>
<path class="j49" d="M44 0h1m13 0h1m5 0h1m3 0h1m1 0h1m4 0h1m1 0h1m18 0h1m1 0h2m4 0h1m15 0h1m24 0h3m1 0h1m8 0h1m2 0h1m1 0h1m48 0h1m3 0h2"/>
<path class="j50" d="M45 0h4m27 0h1m54 0h1m4 0h5m2 0h1m46 0h1"/>
<path class="j51" d="M18 0h1m30 0h3m4 0h1m2 0h3m53 0h1m25 0h2m55 0h1"/>
<path class="j52" d="M62 0h2m43 0h1"/>
<path class="j53" d="M95 0h1m48 0h1"/>
<path class="j55" d="M97 0h1"/>
<path class="j56" d="M52 0h2"/>
</g>
<g transform="translate(0,3318.54) scale(1,13.154)">
<path class="j7" d="M284 0h2"/>
<path class="j9" d="M283 0h1"/>
<path class="j10" d="M282 0h1"/>
<path class="j14" d="M281 0h1"/>
<path class="j16" d="M280 0h1"/>
<path class="j19" d="M279 0h1"/>
<path class="j23" d="M278 0h1"/>
<path class="j24" d="M276 0h2"/>
<path class="j25" d="M251 0h1m23 0h1"/>
<path class="j27" d="M252 0h1"/>
<path class="j29" d="M261 0h1m4 0h1"/>
<path class="j30" d="M228 0h1m28 0h2"/>
<path class="j31" d="M125 0h1m101 0h1m1 0h1"/>
<path class="j32" d="M254 0h2m3 0h1"/>
<path class="j33" d="M248 0h3m5 0h1m3 0h1"/>
<path class="j34" d="M247 0h1"/>
<path class="j35" d="M234 0h1m5 0h1m5 0h1"/>
<path class="j36" d="M235 0h2m4 0h1m3 0h1"/>
<path class="j37" d="M237 0h3m2 0h3m17 0h1"/>
<path class="j38" d="M80 0h1m3 0h1"/>
<path class="j39" d="M78 0h1m2 0h1m1 0h1"/>
<path class="j40" d="M79 0h1m2 0h1m2 0h3m106 0h1m30 0h2m36 0h1"/>
<path class="j41" d="M159 0h1m47 0h1m1 0h2"/>
<path class="j42" d="M90 0h1m1 0h3m67 0h1m7 0h1m3 0h2m32 0h1"/>
<path class="j43" d="M89 0h1m1 0h1m32 0h1m46 0h3m2 0h3m1 0h1m3 0h1m7 0h1m3 0h2"/>
<path class="j44" d="M0 0h1m16 0h1m1 0h1m1 0h1m5 0h1m27 0h1m46 0h2m8 0h1m39 0h1m5 0h1m20 0h1m1 0h1m13 0h1m3 0h2m1 0h2m2 0h1m4 0h1"/>
<path class="j45" d="M1 0h2m2 0h2m2 0h2m3 0h1m1 0h1m3 0h1m2 0h4m1 0h3m1 0h2m20 0h1m2 0h1m47 0h1m2 0h4m1 0h2m45 0h1m3 0h6m12 0h2m1 0h1m5 0h1m9 0h1m2 0h2"/>
<path class="j46" d="M3 0h2m2 0h1m3 0h3m1 0h1m6 0h1m8 0h1m2 0h2m1 0h1m3 0h1m16 0h1m13 0h1m27 0h2m4 0h1m9 0h2m1 0h1m2 0h1m38 0h1m25 0h1m1 0h1m3 0h1m19 0h1"/>
<path class="j47" d="M8 0h1m27 0h1m1 0h3m1 0h2m12 0h1m8 0h3m1 0h1m1 0h1m2 0h1m13 0h1m15 0h1m13 0h1m1 0h2m1 0h1m62 0h1m1 0h1m23 0h1m2 0h1"/>
<path class="j48" d="M44 0h1m19 0h1m5 0h1m2 0h1m3 0h1m18 0h1m1 0h2m47 0h2m1 0h2m38 0h1m25 0h1"/>
<path class="j49" d="M45 0h4m19 0h1m6 0h1m39 0h1m20 0h1m1 0h1m6 0h2m2 0h1m13 0h1m53 0h1"/>
<path class="j50" d="M18 0h1m30 0h3m7 0h3m14 0h1m54 0h1m5 0h1m1 0h2m2 0h1m54 0h1"/>
<path class="j51" d="M62 0h2m31 0h1m45 0h2"/>
<path class="j52" d="M107 0h1m36 0h1"/>
<path class="j53" d="M97 0h1"/>
<path class="j55" d="M52 0h1"/>
<path class="j56" d="M53 0h1"/>
</g>
<g transform="translate(0,3304.72) scale(1,14.47)">
<path class="j6" d="M284 0h2"/>
<path class="j8" d="M283 0h1"/>
<path class="j9" d="M282 0h1"/>
<path class="j13" d="M281 0h1"/>
<path class="j15" d="M280 0h1"/>
<path class="j18" d="M279 0h1"/>
<path class="j22" d="M278 0h1"/>
<path class="j23" d="M251 0h1"/>
<path class="j24" d="M275 0h3"/>
<path class="j26" d="M252 0h1m13 0h1"/>
<path class="j27" d="M228 0h1m32 0h1"/>
<path class="j28" d="M227 0h1"/>
<path class="j29" d="M125 0h1m103 0h1m28 0h1"/>
<path class="j30" d="M257 0h1"/>
<path class="j31" d="M254 0h2m3 0h1"/>
<path class="j32" d="M249 0h2"/>
<path class="j33" d="M247 0h2m7 0h1m3 0h1"/>
<path class="j35" d="M234 0h2m4 0h1m4 0h2"/>
<path class="j36" d="M159 0h1m76 0h4m1 0h1m1 0h2"/>
<path class="j37" d="M242 0h1"/>
<path class="j38" d="M78 0h1m1 0h2m2 0h1m77 0h1m99 0h1"/>
<path class="j39" d="M79 0h1m2 0h2m1 0h3m122 0h1m14 0h2"/>
<path class="j40" d="M158 0h1m35 0h1m12 0h1"/>
<path class="j41" d="M55 0h1m33 0h6m29 0h1m49 0h1m33 0h2m53 0h1"/>
<path class="j42" d="M54 0h1m2 0h1m94 0h1m7 0h2m8 0h2m1 0h1m1 0h3m2 0h1m15 0h1m14 0h1"/>
<path class="j43" d="M0 0h1m9 0h1m6 0h1m1 0h1m7 0h1m30 0h1m43 0h2m8 0h1m59 0h1m5 0h1m2 0h1m2 0h1m7 0h1m2 0h1m1 0h1"/>
<path class="j44" d="M1 0h2m11 0h1m1 0h1m3 0h2m2 0h2m2 0h2m26 0h1m48 0h1m2 0h4m1 0h2m1 0h1m2 0h1m44 0h6m9 0h1m2 0h2m1 0h1m5 0h1m7 0h5m1 0h2"/>
<path class="j45" d="M5 0h3m1 0h1m2 0h2m1 0h1m6 0h2m2 0h1m3 0h5m65 0h2m4 0h1m10 0h1m2 0h1m1 0h1m64 0h1m1 0h1m3 0h1m10 0h1m7 0h2"/>
<path class="j46" d="M3 0h2m3 0h1m2 0h1m23 0h7m27 0h1m2 0h1m1 0h1m13 0h1m10 0h1m4 0h1m10 0h1m2 0h1m2 0h1m1 0h1m62 0h1m1 0h1"/>
<path class="j47" d="M42 0h3m19 0h4m3 0h1m1 0h1m22 0h1m1 0h1m91 0h1m24 0h2"/>
<path class="j48" d="M18 0h1m26 0h3m20 0h1m1 0h1m4 0h1m1 0h1m69 0h2m1 0h2m11 0h1"/>
<path class="j49" d="M48 0h4m7 0h3m14 0h1m18 0h1m40 0h1m1 0h2m3 0h1m1 0h2m2 0h1m48 0h1"/>
<path class="j50" d="M62 0h2m67 0h1m5 0h1m2 0h2m75 0h1"/>
<path class="j51" d="M97 0h1m44 0h1m1 0h1"/>
<path class="j53" d="M52 0h1m54 0h1"/>
<path class="j56" d="M53 0h1"/>
</g>
<g transform="translate(0,3289.53) scale(1,15.917)">
<path class="j5" d="M284 0h2"/>
<path class="j7" d="M283 0h1"/>
<path class="j8" d="M282 0h1"/>
<path class="j12" d="M281 0h1"/>
<path class="j14" d="M280 0h1"/>
<path class="j17" d="M279 0h1"/>
<path class="j21" d="M278 0h1"/>
<path class="j22" d="M251 0h1"/>
<path class="j23" d="M275 0h3"/>
<path class="j24" d="M228 0h1m37 0h1"/>
<path class="j25" d="M227 0h1m24 0h1m8 0h1"/>
<path class="j27" d="M229 0h1"/>
<path class="j28" d="M125 0h1"/>
<path class="j29" d="M257 0h2"/>
<path class="j31" d="M249 0h1m4 0h2m3 0h1"/>
<path class="j32" d="M159 0h1m87 0h2m1 0h1m5 0h1m3 0h1"/>
<path class="j34" d="M162 0h1m77 0h1m5 0h1"/>
<path class="j35" d="M158 0h1m75 0h6m1 0h1m2 0h2"/>
<path class="j36" d="M242 0h2"/>
<path class="j37" d="M84 0h1m125 0h1"/>
<path class="j38" d="M55 0h1m22 0h4m1 0h1m1 0h3m73 0h1m63 0h2m35 0h1"/>
<path class="j39" d="M54 0h1m2 0h1m24 0h1m77 0h1m33 0h1m12 0h1"/>
<path class="j40" d="M56 0h1m1 0h1m30 0h6m29 0h1m49 0h1m33 0h2m1 0h1"/>
<path class="j41" d="M10 0h1m91 0h2m48 0h1m17 0h1m2 0h1m1 0h1m1 0h1m2 0h1m15 0h1"/>
<path class="j42" d="M27 0h1m81 0h1m2 0h1m58 0h2m3 0h1m1 0h1m2 0h1m2 0h1m7 0h1m4 0h1m65 0h1"/>
<path class="j43" d="M0 0h2m14 0h2m1 0h1m1 0h1m3 0h1m2 0h1m72 0h1m6 0h1m1 0h2m1 0h5m1 0h2m43 0h6m9 0h1m2 0h2m5 0h1m1 0h1m3 0h1m3 0h1m2 0h2m8 0h1"/>
<path class="j44" d="M2 0h1m2 0h3m1 0h1m4 0h1m5 0h1m2 0h2m1 0h1m2 0h2m1 0h2m66 0h1m4 0h2m15 0h1m62 0h1m1 0h1m12 0h2m2 0h3m6 0h1"/>
<path class="j45" d="M3 0h2m3 0h1m2 0h3m1 0h1m6 0h1m8 0h1m2 0h2m1 0h1m2 0h2m30 0h1m1 0h1m23 0h2m4 0h1m13 0h1m2 0h1m1 0h1m62 0h1m1 0h1m1 0h1m2 0h1"/>
<path class="j46" d="M18 0h1m17 0h1m1 0h2m2 0h3m19 0h4m1 0h1m1 0h1m16 0h1m7 0h1m118 0h1"/>
<path class="j47" d="M46 0h2m22 0h1m2 0h1m1 0h1m1 0h1m85 0h1m52 0h1"/>
<path class="j48" d="M45 0h1m2 0h4m7 0h3m6 0h1m26 0h1m51 0h2m1 0h2m46 0h1"/>
<path class="j49" d="M62 0h2m12 0h1m20 0h1m33 0h1m4 0h4m3 0h1m1 0h2m2 0h1"/>
<path class="j50" d="M140 0h2m2 0h1m72 0h1"/>
<path class="j51" d="M142 0h1"/>
<path class="j52" d="M52 0h1"/>
<path class="j53" d="M107 0h1"/>
<path class="j56" d="M53 0h1"/>
</g>
<g transform="translate(0,3272.82) scale(1,17.508)">
<path class="j4" d="M284 0h2"/>
<path class="j5" d="M283 0h1"/>
<path class="j7" d="M282 0h1"/>
<path class="j11" d="M281 0h1"/>
<path class="j12" d="M280 0h1"/>
<path class="j16" d="M279 0h1"/>
<path class="j19" d="M278 0h1"/>
<path class="j21" d="M251 0h1"/>
<path class="j22" d="M266 0h1m8 0h3"/>
<path class="j23" d="M227 0h2"/>
<path class="j24" d="M261 0h1"/>
<path class="j25" d="M229 0h1m22 0h1"/>
<path class="j28" d="M257 0h2"/>
<path class="j30" d="M125 0h1m123 0h2m3 0h2m3 0h1"/>
<path class="j31" d="M247 0h2m7 0h1m3 0h1"/>
<path class="j32" d="M159 0h1m80 0h1"/>
<path class="j33" d="M162 0h1m78 0h1m4 0h1"/>
<path class="j34" d="M234 0h6m3 0h3"/>
<path class="j35" d="M158 0h1m51 0h1m31 0h1"/>
<path class="j36" d="M55 0h1m22 0h1m1 0h2m2 0h2m1 0h1m137 0h1"/>
<path class="j37" d="M54 0h1m24 0h1m2 0h2m2 0h1m74 0h1m64 0h1"/>
<path class="j38" d="M57 0h1m34 0h1m67 0h1m33 0h1m14 0h1m52 0h1"/>
<path class="j39" d="M56 0h1m1 0h1m30 0h3m1 0h2m8 0h1m20 0h1m82 0h2m2 0h1"/>
<path class="j40" d="M10 0h1m91 0h1m67 0h1m2 0h3m1 0h1m2 0h1m11 0h1"/>
<path class="j41" d="M19 0h1m7 0h1m81 0h1m2 0h1m2 0h2m54 0h2m3 0h1m1 0h1m2 0h1m2 0h1m4 0h1m6 0h2"/>
<path class="j42" d="M0 0h2m14 0h2m3 0h1m3 0h1m2 0h1m72 0h1m6 0h1m1 0h2m1 0h2m2 0h1m1 0h2m1 0h1m29 0h1m11 0h1m3 0h2m9 0h1m2 0h2m3 0h1m3 0h1m7 0h2m1 0h1m9 0h1m50 0h1"/>
<path class="j43" d="M2 0h1m2 0h3m1 0h1m3 0h2m5 0h1m2 0h2m1 0h1m2 0h2m1 0h3m64 0h2m3 0h3m11 0h1m46 0h3m17 0h1m2 0h1m1 0h1m4 0h1m5 0h1m1 0h1m1 0h1"/>
<path class="j44" d="M3 0h2m3 0h1m2 0h2m2 0h1m2 0h1m3 0h1m8 0h1m3 0h7m27 0h1m2 0h1m1 0h1m23 0h1m22 0h1m1 0h1m62 0h1m17 0h1m1 0h1m6 0h1m1 0h1"/>
<path class="j45" d="M42 0h3m19 0h4m3 0h1m1 0h1m22 0h1"/>
<path class="j46" d="M45 0h4m1 0h1m17 0h1m1 0h1m6 0h1m10 0h1m55 0h1m48 0h1m22 0h1"/>
<path class="j47" d="M49 0h1m1 0h1m7 0h4m12 0h1m19 0h1m1 0h1m49 0h2m1 0h2m46 0h1"/>
<path class="j48" d="M63 0h1m12 0h1m59 0h1m1 0h1m4 0h1m1 0h2m2 0h1m13 0h1"/>
<path class="j49" d="M131 0h1m5 0h1m1 0h3"/>
<path class="j50" d="M142 0h1m74 0h1"/>
<path class="j52" d="M52 0h1"/>
<path class="j53" d="M107 0h1"/>
<path class="j56" d="M53 0h1"/>
</g>
<g transform="translate(0,3254.43) scale(1,19.259)">
<path class="j2" d="M285 0h1"/>
<path class="j3" d="M284 0h1"/>
<path class="j4" d="M283 0h1"/>
<path class="j6" d="M282 0h1"/>
<path class="j9" d="M281 0h1"/>
<path class="j11" d="M280 0h1"/>
<path class="j14" d="M279 0h1"/>
<path class="j18" d="M278 0h1"/>
<path class="j19" d="M266 0h1"/>
<path class="j20" d="M275 0h1"/>
<path class="j21" d="M251 0h1m24 0h2"/>
<path class="j22" d="M227 0h2"/>
<path class="j24" d="M229 0h1m31 0h1"/>
<path class="j25" d="M252 0h1"/>
<path class="j27" d="M257 0h2"/>
<path class="j29" d="M249 0h2m3 0h2m3 0h1"/>
<path class="j30" d="M247 0h2m11 0h1"/>
<path class="j31" d="M159 0h1m2 0h1m77 0h1m15 0h1"/>
<path class="j32" d="M125 0h1m115 0h1m4 0h1"/>
<path class="j33" d="M210 0h1m23 0h6m2 0h4"/>
<path class="j34" d="M55 0h1m22 0h1m1 0h1m3 0h1"/>
<path class="j35" d="M54 0h1m24 0h1m1 0h1m1 0h1m1 0h3m70 0h1m66 0h2"/>
<path class="j36" d="M57 0h1m24 0h1m78 0h1"/>
<path class="j37" d="M90 0h1m1 0h3m8 0h1m56 0h1m48 0h1"/>
<path class="j38" d="M56 0h1m1 0h1m30 0h1m1 0h1m10 0h1m21 0h1m69 0h1m12 0h2m2 0h1"/>
<path class="j39" d="M10 0h1m104 0h1m57 0h3m1 0h1m2 0h1m3 0h1m4 0h1m2 0h1m69 0h1"/>
<path class="j40" d="M17 0h1m1 0h1m7 0h1m81 0h1m2 0h1m3 0h1m2 0h1m50 0h3m3 0h1m1 0h1m2 0h1m5 0h2m1 0h2m4 0h2"/>
<path class="j41" d="M0 0h2m12 0h1m1 0h1m4 0h1m2 0h2m2 0h1m3 0h2m67 0h1m2 0h2m2 0h1m1 0h2m1 0h2m2 0h1m2 0h1m1 0h1m56 0h1m2 0h2m1 0h1m13 0h2m1 0h1m9 0h1"/>
<path class="j42" d="M2 0h1m2 0h3m1 0h1m2 0h2m4 0h1m1 0h1m2 0h1m2 0h1m2 0h2m3 0h2m1 0h1m2 0h2m30 0h1m25 0h3m5 0h1m11 0h1m25 0h1m19 0h1m1 0h1m1 0h2m16 0h1m14 0h1m1 0h1m1 0h1m57 0h1"/>
<path class="j43" d="M3 0h2m3 0h1m2 0h1m3 0h1m6 0h1m8 0h1m4 0h1m1 0h2m2 0h2m20 0h4m1 0h1m1 0h1m2 0h1m46 0h1m1 0h1m28 0h1m12 0h1m1 0h1m36 0h1m8 0h1m1 0h1"/>
<path class="j44" d="M44 0h1m2 0h1m22 0h1m2 0h1m22 0h1m98 0h1m10 0h1"/>
<path class="j45" d="M45 0h2m1 0h4m10 0h1m5 0h1m28 0h1m118 0h1"/>
<path class="j46" d="M59 0h3m1 0h1m11 0h1m1 0h1m10 0h1m6 0h1m51 0h2m1 0h2m41 0h1m4 0h1"/>
<path class="j47" d="M76 0h1m63 0h2m1 0h1m1 0h2m2 0h1"/>
<path class="j48" d="M131 0h1m4 0h4m2 0h1"/>
<path class="j49" d="M163 0h1"/>
<path class="j50" d="M217 0h1"/>
<path class="j51" d="M52 0h1"/>
<path class="j53" d="M107 0h1"/>
<path class="j56" d="M53 0h1"/>
</g>
<g transform="translate(0,3234.21) scale(1,21.185)">
<path class="j1" d="M284 0h2"/>
<path class="j2" d="M283 0h1"/>
<path class="j4" d="M282 0h1"/>
<path class="j8" d="M281 0h1"/>
<path class="j9" d="M280 0h1"/>
<path class="j12" d="M279 0h1"/>
<path class="j16" d="M278 0h1"/>
<path class="j17" d="M266 0h1"/>
<path class="j19" d="M275 0h1"/>
<path class="j20" d="M227 0h2m22 0h1m24 0h1"/>
<path class="j21" d="M277 0h1"/>
<path class="j23" d="M229 0h1m31 0h1"/>
<path class="j25" d="M252 0h1"/>
<path class="j26" d="M258 0h1"/>
<path class="j27" d="M257 0h1"/>
<path class="j28" d="M249 0h2m3 0h1m4 0h1"/>
<path class="j29" d="M247 0h2m6 0h1m4 0h1"/>
<path class="j30" d="M162 0h1m77 0h1m15 0h1"/>
<path class="j31" d="M159 0h1m74 0h1m4 0h1m1 0h1m2 0h1m1 0h1"/>
<path class="j32" d="M55 0h1m154 0h1m24 0h4m3 0h2m1 0h1"/>
<path class="j33" d="M54 0h1m23 0h1m1 0h2m1 0h3m1 0h1m37 0h1m99 0h1"/>
<path class="j34" d="M79 0h1m2 0h1m3 0h1m139 0h1"/>
<path class="j35" d="M57 0h1m45 0h1m54 0h1m2 0h1"/>
<path class="j36" d="M89 0h6m65 0h1m28 0h1m19 0h1"/>
<path class="j37" d="M56 0h1m1 0h1m43 0h1m12 0h1m74 0h1m1 0h1m1 0h1m13 0h1"/>
<path class="j38" d="M10 0h1m105 0h1m7 0h1m48 0h3m1 0h1m2 0h1m3 0h1m2 0h2m18 0h1m3 0h1"/>
<path class="j39" d="M17 0h3m7 0h1m73 0h1m7 0h1m2 0h1m4 0h1m1 0h1m24 0h1m25 0h3m3 0h1m1 0h1m2 0h1m9 0h1m4 0h2"/>
<path class="j40" d="M0 0h1m13 0h1m1 0h1m3 0h2m2 0h2m2 0h1m3 0h2m66 0h1m3 0h2m2 0h1m1 0h2m1 0h2m5 0h1m1 0h1m56 0h1m2 0h2m1 0h2m12 0h2m1 0h1m9 0h1m49 0h1"/>
<path class="j41" d="M1 0h2m2 0h3m1 0h1m2 0h2m8 0h2m2 0h1m2 0h3m2 0h2m1 0h6m21 0h1m4 0h1m2 0h1m1 0h1m23 0h2m6 0h1m11 0h1m82 0h1m1 0h1m1 0h1m9 0h1"/>
<path class="j42" d="M3 0h2m3 0h1m2 0h1m3 0h1m20 0h1m6 0h1m21 0h3m3 0h1m24 0h1m24 0h1m1 0h1m40 0h6m34 0h1m58 0h1"/>
<path class="j43" d="M44 0h1m2 0h1m2 0h2m16 0h1m1 0h1m2 0h1m139 0h1m2 0h1"/>
<path class="j44" d="M45 0h2m1 0h2m12 0h1m34 0h1m54 0h1m42 0h1"/>
<path class="j45" d="M59 0h3m1 0h1m11 0h1m1 0h1m17 0h1m51 0h2m1 0h2m54 0h1"/>
<path class="j46" d="M76 0h1m11 0h1m51 0h2m1 0h1m1 0h2m2 0h1m48 0h1"/>
<path class="j47" d="M136 0h1m1 0h2m2 0h1m50 0h1"/>
<path class="j48" d="M131 0h1m5 0h1"/>
<path class="j50" d="M52 0h1m164 0h1"/>
<path class="j51" d="M163 0h1"/>
<path class="j53" d="M107 0h1"/>
<path class="j56" d="M53 0h1"/>
</g>
<g transform="translate(0,3211.97) scale(1,23.304)">
<path class="j0" d="M285 0h1"/>
<path class="j1" d="M284 0h1"/>
<path class="j2" d="M283 0h1"/>
<path class="j3" d="M282 0h1"/>
<path class="j7" d="M281 0h1"/>
<path class="j9" d="M280 0h1"/>
<path class="j12" d="M279 0h1"/>
<path class="j15" d="M278 0h1"/>
<path class="j16" d="M266 0h1"/>
<path class="j18" d="M227 0h1m47 0h2"/>
<path class="j19" d="M228 0h1m22 0h1"/>
<path class="j20" d="M277 0h1"/>
<path class="j21" d="M229 0h1"/>
<path class="j22" d="M261 0h1"/>
<path class="j24" d="M258 0h1"/>
<path class="j25" d="M252 0h1"/>
<path class="j27" d="M249 0h2m6 0h1"/>
<path class="j28" d="M162 0h1m77 0h1m6 0h2m5 0h1m4 0h1"/>
<path class="j29" d="M210 0h1m30 0h1m4 0h1m8 0h1m4 0h1"/>
<path class="j30" d="M239 0h1m2 0h4m10 0h1"/>
<path class="j31" d="M225 0h1m8 0h1"/>
<path class="j32" d="M55 0h1m103 0h1m75 0h4"/>
<path class="j33" d="M54 0h1m23 0h1m1 0h2m1 0h3m1 0h1m15 0h1m57 0h1m64 0h1"/>
<path class="j34" d="M79 0h1m2 0h1m3 0h1m3 0h1m1 0h3m49 0h1m64 0h1"/>
<path class="j35" d="M57 0h1m31 0h1m1 0h1m10 0h1m12 0h1m42 0h1m30 0h2m1 0h1"/>
<path class="j36" d="M125 0h1m34 0h1m47 0h1m2 0h1m3 0h1"/>
<path class="j37" d="M19 0h1m7 0h1m28 0h1m1 0h1m50 0h1m2 0h1m3 0h1m5 0h1m68 0h1m2 0h1"/>
<path class="j38" d="M0 0h2m8 0h1m5 0h2m2 0h2m1 0h3m2 0h2m2 0h3m64 0h1m1 0h1m6 0h1m1 0h2m2 0h1m2 0h1m1 0h2m3 0h1m49 0h1m5 0h1m3 0h1m2 0h2m18 0h1m54 0h1"/>
<path class="j39" d="M2 0h1m11 0h1m3 0h1m3 0h1m3 0h1m3 0h2m3 0h1m1 0h1m3 0h1m56 0h1m1 0h1m4 0h1m7 0h1m4 0h1m2 0h1m1 0h1m46 0h1m2 0h1m1 0h1m1 0h2m2 0h1m14 0h2m4 0h2"/>
<path class="j40" d="M5 0h2m4 0h3m22 0h1m1 0h3m1 0h1m29 0h1m1 0h1m31 0h1m64 0h2m3 0h1m2 0h1m2 0h2m1 0h2m12 0h3m3 0h1m6 0h1m3 0h1"/>
<path class="j41" d="M3 0h2m2 0h1m1 0h1m33 0h1m20 0h4m1 0h1m1 0h1m24 0h2m6 0h1m99 0h1m58 0h1"/>
<path class="j42" d="M8 0h1m53 0h1m5 0h1m1 0h1m2 0h1m74 0h1m15 0h6"/>
<path class="j43" d="M44 0h1m2 0h1m2 0h2m8 0h1m2 0h1m11 0h1m1 0h1m17 0h1m44 0h4m1 0h3m2 0h2m61 0h1"/>
<path class="j44" d="M15 0h1m29 0h2m1 0h2m9 0h1m1 0h1m87 0h1m48 0h1"/>
<path class="j45" d="M76 0h1m59 0h4m55 0h1m10 0h1"/>
<path class="j46" d="M88 0h1m42 0h1"/>
<path class="j47" d="M193 0h1"/>
<path class="j48" d="M152 0h1"/>
<path class="j50" d="M52 0h1m164 0h1"/>
<path class="j52" d="M163 0h1"/>
<path class="j53" d="M107 0h1"/>
<path class="j56" d="M53 0h1"/>
</g>
<g transform="translate(0,3187.5) scale(1,25.634)">
<path class="j0" d="M285 0h1"/>
<path class="j1" d="M283 0h2"/>
<path class="j3" d="M282 0h1"/>
<path class="j7" d="M281 0h1"/>
<path class="j9" d="M280 0h1"/>
<path class="j12" d="M279 0h1"/>
<path class="j14" d="M266 0h1"/>
<path class="j15" d="M278 0h1"/>
<path class="j16" d="M275 0h2"/>
<path class="j17" d="M227 0h1"/>
<path class="j18" d="M228 0h1m22 0h1"/>
<path class="j20" d="M229 0h1m31 0h1m15 0h1"/>
<path class="j22" d="M258 0h1"/>
<path class="j26" d="M162 0h1m89 0h1"/>
<path class="j27" d="M210 0h1m29 0h1m8 0h2m6 0h1"/>
<path class="j28" d="M239 0h1m1 0h1m2 0h1m2 0h2m5 0h1m4 0h1"/>
<path class="j29" d="M84 0h1m140 0h1m16 0h2m2 0h1m8 0h1m4 0h1"/>
<path class="j30" d="M78 0h1m1 0h2m1 0h1m1 0h1m1 0h1m157 0h1m10 0h1"/>
<path class="j31" d="M79 0h1m2 0h1m3 0h1m2 0h6m49 0h1m81 0h1m7 0h5"/>
<path class="j32" d="M103 0h1m11 0h1m73 0h1"/>
<path class="j33" d="M102 0h1m58 0h1m28 0h1m1 0h1m16 0h1m5 0h1"/>
<path class="j34" d="M54 0h2m103 0h1m51 0h1"/>
<path class="j35" d="M57 0h1m130 0h1m2 0h1m1 0h1m14 0h1"/>
<path class="j36" d="M17 0h1m80 0h2m1 0h1m6 0h2m77 0h1m19 0h1"/>
<path class="j37" d="M14 0h1m1 0h1m2 0h1m7 0h1m4 0h2m24 0h1m41 0h1m4 0h1m6 0h1m3 0h1m5 0h1m35 0h1m35 0h1m1 0h1m66 0h1"/>
<path class="j38" d="M11 0h3m6 0h2m1 0h3m2 0h2m4 0h2m1 0h1m2 0h2m14 0h1m9 0h2m1 0h1m1 0h2m1 0h1m21 0h1m9 0h1m3 0h2m2 0h1m2 0h1m1 0h2m39 0h1m19 0h1m3 0h1m12 0h7m1 0h1m56 0h1"/>
<path class="j39" d="M10 0h1m7 0h1m3 0h1m3 0h1m3 0h2m4 0h1m1 0h2m2 0h2m18 0h1m1 0h2m4 0h1m2 0h1m23 0h1m15 0h1m4 0h1m2 0h1m1 0h3m14 0h1m33 0h1m3 0h1m2 0h1m4 0h1m17 0h1m7 0h1m3 0h1"/>
<path class="j40" d="M0 0h2m3 0h2m56 0h1m4 0h1m72 0h2m27 0h2m1 0h1m1 0h1m1 0h1m1 0h1m2 0h2m1 0h1"/>
<path class="j41" d="M2 0h3m4 0h1m49 0h3m13 0h1m1 0h1m65 0h1m28 0h1m3 0h1"/>
<path class="j42" d="M7 0h1m42 0h2m24 0h1m59 0h1m8 0h4m1 0h2m16 0h1"/>
<path class="j43" d="M8 0h1m38 0h3m45 0h1m8 0h1m32 0h3m9 0h1m14 0h4m1 0h1m43 0h1"/>
<path class="j44" d="M44 0h1m1 0h1"/>
<path class="j45" d="M15 0h1m29 0h1m160 0h1"/>
<path class="j46" d="M88 0h1m42 0h1m63 0h1"/>
<path class="j48" d="M152 0h1"/>
<path class="j49" d="M52 0h1m164 0h1"/>
<path class="j53" d="M107 0h1"/>
<path class="j54" d="M163 0h1"/>
<path class="j56" d="M53 0h1"/>
</g>
<g transform="translate(0,3160.58) scale(1,28.197)">
<path class="j0" d="M284 0h2"/>
<path class="j1" d="M283 0h1"/>
<path class="j3" d="M282 0h1"/>
<path class="j8" d="M281 0h1"/>
<path class="j9" d="M280 0h1"/>
<path class="j13" d="M279 0h1"/>
<path class="j14" d="M266 0h1"/>
<path class="j16" d="M275 0h2"/>
<path class="j17" d="M227 0h1m23 0h1"/>
<path class="j18" d="M228 0h1m32 0h1"/>
<path class="j19" d="M278 0h1"/>
<path class="j20" d="M229 0h1"/>
<path class="j21" d="M277 0h1"/>
<path class="j22" d="M258 0h1"/>
<path class="j25" d="M210 0h1"/>
<path class="j26" d="M162 0h1m75 0h1"/>
<path class="j27" d="M80 0h1m3 0h1m2 0h1m152 0h1m16 0h1"/>
<path class="j28" d="M78 0h1m2 0h3m1 0h2m138 0h1m13 0h1m1 0h1m2 0h1m3 0h3m1 0h1m1 0h1m4 0h1"/>
<path class="j29" d="M79 0h1m10 0h1m1 0h1m1 0h1m8 0h1m138 0h2m3 0h1m7 0h1m4 0h1"/>
<path class="j30" d="M89 0h1m1 0h1m1 0h1m50 0h1m81 0h1m29 0h1"/>
<path class="j31" d="M209 0h1m5 0h1m18 0h4m8 0h1"/>
<path class="j32" d="M102 0h1m12 0h1m73 0h2m1 0h1m52 0h1"/>
<path class="j33" d="M101 0h1m59 0h1"/>
<path class="j34" d="M27 0h1m72 0h1m86 0h2m2 0h1m1 0h1m14 0h1m2 0h1"/>
<path class="j35" d="M16 0h2m1 0h1m1 0h1m3 0h1m2 0h1m130 0h1m34 0h1"/>
<path class="j36" d="M0 0h2m12 0h1m5 0h1m1 0h3m1 0h1m2 0h2m24 0h1m49 0h2m1 0h2m88 0h1m8 0h1"/>
<path class="j37" d="M2 0h1m2 0h3m1 0h5m17 0h3m20 0h1m2 0h1m4 0h1m35 0h2m10 0h3m1 0h1m71 0h1m29 0h1"/>
<path class="j38" d="M3 0h2m3 0h1m9 0h1m15 0h2m1 0h1m2 0h2m16 0h1m4 0h2m48 0h1m26 0h2m38 0h1m3 0h1m11 0h2m1 0h5m1 0h1"/>
<path class="j39" d="M36 0h1m1 0h2m2 0h2m21 0h3m1 0h1m1 0h2m1 0h1m41 0h2m1 0h1m2 0h1m19 0h2m30 0h2m1 0h2m2 0h1m22 0h1m58 0h1"/>
<path class="j40" d="M47 0h1m2 0h2m7 0h3m6 0h1m1 0h1m2 0h1m1 0h1m1 0h1m18 0h1m23 0h2m1 0h1m12 0h1m1 0h2m18 0h1m11 0h1m2 0h1m2 0h1m2 0h1m2 0h2m1 0h1m26 0h1m49 0h1"/>
<path class="j41" d="M44 0h3m1 0h2m26 0h1m18 0h1m1 0h1m20 0h1m5 0h2m11 0h1m33 0h2"/>
<path class="j42" d="M52 0h1m3 0h1m88 0h1m1 0h2m19 0h1"/>
<path class="j43" d="M146 0h1m3 0h2m12 0h4m1 0h1"/>
<path class="j44" d="M149 0h1m63 0h1"/>
<path class="j45" d="M15 0h1m88 0h1m101 0h1"/>
<path class="j46" d="M88 0h1m42 0h1m28 0h1"/>
<path class="j47" d="M195 0h1"/>
<path class="j48" d="M152 0h1m64 0h1"/>
<path class="j53" d="M107 0h1"/>
<path class="j55" d="M163 0h1"/>
<path class="j56" d="M53 0h1"/>
</g>
<g transform="translate(0,3130.98) scale(1,31.017)">
<path class="j0" d="M284 0h2"/>
<path class="j2" d="M283 0h1"/>
<path class="j4" d="M282 0h1"/>
<path class="j10" d="M281 0h1"/>
<path class="j11" d="M266 0h1"/>
<path class="j13" d="M280 0h1"/>
<path class="j15" d="M251 0h1"/>
<path class="j16" d="M261 0h1"/>
<path class="j17" d="M279 0h1"/>
<path class="j18" d="M227 0h1m47 0h1"/>
<path class="j19" d="M228 0h1m47 0h1"/>
<path class="j21" d="M229 0h1"/>
<path class="j22" d="M258 0h1"/>
<path class="j23" d="M238 0h1m38 0h1"/>
<path class="j24" d="M80 0h1m3 0h2m1 0h1"/>
<path class="j25" d="M81 0h1m1 0h1m2 0h1m123 0h1"/>
<path class="j26" d="M78 0h1m3 0h1m7 0h1m1 0h3m8 0h1m58 0h1m115 0h1"/>
<path class="j27" d="M79 0h1m9 0h1m1 0h1m148 0h1"/>
<path class="j28" d="M225 0h1m15 0h1m15 0h1"/>
<path class="j29" d="M19 0h1m7 0h1m198 0h1m10 0h1m1 0h1m2 0h3m2 0h4m1 0h1"/>
<path class="j30" d="M16 0h2m2 0h2m1 0h3m2 0h3m113 0h1m70 0h1m20 0h1m17 0h2m3 0h1"/>
<path class="j31" d="M0 0h1m13 0h1m7 0h1m3 0h1m4 0h2m176 0h1m24 0h2m20 0h1m3 0h1"/>
<path class="j32" d="M1 0h2m2 0h3m1 0h5m19 0h2m37 0h1m1 0h1m27 0h1m86 0h1m2 0h1"/>
<path class="j33" d="M4 0h1m3 0h1m26 0h1m26 0h6m1 0h1m1 0h1m29 0h1m85 0h2m1 0h1"/>
<path class="j34" d="M3 0h1m32 0h2m17 0h1m12 0h1m1 0h1m2 0h1m1 0h1m1 0h1m22 0h1m58 0h1m31 0h1m1 0h1m14 0h1m2 0h1m34 0h1"/>
<path class="j35" d="M38 0h4m12 0h1m60 0h1m70 0h1m7 0h1m50 0h1"/>
<path class="j36" d="M42 0h1m9 0h1m4 0h1m18 0h1m28 0h2m3 0h2m49 0h1m36 0h1m8 0h1"/>
<path class="j37" d="M43 0h1m14 0h1m39 0h1m10 0h1m6 0h1m23 0h3m73 0h1"/>
<path class="j38" d="M44 0h1m2 0h5m7 0h3m46 0h1m27 0h1m1 0h1m4 0h1m26 0h1m2 0h3m1 0h1m2 0h1m3 0h1m11 0h2m1 0h1m1 0h3m1 0h1"/>
<path class="j39" d="M45 0h2m52 0h1m12 0h1m4 0h1m19 0h1m1 0h1m31 0h2m3 0h1m1 0h1m2 0h1m22 0h1"/>
<path class="j40" d="M95 0h2m16 0h2m7 0h1m56 0h1m2 0h2m1 0h1m76 0h1"/>
<path class="j41" d="M88 0h1m29 0h1m41 0h1m102 0h1"/>
<path class="j42" d="M97 0h1m21 0h3m1 0h3m19 0h1m2 0h1m9 0h1m9 0h1m43 0h1"/>
<path class="j43" d="M53 0h1m92 0h2m2 0h1m13 0h4m1 0h1m30 0h1"/>
<path class="j44" d="M15 0h1m133 0h1m1 0h1m61 0h1"/>
<path class="j45" d="M18 0h1m187 0h1"/>
<path class="j46" d="M131 0h1"/>
<path class="j47" d="M107 0h1m109 0h1"/>
<path class="j48" d="M104 0h1m90 0h1"/>
<path class="j51" d="M56 0h1m95 0h1"/>
<path class="j54" d="M163 0h1"/>
</g>
<g transform="translate(0,3098.41) scale(1,34.119)">
<path class="j1" d="M284 0h2"/>
<path class="j4" d="M283 0h1"/>
<path class="j6" d="M282 0h1"/>
<path class="j9" d="M266 0h1"/>
<path class="j10" d="M281 0h1"/>
<path class="j13" d="M251 0h1m9 0h1"/>
<path class="j14" d="M280 0h1"/>
<path class="j17" d="M227 0h1"/>
<path class="j20" d="M228 0h1m46 0h1m3 0h1"/>
<path class="j21" d="M276 0h1"/>
<path class="j22" d="M229 0h1"/>
<path class="j23" d="M87 0h1"/>
<path class="j24" d="M80 0h2m1 0h4m151 0h2m18 0h1"/>
<path class="j25" d="M0 0h2m76 0h1m3 0h1m7 0h1m1 0h1m117 0h1m66 0h1"/>
<path class="j26" d="M2 0h1m76 0h1m9 0h1m1 0h1m1 0h2m8 0h1m174 0h1"/>
<path class="j27" d="M16 0h2m1 0h1m7 0h1"/>
<path class="j28" d="M11 0h2m1 0h1m5 0h2m1 0h3m136 0h1m62 0h1"/>
<path class="j29" d="M5 0h3m1 0h2m2 0h1m1 0h1m6 0h1m3 0h1m1 0h3m209 0h1"/>
<path class="j30" d="M3 0h2m3 0h1m22 0h2m111 0h1m96 0h1m2 0h1m4 0h2"/>
<path class="j31" d="M33 0h1m68 0h1m123 0h1m15 0h2m3 0h2m3 0h1"/>
<path class="j32" d="M34 0h2m28 0h4m1 0h1m1 0h2m1 0h2m1 0h1m137 0h1m38 0h1m2 0h1"/>
<path class="j33" d="M36 0h2m15 0h3m6 0h2m4 0h1m1 0h1m2 0h1m2 0h1m132 0h1m24 0h1m1 0h2m17 0h1m3 0h1"/>
<path class="j34" d="M38 0h4m10 0h1m4 0h1m101 0h1m75 0h1m20 0h1m3 0h1"/>
<path class="j35" d="M58 0h1m41 0h2m40 0h1m49 0h1m1 0h1m13 0h1"/>
<path class="j36" d="M42 0h2m66 0h2m28 0h2m45 0h3m1 0h1m1 0h1m4 0h1m12 0h1"/>
<path class="j37" d="M44 0h8m46 0h1m17 0h1m19 0h1m6 0h1m42 0h1m3 0h1m25 0h1"/>
<path class="j38" d="M96 0h1m8 0h2m30 0h3m34 0h1m5 0h1m3 0h1m22 0h1"/>
<path class="j39" d="M59 0h1m48 0h2m2 0h1m2 0h1m6 0h1m47 0h4m1 0h4m2 0h3m1 0h1m10 0h1m5 0h2"/>
<path class="j40" d="M18 0h1m41 0h2m26 0h1m24 0h2m2 0h2m47 0h1m1 0h2m9 0h1m17 0h1m1 0h1m1 0h1m2 0h2m40 0h1"/>
<path class="j41" d="M121 0h1m1 0h2m20 0h1m18 0h2m1 0h1m77 0h1m16 0h2"/>
<path class="j42" d="M99 0h1m46 0h3"/>
<path class="j43" d="M95 0h1m29 0h1m23 0h3"/>
<path class="j44" d="M200 0h1m12 0h1"/>
<path class="j45" d="M107 0h1m23 0h1m26 0h1m1 0h1m51 0h1"/>
<path class="j46" d="M119 0h2m85 0h1"/>
<path class="j47" d="M97 0h1m63 0h1m55 0h1"/>
<path class="j48" d="M195 0h1"/>
<path class="j49" d="M104 0h1"/>
<path class="j50" d="M163 0h1"/>
<path class="j51" d="M152 0h1"/>
<path class="j55" d="M56 0h1"/>
</g>
<g transform="translate(0,3062.58) scale(1,37.531)">
<path class="j1" d="M284 0h2"/>
<path class="j3" d="M283 0h1"/>
<path class="j5" d="M282 0h1"/>
<path class="j8" d="M281 0h1"/>
<path class="j9" d="M266 0h1"/>
<path class="j11" d="M261 0h1"/>
<path class="j12" d="M227 0h1m52 0h1"/>
<path class="j13" d="M251 0h1"/>
<path class="j19" d="M279 0h1"/>
<path class="j20" d="M275 0h2"/>
<path class="j22" d="M278 0h1"/>
<path class="j23" d="M228 0h1"/>
<path class="j24" d="M0 0h3m77 0h2m2 0h4"/>
<path class="j25" d="M82 0h2m145 0h1m9 0h1"/>
<path class="j26" d="M78 0h1m10 0h6"/>
<path class="j27" d="M4 0h3m9 0h1m2 0h3m57 0h1m23 0h1m154 0h1m18 0h1"/>
<path class="j28" d="M3 0h1m5 0h4m1 0h2m1 0h1m4 0h2m1 0h1m1 0h1"/>
<path class="j29" d="M7 0h2m4 0h1m10 0h1m1 0h1m1 0h1m115 0h1m65 0h1"/>
<path class="j30" d="M29 0h3m130 0h1"/>
<path class="j31" d="M32 0h1m192 0h1m14 0h1m8 0h2"/>
<path class="j32" d="M33 0h2m67 0h1m39 0h1m98 0h4m2 0h2m5 0h2m1 0h1"/>
<path class="j33" d="M35 0h1m17 0h1m86 0h2m84 0h1m25 0h1m3 0h1"/>
<path class="j34" d="M36 0h2m17 0h1m8 0h1m4 0h1m2 0h1m1 0h2m1 0h1m156 0h4"/>
<path class="j35" d="M18 0h1m19 0h1m15 0h1m10 0h4m1 0h2m1 0h1m26 0h2m8 0h2m24 0h4m3 0h1m71 0h1m22 0h1m20 0h2"/>
<path class="j36" d="M39 0h3m10 0h1m9 0h1m13 0h1m39 0h1m77 0h1m3 0h1m10 0h1"/>
<path class="j37" d="M42 0h1m1 0h1m2 0h1m15 0h1m53 0h1m41 0h1m13 0h2m5 0h1m3 0h1m2 0h1m1 0h1m2 0h1"/>
<path class="j38" d="M43 0h1m1 0h2m1 0h4m5 0h1m47 0h2m11 0h1m49 0h5m2 0h4m2 0h3m1 0h2m1 0h1m2 0h1m1 0h1m5 0h1m8 0h1m2 0h1m4 0h1m45 0h1"/>
<path class="j39" d="M58 0h3m37 0h1m13 0h1m9 0h1m24 0h2m1 0h2m14 0h2m11 0h1m65 0h2m16 0h1"/>
<path class="j40" d="M61 0h1m26 0h1m7 0h1m16 0h3m5 0h1m1 0h1m21 0h2m2 0h1m14 0h2m41 0h1"/>
<path class="j41" d="M124 0h1m71 0h2m15 0h1"/>
<path class="j42" d="M108 0h2m21 0h1m58 0h1m10 0h5"/>
<path class="j43" d="M125 0h1"/>
<path class="j44" d="M99 0h1"/>
<path class="j45" d="M107 0h1m11 0h2m85 0h1m10 0h1"/>
<path class="j46" d="M95 0h1m67 0h1m36 0h1"/>
<path class="j48" d="M160 0h1m34 0h1"/>
<path class="j49" d="M97 0h1"/>
<path class="j50" d="M104 0h1m107 0h1"/>
<path class="j51" d="M152 0h1m5 0h1"/>
<path class="j54" d="M161 0h1"/>
<path class="j55" d="M56 0h1"/>
</g>
<g transform="translate(0,3023.18) scale(1,41.284)">
<path class="j0" d="M284 0h2"/>
<path class="j1" d="M282 0h2"/>
<path class="j4" d="M281 0h1"/>
<path class="j8" d="M280 0h1"/>
<path class="j9" d="M227 0h1"/>
<path class="j11" d="M261 0h1"/>
<path class="j12" d="M266 0h1m12 0h1"/>
<path class="j16" d="M251 0h1m23 0h2m1 0h1"/>
<path class="j24" d="M228 0h1"/>
<path class="j25" d="M0 0h2m256 0h1"/>
<path class="j26" d="M2 0h1"/>
<path class="j27" d="M4 0h3m73 0h8m2 0h4m135 0h1m27 0h1"/>
<path class="j28" d="M3 0h1m85 0h1m4 0h1m159 0h2m21 0h1"/>
<path class="j29" d="M14 0h1m1 0h2m60 0h2m23 0h1m40 0h1m111 0h1"/>
<path class="j30" d="M7 0h1m1 0h5m1 0h1m3 0h1m7 0h1m114 0h1m67 0h1"/>
<path class="j31" d="M8 0h1m11 0h7m1 0h1m111 0h2m20 0h1m85 0h3"/>
<path class="j32" d="M29 0h3m208 0h1m6 0h1m11 0h2"/>
<path class="j33" d="M18 0h1m83 0h1m33 0h1m1 0h2m85 0h1m13 0h1m1 0h2m9 0h1"/>
<path class="j34" d="M53 0h1m61 0h1m21 0h1m88 0h1m16 0h2"/>
<path class="j35" d="M32 0h3m108 0h1m30 0h1m40 0h1m18 0h5m24 0h1"/>
<path class="j36" d="M35 0h1m65 0h1m8 0h1m5 0h2m52 0h4m1 0h3m2 0h1m3 0h1m1 0h1m7 0h1m3 0h2m9 0h1m35 0h2m15 0h1"/>
<path class="j37" d="M36 0h3m15 0h2m8 0h6m1 0h5m1 0h1m22 0h1m10 0h1m6 0h1m59 0h1m2 0h3m1 0h1m1 0h1m4 0h1"/>
<path class="j38" d="M39 0h3m10 0h1m9 0h2m6 0h1m5 0h1m91 0h2m9 0h1m8 0h1m2 0h1m1 0h1m14 0h1m2 0h1"/>
<path class="j39" d="M42 0h3m2 0h1m57 0h2m15 0h1m22 0h4m1 0h2m7 0h1m6 0h2m21 0h1m17 0h1"/>
<path class="j40" d="M45 0h2m1 0h4m36 0h1m7 0h1m24 0h1m1 0h1m7 0h1m17 0h1m14 0h2m50 0h1"/>
<path class="j41" d="M59 0h2m37 0h1m13 0h1m1 0h1m9 0h1m71 0h2m6 0h2m7 0h1"/>
<path class="j42" d="M57 0h2m2 0h1m51 0h1m11 0h1"/>
<path class="j43" d="M108 0h2m91 0h2"/>
<path class="j44" d="M99 0h1m19 0h1m43 0h1m26 0h1m12 0h1m2 0h1"/>
<path class="j45" d="M95 0h1m11 0h1m12 0h1m96 0h1"/>
<path class="j46" d="M200 0h1"/>
<path class="j47" d="M97 0h1m97 0h1"/>
<path class="j48" d="M160 0h1"/>
<path class="j50" d="M104 0h1"/>
<path class="j54" d="M152 0h1m5 0h1"/>
<path class="j55" d="M56 0h1m104 0h1"/>
<path class="j56" d="M212 0h1"/>
</g>
<g transform="translate(0,2979.83) scale(1,45.412)">
<path class="j1" d="M281 0h5"/>
<path class="j3" d="M280 0h1"/>
<path class="j8" d="M279 0h1"/>
<path class="j9" d="M227 0h1"/>
<path class="j12" d="M261 0h1m13 0h2m1 0h1"/>
<path class="j18" d="M266 0h1"/>
<path class="j19" d="M251 0h1"/>
<path class="j22" d="M258 0h1"/>
<path class="j24" d="M257 0h1"/>
<path class="j25" d="M228 0h1m25 0h3"/>
<path class="j28" d="M1 0h1m227 0h1m17 0h4"/>
<path class="j29" d="M0 0h1m1 0h1m2 0h2m73 0h8m56 0h1m95 0h1"/>
<path class="j30" d="M3 0h2m84 0h6m115 0h1m28 0h1m1 0h4m14 0h2m16 0h1"/>
<path class="j31" d="M103 0h1m38 0h1m109 0h1"/>
<path class="j32" d="M10 0h1m5 0h1m61 0h1m83 0h1"/>
<path class="j33" d="M7 0h3m1 0h5m1 0h1m9 0h1m51 0h1m22 0h1m37 0h2m83 0h1m8 0h4m7 0h2m15 0h2"/>
<path class="j34" d="M20 0h2m4 0h1m88 0h1m68 0h1m1 0h1m39 0h1m11 0h1"/>
<path class="j35" d="M18 0h2m2 0h4m2 0h4m78 0h2m24 0h4m42 0h2m1 0h1m1 0h2m9 0h1m10 0h1m5 0h1"/>
<path class="j36" d="M143 0h1m30 0h1m1 0h2m2 0h2m7 0h1m2 0h3m13 0h1"/>
<path class="j37" d="M117 0h1m52 0h1m1 0h2m1 0h1m2 0h2m11 0h1"/>
<path class="j38" d="M53 0h1m21 0h1m24 0h2m14 0h1m1 0h1m3 0h1m48 0h1m27 0h1m7 0h1m3 0h1"/>
<path class="j39" d="M32 0h4m16 0h1m9 0h1m1 0h2m1 0h3m1 0h4m1 0h2m43 0h1m1 0h1m42 0h4m34 0h1"/>
<path class="j40" d="M36 0h3m15 0h2m7 0h1m2 0h1m3 0h1m17 0h1m56 0h4m15 0h2m39 0h1m10 0h1"/>
<path class="j41" d="M39 0h3m1 0h1m52 0h1m8 0h2m42 0h3m7 0h1m36 0h2m2 0h1m12 0h1"/>
<path class="j42" d="M42 0h1m1 0h1m2 0h1m50 0h1m13 0h3m9 0h1m6 0h1m74 0h1"/>
<path class="j43" d="M45 0h2m1 0h4m47 0h1m25 0h1m75 0h3"/>
<path class="j44" d="M108 0h2m9 0h1m43 0h1m26 0h1m26 0h1"/>
<path class="j45" d="M95 0h1m24 0h1"/>
<path class="j46" d="M57 0h1m1 0h1m37 0h1m9 0h1m52 0h1m34 0h1"/>
<path class="j47" d="M58 0h1m1 0h2"/>
<path class="j51" d="M104 0h1"/>
<path class="j53" d="M158 0h1"/>
<path class="j54" d="M56 0h1m95 0h1m8 0h1"/>
<path class="j58" d="M212 0h1"/>
</g>
<g transform="translate(0,2932.15) scale(1,49.953)">
<path class="j1" d="M283 0h1"/>
<path class="j2" d="M280 0h3m1 0h1"/>
<path class="j3" d="M285 0h1"/>
<path class="j7" d="M279 0h1"/>
<path class="j11" d="M227 0h1"/>
<path class="j12" d="M275 0h2m1 0h1"/>
<path class="j18" d="M261 0h1"/>
<path class="j20" d="M258 0h1"/>
<path class="j21" d="M251 0h1"/>
<path class="j23" d="M255 0h3"/>
<path class="j24" d="M254 0h1"/>
<path class="j25" d="M247 0h4m15 0h1"/>
<path class="j26" d="M228 0h1m10 0h2m1 0h1m17 0h1"/>
<path class="j27" d="M241 0h1m1 0h2m14 0h1"/>
<path class="j28" d="M210 0h1m18 0h1m16 0h1m5 0h1"/>
<path class="j29" d="M245 0h1m17 0h1m13 0h1"/>
<path class="j30" d="M144 0h1m89 0h4m24 0h1"/>
<path class="j31" d="M238 0h1"/>
<path class="j32" d="M80 0h4m1 0h2"/>
<path class="j33" d="M1 0h1m82 0h1m2 0h1m15 0h1m38 0h1m19 0h1m35 0h1m10 0h1m5 0h1m9 0h2"/>
<path class="j34" d="M0 0h1m1 0h5m179 0h1m1 0h1m19 0h1"/>
<path class="j35" d="M90 0h2m1 0h1m8 0h1m12 0h1m24 0h2m42 0h1m2 0h1m1 0h1"/>
<path class="j36" d="M7 0h4m7 0h1m70 0h1m2 0h1m1 0h1m87 0h2m1 0h1m5 0h4m12 0h1m3 0h1"/>
<path class="j37" d="M11 0h2m1 0h3m5 0h1m3 0h2m2 0h2m46 0h1m31 0h1m11 0h1m53 0h1m3 0h2"/>
<path class="j38" d="M13 0h1m3 0h1m1 0h3m1 0h3m2 0h2m49 0h1m20 0h2m9 0h1m9 0h1m1 0h1m12 0h4m3 0h1m28 0h3m2 0h3m24 0h2m10 0h1"/>
<path class="j39" d="M116 0h3m51 0h2m3 0h1m23 0h1"/>
<path class="j40" d="M88 0h1m75 0h6m26 0h2m3 0h3m2 0h1m6 0h1"/>
<path class="j41" d="M52 0h1m9 0h1m1 0h2m7 0h1m1 0h3m20 0h1m47 0h3m51 0h1"/>
<path class="j42" d="M32 0h4m18 0h2m7 0h1m2 0h7m1 0h1m30 0h2m5 0h3m30 0h1m4 0h1m39 0h1m26 0h1"/>
<path class="j43" d="M36 0h3m14 0h1m42 0h1m2 0h1m49 0h1m1 0h1m7 0h1"/>
<path class="j44" d="M39 0h3m1 0h1m64 0h2m9 0h1m4 0h2"/>
<path class="j45" d="M42 0h1m52 0h1m24 0h1"/>
<path class="j46" d="M44 0h8m45 0h1m9 0h1m23 0h1m28 0h1m2 0h1m31 0h1"/>
<path class="j48" d="M57 0h1"/>
<path class="j49" d="M58 0h3"/>
<path class="j50" d="M61 0h1"/>
<path class="j51" d="M104 0h1m53 0h1"/>
<path class="j52" d="M56 0h1m104 0h1"/>
<path class="j54" d="M152 0h1"/>
<path class="j57" d="M212 0h1"/>
</g>
<g transform="translate(0,2879.69) scale(1,54.949)">
<path class="j4" d="M284 0h1"/>
<path class="j5" d="M281 0h1m1 0h1"/>
<path class="j6" d="M280 0h1m1 0h1m2 0h1"/>
<path class="j8" d="M279 0h1"/>
<path class="j12" d="M275 0h2m1 0h1"/>
<path class="j14" d="M227 0h1"/>
<path class="j15" d="M261 0h1"/>
<path class="j19" d="M258 0h1"/>
<path class="j21" d="M251 0h1"/>
<path class="j22" d="M256 0h2"/>
<path class="j23" d="M242 0h1m5 0h2m4 0h2"/>
<path class="j24" d="M239 0h3m1 0h1m3 0h1m2 0h1m9 0h1"/>
<path class="j25" d="M210 0h1m33 0h3m12 0h1"/>
<path class="j26" d="M228 0h1"/>
<path class="j27" d="M229 0h1m6 0h1m15 0h1m24 0h1"/>
<path class="j28" d="M234 0h2m1 0h2m23 0h2"/>
<path class="j29" d="M266 0h1"/>
<path class="j30" d="M198 0h1m10 0h1m5 0h1"/>
<path class="j31" d="M144 0h1m63 0h1m16 0h2"/>
<path class="j33" d="M162 0h1m23 0h1m1 0h1m2 0h3m13 0h1m3 0h1"/>
<path class="j34" d="M187 0h1m1 0h1m4 0h1"/>
<path class="j35" d="M80 0h1m1 0h1m20 0h1m38 0h1m39 0h4m13 0h3m2 0h2"/>
<path class="j36" d="M1 0h1m16 0h1m62 0h1m1 0h5m2 0h2m1 0h1m8 0h1m12 0h1m60 0h1m4 0h1m20 0h2m2 0h1m6 0h1m2 0h1"/>
<path class="j37" d="M0 0h1m1 0h1m86 0h1m2 0h1m1 0h1m45 0h2m30 0h3m2 0h4"/>
<path class="j38" d="M3 0h4m3 0h1m16 0h1m142 0h2m3 0h1"/>
<path class="j39" d="M7 0h3m1 0h2m2 0h2m3 0h4m1 0h2m2 0h3m46 0h2m56 0h4m3 0h1m73 0h1"/>
<path class="j40" d="M13 0h2m2 0h1m1 0h1m4 0h1m3 0h1m59 0h1m11 0h2m19 0h3m66 0h1m5 0h2"/>
<path class="j41" d="M98 0h1m18 0h2m45 0h6"/>
<path class="j42" d="M62 0h4m2 0h1m4 0h1m1 0h3m46 0h1m34 0h1"/>
<path class="j43" d="M66 0h2m1 0h4m1 0h1m30 0h2m9 0h1m28 0h3"/>
<path class="j44" d="M34 0h2m16 0h1m43 0h1m2 0h1m8 0h1m1 0h5m4 0h2m4 0h1m22 0h1m14 0h1"/>
<path class="j45" d="M32 0h2m2 0h5m2 0h1m1 0h1m7 0h3m39 0h1m13 0h1m50 0h1"/>
<path class="j46" d="M41 0h2m1 0h1m1 0h6m45 0h1m9 0h1m41 0h3m6 0h1m36 0h1"/>
<path class="j48" d="M57 0h1m73 0h1"/>
<path class="j49" d="M58 0h1"/>
<path class="j50" d="M59 0h1m101 0h1"/>
<path class="j51" d="M56 0h1m3 0h2"/>
<path class="j52" d="M104 0h1"/>
<path class="j54" d="M152 0h1"/>
<path class="j55" d="M212 0h1"/>
</g>
<g transform="translate(0,2822) scale(1,60.444)">
<path class="j6" d="M284 0h1"/>
<path class="j7" d="M285 0h1"/>
<path class="j8" d="M280 0h4"/>
<path class="j10" d="M279 0h1"/>
<path class="j12" d="M227 0h1"/>
<path class="j14" d="M261 0h1m13 0h2"/>
<path class="j16" d="M278 0h1"/>
<path class="j19" d="M258 0h1"/>
<path class="j21" d="M251 0h1"/>
<path class="j22" d="M256 0h1"/>
<path class="j23" d="M242 0h1m4 0h3m4 0h2m1 0h1"/>
<path class="j24" d="M239 0h3m1 0h2m5 0h1m9 0h1"/>
<path class="j25" d="M210 0h1m18 0h1m15 0h2"/>
<path class="j26" d="M228 0h1m30 0h1m3 0h1"/>
<path class="j27" d="M236 0h1m15 0h1m9 0h1"/>
<path class="j28" d="M234 0h2m1 0h2"/>
<path class="j29" d="M277 0h1"/>
<path class="j30" d="M198 0h1m10 0h1m5 0h1m10 0h1"/>
<path class="j31" d="M208 0h1m16 0h1m40 0h1"/>
<path class="j33" d="M144 0h1m41 0h1m1 0h1m18 0h1m3 0h1"/>
<path class="j34" d="M187 0h1m1 0h1m3 0h2"/>
<path class="j35" d="M18 0h1m143 0h1m19 0h1m1 0h2m5 0h2m11 0h1"/>
<path class="j36" d="M82 0h1m59 0h1m40 0h1m15 0h1m1 0h1m1 0h1m1 0h1m7 0h1m2 0h1"/>
<path class="j37" d="M80 0h2m1 0h1m1 0h2m4 0h1m11 0h1m68 0h1m1 0h1m1 0h1m4 0h1m20 0h1m3 0h1"/>
<path class="j38" d="M84 0h1m2 0h1m2 0h1m1 0h2m8 0h1m12 0h1m54 0h2m1 0h1m1 0h1m1 0h4"/>
<path class="j39" d="M4 0h1m1 0h1m20 0h1m2 0h2m46 0h2m9 0h1m4 0h1m45 0h2m48 0h1m9 0h1m16 0h1"/>
<path class="j40" d="M0 0h4m1 0h1m4 0h1m11 0h1m3 0h1m2 0h1m68 0h1m39 0h1m27 0h4m26 0h2"/>
<path class="j41" d="M11 0h1m3 0h1m4 0h2m1 0h1m1 0h1m2 0h1m59 0h1m11 0h2m20 0h2m12 0h2m1 0h1m3 0h1m15 0h1m4 0h2"/>
<path class="j42" d="M7 0h3m2 0h3m1 0h1m2 0h1m4 0h1m37 0h4m2 0h1m4 0h1m1 0h1m45 0h1"/>
<path class="j43" d="M17 0h1m36 0h1m11 0h2m1 0h4m1 0h1m1 0h2m28 0h1m1 0h1m10 0h1m27 0h1m12 0h1"/>
<path class="j44" d="M34 0h2m19 0h1m39 0h2m2 0h1m5 0h1m3 0h1m6 0h3m1 0h1m3 0h1m20 0h2m1 0h1m14 0h1"/>
<path class="j45" d="M32 0h2m2 0h3m6 0h1m6 0h2m43 0h1m12 0h1m2 0h2"/>
<path class="j46" d="M39 0h2m2 0h2m1 0h5m60 0h2m12 0h1m23 0h3m6 0h1"/>
<path class="j47" d="M41 0h2m8 0h1m55 0h1m87 0h1"/>
<path class="j49" d="M57 0h2"/>
<path class="j50" d="M56 0h1m2 0h1m71 0h1m29 0h1"/>
<path class="j51" d="M60 0h2"/>
<path class="j53" d="M104 0h1"/>
<path class="j54" d="M152 0h1m59 0h1"/>
</g>
<g transform="translate(0,2758.53) scale(1,66.488)">
<path class="j9" d="M284 0h1"/>
<path class="j10" d="M285 0h1"/>
<path class="j12" d="M281 0h1m1 0h1"/>
<path class="j13" d="M280 0h1m1 0h1"/>
<path class="j14" d="M279 0h1"/>
<path class="j15" d="M227 0h1"/>
<path class="j18" d="M278 0h1"/>
<path class="j20" d="M275 0h2"/>
<path class="j21" d="M261 0h1"/>
<path class="j22" d="M258 0h1"/>
<path class="j24" d="M251 0h1"/>
<path class="j25" d="M260 0h1"/>
<path class="j26" d="M242 0h1m5 0h2m5 0h2"/>
<path class="j27" d="M228 0h2m9 0h3m1 0h1m3 0h1m2 0h1m3 0h1m2 0h1m1 0h1"/>
<path class="j28" d="M210 0h1m33 0h1m1 0h1m5 0h1m10 0h1"/>
<path class="j29" d="M245 0h1m16 0h1"/>
<path class="j30" d="M236 0h1"/>
<path class="j31" d="M226 0h1m7 0h2m1 0h1"/>
<path class="j32" d="M238 0h1m27 0h1"/>
<path class="j33" d="M198 0h1m10 0h1m15 0h1"/>
<path class="j34" d="M144 0h1m63 0h1m2 0h1m3 0h1m61 0h1"/>
<path class="j35" d="M194 0h1"/>
<path class="j36" d="M162 0h1m23 0h1m1 0h1m4 0h1m13 0h1"/>
<path class="j37" d="M18 0h1m168 0h1m13 0h1m2 0h1"/>
<path class="j38" d="M142 0h1m33 0h1m5 0h4m3 0h1m1 0h2m6 0h1m2 0h2m1 0h2m6 0h1m2 0h1"/>
<path class="j39" d="M82 0h1m2 0h2m3 0h2m1 0h1m4 0h1m75 0h1m6 0h1"/>
<path class="j40" d="M1 0h1m2 0h3m1 0h1m69 0h4m1 0h2m2 0h1m1 0h1m2 0h1m10 0h1m11 0h1m24 0h2m30 0h2m3 0h4"/>
<path class="j41" d="M0 0h1m1 0h2m3 0h1m1 0h2m11 0h1m3 0h2m3 0h1m30 0h2m30 0h1m7 0h1m67 0h2m3 0h1m14 0h1m5 0h2m2 0h1m16 0h1"/>
<path class="j42" d="M11 0h1m8 0h2m1 0h1m5 0h2m57 0h1m47 0h4m3 0h1m22 0h4"/>
<path class="j43" d="M12 0h1m2 0h2m2 0h1m4 0h2m2 0h1m39 0h1m4 0h1m21 0h1m4 0h2m6 0h1m10 0h1m44 0h2"/>
<path class="j44" d="M13 0h2m19 0h2m18 0h1m9 0h2m1 0h1m2 0h1m3 0h4m19 0h1m1 0h1m9 0h1m8 0h1m1 0h1m1 0h2m22 0h2"/>
<path class="j45" d="M17 0h1m14 0h2m2 0h3m16 0h1m10 0h1m2 0h1m1 0h2m33 0h1m9 0h2m3 0h1m23 0h1m2 0h1m10 0h1"/>
<path class="j46" d="M39 0h2m2 0h1m1 0h1m1 0h1m1 0h1m2 0h2m42 0h1m8 0h1m4 0h1m1 0h3m9 0h1m24 0h3m6 0h1m1 0h1m2 0h1"/>
<path class="j47" d="M41 0h2m1 0h1m1 0h1m1 0h1m1 0h2m59 0h1"/>
<path class="j48" d="M107 0h1m17 0h1m69 0h1"/>
<path class="j50" d="M56 0h4m71 0h1m29 0h1"/>
<path class="j51" d="M60 0h1"/>
<path class="j52" d="M61 0h1"/>
<path class="j53" d="M104 0h1"/>
<path class="j55" d="M212 0h1"/>
<path class="j56" d="M152 0h1"/>
</g>
<g transform="translate(0,2688.72) scale(1,73.137)">
<path class="j14" d="M284 0h1"/>
<path class="j15" d="M285 0h1"/>
<path class="j17" d="M280 0h1m2 0h1"/>
<path class="j18" d="M281 0h1"/>
<path class="j19" d="M279 0h1m2 0h1"/>
<path class="j20" d="M227 0h1"/>
<path class="j23" d="M278 0h1"/>
<path class="j25" d="M261 0h1m13 0h2"/>
<path class="j27" d="M258 0h1"/>
<path class="j28" d="M260 0h1"/>
<path class="j29" d="M251 0h1"/>
<path class="j30" d="M242 0h1m13 0h1m2 0h1"/>
<path class="j31" d="M239 0h3m1 0h1m3 0h3m2 0h1m1 0h2m1 0h1m5 0h1"/>
<path class="j32" d="M229 0h1m14 0h1m5 0h1m11 0h1"/>
<path class="j33" d="M210 0h1m34 0h2"/>
<path class="j34" d="M228 0h1m7 0h1m29 0h1"/>
<path class="j35" d="M234 0h2m1 0h1"/>
<path class="j36" d="M226 0h1m11 0h1"/>
<path class="j37" d="M277 0h1"/>
<path class="j38" d="M144 0h1m53 0h1m26 0h1"/>
<path class="j39" d="M18 0h1m143 0h1m36 0h1m8 0h1"/>
<path class="j40" d="M204 0h1m2 0h1m1 0h1m1 0h1m3 0h1"/>
<path class="j41" d="M62 0h1m28 0h1m1 0h1m48 0h1m43 0h1m1 0h1m5 0h1m8 0h1m1 0h1m7 0h1m2 0h1"/>
<path class="j42" d="M63 0h1m14 0h2m2 0h1m6 0h2m1 0h1m5 0h1m41 0h2m34 0h1m10 0h1m1 0h1m3 0h1m7 0h1"/>
<path class="j43" d="M4 0h1m1 0h1m1 0h1m1 0h2m3 0h1m64 0h2m1 0h5m6 0h2m6 0h2m11 0h1m27 0h1m28 0h1m1 0h1m7 0h1m17 0h1m1 0h1m3 0h1m10 0h1"/>
<path class="j44" d="M0 0h4m1 0h1m1 0h1m1 0h1m2 0h1m1 0h1m1 0h1m5 0h1m3 0h2m2 0h2m106 0h1m27 0h2m5 0h1m3 0h2m2 0h1m1 0h3m5 0h2"/>
<path class="j45" d="M13 0h1m6 0h2m1 0h1m1 0h1m2 0h2m24 0h2m32 0h1m8 0h1m10 0h1m10 0h1m16 0h2m1 0h1m24 0h2m2 0h4m3 0h1m3 0h2m9 0h1m5 0h2"/>
<path class="j46" d="M17 0h1m1 0h1m4 0h1m7 0h4m28 0h2m2 0h1m4 0h1m1 0h1m23 0h3m7 0h1m6 0h3m1 0h1m2 0h1"/>
<path class="j47" d="M36 0h3m27 0h2m2 0h2m4 0h2m18 0h1m24 0h2"/>
<path class="j48" d="M39 0h2m2 0h1m1 0h1m6 0h2m15 0h1m2 0h1m1 0h1m31 0h1m7 0h1m31 0h3m9 0h2"/>
<path class="j49" d="M41 0h2m1 0h1m1 0h5m54 0h1m4 0h4m10 0h1m20 0h1m17 0h1"/>
<path class="j50" d="M51 0h1m55 0h1m17 0h1m23 0h3m8 0h1"/>
<path class="j51" d="M56 0h1m74 0h1m63 0h1"/>
<path class="j52" d="M58 0h3"/>
<path class="j53" d="M57 0h1m3 0h1m99 0h1"/>
<path class="j54" d="M104 0h1m107 0h1"/>
<path class="j56" d="M152 0h1"/>
</g>
<g transform="translate(0,2611.93) scale(1,80.45)">
<path class="j20" d="M284 0h1"/>
<path class="j22" d="M283 0h1m1 0h1"/>
<path class="j23" d="M280 0h1"/>
<path class="j24" d="M281 0h1"/>
<path class="j25" d="M279 0h1m2 0h1"/>
<path class="j27" d="M278 0h1"/>
<path class="j30" d="M227 0h1"/>
<path class="j31" d="M275 0h2"/>
<path class="j32" d="M261 0h1"/>
<path class="j33" d="M251 0h1"/>
<path class="j34" d="M266 0h1"/>
<path class="j35" d="M260 0h1"/>
<path class="j36" d="M252 0h1m3 0h1m1 0h1"/>
<path class="j37" d="M248 0h2m4 0h2m1 0h1m1 0h1m3 0h1"/>
<path class="j38" d="M229 0h1m10 0h4m3 0h1m2 0h1m11 0h1"/>
<path class="j39" d="M244 0h1"/>
<path class="j40" d="M144 0h1m65 0h1m17 0h1m7 0h2"/>
<path class="j41" d="M162 0h1m71 0h2m2 0h2m6 0h1"/>
<path class="j42" d="M209 0h1m35 0h1"/>
<path class="j43" d="M199 0h1m8 0h1m16 0h2"/>
<path class="j44" d="M18 0h1m123 0h1m45 0h1m9 0h1m8 0h1m69 0h1"/>
<path class="j45" d="M82 0h1m8 0h1m1 0h1m1 0h1m2 0h1m41 0h2m47 0h1m25 0h1"/>
<path class="j46" d="M80 0h2m1 0h1m1 0h3m1 0h2m1 0h1m4 0h1m17 0h1m70 0h2m16 0h1m6 0h1m1 0h1m2 0h1"/>
<path class="j47" d="M1 0h2m1 0h3m1 0h1m13 0h1m4 0h1m34 0h1m15 0h1m5 0h1m9 0h1m7 0h1m5 0h1m27 0h4m3 0h1m38 0h1m7 0h1m2 0h2m5 0h4m1 0h1"/>
<path class="j48" d="M0 0h1m2 0h1m3 0h1m1 0h3m3 0h1m4 0h2m1 0h1m2 0h1m3 0h2m31 0h1m15 0h1m8 0h1m10 0h1m3 0h1m5 0h1m56 0h2m4 0h1m1 0h1m1 0h1m1 0h1m1 0h2m1 0h3m31 0h1"/>
<path class="j49" d="M12 0h1m1 0h1m1 0h1m2 0h1m4 0h2m2 0h2m22 0h1m22 0h1m40 0h3m39 0h1m6 0h1m2 0h4m1 0h1m3 0h1m1 0h1m26 0h1"/>
<path class="j50" d="M13 0h1m18 0h4m18 0h2m8 0h2m2 0h1m4 0h1m2 0h2m18 0h1m22 0h1m44 0h1m10 0h1m20 0h2"/>
<path class="j51" d="M17 0h1m18 0h5m3 0h2m1 0h1m1 0h2m2 0h1m12 0h2m1 0h4m1 0h1m25 0h2m12 0h1m5 0h1m1 0h2m67 0h2"/>
<path class="j52" d="M41 0h3m2 0h1m1 0h1m2 0h1m4 0h1m49 0h1m3 0h4m7 0h1m2 0h1m21 0h3m10 0h1m3 0h1"/>
<path class="j53" d="M105 0h1m1 0h1m17 0h1m5 0h1m13 0h1m3 0h3"/>
<path class="j54" d="M160 0h2"/>
<path class="j55" d="M57 0h3m135 0h1"/>
<path class="j56" d="M60 0h1m43 0h1m47 0h1m59 0h1"/>
<path class="j57" d="M61 0h1"/>
</g>
<g transform="translate(0,2561.5) scale(1,20.402)">
<path class="j29" d="M283 0h2"/>
<path class="j31" d="M227 0h1m54 0h1m2 0h1"/>
<path class="j32" d="M280 0h2"/>
<path class="j33" d="M278 0h2"/>
<path class="j35" d="M275 0h2"/>
<path class="j36" d="M261 0h1"/>
<path class="j38" d="M251 0h1m8 0h1"/>
<path class="j39" d="M252 0h1m3 0h4m6 0h1"/>
<path class="j40" d="M254 0h2"/>
<path class="j41" d="M248 0h2m13 0h1"/>
<path class="j42" d="M242 0h3m2 0h1m2 0h1m11 0h1"/>
<path class="j43" d="M210 0h1m18 0h1m9 0h3m4 0h1"/>
<path class="j44" d="M162 0h1m63 0h1m1 0h1m5 0h1m1 0h2m7 0h1"/>
<path class="j45" d="M18 0h1m125 0h1m90 0h1m41 0h1"/>
<path class="j46" d="M95 0h1m46 0h1m55 0h2m8 0h2m15 0h1m12 0h1"/>
<path class="j47" d="M98 0h1m16 0h1m24 0h2"/>
<path class="j48" d="M82 0h1m2 0h1m5 0h1m1 0h1m3 0h1m38 0h1m70 0h1"/>
<path class="j49" d="M1 0h2m1 0h7m11 0h1m4 0h1m50 0h1m1 0h2m1 0h2m1 0h2m1 0h2m3 0h1m42 0h3m3 0h1m14 0h1m35 0h1m6 0h5m5 0h1m1 0h1"/>
<path class="j50" d="M0 0h1m2 0h1m7 0h1m8 0h1m2 0h1m2 0h1m3 0h2m30 0h1m16 0h1m8 0h1m3 0h1m6 0h1m2 0h1m13 0h1m69 0h1m1 0h1m4 0h1"/>
<path class="j51" d="M12 0h1m1 0h3m2 0h1m1 0h1m3 0h1m2 0h2m22 0h1m1 0h2m7 0h2m10 0h1m32 0h2m7 0h2m53 0h3m1 0h3m1 0h1m1 0h4m1 0h1m1 0h2m9 0h1m5 0h1m8 0h3"/>
<path class="j52" d="M13 0h1m10 0h1m40 0h1m1 0h2m1 0h2m1 0h2m1 0h2m23 0h1m1 0h1m7 0h1m2 0h1m4 0h1m39 0h1m5 0h7m3 0h1m3 0h1m1 0h1"/>
<path class="j53" d="M17 0h1m14 0h4m9 0h1m1 0h1m5 0h1m12 0h1m2 0h1m2 0h1m23 0h1m3 0h1m9 0h1m1 0h2m6 0h1m1 0h2m24 0h1m14 0h2m26 0h2m3 0h2"/>
<path class="j54" d="M36 0h6m2 0h1m1 0h1m1 0h4m4 0h1m49 0h2m13 0h1m2 0h2m5 0h1m13 0h3m2 0h2m8 0h1"/>
<path class="j55" d="M42 0h2m61 0h1m43 0h1m2 0h1m8 0h1"/>
<path class="j56" d="M104 0h1m90 0h1"/>
<path class="j57" d="M57 0h4"/>
<path class="j58" d="M61 0h1m150 0h1"/>
</g>
</g>
<g fill="#000">
<circle cx="383.72" cy="3182.21" r="3.9"/><circle cx="392.85" cy="3180.18" r="3.9"/><circle cx="401.98" cy="3180.18" r="3.9"/><circle cx="411.11" cy="3187.39" r="3.9"/><circle cx="420.24" cy="3234.49" r="3.9"/><circle cx="429.37" cy="3248.46" r="3.9"/><circle cx="438.5" cy="3259.27" r="3.9"/><circle cx="447.63" cy="3261.75" r="3.9"/><circle cx="456.76" cy="3277.3" r="3.9"/><circle cx="465.89" cy="3299.83" r="3.9"/><circle cx="475.02" cy="3306.81" r="3.9"/><circle cx="484.15" cy="3306.81" r="3.9"/><circle cx="493.28" cy="3239.22" r="3.9"/><circle cx="502.41" cy="3227.95" r="3.9"/><circle cx="511.54" cy="3223.22" r="3.9"/><circle cx="520.67" cy="3220.74" r="3.9"/><circle cx="529.8" cy="3241.7" r="3.9"/><circle cx="538.93" cy="3248.46" r="3.9"/><circle cx="548.06" cy="3248.46" r="3.9"/><circle cx="557.19" cy="3239.22" r="3.9"/><circle cx="566.33" cy="3227.95" r="3.9"/><circle cx="575.46" cy="3225.7" r="3.9"/><circle cx="584.59" cy="3225.7" r="3.9"/><circle cx="593.72" cy="3225.7" r="3.9"/><circle cx="602.85" cy="3225.7" r="3.9"/><circle cx="611.98" cy="3218.71" r="3.9"/><circle cx="621.11" cy="3209.47" r="3.9"/><circle cx="630.24" cy="3207.45" r="3.9"/><circle cx="639.37" cy="3207.45" r="3.9"/><circle cx="648.5" cy="3212.4" r="3.9"/><circle cx="657.63" cy="3214.43" r="3.9"/><circle cx="666.76" cy="3214.43" r="3.9"/><circle cx="675.89" cy="3212.4" r="3.9"/><circle cx="685.02" cy="3212.4" r="3.9"/><circle cx="694.15" cy="3212.4" r="3.9"/><circle cx="703.28" cy="3212.4" r="3.9"/><circle cx="712.41" cy="3218.71" r="3.9"/><circle cx="721.54" cy="3221.19" r="3.9"/><circle cx="730.67" cy="3223.22" r="3.9"/><circle cx="739.8" cy="3225.7" r="3.9"/><circle cx="748.94" cy="3220.74" r="3.9"/><circle cx="758.07" cy="3218.71" r="3.9"/><circle cx="767.2" cy="3221.19" r="3.9"/><circle cx="776.33" cy="3213.98" r="3.9"/><circle cx="785.46" cy="3202.71" r="3.9"/><circle cx="794.59" cy="3198.21" r="3.9"/><circle cx="803.72" cy="3198.21" r="3.9"/><circle cx="812.85" cy="3198.21" r="3.9"/><circle cx="821.98" cy="3200.46" r="3.9"/><circle cx="831.11" cy="3202.71" r="3.9"/><circle cx="840.24" cy="3202.71" r="3.9"/><circle cx="849.37" cy="3319.66" r="3.9"/><circle cx="858.5" cy="3308.39" r="3.9"/><circle cx="867.63" cy="3238.54" r="3.9"/><circle cx="876.76" cy="3274.59" r="3.9"/><circle cx="885.89" cy="3279.1" r="3.9"/><circle cx="895.02" cy="3306.36" r="3.9"/><circle cx="904.15" cy="3310.87" r="3.9"/><circle cx="913.28" cy="3308.39" r="3.9"/><circle cx="922.41" cy="3294.87" r="3.9"/><circle cx="931.55" cy="3294.87" r="3.9"/><circle cx="940.68" cy="3263.33" r="3.9"/><circle cx="949.81" cy="3229.3" r="3.9"/><circle cx="958.94" cy="3225.25" r="3.9"/><circle cx="968.07" cy="3225.25" r="3.9"/><circle cx="977.2" cy="3220.06" r="3.9"/><circle cx="986.33" cy="3204.74" r="3.9"/><circle cx="995.46" cy="3204.74" r="3.9"/><circle cx="1004.59" cy="3207.22" r="3.9"/><circle cx="1013.72" cy="3211.73" r="3.9"/><circle cx="1022.85" cy="3216.01" r="3.9"/><circle cx="1031.98" cy="3213.98" r="3.9"/><circle cx="1041.11" cy="3209.25" r="3.9"/><circle cx="1050.24" cy="3204.74" r="3.9"/><circle cx="1059.37" cy="3204.74" r="3.9"/><circle cx="1068.5" cy="3209.25" r="3.9"/><circle cx="1077.63" cy="3209.25" r="3.9"/><circle cx="1086.76" cy="3205.19" r="3.9"/><circle cx="1095.89" cy="3206.77" r="3.9"/><circle cx="1105.02" cy="3204.74" r="3.9"/><circle cx="1114.16" cy="3202.71" r="3.9"/><circle cx="1123.29" cy="3206.77" r="3.9"/><circle cx="1132.42" cy="3206.77" r="3.9"/><circle cx="1141.55" cy="3209.25" r="3.9"/><circle cx="1150.68" cy="3213.98" r="3.9"/><circle cx="1159.81" cy="3213.98" r="3.9"/><circle cx="1168.94" cy="3224.8" r="3.9"/><circle cx="1178.07" cy="3222.77" r="3.9"/><circle cx="1187.2" cy="3216.01" r="3.9"/><circle cx="1196.33" cy="3216.01" r="3.9"/><circle cx="1205.46" cy="3202.71" r="3.9"/><circle cx="1214.59" cy="3202.71" r="3.9"/><circle cx="1223.72" cy="3202.71" r="3.9"/><circle cx="1232.85" cy="3197.98" r="3.9"/><circle cx="1241.98" cy="3209.25" r="3.9"/><circle cx="1251.11" cy="3229.3" r="3.9"/><circle cx="1260.24" cy="3254.09" r="3.9"/><circle cx="1269.37" cy="3267.83" r="3.9"/><circle cx="1278.5" cy="3251.84" r="3.9"/><circle cx="1287.63" cy="3243.05" r="3.9"/><circle cx="1296.77" cy="3247.78" r="3.9"/><circle cx="1305.9" cy="3267.83" r="3.9"/><circle cx="1315.03" cy="3261.07" r="3.9"/><circle cx="1324.16" cy="3267.83" r="3.9"/><circle cx="1333.29" cy="3267.83" r="3.9"/><circle cx="1342.42" cy="3265.81" r="3.9"/><circle cx="1351.55" cy="3263.33" r="3.9"/><circle cx="1360.68" cy="3247.78" r="3.9"/><circle cx="1369.81" cy="3222.77" r="3.9"/><circle cx="1378.94" cy="3222.77" r="3.9"/><circle cx="1388.07" cy="3234.03" r="3.9"/><circle cx="1397.2" cy="3243.05" r="3.9"/><circle cx="1406.33" cy="3265.81" r="3.9"/><circle cx="1415.46" cy="3272.34" r="3.9"/><circle cx="1424.59" cy="3240.57" r="3.9"/><circle cx="1433.72" cy="3231.56" r="3.9"/><circle cx="1442.85" cy="3234.03" r="3.9"/><circle cx="1451.98" cy="3243.05" r="3.9"/><circle cx="1461.11" cy="3236.06" r="3.9"/><circle cx="1470.24" cy="3247.78" r="3.9"/><circle cx="1479.38" cy="3231.56" r="3.9"/><circle cx="1488.51" cy="3269.86" r="3.9"/><circle cx="1497.64" cy="3285.86" r="3.9"/><circle cx="1506.77" cy="3292.39" r="3.9"/><circle cx="1515.9" cy="3299.15" r="3.9"/><circle cx="1525.03" cy="3330.92" r="3.9"/><circle cx="1579.81" cy="3261.07" r="2.6"/><circle cx="1625.46" cy="3150.44" r="3.9"/><circle cx="1634.59" cy="3156.97" r="3.9"/><circle cx="1643.72" cy="3161.71" r="3.9"/><circle cx="1652.85" cy="3164.18" r="3.9"/><circle cx="1661.99" cy="3166.21" r="3.9"/><circle cx="1671.12" cy="3172.97" r="3.9"/><circle cx="1680.25" cy="3166.21" r="3.9"/><circle cx="1689.38" cy="3175.45" r="3.9"/><circle cx="1698.51" cy="3184.24" r="3.9"/><circle cx="1707.64" cy="3188.74" r="3.9"/><circle cx="1716.77" cy="3204.74" r="3.9"/><circle cx="1725.9" cy="3231.78" r="3.9"/><circle cx="1735.03" cy="3274.59" r="3.9"/><circle cx="1744.16" cy="3312.9" r="3.9"/><circle cx="1753.29" cy="3324.16" r="3.9"/><circle cx="1762.42" cy="3335.43" r="3.9"/><circle cx="1771.55" cy="3337.68" r="3.9"/><circle cx="1826.33" cy="3297.13" r="3.9"/><circle cx="1835.46" cy="3335.43" r="3.9"/><circle cx="1844.6" cy="3324.16" r="3.9"/><circle cx="1853.73" cy="3312.9" r="3.9"/><circle cx="1862.86" cy="3312.9" r="3.9"/><circle cx="1871.99" cy="3290.37" r="3.9"/><circle cx="1881.12" cy="3323.04" r="3.9"/><circle cx="1890.25" cy="3332.95" r="3.9"/><circle cx="1899.38" cy="3326.42" r="3.9"/><circle cx="1908.51" cy="3332.95" r="3.9"/><circle cx="1917.64" cy="3324.16" r="3.9"/><circle cx="1926.77" cy="3299.15" r="3.9"/><circle cx="1935.9" cy="3130.39" r="3.9"/><circle cx="1945.03" cy="3125.65" r="3.9"/><circle cx="1954.16" cy="3125.65" r="3.9"/><circle cx="1963.29" cy="3127.91" r="3.9"/><circle cx="1972.42" cy="3125.65" r="3.9"/><circle cx="1981.55" cy="3119.12" r="3.9"/><circle cx="1990.68" cy="3116.87" r="3.9"/><circle cx="1999.81" cy="3105.6" r="3.9"/><circle cx="2008.94" cy="3101.09" r="3.9"/><circle cx="2018.07" cy="3096.59" r="3.9"/><circle cx="2027.21" cy="3096.59" r="3.9"/><circle cx="2036.34" cy="3099.07" r="3.9"/><circle cx="2045.47" cy="3101.54" r="3.9"/><circle cx="2054.6" cy="3107.85" r="3.9"/><circle cx="2063.73" cy="3116.64" r="3.9"/><circle cx="2072.86" cy="3125.65" r="3.9"/><circle cx="2081.99" cy="3130.39" r="3.9"/><circle cx="2091.12" cy="3139.62" r="3.9"/><circle cx="2100.25" cy="3162.16" r="3.9"/><circle cx="2109.38" cy="3175.45" r="3.9"/><circle cx="2118.51" cy="3195.5" r="3.9"/><circle cx="2127.64" cy="3200.01" r="3.9"/><circle cx="2136.77" cy="3220.52" r="3.9"/><circle cx="2145.9" cy="3245.3" r="3.9"/><circle cx="2155.03" cy="3091.85" r="3.9"/><circle cx="2182.42" cy="3231.56" r="3.9"/><circle cx="2191.55" cy="3161.71" r="3.9"/><circle cx="2200.68" cy="3159.68" r="3.9"/><circle cx="2209.82" cy="3150.44" r="3.9"/><circle cx="2218.95" cy="3108.98" r="3.9"/><circle cx="2228.08" cy="3128.13" r="3.9"/><circle cx="2237.21" cy="3128.13" r="3.9"/><circle cx="2246.34" cy="3125.65" r="3.9"/><circle cx="2255.47" cy="3142.78" r="3.9"/><circle cx="2264.6" cy="3088.47" r="3.9"/><circle cx="2273.73" cy="3306.59" r="3.9"/><circle cx="2282.86" cy="3315.83" r="3.9"/><circle cx="2291.99" cy="3272.79" r="3.9"/><circle cx="2301.12" cy="3272.34" r="3.9"/><circle cx="2310.25" cy="3256.57" r="3.9"/><circle cx="2319.38" cy="3258.6" r="3.9"/><circle cx="2328.51" cy="3224.8" r="3.9"/><circle cx="2346.77" cy="3149.09" r="3.9"/><circle cx="2355.9" cy="3168.69" r="3.9"/><circle cx="2365.03" cy="3200.01" r="3.9"/><circle cx="2438.08" cy="3179.96" r="3.9"/><circle cx="2447.21" cy="3195.5" r="3.9"/><circle cx="2456.34" cy="3335.21" r="3.9"/><circle cx="2465.47" cy="3366.98" r="3.9"/><circle cx="2474.6" cy="3378.24" r="3.9"/><circle cx="2520.25" cy="3107.85" r="3.9"/><circle cx="2529.38" cy="3095.23" r="3.9"/><circle cx="2538.51" cy="3109.88" r="3.9"/><circle cx="2547.64" cy="3191" r="3.9"/><circle cx="2556.77" cy="3216.01" r="3.9"/><circle cx="2565.9" cy="3191" r="3.9"/><circle cx="2575.04" cy="3175.45" r="3.9"/><circle cx="2584.17" cy="3152.92" r="3.9"/><circle cx="2593.3" cy="3076.08" r="3.9"/><circle cx="2602.43" cy="3152.92" r="3.9"/><circle cx="2611.56" cy="3157.42" r="3.9"/><circle cx="2620.69" cy="3033.27" r="3.9"/><circle cx="2629.82" cy="2998.34" r="3.9"/><circle cx="2638.95" cy="2994.96" r="3.9"/><circle cx="2648.08" cy="3022" r="3.9"/><circle cx="2657.21" cy="3229.3" r="3.9"/><circle cx="2666.34" cy="3238.54" r="3.9"/><circle cx="2675.47" cy="3256.57" r="3.9"/><circle cx="2684.6" cy="3279.1" r="3.9"/><circle cx="2702.86" cy="2981.67" r="3.9"/><circle cx="2711.99" cy="2980.32" r="3.9"/><circle cx="2721.12" cy="2988.21" r="3.9"/><circle cx="2730.25" cy="3000.82" r="3.9"/><circle cx="2739.38" cy="3128.13" r="3.9"/><circle cx="2748.51" cy="3015.47" r="3.9"/><circle cx="2757.65" cy="3179.96" r="3.9"/><circle cx="2766.78" cy="3213.98" r="3.9"/><circle cx="2775.91" cy="3170.94" r="3.9"/><circle cx="2785.04" cy="3164.18" r="3.9"/><circle cx="2812.43" cy="3236.06" r="2.6"/><circle cx="2894.6" cy="3218.04" r="3.9"/><circle cx="2903.73" cy="3220.52" r="3.9"/><circle cx="2912.86" cy="3202.26" r="3.9"/><circle cx="2921.99" cy="3078.56" r="3.9"/><circle cx="2931.12" cy="3049.27" r="3.9"/><circle cx="2940.26" cy="3039.13" r="3.9"/><circle cx="2949.39" cy="2990.68" r="3.9"/><circle cx="2958.52" cy="3193.48" r="3.9"/>
</g>
<circle cx="2522.3" cy="2716.4" r="3.9" fill="#000"/>
<text font-size="38.2" fill="#000" x="2636.5" y="2729.6">Cloud Base OE</text>
<g font-size="44.3" fill="#0072bd" text-anchor="end">
<text x="349.2" y="3469.2">0</text>
<text x="349.2" y="3356.54">0.5</text>
<text x="349.2" y="3243.88">1</text>
<text x="349.2" y="3131.21">1.5</text>
<text x="349.2" y="3018.55">2</text>
<text x="349.2" y="2905.89">2.5</text>
<text x="349.2" y="2793.23">3</text>
<text x="349.2" y="2680.56">3.5</text>
<text x="349.2" y="2567.9">4</text>
</g>
<g font-size="44.3" fill="#262626" text-anchor="middle">
<text x="372.9" y="3518.7">0</text>
<text x="921.02" y="3518.7">5</text>
<text x="1469.15" y="3518.7">10</text>
<text x="2017.28" y="3518.7">15</text>
<text x="2565.4" y="3518.7">20</text>
</g>
<text font-size="44.7" fill="#262626" text-anchor="middle" x="1689.9" y="3582.6">UTC hours on 20240516</text>
<text font-size="44.4" fill="#0072bd" text-anchor="middle" transform="translate(244.8,3005.55) rotate(-90)">Altitude, km AMSL</text>
<g shape-rendering="crispEdges">
<rect fill="#00008f" x="3068.2" y="3432.51" width="140.4" height="14.49"/>
<rect fill="#00009f" x="3068.2" y="3418.53" width="140.4" height="14.49"/>
<rect fill="#0000af" x="3068.2" y="3404.54" width="140.4" height="14.49"/>
<rect fill="#0000bf" x="3068.2" y="3390.56" width="140.4" height="14.49"/>
<rect fill="#0000cf" x="3068.2" y="3376.57" width="140.4" height="14.49"/>
<rect fill="#0000df" x="3068.2" y="3362.58" width="140.4" height="14.49"/>
<rect fill="#0000ef" x="3068.2" y="3348.6" width="140.4" height="14.49"/>
<rect fill="#0000ff" x="3068.2" y="3334.61" width="140.4" height="14.49"/>
<rect fill="#0010ff" x="3068.2" y="3320.63" width="140.4" height="14.49"/>
<rect fill="#0020ff" x="3068.2" y="3306.64" width="140.4" height="14.49"/>
<rect fill="#0030ff" x="3068.2" y="3292.65" width="140.4" height="14.49"/>
<rect fill="#0040ff" x="3068.2" y="3278.67" width="140.4" height="14.49"/>
<rect fill="#0050ff" x="3068.2" y="3264.68" width="140.4" height="14.49"/>
<rect fill="#0060ff" x="3068.2" y="3250.7" width="140.4" height="14.49"/>
<rect fill="#0070ff" x="3068.2" y="3236.71" width="140.4" height="14.49"/>
<rect fill="#0080ff" x="3068.2" y="3222.72" width="140.4" height="14.49"/>
<rect fill="#008fff" x="3068.2" y="3208.74" width="140.4" height="14.49"/>
<rect fill="#009fff" x="3068.2" y="3194.75" width="140.4" height="14.49"/>
<rect fill="#00afff" x="3068.2" y="3180.77" width="140.4" height="14.49"/>
<rect fill="#00bfff" x="3068.2" y="3166.78" width="140.4" height="14.49"/>
<rect fill="#00cfff" x="3068.2" y="3152.8" width="140.4" height="14.49"/>
<rect fill="#00dfff" x="3068.2" y="3138.81" width="140.4" height="14.49"/>
<rect fill="#00efff" x="3068.2" y="3124.82" width="140.4" height="14.49"/>
<rect fill="#00ffff" x="3068.2" y="3110.84" width="140.4" height="14.49"/>
<rect fill="#10ffef" x="3068.2" y="3096.85" width="140.4" height="14.49"/>
<rect fill="#20ffdf" x="3068.2" y="3082.87" width="140.4" height="14.49"/>
<rect fill="#30ffcf" x="3068.2" y="3068.88" width="140.4" height="14.49"/>
<rect fill="#40ffbf" x="3068.2" y="3054.89" width="140.4" height="14.49"/>
<rect fill="#50ffaf" x="3068.2" y="3040.91" width="140.4" height="14.49"/>
<rect fill="#60ff9f" x="3068.2" y="3026.92" width="140.4" height="14.49"/>
<rect fill="#70ff8f" x="3068.2" y="3012.94" width="140.4" height="14.49"/>
<rect fill="#80ff80" x="3068.2" y="2998.95" width="140.4" height="14.49"/>
<rect fill="#8fff70" x="3068.2" y="2984.96" width="140.4" height="14.49"/>
<rect fill="#9fff60" x="3068.2" y="2970.98" width="140.4" height="14.49"/>
<rect fill="#afff50" x="3068.2" y="2956.99" width="140.4" height="14.49"/>
<rect fill="#bfff40" x="3068.2" y="2943.01" width="140.4" height="14.49"/>
<rect fill="#cfff30" x="3068.2" y="2929.02" width="140.4" height="14.49"/>
<rect fill="#dfff20" x="3068.2" y="2915.03" width="140.4" height="14.49"/>
<rect fill="#efff10" x="3068.2" y="2901.05" width="140.4" height="14.49"/>
<rect fill="#ffff00" x="3068.2" y="2887.06" width="140.4" height="14.49"/>
<rect fill="#ffef00" x="3068.2" y="2873.08" width="140.4" height="14.49"/>
<rect fill="#ffdf00" x="3068.2" y="2859.09" width="140.4" height="14.49"/>
<rect fill="#ffcf00" x="3068.2" y="2845.1" width="140.4" height="14.49"/>
<rect fill="#ffbf00" x="3068.2" y="2831.12" width="140.4" height="14.49"/>
<rect fill="#ffaf00" x="3068.2" y="2817.13" width="140.4" height="14.49"/>
<rect fill="#ff9f00" x="3068.2" y="2803.15" width="140.4" height="14.49"/>
<rect fill="#ff8f00" x="3068.2" y="2789.16" width="140.4" height="14.49"/>
<rect fill="#ff8000" x="3068.2" y="2775.18" width="140.4" height="14.49"/>
<rect fill="#ff7000" x="3068.2" y="2761.19" width="140.4" height="14.49"/>
<rect fill="#ff6000" x="3068.2" y="2747.2" width="140.4" height="14.49"/>
<rect fill="#ff5000" x="3068.2" y="2733.22" width="140.4" height="14.49"/>
<rect fill="#ff4000" x="3068.2" y="2719.23" width="140.4" height="14.49"/>
<rect fill="#ff3000" x="3068.2" y="2705.25" width="140.4" height="14.49"/>
<rect fill="#ff2000" x="3068.2" y="2691.26" width="140.4" height="14.49"/>
<rect fill="#ff1000" x="3068.2" y="2677.27" width="140.4" height="14.49"/>
<rect fill="#ff0000" x="3068.2" y="2663.29" width="140.4" height="14.49"/>
<rect fill="#ef0000" x="3068.2" y="2649.3" width="140.4" height="14.49"/>
<rect fill="#df0000" x="3068.2" y="2635.32" width="140.4" height="14.49"/>
<rect fill="#cf0000" x="3068.2" y="2621.33" width="140.4" height="14.49"/>
<rect fill="#bf0000" x="3068.2" y="2607.34" width="140.4" height="14.49"/>
<rect fill="#af0000" x="3068.2" y="2593.36" width="140.4" height="14.49"/>
<rect fill="#9f0000" x="3068.2" y="2579.37" width="140.4" height="14.49"/>
<rect fill="#8f0000" x="3068.2" y="2565.39" width="140.4" height="14.49"/>
<rect fill="#800000" x="3068.2" y="2551.4" width="140.4" height="14.49"/>
</g>
<rect x="3068.2" y="2551.4" width="140.4" height="895.1" fill="none" stroke="#262626" stroke-width="2.6"/>
<path d="M3208.6 3407.5h-10.5M3208.6 3316.81h-10.5M3208.6 3226.13h-10.5M3208.6 3135.44h-10.5M3208.6 3044.75h-10.5M3208.6 2954.06h-10.5M3208.6 2863.37h-10.5M3208.6 2772.68h-10.5M3208.6 2681.99h-10.5M3208.6 2591.3h-10.5" stroke="#262626" stroke-width="2" fill="none"/>
<g font-size="38.2" fill="#262626">
<text x="3229.2" y="3420.7">292</text>
<text x="3229.2" y="3330.01">294</text>
<text x="3229.2" y="3239.33">296</text>
<text x="3229.2" y="3148.64">298</text>
<text x="3229.2" y="3057.95">300</text>
<text x="3229.2" y="2967.26">302</text>
<text x="3229.2" y="2876.57">304</text>
<text x="3229.2" y="2785.88">306</text>
<text x="3229.2" y="2695.19">308</text>
<text x="3229.2" y="2604.5">310</text>
</g>
<text font-size="39.0" fill="#262626" text-anchor="middle" transform="translate(3360.5,3005.8) rotate(-90)">Equivalent Potential Temperature (<tspan font-style="italic" font-size="33">θ</tspan><tspan font-size="31" dy="11">E</tspan><tspan dy="-11" dx="5">), K</tspan></text>
</g>
<g id="panel4">
<g stroke="#262626" stroke-width="2" fill="none">
<path d="M373.4 4575.8H3006.4"/>
<path d="M922.52 4575.8v-26.3M1470.65 4575.8v-26.3M2018.78 4575.8v-26.3M2566.9 4575.8v-26.3"/>
</g>
<g stroke="#0072bd" stroke-width="2" fill="none">
<path d="M374.4 3674V4576.8"/>
<path stroke-width="1.8" d="M3005.4 3674.5V4576.8"/>
<path d="M374.4 4505.66h27.3M374.4 4412.57h27.3M374.4 4319.48h27.3M374.4 4226.39h27.3M374.4 4133.3h27.3M374.4 4040.21h27.3M374.4 3947.11h27.3M374.4 3854.02h27.3M374.4 3760.93h27.3"/>
</g>
<path d="M383.7 3720L392.8 3762.9L402 3757.3L411.1 3736.8L420.2 3766.6L429.4 3797.3L438.5 3741.5L447.6 3757.3L456.8 3744.2L465.9 3780.5L475 3813.1L484.2 3746.1L493.3 3716.3L502.4 3757.3L511.5 3769.4L520.7 3797.3L529.8 3771.2L538.9 3831.7L548.1 3893.2L557.2 3750.8L566.3 3822.4L575.5 3790.8L584.6 3797.3L593.7 3804.8L602.8 3794.5L612 3802L621.1 3823.4L630.2 3859.7L639.4 3869.9L648.5 3869L657.6 3878.3L666.8 3881.1L675.9 3808.5L685 3817.8L694.2 3806.6L703.3 3806.6L712.4 3811.3L721.5 3792.7L730.7 3794.5L739.8 3797.3L748.9 3800.1L758.1 3789.9L767.2 3814.1L776.3 3783.3L785.5 3832.7L794.6 3783.3L803.7 3827.1L812.8 3797.3L822 3799.2L831.1 3802L840.2 3800.1L849.4 3797.3L858.5 3911.8L867.6 3836.4L876.8 3841.1L885.9 3930.4L895 3893.2L904.2 3774L913.3 3788L922.4 3748.9L931.5 3752.6L940.7 3760.1L949.8 3972.3L958.9 3918.3L968.1 3802L977.2 3841.1L986.3 3887.6L995.5 3828L1004.6 3829.9L1013.7 3836.4L1022.9 3834.5L1032 3859.7L1041.1 3848.5L1050.2 3871.8L1059.4 3860.6L1068.5 3856L1077.6 3817.8L1086.8 3874.6L1095.9 3839.2L1105 3843.9L1114.2 3871.8L1123.3 3902.5L1132.4 3924.8L1141.5 3935.1L1150.7 3939.7L1159.8 3893.2L1168.9 3879.2L1178.1 3842L1187.2 3910.9L1196.3 3874.6L1205.5 3837.3L1214.6 3890.4L1223.7 3878.3L1232.9 3869.9L1242 3910.9L1251.1 4002.1L1260.2 3771.2L1269.4 3969.5L1278.5 3934.1L1287.6 3921.1L1296.8 3811.3L1305.9 3855L1315 3772.2L1324.2 3915.5L1333.3 3883.9L1342.4 3820.6L1351.5 3789.9L1360.7 3743.3L1369.8 3948.1L1378.9 3950.9L1388.1 3869.9L1397.2 3822.4L1406.3 3806.6L1415.5 3804.8L1424.6 3780.5L1433.7 3978.8L1442.9 3907.2L1452 3882.9L1461.1 3862.5L1470.2 3953.7L1479.4 3943.5L1488.5 3904.4L1497.6 3834.5L1506.8 3818.7L1515.9 3802L1525 3811.3M1625.5 3897.8L1634.6 3874.6L1643.7 3927.6L1652.9 3934.1L1662 3999.3L1671.1 3896.9L1680.2 4036.5L1689.4 3915.5L1698.5 4115.7L1707.6 3883.9L1716.8 3871.8L1725.9 3851.3L1735 3862.5L1744.2 3882.9L1753.3 3850.4L1762.4 3815.9L1771.6 3789.9M1826.3 3920.2L1835.5 3887.6L1844.6 3808.5L1853.7 3876.4L1862.9 4059.8L1872 3794.5L1881.1 3934.1L1890.2 3925.8L1899.4 3949L1908.5 3949L1917.6 3972.3L1926.8 4023.5L1935.9 3919.3L1945 3968.6L1954.2 3973.2L1963.3 3947.2L1972.4 3958.4L1981.6 3995.6L1990.7 3990.9L1999.8 4015.1L2008.9 4015.1L2018.1 4015.1L2027.2 3998.4L2036.3 3981.6L2045.5 3989.1L2054.6 3984.4L2063.7 3984.4L2072.9 4024.4L2082 4049.6L2091.1 4044.9L2100.2 4056.1L2109.4 4077.5L2118.5 4063.5L2127.6 3911.8L2136.8 3965.8L2145.9 4010.5L2155 4010.5L2164.2 3779.6L2173.3 3977.9L2182.4 3949L2191.6 4114.7L2200.7 4047.7L2209.8 4003L2218.9 3998.4L2228.1 3944.4L2237.2 4037.5L2246.3 3953.7L2255.5 4037.5L2264.6 3900.6L2273.7 4037.5L2282.9 4098L2292 4043.1L2301.1 4182.7L2310.3 3984.4L2319.4 3905.3L2328.5 3911.8M2346.8 4042.1L2355.9 3937.9L2365 3833.6M2438.1 4041.2L2447.2 4008.6L2456.3 4535.5L2465.5 4035.6L2474.6 4091.5M2520.3 3950L2529.4 3950L2538.5 3975.1L2547.6 3996.5L2556.8 4064.5L2565.9 3868.1L2575 4033.8L2584.2 4017.9L2593.3 4033.8L2602.4 4058.9L2611.6 3963L2620.7 3899.7L2629.8 3903.4L2638.9 4078.4L2648.1 4093.3L2657.2 3994.7L2666.3 4066.3L2675.5 4286L2684.6 3826.2M2702.9 4031.9L2712 4031L2721.1 4073.8L2730.3 3973.2L2739.4 4111L2748.5 4004L2757.6 4089.6L2766.8 4400.5L2775.9 3921.1L2785 3885.7M2894.6 4114.7L2903.7 4107.3L2912.9 4004L2922 4103.6L2931.1 4187.4L2940.3 4171.5L2949.4 4164.1L2958.5 4130.6L2967.6 4189.2L2976.8 4101.7L2985.9 4157.6" fill="none" stroke="#000" stroke-width="8.3" stroke-linejoin="round"/>
<path d="M376.1 3712.4l15.2 15.2m0 -15.2l-15.2 15.2M385.2 3755.3l15.2 15.2m0 -15.2l-15.2 15.2M394.4 3749.7l15.2 15.2m0 -15.2l-15.2 15.2M403.5 3729.2l15.2 15.2m0 -15.2l-15.2 15.2M412.6 3759l15.2 15.2m0 -15.2l-15.2 15.2M421.8 3789.7l15.2 15.2m0 -15.2l-15.2 15.2M430.9 3733.9l15.2 15.2m0 -15.2l-15.2 15.2M440 3749.7l15.2 15.2m0 -15.2l-15.2 15.2M449.2 3736.6l15.2 15.2m0 -15.2l-15.2 15.2M458.3 3772.9l15.2 15.2m0 -15.2l-15.2 15.2M467.4 3805.5l15.2 15.2m0 -15.2l-15.2 15.2M476.6 3738.5l15.2 15.2m0 -15.2l-15.2 15.2M485.7 3708.7l15.2 15.2m0 -15.2l-15.2 15.2M494.8 3749.7l15.2 15.2m0 -15.2l-15.2 15.2M503.9 3761.8l15.2 15.2m0 -15.2l-15.2 15.2M513.1 3789.7l15.2 15.2m0 -15.2l-15.2 15.2M522.2 3763.6l15.2 15.2m0 -15.2l-15.2 15.2M531.3 3824.1l15.2 15.2m0 -15.2l-15.2 15.2M540.5 3885.6l15.2 15.2m0 -15.2l-15.2 15.2M549.6 3743.2l15.2 15.2m0 -15.2l-15.2 15.2M558.7 3814.8l15.2 15.2m0 -15.2l-15.2 15.2M567.9 3783.2l15.2 15.2m0 -15.2l-15.2 15.2M577 3789.7l15.2 15.2m0 -15.2l-15.2 15.2M586.1 3797.2l15.2 15.2m0 -15.2l-15.2 15.2M595.2 3786.9l15.2 15.2m0 -15.2l-15.2 15.2M604.4 3794.4l15.2 15.2m0 -15.2l-15.2 15.2M613.5 3815.8l15.2 15.2m0 -15.2l-15.2 15.2M622.6 3852.1l15.2 15.2m0 -15.2l-15.2 15.2M631.8 3862.3l15.2 15.2m0 -15.2l-15.2 15.2M640.9 3861.4l15.2 15.2m0 -15.2l-15.2 15.2M650 3870.7l15.2 15.2m0 -15.2l-15.2 15.2M659.2 3873.5l15.2 15.2m0 -15.2l-15.2 15.2M668.3 3800.9l15.2 15.2m0 -15.2l-15.2 15.2M677.4 3810.2l15.2 15.2m0 -15.2l-15.2 15.2M686.6 3799l15.2 15.2m0 -15.2l-15.2 15.2M695.7 3799l15.2 15.2m0 -15.2l-15.2 15.2M704.8 3803.7l15.2 15.2m0 -15.2l-15.2 15.2M713.9 3785.1l15.2 15.2m0 -15.2l-15.2 15.2M723.1 3786.9l15.2 15.2m0 -15.2l-15.2 15.2M732.2 3789.7l15.2 15.2m0 -15.2l-15.2 15.2M741.3 3792.5l15.2 15.2m0 -15.2l-15.2 15.2M750.5 3782.3l15.2 15.2m0 -15.2l-15.2 15.2M759.6 3806.5l15.2 15.2m0 -15.2l-15.2 15.2M768.7 3775.7l15.2 15.2m0 -15.2l-15.2 15.2M777.9 3825.1l15.2 15.2m0 -15.2l-15.2 15.2M787 3775.7l15.2 15.2m0 -15.2l-15.2 15.2M796.1 3819.5l15.2 15.2m0 -15.2l-15.2 15.2M805.2 3789.7l15.2 15.2m0 -15.2l-15.2 15.2M814.4 3791.6l15.2 15.2m0 -15.2l-15.2 15.2M823.5 3794.4l15.2 15.2m0 -15.2l-15.2 15.2M832.6 3792.5l15.2 15.2m0 -15.2l-15.2 15.2M841.8 3789.7l15.2 15.2m0 -15.2l-15.2 15.2M850.9 3904.2l15.2 15.2m0 -15.2l-15.2 15.2M860 3828.8l15.2 15.2m0 -15.2l-15.2 15.2M869.2 3833.5l15.2 15.2m0 -15.2l-15.2 15.2M878.3 3922.8l15.2 15.2m0 -15.2l-15.2 15.2M887.4 3885.6l15.2 15.2m0 -15.2l-15.2 15.2M896.6 3766.4l15.2 15.2m0 -15.2l-15.2 15.2M905.7 3780.4l15.2 15.2m0 -15.2l-15.2 15.2M914.8 3741.3l15.2 15.2m0 -15.2l-15.2 15.2M923.9 3745l15.2 15.2m0 -15.2l-15.2 15.2M933.1 3752.5l15.2 15.2m0 -15.2l-15.2 15.2M942.2 3964.7l15.2 15.2m0 -15.2l-15.2 15.2M951.3 3910.7l15.2 15.2m0 -15.2l-15.2 15.2M960.5 3794.4l15.2 15.2m0 -15.2l-15.2 15.2M969.6 3833.5l15.2 15.2m0 -15.2l-15.2 15.2M978.7 3880l15.2 15.2m0 -15.2l-15.2 15.2M987.9 3820.4l15.2 15.2m0 -15.2l-15.2 15.2M997 3822.3l15.2 15.2m0 -15.2l-15.2 15.2M1006.1 3828.8l15.2 15.2m0 -15.2l-15.2 15.2M1015.3 3826.9l15.2 15.2m0 -15.2l-15.2 15.2M1024.4 3852.1l15.2 15.2m0 -15.2l-15.2 15.2M1033.5 3840.9l15.2 15.2m0 -15.2l-15.2 15.2M1042.6 3864.2l15.2 15.2m0 -15.2l-15.2 15.2M1051.8 3853l15.2 15.2m0 -15.2l-15.2 15.2M1060.9 3848.4l15.2 15.2m0 -15.2l-15.2 15.2M1070 3810.2l15.2 15.2m0 -15.2l-15.2 15.2M1079.2 3867l15.2 15.2m0 -15.2l-15.2 15.2M1088.3 3831.6l15.2 15.2m0 -15.2l-15.2 15.2M1097.4 3836.3l15.2 15.2m0 -15.2l-15.2 15.2M1106.6 3864.2l15.2 15.2m0 -15.2l-15.2 15.2M1115.7 3894.9l15.2 15.2m0 -15.2l-15.2 15.2M1124.8 3917.2l15.2 15.2m0 -15.2l-15.2 15.2M1133.9 3927.5l15.2 15.2m0 -15.2l-15.2 15.2M1143.1 3932.1l15.2 15.2m0 -15.2l-15.2 15.2M1152.2 3885.6l15.2 15.2m0 -15.2l-15.2 15.2M1161.3 3871.6l15.2 15.2m0 -15.2l-15.2 15.2M1170.5 3834.4l15.2 15.2m0 -15.2l-15.2 15.2M1179.6 3903.3l15.2 15.2m0 -15.2l-15.2 15.2M1188.7 3867l15.2 15.2m0 -15.2l-15.2 15.2M1197.9 3829.7l15.2 15.2m0 -15.2l-15.2 15.2M1207 3882.8l15.2 15.2m0 -15.2l-15.2 15.2M1216.1 3870.7l15.2 15.2m0 -15.2l-15.2 15.2M1225.3 3862.3l15.2 15.2m0 -15.2l-15.2 15.2M1234.4 3903.3l15.2 15.2m0 -15.2l-15.2 15.2M1243.5 3994.5l15.2 15.2m0 -15.2l-15.2 15.2M1252.6 3763.6l15.2 15.2m0 -15.2l-15.2 15.2M1261.8 3961.9l15.2 15.2m0 -15.2l-15.2 15.2M1270.9 3926.5l15.2 15.2m0 -15.2l-15.2 15.2M1280 3913.5l15.2 15.2m0 -15.2l-15.2 15.2M1289.2 3803.7l15.2 15.2m0 -15.2l-15.2 15.2M1298.3 3847.4l15.2 15.2m0 -15.2l-15.2 15.2M1307.4 3764.6l15.2 15.2m0 -15.2l-15.2 15.2M1316.6 3907.9l15.2 15.2m0 -15.2l-15.2 15.2M1325.7 3876.3l15.2 15.2m0 -15.2l-15.2 15.2M1334.8 3813l15.2 15.2m0 -15.2l-15.2 15.2M1343.9 3782.3l15.2 15.2m0 -15.2l-15.2 15.2M1353.1 3735.7l15.2 15.2m0 -15.2l-15.2 15.2M1362.2 3940.5l15.2 15.2m0 -15.2l-15.2 15.2M1371.3 3943.3l15.2 15.2m0 -15.2l-15.2 15.2M1380.5 3862.3l15.2 15.2m0 -15.2l-15.2 15.2M1389.6 3814.8l15.2 15.2m0 -15.2l-15.2 15.2M1398.7 3799l15.2 15.2m0 -15.2l-15.2 15.2M1407.9 3797.2l15.2 15.2m0 -15.2l-15.2 15.2M1417 3772.9l15.2 15.2m0 -15.2l-15.2 15.2M1426.1 3971.2l15.2 15.2m0 -15.2l-15.2 15.2M1435.3 3899.6l15.2 15.2m0 -15.2l-15.2 15.2M1444.4 3875.3l15.2 15.2m0 -15.2l-15.2 15.2M1453.5 3854.9l15.2 15.2m0 -15.2l-15.2 15.2M1462.6 3946.1l15.2 15.2m0 -15.2l-15.2 15.2M1471.8 3935.9l15.2 15.2m0 -15.2l-15.2 15.2M1480.9 3896.8l15.2 15.2m0 -15.2l-15.2 15.2M1490 3826.9l15.2 15.2m0 -15.2l-15.2 15.2M1499.2 3811.1l15.2 15.2m0 -15.2l-15.2 15.2M1508.3 3794.4l15.2 15.2m0 -15.2l-15.2 15.2M1517.4 3803.7l15.2 15.2m0 -15.2l-15.2 15.2M1617.9 3890.2l15.2 15.2m0 -15.2l-15.2 15.2M1627 3867l15.2 15.2m0 -15.2l-15.2 15.2M1636.1 3920l15.2 15.2m0 -15.2l-15.2 15.2M1645.3 3926.5l15.2 15.2m0 -15.2l-15.2 15.2M1654.4 3991.7l15.2 15.2m0 -15.2l-15.2 15.2M1663.5 3889.3l15.2 15.2m0 -15.2l-15.2 15.2M1672.6 4028.9l15.2 15.2m0 -15.2l-15.2 15.2M1681.8 3907.9l15.2 15.2m0 -15.2l-15.2 15.2M1690.9 4108.1l15.2 15.2m0 -15.2l-15.2 15.2M1700 3876.3l15.2 15.2m0 -15.2l-15.2 15.2M1709.2 3864.2l15.2 15.2m0 -15.2l-15.2 15.2M1718.3 3843.7l15.2 15.2m0 -15.2l-15.2 15.2M1727.4 3854.9l15.2 15.2m0 -15.2l-15.2 15.2M1736.6 3875.3l15.2 15.2m0 -15.2l-15.2 15.2M1745.7 3842.8l15.2 15.2m0 -15.2l-15.2 15.2M1754.8 3808.3l15.2 15.2m0 -15.2l-15.2 15.2M1764 3782.3l15.2 15.2m0 -15.2l-15.2 15.2M1818.7 3912.6l15.2 15.2m0 -15.2l-15.2 15.2M1827.9 3880l15.2 15.2m0 -15.2l-15.2 15.2M1837 3800.9l15.2 15.2m0 -15.2l-15.2 15.2M1846.1 3868.8l15.2 15.2m0 -15.2l-15.2 15.2M1855.3 4052.2l15.2 15.2m0 -15.2l-15.2 15.2M1864.4 3786.9l15.2 15.2m0 -15.2l-15.2 15.2M1873.5 3926.5l15.2 15.2m0 -15.2l-15.2 15.2M1882.6 3918.2l15.2 15.2m0 -15.2l-15.2 15.2M1891.8 3941.4l15.2 15.2m0 -15.2l-15.2 15.2M1900.9 3941.4l15.2 15.2m0 -15.2l-15.2 15.2M1910 3964.7l15.2 15.2m0 -15.2l-15.2 15.2M1919.2 4015.9l15.2 15.2m0 -15.2l-15.2 15.2M1928.3 3911.7l15.2 15.2m0 -15.2l-15.2 15.2M1937.4 3961l15.2 15.2m0 -15.2l-15.2 15.2M1946.6 3965.6l15.2 15.2m0 -15.2l-15.2 15.2M1955.7 3939.6l15.2 15.2m0 -15.2l-15.2 15.2M1964.8 3950.8l15.2 15.2m0 -15.2l-15.2 15.2M1974 3988l15.2 15.2m0 -15.2l-15.2 15.2M1983.1 3983.3l15.2 15.2m0 -15.2l-15.2 15.2M1992.2 4007.5l15.2 15.2m0 -15.2l-15.2 15.2M2001.3 4007.5l15.2 15.2m0 -15.2l-15.2 15.2M2010.5 4007.5l15.2 15.2m0 -15.2l-15.2 15.2M2019.6 3990.8l15.2 15.2m0 -15.2l-15.2 15.2M2028.7 3974l15.2 15.2m0 -15.2l-15.2 15.2M2037.9 3981.5l15.2 15.2m0 -15.2l-15.2 15.2M2047 3976.8l15.2 15.2m0 -15.2l-15.2 15.2M2056.1 3976.8l15.2 15.2m0 -15.2l-15.2 15.2M2065.3 4016.8l15.2 15.2m0 -15.2l-15.2 15.2M2074.4 4042l15.2 15.2m0 -15.2l-15.2 15.2M2083.5 4037.3l15.2 15.2m0 -15.2l-15.2 15.2M2092.6 4048.5l15.2 15.2m0 -15.2l-15.2 15.2M2101.8 4069.9l15.2 15.2m0 -15.2l-15.2 15.2M2110.9 4055.9l15.2 15.2m0 -15.2l-15.2 15.2M2120 3904.2l15.2 15.2m0 -15.2l-15.2 15.2M2129.2 3958.2l15.2 15.2m0 -15.2l-15.2 15.2M2138.3 4002.9l15.2 15.2m0 -15.2l-15.2 15.2M2147.4 4002.9l15.2 15.2m0 -15.2l-15.2 15.2M2156.6 3772l15.2 15.2m0 -15.2l-15.2 15.2M2165.7 3970.3l15.2 15.2m0 -15.2l-15.2 15.2M2174.8 3941.4l15.2 15.2m0 -15.2l-15.2 15.2M2184 4107.1l15.2 15.2m0 -15.2l-15.2 15.2M2193.1 4040.1l15.2 15.2m0 -15.2l-15.2 15.2M2202.2 3995.4l15.2 15.2m0 -15.2l-15.2 15.2M2211.3 3990.8l15.2 15.2m0 -15.2l-15.2 15.2M2220.5 3936.8l15.2 15.2m0 -15.2l-15.2 15.2M2229.6 4029.9l15.2 15.2m0 -15.2l-15.2 15.2M2238.7 3946.1l15.2 15.2m0 -15.2l-15.2 15.2M2247.9 4029.9l15.2 15.2m0 -15.2l-15.2 15.2M2257 3893l15.2 15.2m0 -15.2l-15.2 15.2M2266.1 4029.9l15.2 15.2m0 -15.2l-15.2 15.2M2275.3 4090.4l15.2 15.2m0 -15.2l-15.2 15.2M2284.4 4035.5l15.2 15.2m0 -15.2l-15.2 15.2M2293.5 4175.1l15.2 15.2m0 -15.2l-15.2 15.2M2302.7 3976.8l15.2 15.2m0 -15.2l-15.2 15.2M2311.8 3897.7l15.2 15.2m0 -15.2l-15.2 15.2M2320.9 3904.2l15.2 15.2m0 -15.2l-15.2 15.2M2339.2 4034.5l15.2 15.2m0 -15.2l-15.2 15.2M2348.3 3930.3l15.2 15.2m0 -15.2l-15.2 15.2M2357.4 3826l15.2 15.2m0 -15.2l-15.2 15.2M2430.5 4033.6l15.2 15.2m0 -15.2l-15.2 15.2M2439.6 4001l15.2 15.2m0 -15.2l-15.2 15.2M2448.7 4527.9l15.2 15.2m0 -15.2l-15.2 15.2M2457.9 4028l15.2 15.2m0 -15.2l-15.2 15.2M2467 4083.9l15.2 15.2m0 -15.2l-15.2 15.2M2512.7 3942.4l15.2 15.2m0 -15.2l-15.2 15.2M2521.8 3942.4l15.2 15.2m0 -15.2l-15.2 15.2M2530.9 3967.5l15.2 15.2m0 -15.2l-15.2 15.2M2540 3988.9l15.2 15.2m0 -15.2l-15.2 15.2M2549.2 4056.9l15.2 15.2m0 -15.2l-15.2 15.2M2558.3 3860.5l15.2 15.2m0 -15.2l-15.2 15.2M2567.4 4026.2l15.2 15.2m0 -15.2l-15.2 15.2M2576.6 4010.3l15.2 15.2m0 -15.2l-15.2 15.2M2585.7 4026.2l15.2 15.2m0 -15.2l-15.2 15.2M2594.8 4051.3l15.2 15.2m0 -15.2l-15.2 15.2M2604 3955.4l15.2 15.2m0 -15.2l-15.2 15.2M2613.1 3892.1l15.2 15.2m0 -15.2l-15.2 15.2M2622.2 3895.8l15.2 15.2m0 -15.2l-15.2 15.2M2631.3 4070.8l15.2 15.2m0 -15.2l-15.2 15.2M2640.5 4085.7l15.2 15.2m0 -15.2l-15.2 15.2M2649.6 3987.1l15.2 15.2m0 -15.2l-15.2 15.2M2658.7 4058.7l15.2 15.2m0 -15.2l-15.2 15.2M2667.9 4278.4l15.2 15.2m0 -15.2l-15.2 15.2M2677 3818.6l15.2 15.2m0 -15.2l-15.2 15.2M2695.3 4024.3l15.2 15.2m0 -15.2l-15.2 15.2M2704.4 4023.4l15.2 15.2m0 -15.2l-15.2 15.2M2713.5 4066.2l15.2 15.2m0 -15.2l-15.2 15.2M2722.7 3965.6l15.2 15.2m0 -15.2l-15.2 15.2M2731.8 4103.4l15.2 15.2m0 -15.2l-15.2 15.2M2740.9 3996.4l15.2 15.2m0 -15.2l-15.2 15.2M2750 4082l15.2 15.2m0 -15.2l-15.2 15.2M2759.2 4392.9l15.2 15.2m0 -15.2l-15.2 15.2M2768.3 3913.5l15.2 15.2m0 -15.2l-15.2 15.2M2777.4 3878.1l15.2 15.2m0 -15.2l-15.2 15.2M2887 4107.1l15.2 15.2m0 -15.2l-15.2 15.2M2896.1 4099.7l15.2 15.2m0 -15.2l-15.2 15.2M2905.3 3996.4l15.2 15.2m0 -15.2l-15.2 15.2M2914.4 4096l15.2 15.2m0 -15.2l-15.2 15.2M2923.5 4179.8l15.2 15.2m0 -15.2l-15.2 15.2M2932.7 4163.9l15.2 15.2m0 -15.2l-15.2 15.2M2941.8 4156.5l15.2 15.2m0 -15.2l-15.2 15.2M2950.9 4123l15.2 15.2m0 -15.2l-15.2 15.2M2960 4181.6l15.2 15.2m0 -15.2l-15.2 15.2M2969.2 4094.1l15.2 15.2m0 -15.2l-15.2 15.2M2978.3 4150l15.2 15.2m0 -15.2l-15.2 15.2" fill="none" stroke="#000" stroke-width="8.3"/>
<path d="M1579.8 3751.3l6 6l-6 6l-6 -6zM2812.4 4232.6l6 6l-6 6l-6 -6z" fill="#000"/>
<circle cx="986.1" cy="3717.2" r="24.3" fill="#808080" fill-opacity="0.5" stroke="#808080" stroke-width="5.6"/>
<circle cx="1700.3" cy="3819.6" r="24.3" fill="#808080" fill-opacity="0.5" stroke="#808080" stroke-width="5.6"/>
<circle cx="2301.2" cy="3949.7" r="24.3" fill="#808080" fill-opacity="0.5" stroke="#808080" stroke-width="5.6"/>
<circle cx="2958.9" cy="4235.8" r="24.3" fill="#808080" fill-opacity="0.5" stroke="#808080" stroke-width="5.6"/>
<path d="M1105.9 4456.1H1296.2" stroke="#000" stroke-width="8.3"/>
<path d="M1193.5 4448.5l15.2 15.2m0 -15.2l-15.2 15.2" fill="none" stroke="#000" stroke-width="8.3"/>
<circle cx="1197.7" cy="4509.4" r="19.4" fill="#808080" fill-opacity="0.5" stroke="#808080" stroke-width="5.3"/>
<text font-size="39" fill="#000" x="1315.5" y="4470.2">TROPOE LTS (K)</text>
<text font-size="39" fill="#000" x="1313" y="4523.5">Sonde LTS (K)</text>
<g font-size="44.3" fill="#0072bd" text-anchor="end">
<text x="349.2" y="4522.26">7</text>
<text x="349.2" y="4429.17">8</text>
<text x="349.2" y="4336.08">9</text>
<text x="349.2" y="4242.99">10</text>
<text x="349.2" y="4149.9">11</text>
<text x="349.2" y="4056.81">12</text>
<text x="349.2" y="3963.71">13</text>
<text x="349.2" y="3870.62">14</text>
<text x="349.2" y="3777.53">15</text>
</g>
<g font-size="44.3" fill="#262626" text-anchor="middle">
<text x="372.9" y="4641.9">0</text>
<text x="921.02" y="4641.9">5</text>
<text x="1469.15" y="4641.9">10</text>
<text x="2017.28" y="4641.9">15</text>
<text x="2565.4" y="4641.9">20</text>
</g>
<text font-size="44.7" fill="#262626" text-anchor="middle" x="1689.9" y="4705.8">UTC hours on 20240516</text>
<text font-size="44.4" fill="#0072bd" text-anchor="middle" transform="translate(263.2,4128.75) rotate(-90)">Altitude, km AMSL</text>
</g>
</svg></body></html>
